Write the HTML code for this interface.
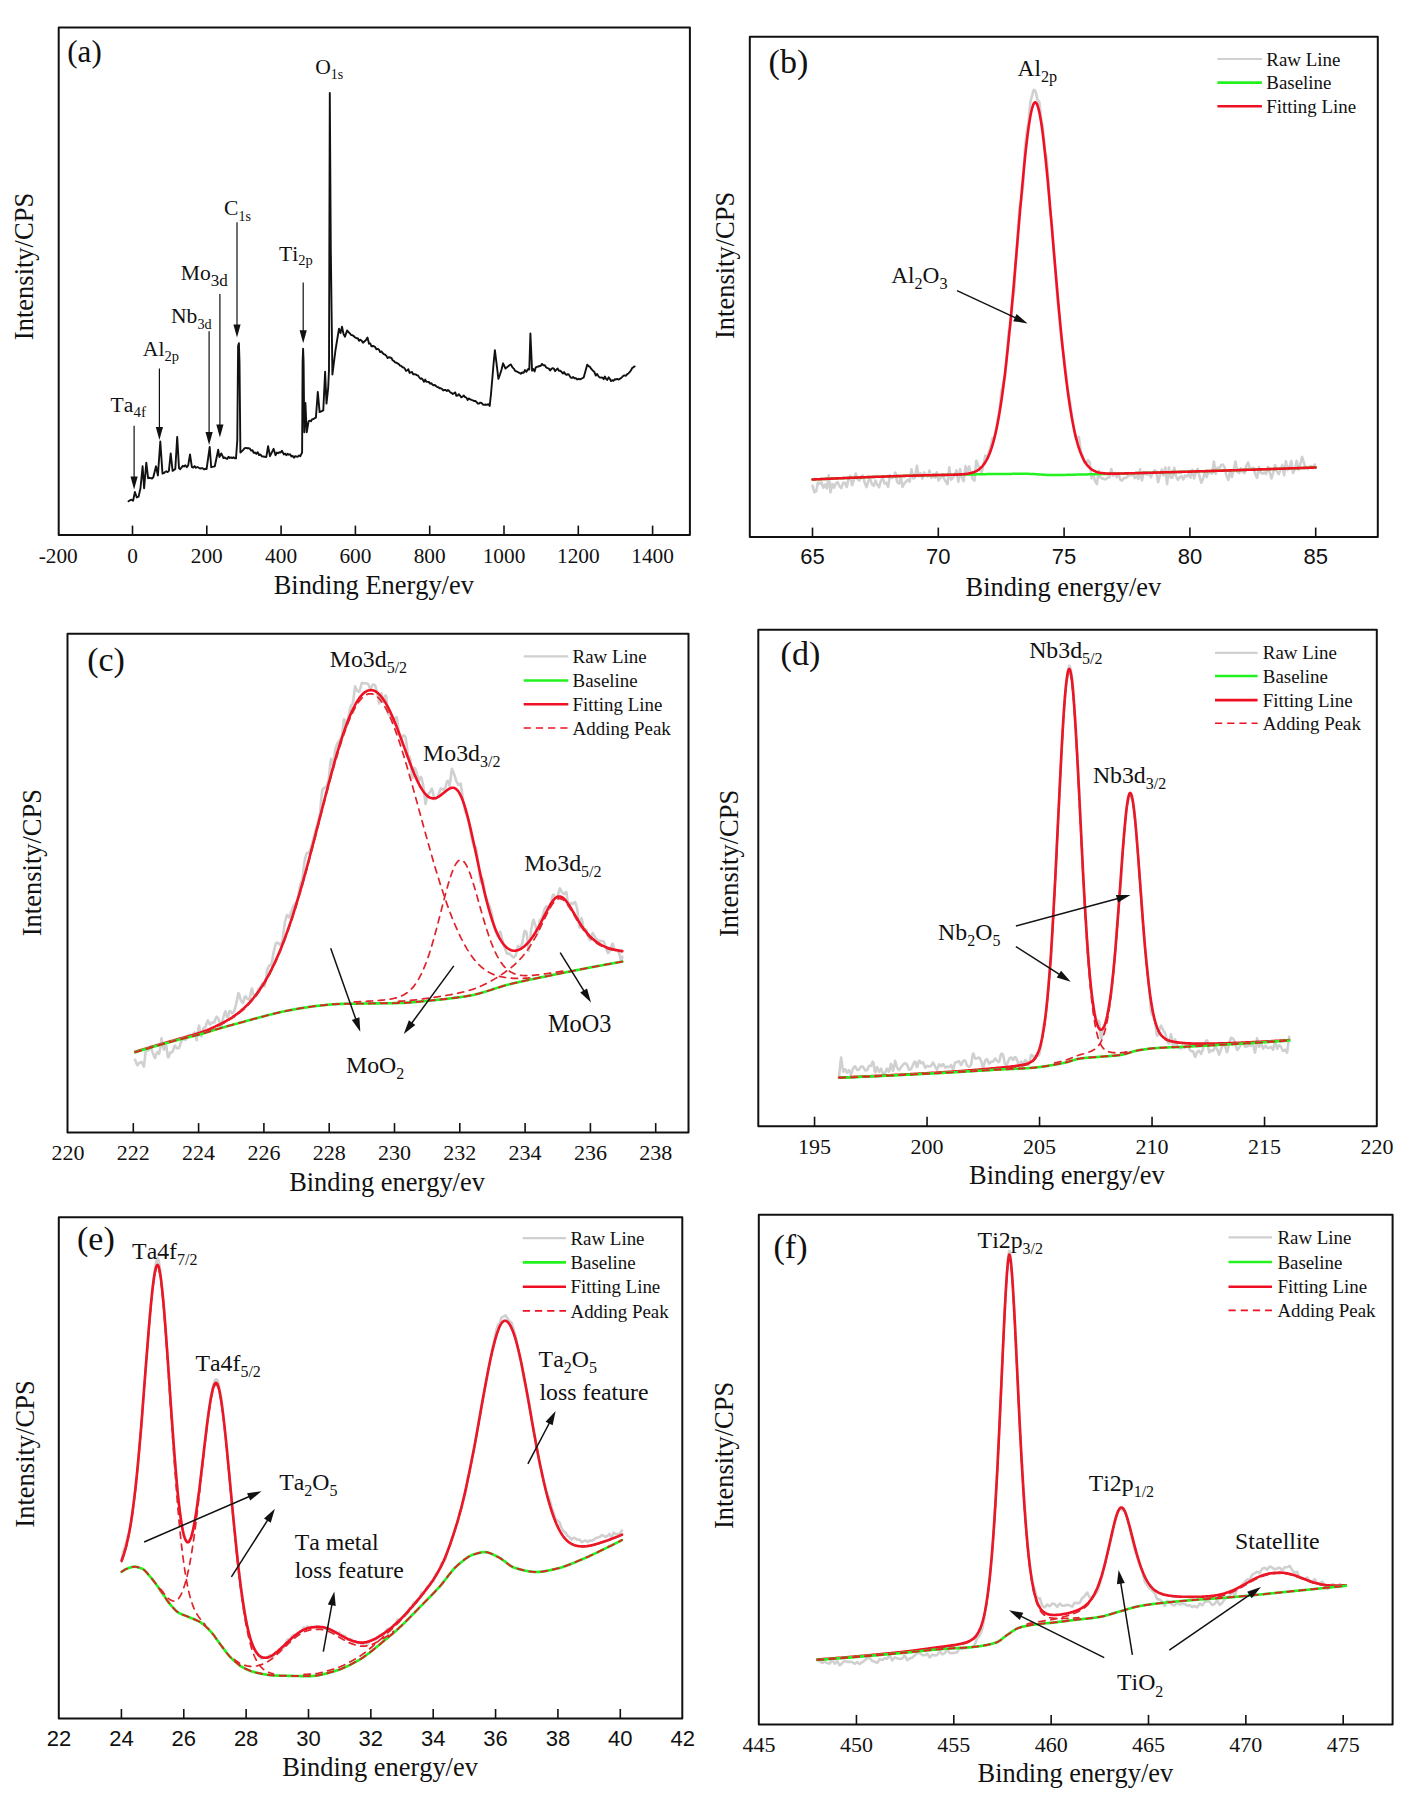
<!DOCTYPE html>
<html><head><meta charset="utf-8"><title>XPS spectra</title>
<style>html,body{margin:0;padding:0;background:#fff;}svg{display:block;} text{font-kerning:none;}</style>
</head><body>
<svg width="1415" height="1803" viewBox="0 0 1415 1803">
<rect width="1415" height="1803" fill="#fff"/>
<rect x="58.7" y="27.4" width="631.2" height="507.7" fill="none" stroke="#111" stroke-width="2.0" stroke-linejoin="round"/>
<line x1="132.5" y1="535.1" x2="132.5" y2="525.6" stroke="#111" stroke-width="1.6"/>
<line x1="206.8" y1="535.1" x2="206.8" y2="525.6" stroke="#111" stroke-width="1.6"/>
<line x1="281.1" y1="535.1" x2="281.1" y2="525.6" stroke="#111" stroke-width="1.6"/>
<line x1="355.4" y1="535.1" x2="355.4" y2="525.6" stroke="#111" stroke-width="1.6"/>
<line x1="429.7" y1="535.1" x2="429.7" y2="525.6" stroke="#111" stroke-width="1.6"/>
<line x1="504" y1="535.1" x2="504" y2="525.6" stroke="#111" stroke-width="1.6"/>
<line x1="578.3" y1="535.1" x2="578.3" y2="525.6" stroke="#111" stroke-width="1.6"/>
<line x1="652.6" y1="535.1" x2="652.6" y2="525.6" stroke="#111" stroke-width="1.6"/>
<text x="58.2" y="562.8" font-family="'Liberation Serif', serif" font-size="21.3" fill="#111" text-anchor="middle" >-200</text>
<text x="132.5" y="562.8" font-family="'Liberation Serif', serif" font-size="21.3" fill="#111" text-anchor="middle" >0</text>
<text x="206.8" y="562.8" font-family="'Liberation Serif', serif" font-size="21.3" fill="#111" text-anchor="middle" >200</text>
<text x="281.1" y="562.8" font-family="'Liberation Serif', serif" font-size="21.3" fill="#111" text-anchor="middle" >400</text>
<text x="355.4" y="562.8" font-family="'Liberation Serif', serif" font-size="21.3" fill="#111" text-anchor="middle" >600</text>
<text x="429.7" y="562.8" font-family="'Liberation Serif', serif" font-size="21.3" fill="#111" text-anchor="middle" >800</text>
<text x="504" y="562.8" font-family="'Liberation Serif', serif" font-size="21.3" fill="#111" text-anchor="middle" >1000</text>
<text x="578.3" y="562.8" font-family="'Liberation Serif', serif" font-size="21.3" fill="#111" text-anchor="middle" >1200</text>
<text x="652.6" y="562.8" font-family="'Liberation Serif', serif" font-size="21.3" fill="#111" text-anchor="middle" >1400</text>
<text x="0" y="0" font-family="'Liberation Serif', serif" font-size="26.5" fill="#111" text-anchor="middle" transform="translate(32.6,266.5) rotate(-90)">Intensity/CPS</text>
<text x="373.8" y="593.6" font-family="'Liberation Serif', serif" font-size="26.4" fill="#111" text-anchor="middle" >Binding Energy/ev</text>
<text x="67.3" y="62.1" font-family="'Liberation Serif', serif" font-size="31" fill="#111" text-anchor="start" >(a)</text>
<path d="M128.5,501.2 L130,500.3 L131.6,499.7 L133.1,500.8 L134.9,492 L136.8,497.5 L138.6,496.6 L140.5,488 L142.6,466.3 L144.1,488.3 L146.3,462.6 L148.1,478.2 L149.4,477.8 L150.7,478.1 L152,478.5 L153.3,477.3 L156,466.3 L157.9,475.5 L160.3,441.5 L162.5,473.6 L163.8,473.2 L165.1,472 L166.3,471.3 L167.6,472.1 L168.9,470.9 L170.7,453.4 L172.6,470.9 L175.3,469 L177.2,436.9 L179,468.1 L180.2,469.2 L181.5,467.5 L182.8,465.8 L184,466.5 L185.4,465.3 L186.8,467.2 L188.2,465.4 L190,454.4 L191.9,467.2 L193.2,467.6 L194.6,466.1 L195.9,467.8 L197.3,467 L198.7,467.7 L200,468.5 L201.3,468.2 L202.6,468.1 L204,469.3 L205.3,468.8 L206.6,469 L209.7,447 L211.2,467.2 L214.8,466.3 L218.2,449.8 L219.4,457.1 L221.3,453.4 L223.5,458 L224.8,457.5 L226,458.4 L227.2,458.9 L228.5,456.7 L229.8,458 L231,457.4 L232.2,458.1 L233.5,457.2 L234.8,458.4 L236,458.4 L237.3,440 L238.1,346 L238.9,343.2 L239.5,362 L240.4,452.5 L241.8,451.3 L243.2,449.9 L244.7,448.1 L246.1,447.9 L247.4,448.2 L248.6,448.2 L249.9,448.7 L251.2,450.7 L252.5,450.2 L253.7,452.9 L255,452.5 L256.3,453.9 L257.7,452.2 L259,455 L260.4,454.5 L261.7,456.2 L263.2,456.5 L264.8,456.8 L266.3,457.1 L268.1,446.1 L270,456.2 L273.6,448.8 L275.5,455.3 L276.8,452.6 L278.1,453.2 L279.3,452.3 L280.6,452.5 L281.9,450.7 L283.8,454.4 L285.1,453.5 L286.3,455.3 L287.6,453.8 L288.9,454.7 L290.1,454.3 L291.4,456.5 L292.7,455.9 L294,457.7 L295.2,456.2 L296.5,456.5 L297.8,456.7 L299,455.5 L300.3,456.2 L302.1,452.5 L302.6,362 L303.1,348.7 L303.6,362 L304.3,432.3 L305.4,402.9 L306.7,432.3 L308.6,421.3 L309.8,420.6 L311,421.3 L312.2,419.1 L313.5,419 L314.7,418.2 L315.9,417.6 L317.8,391.9 L319.6,412.1 L323.3,410.3 L325.1,371.7 L326.5,403.6 L328.2,387.6 L329,369.6 L329.8,93 L330.8,250 L332.4,374.6 L335.5,350 L339,328.7 L340.5,333 L342,326.7 L343.5,334 L345,336.7 L347,330.5 L350,333.7 L351.3,335.1 L352.6,335.2 L353.9,336.3 L355.2,337.5 L356.5,338.3 L357.8,338.3 L359.1,340.8 L360.4,339.7 L361.7,340.7 L363,342.7 L366,340 L367.5,337.5 L369,343.7 L370.2,343.4 L371.5,346.3 L372.7,346 L374,346.3 L375.2,347.1 L376.4,349.3 L377.7,348.9 L378.9,349.6 L380.2,352.1 L381.4,351.4 L382.6,353 L383.9,354.2 L385.1,354.7 L386.4,355.9 L387.6,358 L388.8,357.3 L390.1,357.5 L391.3,357.8 L392.6,360.2 L393.8,360.9 L395,362.3 L396.3,362.6 L397.5,363.4 L398.8,364.1 L400,365.6 L401.2,365.9 L402.4,367.2 L403.6,367.4 L404.8,368.6 L406,370.9 L407.2,370.4 L408.4,369.2 L409.6,372.9 L410.8,372.4 L412,372 L413.2,374.3 L414.4,374.3 L415.6,374.4 L416.8,375.1 L418,375.5 L419.2,377.2 L420.4,378.8 L421.6,378.3 L422.8,379.7 L424,381.7 L425.2,379.6 L426.4,381.7 L427.6,381.9 L428.8,381.9 L430,383.6 L431.2,383.2 L432.4,384.5 L433.6,385.4 L434.8,385 L436,386 L437.2,387.1 L438.4,387.2 L439.6,388.2 L440.8,388.3 L442,388.8 L443.2,390.5 L444.4,389.9 L445.6,390 L446.8,391 L448,390 L449.2,391 L450.4,392.5 L451.6,392.8 L452.8,394.1 L454,393.2 L455.2,392.4 L456.4,395.9 L457.6,395.6 L458.8,394.2 L460,395.6 L461.3,397.3 L462.6,396.6 L463.8,395.5 L465.1,397.2 L466.4,397.6 L467.7,400 L469,398.4 L470.3,399.4 L471.5,399.9 L472.8,400.3 L474.1,401.1 L475.3,400.8 L476.6,402.2 L477.8,403.5 L479.1,403.6 L480.3,402.6 L481.5,402.9 L482.8,404.5 L484,404.9 L485.4,404.5 L486.9,404.9 L488.3,404.2 L489.7,406 L491,393.8 L492.3,378.9 L493.6,363.3 L494.9,350.2 L498.4,378.9 L500,374.5 L501.5,369.7 L503.1,363.3 L505.5,368.6 L509.5,365.3 L510.9,364.4 L512.3,367.2 L513.7,368.6 L515.1,370.8 L516.5,371.4 L517.9,372.1 L519.4,372.8 L520.8,373.8 L522.2,372.5 L523.6,372.9 L525,370 L526.4,371.8 L527.9,369.2 L529.3,369.5 L530.4,333.5 L532.1,370.7 L533.3,369 L534.6,371.4 L535.8,367.3 L537,366.8 L538.3,366.5 L539.5,366 L540.8,365.7 L542,363.9 L543.4,365.3 L544.8,365.2 L546.2,367.5 L547.6,368.1 L548.9,368.6 L550.1,370.4 L551.4,369 L552.6,368.1 L553.9,368.6 L555.1,371.1 L556.4,369.6 L557.6,368.5 L558.9,370.7 L560.2,370.8 L561.5,371.8 L562.8,373.5 L564.1,372.1 L565.4,374.2 L566.6,374.9 L567.9,374.1 L569.2,375.1 L570.5,377.4 L571.8,378 L573.1,377 L574.5,378.2 L575.9,378.3 L577.3,379.5 L578.7,378.8 L580.1,379.4 L583.7,377.5 L587.2,364.7 L588.6,366.1 L590,366.9 L591.5,369.2 L592.9,370.7 L594.3,371.8 L595.7,375.5 L597.1,373.9 L598.5,376.4 L599.9,377.6 L601.3,377.5 L602.5,377.7 L603.7,379.2 L604.9,376.5 L606.1,378.9 L607.3,379.9 L608.6,377.3 L609.8,378.8 L611,381.1 L612.2,380.2 L613.4,380.8 L614.7,379.3 L616,379.5 L617.2,378.9 L618.5,379.6 L619.8,378.9 L621.1,378 L622.3,376.9 L623.5,375.7 L624.7,375.4 L626,375.8 L627.2,374.1 L628.4,373.5 L629.6,372.1 L630.9,370.5 L632.1,368.1 L633.4,367.2 L634.6,366.4" fill="none" stroke="#111" stroke-width="1.9" stroke-linejoin="round" stroke-linecap="round" />
<text x="315.2" y="73.5" font-family="'Liberation Serif', serif" fill="#111" text-anchor="start"><tspan font-size="21.6" dy="0">O</tspan><tspan font-size="14" dy="5.8">1s</tspan></text>
<text x="224" y="215" font-family="'Liberation Serif', serif" fill="#111" text-anchor="start"><tspan font-size="21.6" dy="0">C</tspan><tspan font-size="14" dy="5.7">1s</tspan></text>
<text x="279" y="260.8" font-family="'Liberation Serif', serif" fill="#111" text-anchor="start"><tspan font-size="21.6" dy="0">Ti</tspan><tspan font-size="14.5" dy="4.6">2p</tspan></text>
<text x="180.8" y="279.5" font-family="'Liberation Serif', serif" fill="#111" text-anchor="start"><tspan font-size="21.6" dy="0">Mo</tspan><tspan font-size="17" dy="6.7">3d</tspan></text>
<text x="171" y="322.9" font-family="'Liberation Serif', serif" fill="#111" text-anchor="start"><tspan font-size="21.6" dy="0">Nb</tspan><tspan font-size="14.2" dy="5.8">3d</tspan></text>
<text x="142.8" y="356.2" font-family="'Liberation Serif', serif" fill="#111" text-anchor="start"><tspan font-size="21.6" dy="0">Al</tspan><tspan font-size="14.5" dy="5.1">2p</tspan></text>
<text x="110.6" y="412.2" font-family="'Liberation Serif', serif" fill="#111" text-anchor="start"><tspan font-size="21.6" dy="0">Ta</tspan><tspan font-size="15" dy="5">4f</tspan></text>
<line x1="134.1" y1="425.7" x2="134.1" y2="478.6" stroke="#111" stroke-width="1.2"/>
<path d="M134.1,489.6 L130.5,476.6 L137.7,476.6 Z" fill="#111"/>
<line x1="159.4" y1="368.6" x2="159.4" y2="428.9" stroke="#111" stroke-width="1.2"/>
<path d="M159.4,439.9 L155.8,426.9 L163,426.9 Z" fill="#111"/>
<line x1="209.1" y1="331.3" x2="209.1" y2="433.9" stroke="#111" stroke-width="1.2"/>
<path d="M209.1,444.9 L205.5,431.9 L212.7,431.9 Z" fill="#111"/>
<line x1="219.9" y1="294" x2="219.9" y2="426.6" stroke="#111" stroke-width="1.2"/>
<path d="M219.9,437.6 L216.3,424.6 L223.5,424.6 Z" fill="#111"/>
<line x1="237" y1="222.3" x2="237" y2="326.4" stroke="#111" stroke-width="1.2"/>
<path d="M237,337.4 L233.4,324.4 L240.6,324.4 Z" fill="#111"/>
<line x1="303.2" y1="282.6" x2="303.2" y2="332.2" stroke="#111" stroke-width="1.2"/>
<path d="M303.2,343.2 L299.6,330.2 L306.8,330.2 Z" fill="#111"/>
<rect x="749.8" y="36.8" width="628" height="500.3" fill="none" stroke="#111" stroke-width="2.0" stroke-linejoin="round"/>
<line x1="812.5" y1="537.1" x2="812.5" y2="527.6" stroke="#111" stroke-width="1.6"/>
<line x1="938.3" y1="537.1" x2="938.3" y2="527.6" stroke="#111" stroke-width="1.6"/>
<line x1="1064.1" y1="537.1" x2="1064.1" y2="527.6" stroke="#111" stroke-width="1.6"/>
<line x1="1189.9" y1="537.1" x2="1189.9" y2="527.6" stroke="#111" stroke-width="1.6"/>
<line x1="1315.7" y1="537.1" x2="1315.7" y2="527.6" stroke="#111" stroke-width="1.6"/>
<text x="812.5" y="564.3" font-family="'Liberation Sans', sans-serif" font-size="22" fill="#111" text-anchor="middle" >65</text>
<text x="938.3" y="564.3" font-family="'Liberation Sans', sans-serif" font-size="22" fill="#111" text-anchor="middle" >70</text>
<text x="1064.1" y="564.3" font-family="'Liberation Sans', sans-serif" font-size="22" fill="#111" text-anchor="middle" >75</text>
<text x="1189.9" y="564.3" font-family="'Liberation Sans', sans-serif" font-size="22" fill="#111" text-anchor="middle" >80</text>
<text x="1315.7" y="564.3" font-family="'Liberation Sans', sans-serif" font-size="22" fill="#111" text-anchor="middle" >85</text>
<text x="0" y="0" font-family="'Liberation Serif', serif" font-size="26.5" fill="#111" text-anchor="middle" transform="translate(734.2,265.4) rotate(-90)">Intensity/CPS</text>
<text x="1063.4" y="595.6" font-family="'Liberation Serif', serif" font-size="26.4" fill="#111" text-anchor="middle" >Binding energy/ev</text>
<text x="768.6" y="72.6" font-family="'Liberation Serif', serif" font-size="34" fill="#111" text-anchor="start" >(b)</text>
<path d="M812.5,485.7 L813.4,488.9 L814.3,492.2 L815.2,491.8 L816.1,491.4 L817,487 L817.9,482.6 L818.8,483.1 L819.7,483.6 L820.6,483 L821.5,482.4 L822.4,485 L823.3,487.7 L824.2,486.1 L825.1,484.5 L826,486.5 L826.9,488.4 L827.8,481.9 L828.7,475.3 L829.6,483.8 L830.5,492.3 L831.4,488.1 L832.3,483.9 L833.2,485.8 L834.1,487.7 L835,485.6 L835.9,483.5 L836.8,482.8 L837.7,482.2 L838.6,484.2 L839.5,486.3 L840.4,487.1 L841.3,488 L842.2,485.4 L843.1,482.8 L844,482.8 L844.9,482.9 L845.8,485 L846.7,487 L847.6,483.1 L848.5,479.1 L849.4,477.5 L850.3,475.8 L851.2,480.6 L852.1,485.3 L853,482.6 L853.9,479.9 L854.8,476.7 L855.7,473.5 L856.6,476.2 L857.5,479 L858.4,479.8 L859.3,480.6 L860.2,478.7 L861.1,476.9 L862,476.1 L862.9,475.3 L863.8,479.1 L864.7,482.8 L865.6,484.9 L866.5,487.1 L867.4,484.2 L868.3,481.3 L869.2,480 L870.1,478.7 L871,481.5 L871.9,484.2 L872.8,485 L873.7,485.8 L874.6,483.2 L875.5,480.6 L876.4,482.7 L877.3,484.8 L878.2,486 L879.1,487.2 L880,484 L880.9,480.8 L881.8,479.3 L882.7,477.7 L883.6,480.6 L884.5,483.5 L885.4,483.2 L886.3,482.9 L887.2,485 L888.1,487 L889,481 L889.9,475 L890.8,476.6 L891.7,478.1 L892.6,477.6 L893.5,477.1 L894.4,474.8 L895.3,472.6 L896.2,477.2 L897.1,481.8 L898,482.8 L898.9,483.7 L899.8,480.5 L900.7,477 L901.6,482 L902.5,486.9 L903.4,485.1 L904.3,483.3 L905.2,482.4 L906.1,481.5 L907,480.6 L907.9,479.6 L908.8,480.6 L909.7,481.6 L910.6,475.5 L911.5,469.4 L912.4,473.9 L913.3,478.4 L914.2,478 L915.1,477.6 L916,471.7 L916.9,465.8 L917.8,471.1 L918.7,476.4 L919.6,474.9 L920.5,473.4 L921.4,476 L922.3,478.6 L923.2,475.6 L924.1,472.6 L925,473.6 L925.9,474.7 L926.8,475.6 L927.7,476.6 L928.6,473.5 L929.5,470.5 L930.4,474.2 L931.3,477.9 L932.2,476.2 L933.1,474.4 L934,475.9 L934.9,477.5 L935.8,474.9 L936.7,472.4 L937.6,476.5 L938.5,480.5 L939.4,479.3 L940.3,478.1 L941.2,476.2 L942.1,474.3 L943,476.3 L943.9,478.4 L944.8,479.9 L945.7,481.5 L946.6,482.9 L947.5,484.2 L948.4,475.8 L949.3,467.4 L950.2,473.6 L951.1,479.8 L952,478.7 L952.9,477.7 L953.8,476.3 L954.7,474.9 L955.6,472.7 L956.5,470.4 L957.4,476.1 L958.3,481.7 L959.2,475.4 L960.1,469.1 L961,473.5 L961.9,477.8 L962.8,479.5 L963.7,481.1 L964.6,473.6 L965.5,466.1 L966.4,469.1 L967.3,472.1 L968.2,469.3 L969.1,466.4 L970,470 L970.9,473.5 L971.8,476.3 L972.7,479.1 L973.6,479.9 L974.5,480.7 L975.4,470.6 L976.3,460.6 L977.2,462.9 L978.1,465.2 L979,467.6 L979.9,470 L980.8,471.2 L981.7,472.4 L982.6,468.3 L983.5,464.2 L984.4,459.9 L985.3,455.5 L986.2,456.6 L987.1,457.5 L988,454.9 L988.9,452.1 L989.8,449.4 L990.7,446.5 L991.6,442.5 L992.5,438.3 L993.4,438 L994.3,437.3 L995.2,433.5 L996.1,429.3 L997,424 L997.9,418.4 L998.8,413.1 L999.7,407.5 L1000.6,399.4 L1001.5,390.9 L1002.4,386.8 L1003.3,382.2 L1004.2,379.6 L1005.1,376.6 L1006,365.5 L1006.9,354.1 L1007.8,342.7 L1008.7,331 L1009.6,329 L1010.5,326.7 L1011.4,315.2 L1012.3,303.5 L1013.2,297.5 L1014.1,291.3 L1015,275.9 L1015.9,259.7 L1016.8,247.2 L1017.7,234.7 L1018.6,221.1 L1019.5,207.5 L1020.4,203.5 L1021.3,199.6 L1022.2,192.2 L1023.1,185.1 L1024,166.7 L1024.9,148.7 L1025.8,140 L1026.7,131.7 L1027.6,126.8 L1028.5,122.4 L1029.4,112.1 L1030.3,102.5 L1031.2,98.6 L1032.1,95.6 L1033,91.8 L1033.9,89.9 L1034.8,90.4 L1035.7,92 L1036.6,95.6 L1037.5,100.1 L1038.4,100.6 L1039.3,102 L1040.2,109.4 L1041.1,118.5 L1042,122.7 L1042.9,127.6 L1043.8,138.4 L1044.7,149.8 L1045.6,153.6 L1046.5,157.1 L1047.4,168.1 L1048.3,179.6 L1049.2,195.2 L1050.1,211.1 L1051,218 L1051.9,225.1 L1052.8,238.6 L1053.7,252.2 L1054.6,262.7 L1055.5,273.2 L1056.4,285.6 L1057.3,297.9 L1058.2,306.7 L1059.1,315.4 L1060,325.5 L1060.9,335.5 L1061.8,341.7 L1062.7,347.7 L1063.6,354.7 L1064.5,361.4 L1065.4,369.1 L1066.3,376.4 L1067.2,384.1 L1068.1,391.4 L1069,396.1 L1069.9,400.5 L1070.8,407.6 L1071.7,414.3 L1072.6,420.4 L1073.5,426.2 L1074.4,431.3 L1075.3,436 L1076.2,437.9 L1077.1,439.5 L1078,438.3 L1078.9,436.9 L1079.8,443.8 L1080.7,450.5 L1081.6,453.1 L1082.5,455.5 L1083.4,459.1 L1084.3,462.5 L1085.2,462.6 L1086.1,463.1 L1087,461.7 L1087.9,460.1 L1088.8,461.3 L1089.7,462.4 L1090.6,470.4 L1091.5,478.4 L1092.4,476.3 L1093.3,474.1 L1094.2,477.7 L1095.1,481.2 L1096,482.7 L1096.9,484.2 L1097.8,477.5 L1098.7,470.8 L1099.6,474.4 L1100.5,477.8 L1101.4,478.1 L1102.3,478.4 L1103.2,478.8 L1104.1,479.1 L1105,479.2 L1105.9,479.2 L1106.8,478.4 L1107.7,477.6 L1108.6,477.5 L1109.5,477.5 L1110.4,473.3 L1111.3,469.1 L1112.2,472.5 L1113.1,475.8 L1114,474.3 L1114.9,472.9 L1115.8,475.1 L1116.7,477.2 L1117.6,475.7 L1118.5,474.2 L1119.4,476.9 L1120.3,479.6 L1121.2,480.1 L1122.1,480.6 L1123,479.3 L1123.9,478 L1124.8,478 L1125.7,478 L1126.6,477.4 L1127.5,476.8 L1128.4,475.5 L1129.3,474.1 L1130.2,474.8 L1131.1,475.4 L1132,474.6 L1132.9,473.7 L1133.8,475.9 L1134.7,478.1 L1135.6,477.2 L1136.5,476.2 L1137.4,477.6 L1138.3,479 L1139.2,474.2 L1140.1,469.4 L1141,474.9 L1141.9,480.4 L1142.8,476.3 L1143.7,472.1 L1144.6,472.2 L1145.5,472.2 L1146.4,473.5 L1147.3,474.8 L1148.2,473.9 L1149.1,473 L1150,475.1 L1150.9,477.2 L1151.8,475 L1152.7,472.8 L1153.6,471.5 L1154.5,470.3 L1155.4,470.8 L1156.3,471.3 L1157.2,476.7 L1158.1,482.1 L1159,478.9 L1159.9,475.7 L1160.8,472.6 L1161.7,469.6 L1162.6,472.5 L1163.5,475.4 L1164.4,471.5 L1165.3,467.5 L1166.2,475.9 L1167.1,484.2 L1168,475.9 L1168.9,467.6 L1169.8,472.6 L1170.7,477.6 L1171.6,477.7 L1172.5,477.8 L1173.4,472.8 L1174.3,467.8 L1175.2,472.2 L1176.1,476.5 L1177,478.2 L1177.9,479.9 L1178.8,478.6 L1179.7,477.2 L1180.6,476.7 L1181.5,476.2 L1182.4,477.8 L1183.3,479.5 L1184.2,477.5 L1185.1,475.6 L1186,476 L1186.9,476.4 L1187.8,475.2 L1188.7,474 L1189.6,475.9 L1190.5,477.7 L1191.4,473.8 L1192.3,469.8 L1193.2,474.1 L1194.1,478.4 L1195,475.2 L1195.9,471.9 L1196.8,470.4 L1197.7,468.9 L1198.6,472.5 L1199.5,476.1 L1200.4,479.4 L1201.3,482.7 L1202.2,480.7 L1203.1,478.8 L1204,475.1 L1204.9,471.3 L1205.8,474.2 L1206.7,477.2 L1207.6,474.2 L1208.5,471.3 L1209.4,472 L1210.3,472.8 L1211.2,473.2 L1212.1,473.7 L1213,467.6 L1213.9,461.5 L1214.8,467.7 L1215.7,473.8 L1216.6,470.7 L1217.5,467.6 L1218.4,468.3 L1219.3,469.1 L1220.2,467 L1221.1,465 L1222,464.8 L1222.9,464.6 L1223.8,466 L1224.7,467.3 L1225.6,471.7 L1226.5,476 L1227.4,478 L1228.3,480.1 L1229.2,475.8 L1230.1,471.4 L1231,474.2 L1231.9,476.9 L1232.8,473.4 L1233.7,469.9 L1234.6,465.7 L1235.5,461.5 L1236.4,466.6 L1237.3,471.7 L1238.2,472.3 L1239.1,473 L1240,470.7 L1240.9,468.4 L1241.8,470.2 L1242.7,471.9 L1243.6,472.5 L1244.5,473.1 L1245.4,469.4 L1246.3,465.8 L1247.2,464.1 L1248.1,462.5 L1249,465.6 L1249.9,468.6 L1250.8,468.6 L1251.7,468.6 L1252.6,468.2 L1253.5,467.8 L1254.4,471.1 L1255.3,474.3 L1256.2,476.1 L1257.1,477.9 L1258,472.5 L1258.9,467.1 L1259.8,469.8 L1260.7,472.6 L1261.6,473.1 L1262.5,473.7 L1263.4,473 L1264.3,472.4 L1265.2,473.2 L1266.1,474 L1267,470.3 L1267.9,466.7 L1268.8,469.4 L1269.7,472.2 L1270.6,475.4 L1271.5,478.5 L1272.4,475.4 L1273.3,472.3 L1274.2,468.7 L1275.1,465.1 L1276,468.1 L1276.9,471.1 L1277.8,472.7 L1278.7,474.2 L1279.6,471.9 L1280.5,469.7 L1281.4,467.3 L1282.3,464.9 L1283.2,470.1 L1284.1,475.3 L1285,468.3 L1285.9,461.2 L1286.8,465.5 L1287.7,469.9 L1288.6,468.5 L1289.5,467.1 L1290.4,464.1 L1291.3,461.1 L1292.2,467.1 L1293.1,473.1 L1294,470.9 L1294.9,468.6 L1295.8,464.8 L1296.7,460.9 L1297.6,465.3 L1298.5,469.7 L1299.4,467 L1300.3,464.4 L1301.2,460.6 L1302.1,456.9 L1303,459.9 L1303.9,462.8 L1304.8,465.2 L1305.7,467.5 L1306.6,468.4 L1307.5,469.2 L1308.4,468 L1309.3,466.8 L1310.2,466.4 L1311.1,466 L1312,467 L1312.9,468 L1313.8,466.3 L1314.7,464.5 L1315.6,467.9" fill="none" stroke="#d0d0d0" stroke-width="2.6" stroke-linejoin="round" stroke-linecap="round" />
<path d="M812.5,479.5 L813.4,479.5 L814.3,479.4 L815.2,479.4 L816.1,479.3 L817,479.3 L817.9,479.2 L818.8,479.2 L819.7,479.2 L820.6,479.1 L821.5,479.1 L822.4,479 L823.3,479 L824.2,479 L825.1,478.9 L826,478.9 L826.9,478.8 L827.8,478.8 L828.7,478.7 L829.6,478.7 L830.5,478.7 L831.4,478.6 L832.3,478.6 L833.2,478.5 L834.1,478.5 L835,478.5 L835.9,478.4 L836.8,478.4 L837.7,478.4 L838.6,478.3 L839.5,478.3 L840.4,478.2 L841.3,478.2 L842.2,478.2 L843.1,478.1 L844,478.1 L844.9,478 L845.8,478 L846.7,478 L847.6,477.9 L848.5,477.9 L849.4,477.9 L850.3,477.8 L851.2,477.8 L852.1,477.7 L853,477.7 L853.9,477.7 L854.8,477.6 L855.7,477.6 L856.6,477.6 L857.5,477.5 L858.4,477.5 L859.3,477.5 L860.2,477.4 L861.1,477.4 L862,477.4 L862.9,477.3 L863.8,477.3 L864.7,477.2 L865.6,477.2 L866.5,477.2 L867.4,477.1 L868.3,477.1 L869.2,477.1 L870.1,477 L871,477 L871.9,477 L872.8,476.9 L873.7,476.9 L874.6,476.9 L875.5,476.8 L876.4,476.8 L877.3,476.8 L878.2,476.8 L879.1,476.7 L880,476.7 L880.9,476.7 L881.8,476.6 L882.7,476.6 L883.6,476.6 L884.5,476.5 L885.4,476.5 L886.3,476.5 L887.2,476.4 L888.1,476.4 L889,476.4 L889.9,476.4 L890.8,476.3 L891.7,476.3 L892.6,476.3 L893.5,476.2 L894.4,476.2 L895.3,476.2 L896.2,476.1 L897.1,476.1 L898,476.1 L898.9,476.1 L899.8,476 L900.7,476 L901.6,476 L902.5,476 L903.4,475.9 L904.3,475.9 L905.2,475.9 L906.1,475.8 L907,475.8 L907.9,475.8 L908.8,475.8 L909.7,475.7 L910.6,475.7 L911.5,475.7 L912.4,475.7 L913.3,475.6 L914.2,475.6 L915.1,475.6 L916,475.6 L916.9,475.5 L917.8,475.5 L918.7,475.5 L919.6,475.5 L920.5,475.5 L921.4,475.4 L922.3,475.4 L923.2,475.4 L924.1,475.4 L925,475.3 L925.9,475.3 L926.8,475.3 L927.7,475.3 L928.6,475.3 L929.5,475.2 L930.4,475.2 L931.3,475.2 L932.2,475.2 L933.1,475.1 L934,475.1 L934.9,475.1 L935.8,475.1 L936.7,475.1 L937.6,475 L938.5,475 L939.4,475 L940.3,475 L941.2,475 L942.1,475 L943,474.9 L943.9,474.9 L944.8,474.9 L945.7,474.9 L946.6,474.9 L947.5,474.8 L948.4,474.8 L949.3,474.8 L950.2,474.8 L951.1,474.8 L952,474.8 L952.9,474.7 L953.8,474.7 L954.7,474.7 L955.6,474.7 L956.5,474.7 L957.4,474.7 L958.3,474.6 L959.2,474.6 L960.1,474.6 L961,474.6 L961.9,474.6 L962.8,474.6 L963.7,474.5 L964.6,474.5 L965.5,474.5 L966.4,474.5 L967.3,474.5 L968.2,474.5 L969.1,474.4 L970,474.4 L970.9,474.4 L971.8,474.4 L972.7,474.4 L973.6,474.4 L974.5,474.4 L975.4,474.3 L976.3,474.3 L977.2,474.3 L978.1,474.3 L979,474.3 L979.9,474.3 L980.8,474.2 L981.7,474.2 L982.6,474.2 L983.5,474.2 L984.4,474.2 L985.3,474.2 L986.2,474.2 L987.1,474.1 L988,474.1 L988.9,474.1 L989.8,474.1 L990.7,474.1 L991.6,474.1 L992.5,474.1 L993.4,474 L994.3,474 L995.2,474 L996.1,474 L997,474 L997.9,474 L998.8,474 L999.7,474 L1000.6,474 L1001.5,473.9 L1002.4,473.9 L1003.3,473.9 L1004.2,473.9 L1005.1,473.9 L1006,473.9 L1006.9,473.9 L1007.8,473.9 L1008.7,473.9 L1009.6,473.9 L1010.5,473.9 L1011.4,473.9 L1012.3,473.8 L1013.2,473.8 L1014.1,473.8 L1015,473.8 L1015.9,473.8 L1016.8,473.8 L1017.7,473.8 L1018.6,473.8 L1019.5,473.8 L1020.4,473.8 L1021.3,473.8 L1022.2,473.8 L1023.1,473.8 L1024,473.8 L1024.9,473.8 L1025.8,473.8 L1026.7,473.8 L1027.6,473.8 L1028.5,473.8 L1029.4,473.9 L1030.3,473.9 L1031.2,473.9 L1032.1,474 L1033,474 L1033.9,474.1 L1034.8,474.1 L1035.7,474.2 L1036.6,474.2 L1037.5,474.3 L1038.4,474.4 L1039.3,474.4 L1040.2,474.5 L1041.1,474.5 L1042,474.6 L1042.9,474.7 L1043.8,474.7 L1044.7,474.8 L1045.6,474.8 L1046.5,474.9 L1047.4,474.9 L1048.3,474.9 L1049.2,475 L1050.1,475 L1051,475 L1051.9,475 L1052.8,475 L1053.7,475 L1054.6,475 L1055.5,475 L1056.4,475 L1057.3,475 L1058.2,475 L1059.1,475 L1060,474.9 L1060.9,474.9 L1061.8,474.9 L1062.7,474.9 L1063.6,474.9 L1064.5,474.9 L1065.4,474.9 L1066.3,474.8 L1067.2,474.8 L1068.1,474.8 L1069,474.8 L1069.9,474.8 L1070.8,474.8 L1071.7,474.7 L1072.6,474.7 L1073.5,474.7 L1074.4,474.7 L1075.3,474.7 L1076.2,474.6 L1077.1,474.6 L1078,474.6 L1078.9,474.6 L1079.8,474.5 L1080.7,474.5 L1081.6,474.5 L1082.5,474.5 L1083.4,474.5 L1084.3,474.4 L1085.2,474.4 L1086.1,474.4 L1087,474.4 L1087.9,474.3 L1088.8,474.3 L1089.7,474.3 L1090.6,474.3 L1091.5,474.3 L1092.4,474.2 L1093.3,474.2 L1094.2,474.2 L1095.1,474.2 L1096,474.2 L1096.9,474.1 L1097.8,474.1 L1098.7,474.1 L1099.6,474.1 L1100.5,474.1 L1101.4,474 L1102.3,474 L1103.2,474 L1104.1,474 L1105,474 L1105.9,473.9 L1106.8,473.9 L1107.7,473.9 L1108.6,473.9 L1109.5,473.8 L1110.4,473.8 L1111.3,473.8 L1112.2,473.8 L1113.1,473.8 L1114,473.7 L1114.9,473.7 L1115.8,473.7 L1116.7,473.7 L1117.6,473.6 L1118.5,473.6 L1119.4,473.6 L1120.3,473.6 L1121.2,473.5 L1122.1,473.5 L1123,473.5 L1123.9,473.5 L1124.8,473.4 L1125.7,473.4 L1126.6,473.4 L1127.5,473.4 L1128.4,473.3 L1129.3,473.3 L1130.2,473.3 L1131.1,473.3 L1132,473.2 L1132.9,473.2 L1133.8,473.2 L1134.7,473.2 L1135.6,473.1 L1136.5,473.1 L1137.4,473.1 L1138.3,473.1 L1139.2,473 L1140.1,473 L1141,473 L1141.9,473 L1142.8,472.9 L1143.7,472.9 L1144.6,472.9 L1145.5,472.9 L1146.4,472.8 L1147.3,472.8 L1148.2,472.8 L1149.1,472.8 L1150,472.7 L1150.9,472.7 L1151.8,472.7 L1152.7,472.7 L1153.6,472.6 L1154.5,472.6 L1155.4,472.6 L1156.3,472.6 L1157.2,472.5 L1158.1,472.5 L1159,472.5 L1159.9,472.5 L1160.8,472.4 L1161.7,472.4 L1162.6,472.4 L1163.5,472.4 L1164.4,472.3 L1165.3,472.3 L1166.2,472.3 L1167.1,472.3 L1168,472.2 L1168.9,472.2 L1169.8,472.2 L1170.7,472.2 L1171.6,472.1 L1172.5,472.1 L1173.4,472.1 L1174.3,472.1 L1175.2,472 L1176.1,472 L1177,472 L1177.9,472 L1178.8,471.9 L1179.7,471.9 L1180.6,471.9 L1181.5,471.9 L1182.4,471.8 L1183.3,471.8 L1184.2,471.8 L1185.1,471.7 L1186,471.7 L1186.9,471.7 L1187.8,471.7 L1188.7,471.6 L1189.6,471.6 L1190.5,471.6 L1191.4,471.6 L1192.3,471.5 L1193.2,471.5 L1194.1,471.5 L1195,471.5 L1195.9,471.4 L1196.8,471.4 L1197.7,471.4 L1198.6,471.3 L1199.5,471.3 L1200.4,471.3 L1201.3,471.3 L1202.2,471.2 L1203.1,471.2 L1204,471.2 L1204.9,471.2 L1205.8,471.1 L1206.7,471.1 L1207.6,471.1 L1208.5,471 L1209.4,471 L1210.3,471 L1211.2,471 L1212.1,470.9 L1213,470.9 L1213.9,470.9 L1214.8,470.9 L1215.7,470.8 L1216.6,470.8 L1217.5,470.8 L1218.4,470.7 L1219.3,470.7 L1220.2,470.7 L1221.1,470.7 L1222,470.6 L1222.9,470.6 L1223.8,470.6 L1224.7,470.5 L1225.6,470.5 L1226.5,470.5 L1227.4,470.5 L1228.3,470.4 L1229.2,470.4 L1230.1,470.4 L1231,470.4 L1231.9,470.3 L1232.8,470.3 L1233.7,470.3 L1234.6,470.2 L1235.5,470.2 L1236.4,470.2 L1237.3,470.2 L1238.2,470.1 L1239.1,470.1 L1240,470.1 L1240.9,470 L1241.8,470 L1242.7,470 L1243.6,469.9 L1244.5,469.9 L1245.4,469.9 L1246.3,469.9 L1247.2,469.8 L1248.1,469.8 L1249,469.8 L1249.9,469.7 L1250.8,469.7 L1251.7,469.7 L1252.6,469.7 L1253.5,469.6 L1254.4,469.6 L1255.3,469.6 L1256.2,469.5 L1257.1,469.5 L1258,469.5 L1258.9,469.4 L1259.8,469.4 L1260.7,469.4 L1261.6,469.4 L1262.5,469.3 L1263.4,469.3 L1264.3,469.3 L1265.2,469.2 L1266.1,469.2 L1267,469.2 L1267.9,469.1 L1268.8,469.1 L1269.7,469.1 L1270.6,469.1 L1271.5,469 L1272.4,469 L1273.3,469 L1274.2,468.9 L1275.1,468.9 L1276,468.9 L1276.9,468.8 L1277.8,468.8 L1278.7,468.8 L1279.6,468.8 L1280.5,468.7 L1281.4,468.7 L1282.3,468.7 L1283.2,468.6 L1284.1,468.6 L1285,468.6 L1285.9,468.5 L1286.8,468.5 L1287.7,468.5 L1288.6,468.4 L1289.5,468.4 L1290.4,468.4 L1291.3,468.3 L1292.2,468.3 L1293.1,468.3 L1294,468.3 L1294.9,468.2 L1295.8,468.2 L1296.7,468.2 L1297.6,468.1 L1298.5,468.1 L1299.4,468.1 L1300.3,468 L1301.2,468 L1302.1,468 L1303,467.9 L1303.9,467.9 L1304.8,467.9 L1305.7,467.8 L1306.6,467.8 L1307.5,467.8 L1308.4,467.7 L1309.3,467.7 L1310.2,467.7 L1311.1,467.6 L1312,467.6 L1312.9,467.6 L1313.8,467.5 L1314.7,467.5 L1315.6,467.5" fill="none" stroke="#22f21e" stroke-width="2.5" stroke-linejoin="round" stroke-linecap="round" />
<path d="M812.5,479.5 L813.4,479.5 L814.3,479.4 L815.2,479.4 L816.1,479.3 L817,479.3 L817.9,479.2 L818.8,479.2 L819.7,479.2 L820.6,479.1 L821.5,479.1 L822.4,479 L823.3,479 L824.2,479 L825.1,478.9 L826,478.9 L826.9,478.8 L827.8,478.8 L828.7,478.7 L829.6,478.7 L830.5,478.7 L831.4,478.6 L832.3,478.6 L833.2,478.5 L834.1,478.5 L835,478.5 L835.9,478.4 L836.8,478.4 L837.7,478.4 L838.6,478.3 L839.5,478.3 L840.4,478.2 L841.3,478.2 L842.2,478.2 L843.1,478.1 L844,478.1 L844.9,478 L845.8,478 L846.7,478 L847.6,477.9 L848.5,477.9 L849.4,477.9 L850.3,477.8 L851.2,477.8 L852.1,477.7 L853,477.7 L853.9,477.7 L854.8,477.6 L855.7,477.6 L856.6,477.6 L857.5,477.5 L858.4,477.5 L859.3,477.5 L860.2,477.4 L861.1,477.4 L862,477.4 L862.9,477.3 L863.8,477.3 L864.7,477.2 L865.6,477.2 L866.5,477.2 L867.4,477.1 L868.3,477.1 L869.2,477.1 L870.1,477 L871,477 L871.9,477 L872.8,476.9 L873.7,476.9 L874.6,476.9 L875.5,476.8 L876.4,476.8 L877.3,476.8 L878.2,476.8 L879.1,476.7 L880,476.7 L880.9,476.7 L881.8,476.6 L882.7,476.6 L883.6,476.6 L884.5,476.5 L885.4,476.5 L886.3,476.5 L887.2,476.4 L888.1,476.4 L889,476.4 L889.9,476.4 L890.8,476.3 L891.7,476.3 L892.6,476.3 L893.5,476.2 L894.4,476.2 L895.3,476.2 L896.2,476.1 L897.1,476.1 L898,476.1 L898.9,476.1 L899.8,476 L900.7,476 L901.6,476 L902.5,476 L903.4,475.9 L904.3,475.9 L905.2,475.9 L906.1,475.8 L907,475.8 L907.9,475.8 L908.8,475.8 L909.7,475.7 L910.6,475.7 L911.5,475.7 L912.4,475.7 L913.3,475.6 L914.2,475.6 L915.1,475.6 L916,475.6 L916.9,475.5 L917.8,475.5 L918.7,475.5 L919.6,475.5 L920.5,475.5 L921.4,475.4 L922.3,475.4 L923.2,475.4 L924.1,475.4 L925,475.3 L925.9,475.3 L926.8,475.3 L927.7,475.3 L928.6,475.2 L929.5,475.2 L930.4,475.2 L931.3,475.2 L932.2,475.2 L933.1,475.1 L934,475.1 L934.9,475.1 L935.8,475.1 L936.7,475.1 L937.6,475 L938.5,475 L939.4,475 L940.3,475 L941.2,475 L942.1,474.9 L943,474.9 L943.9,474.9 L944.8,474.9 L945.7,474.9 L946.6,474.9 L947.5,474.8 L948.4,474.8 L949.3,474.8 L950.2,474.8 L951.1,474.7 L952,474.7 L952.9,474.7 L953.8,474.7 L954.7,474.6 L955.6,474.6 L956.5,474.6 L957.4,474.6 L958.3,474.5 L959.2,474.5 L960.1,474.4 L961,474.4 L961.9,474.3 L962.8,474.2 L963.7,474.2 L964.6,474.1 L965.5,474 L966.4,473.9 L967.3,473.7 L968.2,473.6 L969.1,473.4 L970,473.3 L970.9,473 L971.8,472.8 L972.7,472.5 L973.6,472.2 L974.5,471.9 L975.4,471.5 L976.3,471.1 L977.2,470.6 L978.1,470 L979,469.4 L979.9,468.6 L980.8,467.8 L981.7,467 L982.6,466 L983.5,464.8 L984.4,463.6 L985.3,462.2 L986.2,460.7 L987.1,459.1 L988,457.2 L988.9,455.2 L989.8,453 L990.7,450.5 L991.6,447.9 L992.5,445 L993.4,441.8 L994.3,438.4 L995.2,434.7 L996.1,430.7 L997,426.4 L997.9,421.8 L998.8,416.9 L999.7,411.6 L1000.6,406 L1001.5,400 L1002.4,393.7 L1003.3,387 L1004.2,380 L1005.1,372.6 L1006,364.8 L1006.9,356.7 L1007.8,348.2 L1008.7,339.4 L1009.6,330.3 L1010.5,320.9 L1011.4,311.3 L1012.3,301.4 L1013.2,291.3 L1014.1,281 L1015,270.5 L1015.9,259.9 L1016.8,249.3 L1017.7,238.7 L1018.6,228 L1019.5,217.5 L1020.4,207 L1021.3,196.8 L1022.2,186.8 L1023.1,177.1 L1024,167.7 L1024.9,158.7 L1025.8,150.2 L1026.7,142.3 L1027.6,134.9 L1028.5,128.1 L1029.4,122 L1030.3,116.6 L1031.2,112 L1032.1,108.3 L1033,105.4 L1033.9,103.4 L1034.8,102.3 L1035.7,102.3 L1036.6,103.4 L1037.5,105.4 L1038.4,108.3 L1039.3,112.1 L1040.2,116.7 L1041.1,122 L1042,128.1 L1042.9,134.9 L1043.8,142.3 L1044.7,150.3 L1045.6,158.8 L1046.5,167.8 L1047.4,177.1 L1048.3,186.8 L1049.2,196.8 L1050.1,207.1 L1051,217.5 L1051.9,228 L1052.8,238.7 L1053.7,249.3 L1054.6,259.9 L1055.5,270.5 L1056.4,280.9 L1057.3,291.3 L1058.2,301.4 L1059.1,311.3 L1060,321 L1060.9,330.4 L1061.8,339.5 L1062.7,348.3 L1063.6,356.7 L1064.5,364.9 L1065.4,372.7 L1066.3,380.1 L1067.2,387.1 L1068.1,393.8 L1069,400.2 L1069.9,406.2 L1070.8,411.8 L1071.7,417.1 L1072.6,422 L1073.5,426.6 L1074.4,430.9 L1075.3,434.9 L1076.2,438.6 L1077.1,442 L1078,445.2 L1078.9,448 L1079.8,450.7 L1080.7,453.1 L1081.6,455.3 L1082.5,457.3 L1083.4,459.2 L1084.3,460.8 L1085.2,462.3 L1086.1,463.7 L1087,464.9 L1087.9,466 L1088.8,466.9 L1089.7,467.8 L1090.6,468.6 L1091.5,469.3 L1092.4,469.9 L1093.3,470.4 L1094.2,470.9 L1095.1,471.3 L1096,471.7 L1096.9,472 L1097.8,472.3 L1098.7,472.5 L1099.6,472.7 L1100.5,472.9 L1101.4,473 L1102.3,473.1 L1103.2,473.3 L1104.1,473.3 L1105,473.4 L1105.9,473.5 L1106.8,473.5 L1107.7,473.6 L1108.6,473.6 L1109.5,473.6 L1110.4,473.6 L1111.3,473.6 L1112.2,473.6 L1113.1,473.6 L1114,473.6 L1114.9,473.6 L1115.8,473.6 L1116.7,473.6 L1117.6,473.6 L1118.5,473.6 L1119.4,473.6 L1120.3,473.5 L1121.2,473.5 L1122.1,473.5 L1123,473.5 L1123.9,473.5 L1124.8,473.4 L1125.7,473.4 L1126.6,473.4 L1127.5,473.4 L1128.4,473.3 L1129.3,473.3 L1130.2,473.3 L1131.1,473.3 L1132,473.2 L1132.9,473.2 L1133.8,473.2 L1134.7,473.2 L1135.6,473.1 L1136.5,473.1 L1137.4,473.1 L1138.3,473.1 L1139.2,473 L1140.1,473 L1141,473 L1141.9,473 L1142.8,472.9 L1143.7,472.9 L1144.6,472.9 L1145.5,472.9 L1146.4,472.8 L1147.3,472.8 L1148.2,472.8 L1149.1,472.8 L1150,472.7 L1150.9,472.7 L1151.8,472.7 L1152.7,472.7 L1153.6,472.6 L1154.5,472.6 L1155.4,472.6 L1156.3,472.6 L1157.2,472.5 L1158.1,472.5 L1159,472.5 L1159.9,472.5 L1160.8,472.4 L1161.7,472.4 L1162.6,472.4 L1163.5,472.4 L1164.4,472.3 L1165.3,472.3 L1166.2,472.3 L1167.1,472.3 L1168,472.2 L1168.9,472.2 L1169.8,472.2 L1170.7,472.2 L1171.6,472.1 L1172.5,472.1 L1173.4,472.1 L1174.3,472.1 L1175.2,472 L1176.1,472 L1177,472 L1177.9,472 L1178.8,471.9 L1179.7,471.9 L1180.6,471.9 L1181.5,471.9 L1182.4,471.8 L1183.3,471.8 L1184.2,471.8 L1185.1,471.7 L1186,471.7 L1186.9,471.7 L1187.8,471.7 L1188.7,471.6 L1189.6,471.6 L1190.5,471.6 L1191.4,471.6 L1192.3,471.5 L1193.2,471.5 L1194.1,471.5 L1195,471.5 L1195.9,471.4 L1196.8,471.4 L1197.7,471.4 L1198.6,471.3 L1199.5,471.3 L1200.4,471.3 L1201.3,471.3 L1202.2,471.2 L1203.1,471.2 L1204,471.2 L1204.9,471.2 L1205.8,471.1 L1206.7,471.1 L1207.6,471.1 L1208.5,471 L1209.4,471 L1210.3,471 L1211.2,471 L1212.1,470.9 L1213,470.9 L1213.9,470.9 L1214.8,470.9 L1215.7,470.8 L1216.6,470.8 L1217.5,470.8 L1218.4,470.7 L1219.3,470.7 L1220.2,470.7 L1221.1,470.7 L1222,470.6 L1222.9,470.6 L1223.8,470.6 L1224.7,470.5 L1225.6,470.5 L1226.5,470.5 L1227.4,470.5 L1228.3,470.4 L1229.2,470.4 L1230.1,470.4 L1231,470.4 L1231.9,470.3 L1232.8,470.3 L1233.7,470.3 L1234.6,470.2 L1235.5,470.2 L1236.4,470.2 L1237.3,470.2 L1238.2,470.1 L1239.1,470.1 L1240,470.1 L1240.9,470 L1241.8,470 L1242.7,470 L1243.6,469.9 L1244.5,469.9 L1245.4,469.9 L1246.3,469.9 L1247.2,469.8 L1248.1,469.8 L1249,469.8 L1249.9,469.7 L1250.8,469.7 L1251.7,469.7 L1252.6,469.7 L1253.5,469.6 L1254.4,469.6 L1255.3,469.6 L1256.2,469.5 L1257.1,469.5 L1258,469.5 L1258.9,469.4 L1259.8,469.4 L1260.7,469.4 L1261.6,469.4 L1262.5,469.3 L1263.4,469.3 L1264.3,469.3 L1265.2,469.2 L1266.1,469.2 L1267,469.2 L1267.9,469.1 L1268.8,469.1 L1269.7,469.1 L1270.6,469.1 L1271.5,469 L1272.4,469 L1273.3,469 L1274.2,468.9 L1275.1,468.9 L1276,468.9 L1276.9,468.8 L1277.8,468.8 L1278.7,468.8 L1279.6,468.8 L1280.5,468.7 L1281.4,468.7 L1282.3,468.7 L1283.2,468.6 L1284.1,468.6 L1285,468.6 L1285.9,468.5 L1286.8,468.5 L1287.7,468.5 L1288.6,468.4 L1289.5,468.4 L1290.4,468.4 L1291.3,468.3 L1292.2,468.3 L1293.1,468.3 L1294,468.3 L1294.9,468.2 L1295.8,468.2 L1296.7,468.2 L1297.6,468.1 L1298.5,468.1 L1299.4,468.1 L1300.3,468 L1301.2,468 L1302.1,468 L1303,467.9 L1303.9,467.9 L1304.8,467.9 L1305.7,467.8 L1306.6,467.8 L1307.5,467.8 L1308.4,467.7 L1309.3,467.7 L1310.2,467.7 L1311.1,467.6 L1312,467.6 L1312.9,467.6 L1313.8,467.5 L1314.7,467.5 L1315.6,467.5" fill="none" stroke="#f01024" stroke-width="2.6" stroke-linejoin="round" stroke-linecap="round" />
<line x1="1217.4" y1="59" x2="1261.9" y2="59" stroke="#d0d0d0" stroke-width="2.2" />
<text x="1266.3" y="65.6" font-family="'Liberation Serif', serif" font-size="18.9" fill="#111" text-anchor="start" >Raw Line</text>
<line x1="1217.4" y1="82.6" x2="1261.9" y2="82.6" stroke="#22f21e" stroke-width="2.6" />
<text x="1266.3" y="89.2" font-family="'Liberation Serif', serif" font-size="18.9" fill="#111" text-anchor="start" >Baseline</text>
<line x1="1217.4" y1="106.2" x2="1261.9" y2="106.2" stroke="#f01024" stroke-width="2.6" />
<text x="1266.3" y="112.8" font-family="'Liberation Serif', serif" font-size="18.9" fill="#111" text-anchor="start" >Fitting Line</text>
<text x="1017.6" y="75.8" font-family="'Liberation Serif', serif" fill="#111" text-anchor="start"><tspan font-size="23.3" dy="0">Al</tspan><tspan font-size="16.2" dy="6.4">2p</tspan></text>
<text x="891.2" y="283.1" font-family="'Liberation Serif', serif" fill="#111" text-anchor="start"><tspan font-size="23.3" dy="0">Al</tspan><tspan font-size="16.2" dy="5.5">2</tspan><tspan font-size="23.3" dy="-5.5">O</tspan><tspan font-size="16.2" dy="5.5">3</tspan></text>
<line x1="957" y1="290.7" x2="1016.71" y2="318.36" stroke="#111" stroke-width="1.4"/>
<path d="M1027.6,323.4 L1013.22,321.15 L1016.58,313.89 Z" fill="#111"/>
<rect x="67.5" y="633.7" width="621" height="498.9" fill="none" stroke="#111" stroke-width="2.0" stroke-linejoin="round"/>
<line x1="133.3" y1="1132.6" x2="133.3" y2="1123.1" stroke="#111" stroke-width="1.6"/>
<line x1="198.6" y1="1132.6" x2="198.6" y2="1123.1" stroke="#111" stroke-width="1.6"/>
<line x1="263.9" y1="1132.6" x2="263.9" y2="1123.1" stroke="#111" stroke-width="1.6"/>
<line x1="329.2" y1="1132.6" x2="329.2" y2="1123.1" stroke="#111" stroke-width="1.6"/>
<line x1="394.5" y1="1132.6" x2="394.5" y2="1123.1" stroke="#111" stroke-width="1.6"/>
<line x1="459.8" y1="1132.6" x2="459.8" y2="1123.1" stroke="#111" stroke-width="1.6"/>
<line x1="525.1" y1="1132.6" x2="525.1" y2="1123.1" stroke="#111" stroke-width="1.6"/>
<line x1="590.4" y1="1132.6" x2="590.4" y2="1123.1" stroke="#111" stroke-width="1.6"/>
<line x1="655.7" y1="1132.6" x2="655.7" y2="1123.1" stroke="#111" stroke-width="1.6"/>
<text x="68" y="1160.2" font-family="'Liberation Serif', serif" font-size="22" fill="#111" text-anchor="middle" >220</text>
<text x="133.3" y="1160.2" font-family="'Liberation Serif', serif" font-size="22" fill="#111" text-anchor="middle" >222</text>
<text x="198.6" y="1160.2" font-family="'Liberation Serif', serif" font-size="22" fill="#111" text-anchor="middle" >224</text>
<text x="263.9" y="1160.2" font-family="'Liberation Serif', serif" font-size="22" fill="#111" text-anchor="middle" >226</text>
<text x="329.2" y="1160.2" font-family="'Liberation Serif', serif" font-size="22" fill="#111" text-anchor="middle" >228</text>
<text x="394.5" y="1160.2" font-family="'Liberation Serif', serif" font-size="22" fill="#111" text-anchor="middle" >230</text>
<text x="459.8" y="1160.2" font-family="'Liberation Serif', serif" font-size="22" fill="#111" text-anchor="middle" >232</text>
<text x="525.1" y="1160.2" font-family="'Liberation Serif', serif" font-size="22" fill="#111" text-anchor="middle" >234</text>
<text x="590.4" y="1160.2" font-family="'Liberation Serif', serif" font-size="22" fill="#111" text-anchor="middle" >236</text>
<text x="655.7" y="1160.2" font-family="'Liberation Serif', serif" font-size="22" fill="#111" text-anchor="middle" >238</text>
<text x="0" y="0" font-family="'Liberation Serif', serif" font-size="26.5" fill="#111" text-anchor="middle" transform="translate(40.9,862.6) rotate(-90)">Intensity/CPS</text>
<text x="387" y="1190.6" font-family="'Liberation Serif', serif" font-size="26.4" fill="#111" text-anchor="middle" >Binding energy/ev</text>
<text x="87.2" y="671" font-family="'Liberation Serif', serif" font-size="34" fill="#111" text-anchor="start" >(c)</text>
<path d="M135.1,1059.8 L135.9,1061.9 L136.7,1063.9 L137.5,1065.2 L138.3,1064.3 L139.1,1063.3 L139.9,1062.6 L140.7,1062.3 L141.5,1061.9 L142.3,1063.1 L143.1,1064.8 L143.9,1066.6 L144.7,1059.9 L145.5,1053.2 L146.3,1048.5 L147.1,1049.5 L147.9,1050.5 L148.7,1050.1 L149.5,1048.2 L150.3,1046.4 L151.1,1047.7 L151.9,1050.2 L152.7,1052.6 L153.5,1054.8 L154.3,1057 L155.1,1058 L155.9,1055.4 L156.7,1052.9 L157.5,1052 L158.3,1052.9 L159.1,1053.8 L159.9,1049.7 L160.7,1044 L161.5,1038.3 L162.3,1042.6 L163.1,1047 L163.9,1049.6 L164.7,1046.9 L165.5,1044.3 L166.3,1045.8 L167.1,1051.6 L167.9,1057.3 L168.7,1057.1 L169.5,1054.8 L170.3,1052.5 L171.1,1052.4 L171.9,1052.2 L172.7,1051.5 L173.5,1048.9 L174.3,1046.4 L175.1,1045.7 L175.9,1046.9 L176.7,1048.2 L177.5,1048.3 L178.3,1048.1 L179.1,1048 L179.9,1045.4 L180.7,1042.8 L181.5,1040.6 L182.3,1039.9 L183.1,1039.2 L183.9,1039 L184.7,1039.5 L185.5,1040 L186.3,1039 L187.1,1037.5 L187.9,1036 L188.7,1035.7 L189.5,1035.3 L190.3,1035.1 L191.1,1035.4 L191.9,1035.8 L192.7,1035.2 L193.5,1033.8 L194.3,1032.4 L195.1,1034.3 L195.9,1037.3 L196.7,1040.2 L197.5,1034.5 L198.3,1028.7 L199.1,1025.7 L199.9,1030.7 L200.7,1035.7 L201.5,1036.4 L202.3,1032.7 L203.1,1028.9 L203.9,1027.8 L204.7,1027.5 L205.5,1027 L206.3,1024.4 L207.1,1021.8 L207.9,1020.3 L208.7,1022.2 L209.5,1024.1 L210.3,1024.5 L211.1,1023.5 L211.9,1022.4 L212.7,1022.2 L213.5,1022.4 L214.3,1022.5 L215.1,1020.1 L215.9,1018 L216.7,1016.6 L217.5,1017.6 L218.3,1018.5 L219.1,1020.7 L219.9,1024.1 L220.7,1027.5 L221.5,1025.6 L222.3,1021.9 L223.1,1018.2 L223.9,1015.5 L224.7,1012.7 L225.5,1011.4 L226.3,1014.3 L227.1,1017.2 L227.9,1017.1 L228.7,1014.1 L229.5,1011.1 L230.3,1011.1 L231.1,1012.1 L231.9,1013.2 L232.7,1012.6 L233.5,1012 L234.3,1010.8 L235.1,1007.9 L235.9,1004.9 L236.7,1001.4 L237.5,997.2 L238.3,993 L239.1,994.1 L239.9,997 L240.7,999.8 L241.5,1001.2 L242.3,1002.5 L243.1,1002.8 L243.9,1000 L244.7,997.1 L245.5,996.2 L246.3,997.3 L247.1,998.4 L247.9,998.9 L248.7,999.3 L249.5,999.6 L250.3,995.3 L251.1,991 L251.9,988.5 L252.7,991.6 L253.5,994.6 L254.3,996 L255.1,995.9 L255.9,995.8 L256.7,994 L257.5,991.7 L258.3,989.4 L259.1,988.4 L259.9,987.5 L260.7,986.4 L261.5,985 L262.3,983.6 L263.1,983.6 L263.9,984.9 L264.7,986.2 L265.5,982.1 L266.3,976.1 L267.1,970.2 L267.9,968.4 L268.7,966.7 L269.5,965.3 L270.3,965.2 L271.1,965.2 L271.9,962.6 L272.7,957.7 L273.5,952.8 L274.3,949.3 L275.1,946.2 L275.9,943.1 L276.7,943 L277.5,942.8 L278.3,942.9 L279.1,944 L279.9,945 L280.7,944.7 L281.5,943 L282.3,941.4 L283.1,936.1 L283.9,929.6 L284.7,923.1 L285.5,920.1 L286.3,917 L287.1,915 L287.9,916.2 L288.7,917.3 L289.5,916.8 L290.3,914.6 L291.1,912.4 L291.9,910.2 L292.7,907.9 L293.5,905.7 L294.3,904.7 L295.1,903.6 L295.9,902.5 L296.7,901 L297.5,899.5 L298.3,896.3 L299.1,891.2 L299.9,886.1 L300.7,883.5 L301.5,881.5 L302.3,879.6 L303.1,872.9 L303.9,866.2 L304.7,860.4 L305.5,857.3 L306.3,854.2 L307.1,852.8 L307.9,853 L308.7,853.2 L309.5,851.7 L310.3,849.6 L311.1,847.6 L311.9,844.7 L312.7,841.7 L313.5,838.7 L314.3,835.3 L315.1,831.9 L315.9,828.9 L316.7,826.2 L317.5,823.5 L318.3,820.6 L319.1,817.5 L319.9,814.5 L320.7,805.6 L321.5,796.7 L322.3,789.8 L323.1,789 L323.9,788.2 L324.7,787.6 L325.5,787.2 L326.3,786.8 L327.1,784.6 L327.9,781.9 L328.7,779.2 L329.5,771.5 L330.3,763.7 L331.1,758.7 L331.9,761.8 L332.7,765 L333.5,763.3 L334.3,756.8 L335.1,750.4 L335.9,747.3 L336.7,745.3 L337.5,743.3 L338.3,742.1 L339.1,740.9 L339.9,739.7 L340.7,738.5 L341.5,737.3 L342.3,733.2 L343.1,726.2 L343.9,719.2 L344.7,720 L345.5,723.5 L346.3,727.1 L347.1,723.1 L347.9,719.3 L348.7,715.5 L349.5,711.9 L350.3,708.1 L351.1,705.5 L351.9,704.5 L352.7,703.6 L353.5,698.7 L354.3,692.5 L355.1,686.3 L355.9,688 L356.7,689.7 L357.5,691.2 L358.3,691.5 L359.1,691.8 L359.9,690.3 L360.7,687 L361.5,683.7 L362.3,682.8 L363.1,683.1 L363.9,683.4 L364.7,683.3 L365.5,683.3 L366.3,683.4 L367.1,683.6 L367.9,683.9 L368.7,685.1 L369.5,687.3 L370.3,689.5 L371.1,688.5 L371.9,686.3 L372.7,684.5 L373.5,684.5 L374.3,684.7 L375.1,685.5 L375.9,688.1 L376.7,690.8 L377.5,694.4 L378.3,698.9 L379.1,703.5 L379.9,701.5 L380.7,697.3 L381.5,693.2 L382.3,696.5 L383.1,699.9 L383.9,701.7 L384.7,698.6 L385.5,695.2 L386.3,697.3 L387.1,705 L387.9,712.8 L388.7,714.6 L389.5,714.4 L390.3,714.3 L391.1,717.2 L391.9,720.3 L392.7,722.2 L393.5,720.6 L394.3,719.1 L395.1,718.1 L395.9,717.6 L396.7,717.2 L397.5,721.7 L398.3,727.9 L399.1,734.1 L399.9,735.7 L400.7,737.5 L401.5,738.5 L402.3,737.1 L403.1,735.6 L403.9,735.3 L404.7,736.2 L405.5,737 L406.3,742.1 L407.1,748.6 L407.9,755.2 L408.7,755.9 L409.5,756.7 L410.3,759.3 L411.1,767.7 L411.9,776 L412.7,777.8 L413.5,772.8 L414.3,767.8 L415.1,768.3 L415.9,770.6 L416.7,772.9 L417.5,775.9 L418.3,778.8 L419.1,780.5 L419.9,778.8 L420.7,777 L421.5,777.8 L422.3,781.2 L423.1,784.4 L423.9,790.6 L424.7,797.6 L425.5,804.2 L426.3,800.8 L427.1,797.3 L427.9,794.4 L428.7,793.7 L429.5,792.8 L430.3,791.7 L431.1,790.2 L431.9,788.7 L432.7,791.3 L433.5,795.3 L434.3,799.1 L435.1,798.9 L435.9,798.6 L436.7,798 L437.5,796.5 L438.3,794.9 L439.1,793 L439.9,790.8 L440.7,788.5 L441.5,788.5 L442.3,789.1 L443.1,789.8 L443.9,789.1 L444.7,788.3 L445.5,787.1 L446.3,784.1 L447.1,781.1 L447.9,780.8 L448.7,783.2 L449.5,785.7 L450.3,781.5 L451.1,775 L451.9,768.7 L452.7,770.5 L453.5,772.4 L454.3,774.6 L455.1,777.2 L455.9,779.9 L456.7,781.9 L457.5,783.2 L458.3,784.8 L459.1,784.7 L459.9,784.1 L460.7,783.7 L461.5,789.3 L462.3,795 L463.1,800.4 L463.9,804.8 L464.7,809.3 L465.5,812.5 L466.3,814.3 L467.1,816.3 L467.9,819 L468.7,822.1 L469.5,825.3 L470.3,830.3 L471.1,835.2 L471.9,839.6 L472.7,842.2 L473.5,845 L474.3,846.5 L475.1,846.7 L475.9,847 L476.7,851.5 L477.5,857.4 L478.3,863.3 L479.1,870.4 L479.9,877.5 L480.7,882.3 L481.5,880.4 L482.3,878.5 L483.1,880.6 L483.9,886.8 L484.7,892.8 L485.5,896 L486.3,898.2 L487.1,900.3 L487.9,902.2 L488.7,903.9 L489.5,905.8 L490.3,908.3 L491.1,910.7 L491.9,914.3 L492.7,919.2 L493.5,924.1 L494.3,927.3 L495.1,929.8 L495.9,932.3 L496.7,934.2 L497.5,936 L498.3,936.6 L499.1,934.3 L499.9,931.8 L500.7,932.5 L501.5,936.4 L502.3,940.2 L503.1,943 L503.9,945.4 L504.7,947.8 L505.5,950 L506.3,952.1 L507.1,953.6 L507.9,953.6 L508.7,953.5 L509.5,953.8 L510.3,954.6 L511.1,955.2 L511.9,956 L512.7,956.8 L513.5,957.5 L514.3,956.9 L515.1,956.3 L515.9,954.8 L516.7,950.9 L517.5,947.1 L518.3,945.9 L519.1,947.6 L519.9,949.2 L520.7,947.8 L521.5,945.4 L522.3,943 L523.1,938.5 L523.9,934 L524.7,930.7 L525.5,931.4 L526.3,932.1 L527.1,936.1 L527.9,943.6 L528.7,951 L529.5,946.6 L530.3,938.2 L531.1,929.8 L531.9,926 L532.7,922.1 L533.5,919.8 L534.3,922.1 L535.1,924.4 L535.9,927.2 L536.7,930.4 L537.5,933.6 L538.3,930.6 L539.1,925.4 L539.9,920.2 L540.7,919.6 L541.5,918.9 L542.3,917.6 L543.1,914.3 L543.9,911 L544.7,908.7 L545.5,907.5 L546.3,906.2 L547.1,907 L547.9,908.4 L548.7,909.9 L549.5,907.3 L550.3,904.7 L551.1,902.1 L551.9,898.8 L552.7,895.6 L553.5,894.5 L554.3,895.7 L555.1,897 L555.9,897.1 L556.7,896.9 L557.5,896.8 L558.3,893.5 L559.1,890.4 L559.9,888.4 L560.7,889.8 L561.5,891.5 L562.3,892.6 L563.1,893.4 L563.9,894.2 L564.7,893.6 L565.5,892.6 L566.3,891.8 L567.1,897.1 L567.9,902.6 L568.7,906.3 L569.5,904.8 L570.3,903.3 L571.1,902.9 L571.9,903.4 L572.7,904 L573.5,903.5 L574.3,902.7 L575.1,901.9 L575.9,904.4 L576.7,906.8 L577.5,910.6 L578.3,918.3 L579.1,926.1 L579.9,927.6 L580.7,923 L581.5,918.4 L582.3,920.9 L583.1,925.7 L583.9,930.5 L584.7,929.9 L585.5,929.3 L586.3,929.6 L587.1,932.7 L587.9,935.8 L588.7,937.9 L589.5,939.2 L590.3,940.2 L591.1,938.4 L591.9,935.7 L592.7,933 L593.5,934.5 L594.3,935.9 L595.1,937.3 L595.9,938.4 L596.7,939.6 L597.5,940.3 L598.3,940.5 L599.1,940.7 L599.9,940.7 L600.7,940.9 L601.5,941.2 L602.3,941.1 L603.1,941 L603.9,941.5 L604.7,944.2 L605.5,946.8 L606.3,949.1 L607.1,951.1 L607.9,953.1 L608.7,952.6 L609.5,951.2 L610.3,949.9 L611.1,947.4 L611.9,944.8 L612.7,943.7 L613.5,946.6 L614.3,949.4 L615.1,950.7 L615.9,950.2 L616.7,949.8 L617.5,950.5 L618.3,951.7 L619.1,952.9 L619.9,956.3 L620.7,959.6 L621.5,961.1 L622.3,956.6" fill="none" stroke="#d0d0d0" stroke-width="2.6" stroke-linejoin="round" stroke-linecap="round" />
<path d="M135.1,1051.8 L135.9,1051.6 L136.7,1051.3 L137.5,1051.1 L138.3,1050.8 L139.1,1050.6 L139.9,1050.3 L140.7,1050.1 L141.5,1049.9 L142.3,1049.6 L143.1,1049.4 L143.9,1049.1 L144.7,1048.9 L145.5,1048.6 L146.3,1048.4 L147.1,1048.1 L147.9,1047.9 L148.7,1047.7 L149.5,1047.4 L150.3,1047.2 L151.1,1046.9 L151.9,1046.7 L152.7,1046.5 L153.5,1046.2 L154.3,1046 L155.1,1045.8 L155.9,1045.5 L156.7,1045.3 L157.5,1045.1 L158.3,1044.8 L159.1,1044.6 L159.9,1044.4 L160.7,1044.1 L161.5,1043.9 L162.3,1043.7 L163.1,1043.4 L163.9,1043.2 L164.7,1043 L165.5,1042.7 L166.3,1042.5 L167.1,1042.3 L167.9,1042 L168.7,1041.8 L169.5,1041.6 L170.3,1041.3 L171.1,1041.1 L171.9,1040.9 L172.7,1040.7 L173.5,1040.4 L174.3,1040.2 L175.1,1040 L175.9,1039.7 L176.7,1039.5 L177.5,1039.3 L178.3,1039.1 L179.1,1038.8 L179.9,1038.6 L180.7,1038.4 L181.5,1038.1 L182.3,1037.9 L183.1,1037.7 L183.9,1037.5 L184.7,1037.3 L185.5,1037 L186.3,1036.8 L187.1,1036.6 L187.9,1036.4 L188.7,1036.1 L189.5,1035.9 L190.3,1035.7 L191.1,1035.5 L191.9,1035.2 L192.7,1035 L193.5,1034.8 L194.3,1034.5 L195.1,1034.3 L195.9,1034.1 L196.7,1033.8 L197.5,1033.5 L198.3,1033.3 L199.1,1033 L199.9,1032.8 L200.7,1032.5 L201.5,1032.2 L202.3,1031.9 L203.1,1031.6 L203.9,1031.3 L204.7,1031 L205.5,1030.7 L206.3,1030.4 L207.1,1030.1 L207.9,1029.7 L208.7,1029.4 L209.5,1029.1 L210.3,1028.7 L211.1,1028.4 L211.9,1028 L212.7,1027.7 L213.5,1027.3 L214.3,1026.9 L215.1,1026.6 L215.9,1026.2 L216.7,1025.8 L217.5,1025.4 L218.3,1025 L219.1,1024.7 L219.9,1024.3 L220.7,1023.9 L221.5,1023.5 L222.3,1023 L223.1,1022.6 L223.9,1022.2 L224.7,1021.8 L225.5,1021.3 L226.3,1020.9 L227.1,1020.4 L227.9,1020 L228.7,1019.5 L229.5,1019 L230.3,1018.5 L231.1,1018 L231.9,1017.5 L232.7,1017 L233.5,1016.4 L234.3,1015.9 L235.1,1015.3 L235.9,1014.7 L236.7,1014.2 L237.5,1013.6 L238.3,1012.9 L239.1,1012.3 L239.9,1011.7 L240.7,1011 L241.5,1010.3 L242.3,1009.6 L243.1,1008.9 L243.9,1008.2 L244.7,1007.4 L245.5,1006.7 L246.3,1005.9 L247.1,1005.1 L247.9,1004.3 L248.7,1003.4 L249.5,1002.6 L250.3,1001.7 L251.1,1000.8 L251.9,999.9 L252.7,998.9 L253.5,998 L254.3,997 L255.1,996 L255.9,994.9 L256.7,993.9 L257.5,992.8 L258.3,991.7 L259.1,990.6 L259.9,989.4 L260.7,988.2 L261.5,987 L262.3,985.8 L263.1,984.5 L263.9,983.2 L264.7,981.9 L265.5,980.5 L266.3,979.1 L267.1,977.7 L267.9,976.3 L268.7,974.8 L269.5,973.3 L270.3,971.7 L271.1,970.2 L271.9,968.6 L272.7,966.9 L273.5,965.3 L274.3,963.6 L275.1,961.9 L275.9,960.1 L276.7,958.3 L277.5,956.5 L278.3,954.7 L279.1,952.8 L279.9,950.9 L280.7,948.9 L281.5,946.9 L282.3,944.9 L283.1,942.8 L283.9,940.8 L284.7,938.6 L285.5,936.5 L286.3,934.3 L287.1,932.1 L287.9,929.8 L288.7,927.5 L289.5,925.2 L290.3,922.8 L291.1,920.5 L291.9,918 L292.7,915.6 L293.5,913.1 L294.3,910.6 L295.1,908 L295.9,905.5 L296.7,902.8 L297.5,900.2 L298.3,897.5 L299.1,894.8 L299.9,892.1 L300.7,889.4 L301.5,886.6 L302.3,883.8 L303.1,881 L303.9,878.1 L304.7,875.2 L305.5,872.3 L306.3,869.4 L307.1,866.5 L307.9,863.5 L308.7,860.5 L309.5,857.5 L310.3,854.5 L311.1,851.4 L311.9,848.4 L312.7,845.3 L313.5,842.3 L314.3,839.2 L315.1,836.1 L315.9,833 L316.7,829.9 L317.5,826.8 L318.3,823.7 L319.1,820.6 L319.9,817.4 L320.7,814.3 L321.5,811.2 L322.3,808.1 L323.1,805 L323.9,801.9 L324.7,798.8 L325.5,795.7 L326.3,792.6 L327.1,789.6 L327.9,786.5 L328.7,783.5 L329.5,780.5 L330.3,777.5 L331.1,774.6 L331.9,771.6 L332.7,768.7 L333.5,765.8 L334.3,763 L335.1,760.2 L335.9,757.4 L336.7,754.6 L337.5,751.9 L338.3,749.3 L339.1,746.7 L339.9,744.1 L340.7,741.6 L341.5,739.1 L342.3,736.6 L343.1,734.2 L343.9,731.9 L344.7,729.6 L345.5,727.3 L346.3,725.2 L347.1,723 L347.9,720.9 L348.7,718.9 L349.5,717 L350.3,715.1 L351.1,713.2 L351.9,711.4 L352.7,709.7 L353.5,708.1 L354.3,706.5 L355.1,705 L355.9,703.5 L356.7,702.1 L357.5,700.8 L358.3,699.6 L359.1,698.4 L359.9,697.4 L360.7,696.3 L361.5,695.4 L362.3,694.5 L363.1,693.7 L363.9,693 L364.7,692.4 L365.5,691.8 L366.3,691.3 L367.1,690.9 L367.9,690.6 L368.7,690.4 L369.5,690.2 L370.3,690.1 L371.1,690.1 L371.9,690.2 L372.7,690.3 L373.5,690.5 L374.3,690.8 L375.1,691.2 L375.9,691.7 L376.7,692.2 L377.5,692.8 L378.3,693.5 L379.1,694.2 L379.9,695.1 L380.7,696 L381.5,696.9 L382.3,698 L383.1,699.1 L383.9,700.3 L384.7,701.5 L385.5,702.8 L386.3,704.2 L387.1,705.6 L387.9,707.1 L388.7,708.7 L389.5,710.3 L390.3,711.9 L391.1,713.7 L391.9,715.4 L392.7,717.3 L393.5,719.1 L394.3,721 L395.1,723 L395.9,725 L396.7,727 L397.5,729.1 L398.3,731.2 L399.1,733.3 L399.9,735.4 L400.7,737.6 L401.5,739.8 L402.3,742 L403.1,744.2 L403.9,746.4 L404.7,748.6 L405.5,750.8 L406.3,753 L407.1,755.2 L407.9,757.4 L408.7,759.5 L409.5,761.7 L410.3,763.8 L411.1,765.9 L411.9,768 L412.7,770 L413.5,772 L414.3,773.9 L415.1,775.8 L415.9,777.6 L416.7,779.4 L417.5,781.1 L418.3,782.7 L419.1,784.3 L419.9,785.8 L420.7,787.3 L421.5,788.6 L422.3,789.9 L423.1,791.1 L423.9,792.2 L424.7,793.2 L425.5,794.2 L426.3,795 L427.1,795.7 L427.9,796.4 L428.7,797 L429.5,797.4 L430.3,797.8 L431.1,798.1 L431.9,798.3 L432.7,798.4 L433.5,798.4 L434.3,798.3 L435.1,798.2 L435.9,798 L436.7,797.7 L437.5,797.3 L438.3,796.9 L439.1,796.4 L439.9,795.8 L440.7,795.3 L441.5,794.6 L442.3,794 L443.1,793.3 L443.9,792.7 L444.7,792 L445.5,791.4 L446.3,790.7 L447.1,790.1 L447.9,789.6 L448.7,789 L449.5,788.6 L450.3,788.3 L451.1,788 L451.9,787.8 L452.7,787.8 L453.5,787.8 L454.3,788 L455.1,788.4 L455.9,788.9 L456.7,789.6 L457.5,790.4 L458.3,791.4 L459.1,792.6 L459.9,794 L460.7,795.6 L461.5,797.4 L462.3,799.3 L463.1,801.4 L463.9,803.7 L464.7,806.2 L465.5,808.8 L466.3,811.6 L467.1,814.6 L467.9,817.7 L468.7,820.9 L469.5,824.2 L470.3,827.6 L471.1,831.1 L471.9,834.7 L472.7,838.3 L473.5,842 L474.3,845.7 L475.1,849.5 L475.9,853.2 L476.7,857 L477.5,860.8 L478.3,864.5 L479.1,868.3 L479.9,872 L480.7,875.6 L481.5,879.3 L482.3,882.8 L483.1,886.3 L483.9,889.8 L484.7,893.1 L485.5,896.4 L486.3,899.6 L487.1,902.7 L487.9,905.7 L488.7,908.6 L489.5,911.5 L490.3,914.2 L491.1,916.8 L491.9,919.3 L492.7,921.8 L493.5,924.1 L494.3,926.3 L495.1,928.4 L495.9,930.4 L496.7,932.2 L497.5,934 L498.3,935.7 L499.1,937.3 L499.9,938.8 L500.7,940.1 L501.5,941.4 L502.3,942.6 L503.1,943.7 L503.9,944.7 L504.7,945.6 L505.5,946.5 L506.3,947.2 L507.1,947.9 L507.9,948.5 L508.7,949 L509.5,949.5 L510.3,949.8 L511.1,950.2 L511.9,950.4 L512.7,950.6 L513.5,950.7 L514.3,950.7 L515.1,950.7 L515.9,950.6 L516.7,950.5 L517.5,950.3 L518.3,950 L519.1,949.7 L519.9,949.3 L520.7,948.9 L521.5,948.4 L522.3,947.9 L523.1,947.3 L523.9,946.7 L524.7,946 L525.5,945.3 L526.3,944.5 L527.1,943.7 L527.9,942.8 L528.7,941.9 L529.5,941 L530.3,940 L531.1,938.9 L531.9,937.8 L532.7,936.7 L533.5,935.5 L534.3,934.2 L535.1,933 L535.9,931.6 L536.7,930.3 L537.5,928.9 L538.3,927.5 L539.1,926 L539.9,924.5 L540.7,923 L541.5,921.4 L542.3,919.9 L543.1,918.3 L543.9,916.7 L544.7,915.1 L545.5,913.6 L546.3,912 L547.1,910.5 L547.9,909 L548.7,907.5 L549.5,906.1 L550.3,904.7 L551.1,903.4 L551.9,902.2 L552.7,901.1 L553.5,900.1 L554.3,899.2 L555.1,898.4 L555.9,897.8 L556.7,897.2 L557.5,896.8 L558.3,896.6 L559.1,896.5 L559.9,896.5 L560.7,896.6 L561.5,896.9 L562.3,897.4 L563.1,897.9 L563.9,898.6 L564.7,899.4 L565.5,900.2 L566.3,901.2 L567.1,902.3 L567.9,903.4 L568.7,904.6 L569.5,905.8 L570.3,907.1 L571.1,908.5 L571.9,909.8 L572.7,911.2 L573.5,912.5 L574.3,913.9 L575.1,915.3 L575.9,916.7 L576.7,918 L577.5,919.3 L578.3,920.7 L579.1,922 L579.9,923.2 L580.7,924.4 L581.5,925.7 L582.3,926.8 L583.1,928 L583.9,929.1 L584.7,930.1 L585.5,931.2 L586.3,932.1 L587.1,933.1 L587.9,934 L588.7,934.9 L589.5,935.8 L590.3,936.6 L591.1,937.4 L591.9,938.2 L592.7,938.9 L593.5,939.6 L594.3,940.3 L595.1,940.9 L595.9,941.5 L596.7,942.1 L597.5,942.6 L598.3,943.2 L599.1,943.7 L599.9,944.2 L600.7,944.6 L601.5,945.1 L602.3,945.5 L603.1,945.9 L603.9,946.2 L604.7,946.6 L605.5,946.9 L606.3,947.3 L607.1,947.6 L607.9,947.9 L608.7,948.1 L609.5,948.4 L610.3,948.6 L611.1,948.9 L611.9,949.1 L612.7,949.3 L613.5,949.5 L614.3,949.7 L615.1,949.8 L615.9,950 L616.7,950.2 L617.5,950.3 L618.3,950.4 L619.1,950.5 L619.9,950.7 L620.7,950.8 L621.5,950.9 L622.3,951" fill="none" stroke="#f01024" stroke-width="2.6" stroke-linejoin="round" stroke-linecap="round" />
<path d="M135.1,1052.3 L135.9,1052.1 L136.7,1051.8 L137.5,1051.6 L138.3,1051.3 L139.1,1051.1 L139.9,1050.8 L140.7,1050.6 L141.5,1050.3 L142.3,1050.1 L143.1,1049.8 L143.9,1049.6 L144.7,1049.4 L145.5,1049.1 L146.3,1048.9 L147.1,1048.6 L147.9,1048.4 L148.7,1048.2 L149.5,1047.9 L150.3,1047.7 L151.1,1047.5 L151.9,1047.2 L152.7,1047 L153.5,1046.8 L154.3,1046.5 L155.1,1046.3 L155.9,1046.1 L156.7,1045.8 L157.5,1045.6 L158.3,1045.4 L159.1,1045.1 L159.9,1044.9 L160.7,1044.7 L161.5,1044.5 L162.3,1044.2 L163.1,1044 L163.9,1043.8 L164.7,1043.6 L165.5,1043.3 L166.3,1043.1 L167.1,1042.9 L167.9,1042.7 L168.7,1042.4 L169.5,1042.2 L170.3,1042 L171.1,1041.8 L171.9,1041.6 L172.7,1041.3 L173.5,1041.1 L174.3,1040.9 L175.1,1040.7 L175.9,1040.5 L176.7,1040.3 L177.5,1040 L178.3,1039.8 L179.1,1039.6 L179.9,1039.4 L180.7,1039.2 L181.5,1039 L182.3,1038.8 L183.1,1038.6 L183.9,1038.4 L184.7,1038.2 L185.5,1038 L186.3,1037.8 L187.1,1037.6 L187.9,1037.4 L188.7,1037.2 L189.5,1037 L190.3,1036.8 L191.1,1036.6 L191.9,1036.4 L192.7,1036.2 L193.5,1036 L194.3,1035.8 L195.1,1035.6 L195.9,1035.4 L196.7,1035.2 L197.5,1035 L198.3,1034.8 L199.1,1034.5 L199.9,1034.3 L200.7,1034.1 L201.5,1033.9 L202.3,1033.7 L203.1,1033.4 L203.9,1033.2 L204.7,1032.9 L205.5,1032.7 L206.3,1032.5 L207.1,1032.2 L207.9,1032 L208.7,1031.7 L209.5,1031.5 L210.3,1031.2 L211.1,1031 L211.9,1030.7 L212.7,1030.5 L213.5,1030.3 L214.3,1030 L215.1,1029.8 L215.9,1029.5 L216.7,1029.3 L217.5,1029 L218.3,1028.8 L219.1,1028.6 L219.9,1028.3 L220.7,1028.1 L221.5,1027.9 L222.3,1027.6 L223.1,1027.4 L223.9,1027.2 L224.7,1027 L225.5,1026.7 L226.3,1026.5 L227.1,1026.3 L227.9,1026.1 L228.7,1025.8 L229.5,1025.6 L230.3,1025.4 L231.1,1025.2 L231.9,1025 L232.7,1024.7 L233.5,1024.5 L234.3,1024.3 L235.1,1024.1 L235.9,1023.9 L236.7,1023.7 L237.5,1023.4 L238.3,1023.2 L239.1,1023 L239.9,1022.8 L240.7,1022.6 L241.5,1022.3 L242.3,1022.1 L243.1,1021.9 L243.9,1021.7 L244.7,1021.4 L245.5,1021.2 L246.3,1021 L247.1,1020.8 L247.9,1020.6 L248.7,1020.3 L249.5,1020.1 L250.3,1019.9 L251.1,1019.7 L251.9,1019.5 L252.7,1019.2 L253.5,1019 L254.3,1018.8 L255.1,1018.6 L255.9,1018.4 L256.7,1018.2 L257.5,1018 L258.3,1017.7 L259.1,1017.5 L259.9,1017.3 L260.7,1017.1 L261.5,1016.9 L262.3,1016.7 L263.1,1016.5 L263.9,1016.3 L264.7,1016.1 L265.5,1015.8 L266.3,1015.6 L267.1,1015.4 L267.9,1015.2 L268.7,1015 L269.5,1014.8 L270.3,1014.6 L271.1,1014.4 L271.9,1014.2 L272.7,1014 L273.5,1013.8 L274.3,1013.6 L275.1,1013.4 L275.9,1013.2 L276.7,1013 L277.5,1012.8 L278.3,1012.6 L279.1,1012.5 L279.9,1012.3 L280.7,1012.1 L281.5,1011.9 L282.3,1011.8 L283.1,1011.6 L283.9,1011.4 L284.7,1011.3 L285.5,1011.1 L286.3,1010.9 L287.1,1010.8 L287.9,1010.6 L288.7,1010.4 L289.5,1010.3 L290.3,1010.1 L291.1,1010 L291.9,1009.8 L292.7,1009.7 L293.5,1009.5 L294.3,1009.4 L295.1,1009.2 L295.9,1009.1 L296.7,1008.9 L297.5,1008.8 L298.3,1008.7 L299.1,1008.5 L299.9,1008.4 L300.7,1008.3 L301.5,1008.1 L302.3,1008 L303.1,1007.9 L303.9,1007.7 L304.7,1007.6 L305.5,1007.5 L306.3,1007.4 L307.1,1007.2 L307.9,1007.1 L308.7,1007 L309.5,1006.9 L310.3,1006.8 L311.1,1006.7 L311.9,1006.6 L312.7,1006.4 L313.5,1006.3 L314.3,1006.2 L315.1,1006.1 L315.9,1006 L316.7,1005.9 L317.5,1005.9 L318.3,1005.8 L319.1,1005.7 L319.9,1005.6 L320.7,1005.5 L321.5,1005.4 L322.3,1005.3 L323.1,1005.2 L323.9,1005.2 L324.7,1005.1 L325.5,1005 L326.3,1004.9 L327.1,1004.8 L327.9,1004.7 L328.7,1004.7 L329.5,1004.6 L330.3,1004.5 L331.1,1004.5 L331.9,1004.4 L332.7,1004.3 L333.5,1004.3 L334.3,1004.2 L335.1,1004.2 L335.9,1004.1 L336.7,1004.1 L337.5,1004 L338.3,1004 L339.1,1004 L339.9,1004 L340.7,1003.9 L341.5,1003.9 L342.3,1003.9 L343.1,1003.9 L343.9,1003.9 L344.7,1003.8 L345.5,1003.8 L346.3,1003.8 L347.1,1003.8 L347.9,1003.8 L348.7,1003.8 L349.5,1003.8 L350.3,1003.7 L351.1,1003.7 L351.9,1003.7 L352.7,1003.7 L353.5,1003.7 L354.3,1003.7 L355.1,1003.7 L355.9,1003.7 L356.7,1003.7 L357.5,1003.6 L358.3,1003.6 L359.1,1003.6 L359.9,1003.6 L360.7,1003.6 L361.5,1003.6 L362.3,1003.6 L363.1,1003.6 L363.9,1003.5 L364.7,1003.5 L365.5,1003.5 L366.3,1003.5 L367.1,1003.5 L367.9,1003.5 L368.7,1003.5 L369.5,1003.5 L370.3,1003.5 L371.1,1003.4 L371.9,1003.4 L372.7,1003.4 L373.5,1003.4 L374.3,1003.4 L375.1,1003.4 L375.9,1003.4 L376.7,1003.4 L377.5,1003.4 L378.3,1003.4 L379.1,1003.4 L379.9,1003.3 L380.7,1003.3 L381.5,1003.3 L382.3,1003.3 L383.1,1003.3 L383.9,1003.3 L384.7,1003.3 L385.5,1003.3 L386.3,1003.3 L387.1,1003.3 L387.9,1003.2 L388.7,1003.2 L389.5,1003.2 L390.3,1003.2 L391.1,1003.2 L391.9,1003.2 L392.7,1003.2 L393.5,1003.1 L394.3,1003.1 L395.1,1003.1 L395.9,1003.1 L396.7,1003.1 L397.5,1003.1 L398.3,1003 L399.1,1003 L399.9,1003 L400.7,1003 L401.5,1003 L402.3,1002.9 L403.1,1002.9 L403.9,1002.9 L404.7,1002.8 L405.5,1002.8 L406.3,1002.7 L407.1,1002.7 L407.9,1002.6 L408.7,1002.6 L409.5,1002.5 L410.3,1002.5 L411.1,1002.4 L411.9,1002.3 L412.7,1002.3 L413.5,1002.2 L414.3,1002.1 L415.1,1002.1 L415.9,1002 L416.7,1001.9 L417.5,1001.8 L418.3,1001.8 L419.1,1001.7 L419.9,1001.6 L420.7,1001.5 L421.5,1001.4 L422.3,1001.4 L423.1,1001.3 L423.9,1001.2 L424.7,1001.1 L425.5,1001 L426.3,1001 L427.1,1000.9 L427.9,1000.8 L428.7,1000.7 L429.5,1000.6 L430.3,1000.6 L431.1,1000.5 L431.9,1000.4 L432.7,1000.3 L433.5,1000.2 L434.3,1000.2 L435.1,1000.1 L435.9,1000 L436.7,999.9 L437.5,999.8 L438.3,999.8 L439.1,999.7 L439.9,999.6 L440.7,999.5 L441.5,999.4 L442.3,999.3 L443.1,999.3 L443.9,999.2 L444.7,999.1 L445.5,999 L446.3,998.9 L447.1,998.8 L447.9,998.7 L448.7,998.6 L449.5,998.5 L450.3,998.4 L451.1,998.3 L451.9,998.2 L452.7,998.1 L453.5,998 L454.3,997.9 L455.1,997.8 L455.9,997.7 L456.7,997.6 L457.5,997.5 L458.3,997.4 L459.1,997.3 L459.9,997.2 L460.7,997.1 L461.5,996.9 L462.3,996.8 L463.1,996.7 L463.9,996.6 L464.7,996.5 L465.5,996.3 L466.3,996.2 L467.1,996.1 L467.9,995.9 L468.7,995.8 L469.5,995.7 L470.3,995.5 L471.1,995.4 L471.9,995.2 L472.7,995.1 L473.5,994.9 L474.3,994.7 L475.1,994.5 L475.9,994.3 L476.7,994.1 L477.5,993.9 L478.3,993.7 L479.1,993.5 L479.9,993.3 L480.7,993.1 L481.5,992.8 L482.3,992.6 L483.1,992.4 L483.9,992.1 L484.7,991.9 L485.5,991.6 L486.3,991.4 L487.1,991.1 L487.9,990.9 L488.7,990.6 L489.5,990.4 L490.3,990.1 L491.1,989.9 L491.9,989.6 L492.7,989.3 L493.5,989.1 L494.3,988.8 L495.1,988.5 L495.9,988.3 L496.7,988 L497.5,987.8 L498.3,987.5 L499.1,987.3 L499.9,987 L500.7,986.8 L501.5,986.5 L502.3,986.3 L503.1,986 L503.9,985.8 L504.7,985.6 L505.5,985.3 L506.3,985.1 L507.1,984.9 L507.9,984.7 L508.7,984.5 L509.5,984.3 L510.3,984.1 L511.1,983.9 L511.9,983.7 L512.7,983.5 L513.5,983.3 L514.3,983.1 L515.1,982.9 L515.9,982.7 L516.7,982.6 L517.5,982.4 L518.3,982.2 L519.1,982 L519.9,981.8 L520.7,981.7 L521.5,981.5 L522.3,981.3 L523.1,981.1 L523.9,981 L524.7,980.8 L525.5,980.6 L526.3,980.4 L527.1,980.3 L527.9,980.1 L528.7,979.9 L529.5,979.8 L530.3,979.6 L531.1,979.4 L531.9,979.3 L532.7,979.1 L533.5,978.9 L534.3,978.8 L535.1,978.6 L535.9,978.4 L536.7,978.3 L537.5,978.1 L538.3,977.9 L539.1,977.8 L539.9,977.6 L540.7,977.4 L541.5,977.3 L542.3,977.1 L543.1,977 L543.9,976.8 L544.7,976.6 L545.5,976.5 L546.3,976.3 L547.1,976.1 L547.9,976 L548.7,975.8 L549.5,975.6 L550.3,975.5 L551.1,975.3 L551.9,975.1 L552.7,975 L553.5,974.8 L554.3,974.6 L555.1,974.5 L555.9,974.3 L556.7,974.2 L557.5,974 L558.3,973.8 L559.1,973.7 L559.9,973.5 L560.7,973.3 L561.5,973.2 L562.3,973 L563.1,972.8 L563.9,972.7 L564.7,972.5 L565.5,972.4 L566.3,972.2 L567.1,972 L567.9,971.9 L568.7,971.7 L569.5,971.6 L570.3,971.4 L571.1,971.2 L571.9,971.1 L572.7,970.9 L573.5,970.8 L574.3,970.6 L575.1,970.4 L575.9,970.3 L576.7,970.1 L577.5,970 L578.3,969.8 L579.1,969.7 L579.9,969.5 L580.7,969.3 L581.5,969.2 L582.3,969 L583.1,968.9 L583.9,968.7 L584.7,968.6 L585.5,968.4 L586.3,968.3 L587.1,968.1 L587.9,967.9 L588.7,967.8 L589.5,967.6 L590.3,967.5 L591.1,967.3 L591.9,967.2 L592.7,967 L593.5,966.9 L594.3,966.7 L595.1,966.6 L595.9,966.4 L596.7,966.3 L597.5,966.1 L598.3,966 L599.1,965.8 L599.9,965.7 L600.7,965.5 L601.5,965.4 L602.3,965.2 L603.1,965.1 L603.9,964.9 L604.7,964.8 L605.5,964.6 L606.3,964.5 L607.1,964.3 L607.9,964.2 L608.7,964.1 L609.5,963.9 L610.3,963.8 L611.1,963.6 L611.9,963.5 L612.7,963.3 L613.5,963.2 L614.3,963 L615.1,962.9 L615.9,962.8 L616.7,962.6 L617.5,962.5 L618.3,962.3 L619.1,962.2 L619.9,962 L620.7,961.9 L621.5,961.8 L622.3,961.6" fill="none" stroke="#22f21e" stroke-width="2.6" stroke-linejoin="round" stroke-linecap="round" />
<path d="M135.1,1052.3 L135.9,1052.1 L136.7,1051.8 L137.5,1051.6 L138.3,1051.3 L139.1,1051.1 L139.9,1050.8 L140.7,1050.6 L141.5,1050.3 L142.3,1050.1 L143.1,1049.8 L143.9,1049.6 L144.7,1049.4 L145.5,1049.1 L146.3,1048.9 L147.1,1048.6 L147.9,1048.4 L148.7,1048.2 L149.5,1047.9 L150.3,1047.7 L151.1,1047.5 L151.9,1047.2 L152.7,1047 L153.5,1046.8 L154.3,1046.5 L155.1,1046.3 L155.9,1046.1 L156.7,1045.8 L157.5,1045.6 L158.3,1045.4 L159.1,1045.1 L159.9,1044.9 L160.7,1044.7 L161.5,1044.5 L162.3,1044.2 L163.1,1044 L163.9,1043.8 L164.7,1043.6 L165.5,1043.3 L166.3,1043.1 L167.1,1042.9 L167.9,1042.7 L168.7,1042.4 L169.5,1042.2 L170.3,1042 L171.1,1041.8 L171.9,1041.6 L172.7,1041.3 L173.5,1041.1 L174.3,1040.9 L175.1,1040.7 L175.9,1040.5 L176.7,1040.3 L177.5,1040 L178.3,1039.8 L179.1,1039.6 L179.9,1039.4 L180.7,1039.2 L181.5,1039 L182.3,1038.8 L183.1,1038.6 L183.9,1038.4 L184.7,1038.2 L185.5,1038 L186.3,1037.8 L187.1,1037.6 L187.9,1037.4 L188.7,1037.2 L189.5,1037 L190.3,1036.8 L191.1,1036.6 L191.9,1036.4 L192.7,1036.2 L193.5,1036 L194.3,1035.8 L195.1,1035.6 L195.9,1035.4 L196.7,1035.2 L197.5,1035 L198.3,1034.8 L199.1,1034.5 L199.9,1034.3 L200.7,1034.1 L201.5,1033.9 L202.3,1033.7 L203.1,1033.4 L203.9,1033.2 L204.7,1032.9 L205.5,1032.7 L206.3,1032.5 L207.1,1032.2 L207.9,1032 L208.7,1031.7 L209.5,1031.5 L210.3,1031.2 L211.1,1031 L211.9,1030.7 L212.7,1030.5 L213.5,1030.3 L214.3,1030 L215.1,1029.8 L215.9,1029.5 L216.7,1029.3 L217.5,1029 L218.3,1028.8 L219.1,1028.6 L219.9,1028.3 L220.7,1028.1 L221.5,1027.9 L222.3,1027.6 L223.1,1027.4 L223.9,1027.2 L224.7,1027 L225.5,1026.7 L226.3,1026.5 L227.1,1026.3 L227.9,1026.1 L228.7,1025.8 L229.5,1025.6 L230.3,1025.4 L231.1,1025.2 L231.9,1025 L232.7,1024.7 L233.5,1024.5 L234.3,1024.3 L235.1,1024.1 L235.9,1023.9 L236.7,1023.7 L237.5,1023.4 L238.3,1023.2 L239.1,1023 L239.9,1022.8 L240.7,1022.6 L241.5,1022.3 L242.3,1022.1 L243.1,1021.9 L243.9,1021.7 L244.7,1021.4 L245.5,1021.2 L246.3,1021 L247.1,1020.8 L247.9,1020.6 L248.7,1020.3 L249.5,1020.1 L250.3,1019.9 L251.1,1019.7 L251.9,1019.5 L252.7,1019.2 L253.5,1019 L254.3,1018.8 L255.1,1018.6 L255.9,1018.4 L256.7,1018.2 L257.5,1018 L258.3,1017.7 L259.1,1017.5 L259.9,1017.3 L260.7,1017.1 L261.5,1016.9 L262.3,1016.7 L263.1,1016.5 L263.9,1016.3 L264.7,1016.1 L265.5,1015.8 L266.3,1015.6 L267.1,1015.4 L267.9,1015.2 L268.7,1015 L269.5,1014.8 L270.3,1014.6 L271.1,1014.4 L271.9,1014.2 L272.7,1014 L273.5,1013.8 L274.3,1013.6 L275.1,1013.4 L275.9,1013.2 L276.7,1013 L277.5,1012.8 L278.3,1012.6 L279.1,1012.5 L279.9,1012.3 L280.7,1012.1 L281.5,1011.9 L282.3,1011.8 L283.1,1011.6 L283.9,1011.4 L284.7,1011.3 L285.5,1011.1 L286.3,1010.9 L287.1,1010.8 L287.9,1010.6 L288.7,1010.4 L289.5,1010.3 L290.3,1010.1 L291.1,1010 L291.9,1009.8 L292.7,1009.7 L293.5,1009.5 L294.3,1009.4 L295.1,1009.2 L295.9,1009.1 L296.7,1008.9 L297.5,1008.8 L298.3,1008.7 L299.1,1008.5 L299.9,1008.4 L300.7,1008.3 L301.5,1008.1 L302.3,1008 L303.1,1007.9 L303.9,1007.7 L304.7,1007.6 L305.5,1007.5 L306.3,1007.4 L307.1,1007.2 L307.9,1007.1 L308.7,1007 L309.5,1006.9 L310.3,1006.8 L311.1,1006.7 L311.9,1006.6 L312.7,1006.4 L313.5,1006.3 L314.3,1006.2 L315.1,1006.1 L315.9,1006 L316.7,1005.9 L317.5,1005.9 L318.3,1005.8 L319.1,1005.7 L319.9,1005.6 L320.7,1005.5 L321.5,1005.4 L322.3,1005.3 L323.1,1005.2 L323.9,1005.2 L324.7,1005.1 L325.5,1005 L326.3,1004.9 L327.1,1004.8 L327.9,1004.7 L328.7,1004.7 L329.5,1004.6 L330.3,1004.5 L331.1,1004.5 L331.9,1004.4 L332.7,1004.3 L333.5,1004.3 L334.3,1004.2 L335.1,1004.2 L335.9,1004.1 L336.7,1004.1 L337.5,1004 L338.3,1004 L339.1,1004 L339.9,1004 L340.7,1003.9 L341.5,1003.9 L342.3,1003.9 L343.1,1003.9 L343.9,1003.9 L344.7,1003.8 L345.5,1003.8 L346.3,1003.8 L347.1,1003.8 L347.9,1003.8 L348.7,1003.8 L349.5,1003.8 L350.3,1003.7 L351.1,1003.7 L351.9,1003.7 L352.7,1003.7 L353.5,1003.7 L354.3,1003.7 L355.1,1003.7 L355.9,1003.7 L356.7,1003.7 L357.5,1003.6 L358.3,1003.6 L359.1,1003.6 L359.9,1003.6 L360.7,1003.6 L361.5,1003.6 L362.3,1003.6 L363.1,1003.6 L363.9,1003.5 L364.7,1003.5 L365.5,1003.5 L366.3,1003.5 L367.1,1003.5 L367.9,1003.5 L368.7,1003.5 L369.5,1003.5 L370.3,1003.5 L371.1,1003.4 L371.9,1003.4 L372.7,1003.4 L373.5,1003.4 L374.3,1003.4 L375.1,1003.4 L375.9,1003.4 L376.7,1003.4 L377.5,1003.4 L378.3,1003.4 L379.1,1003.4 L379.9,1003.3 L380.7,1003.3 L381.5,1003.3 L382.3,1003.3 L383.1,1003.3 L383.9,1003.3 L384.7,1003.3 L385.5,1003.3 L386.3,1003.3 L387.1,1003.3 L387.9,1003.2 L388.7,1003.2 L389.5,1003.2 L390.3,1003.2 L391.1,1003.2 L391.9,1003.2 L392.7,1003.2 L393.5,1003.1 L394.3,1003.1 L395.1,1003.1 L395.9,1003.1 L396.7,1003.1 L397.5,1003.1 L398.3,1003 L399.1,1003 L399.9,1003 L400.7,1003 L401.5,1003 L402.3,1002.9 L403.1,1002.9 L403.9,1002.9 L404.7,1002.8 L405.5,1002.8 L406.3,1002.7 L407.1,1002.7 L407.9,1002.6 L408.7,1002.6 L409.5,1002.5 L410.3,1002.5 L411.1,1002.4 L411.9,1002.3 L412.7,1002.3 L413.5,1002.2 L414.3,1002.1 L415.1,1002.1 L415.9,1002 L416.7,1001.9 L417.5,1001.8 L418.3,1001.8 L419.1,1001.7 L419.9,1001.6 L420.7,1001.5 L421.5,1001.4 L422.3,1001.4 L423.1,1001.3 L423.9,1001.2 L424.7,1001.1 L425.5,1001 L426.3,1001 L427.1,1000.9 L427.9,1000.8 L428.7,1000.7 L429.5,1000.6 L430.3,1000.6 L431.1,1000.5 L431.9,1000.4 L432.7,1000.3 L433.5,1000.2 L434.3,1000.2 L435.1,1000.1 L435.9,1000 L436.7,999.9 L437.5,999.8 L438.3,999.8 L439.1,999.7 L439.9,999.6 L440.7,999.5 L441.5,999.4 L442.3,999.3 L443.1,999.3 L443.9,999.2 L444.7,999.1 L445.5,999 L446.3,998.9 L447.1,998.8 L447.9,998.7 L448.7,998.6 L449.5,998.5 L450.3,998.4 L451.1,998.3 L451.9,998.2 L452.7,998.1 L453.5,998 L454.3,997.9 L455.1,997.8 L455.9,997.7 L456.7,997.6 L457.5,997.5 L458.3,997.4 L459.1,997.3 L459.9,997.2 L460.7,997.1 L461.5,996.9 L462.3,996.8 L463.1,996.7 L463.9,996.6 L464.7,996.5 L465.5,996.3 L466.3,996.2 L467.1,996.1 L467.9,995.9 L468.7,995.8 L469.5,995.7 L470.3,995.5 L471.1,995.4 L471.9,995.2 L472.7,995.1 L473.5,994.9 L474.3,994.7 L475.1,994.5 L475.9,994.3 L476.7,994.1 L477.5,993.9 L478.3,993.7 L479.1,993.5 L479.9,993.3 L480.7,993.1 L481.5,992.8 L482.3,992.6 L483.1,992.4 L483.9,992.1 L484.7,991.9 L485.5,991.6 L486.3,991.4 L487.1,991.1 L487.9,990.9 L488.7,990.6 L489.5,990.4 L490.3,990.1 L491.1,989.9 L491.9,989.6 L492.7,989.3 L493.5,989.1 L494.3,988.8 L495.1,988.5 L495.9,988.3 L496.7,988 L497.5,987.8 L498.3,987.5 L499.1,987.3 L499.9,987 L500.7,986.8 L501.5,986.5 L502.3,986.3 L503.1,986 L503.9,985.8 L504.7,985.6 L505.5,985.3 L506.3,985.1 L507.1,984.9 L507.9,984.7 L508.7,984.5 L509.5,984.3 L510.3,984.1 L511.1,983.9 L511.9,983.7 L512.7,983.5 L513.5,983.3 L514.3,983.1 L515.1,982.9 L515.9,982.7 L516.7,982.6 L517.5,982.4 L518.3,982.2 L519.1,982 L519.9,981.8 L520.7,981.7 L521.5,981.5 L522.3,981.3 L523.1,981.1 L523.9,981 L524.7,980.8 L525.5,980.6 L526.3,980.4 L527.1,980.3 L527.9,980.1 L528.7,979.9 L529.5,979.8 L530.3,979.6 L531.1,979.4 L531.9,979.3 L532.7,979.1 L533.5,978.9 L534.3,978.8 L535.1,978.6 L535.9,978.4 L536.7,978.3 L537.5,978.1 L538.3,977.9 L539.1,977.8 L539.9,977.6 L540.7,977.4 L541.5,977.3 L542.3,977.1 L543.1,977 L543.9,976.8 L544.7,976.6 L545.5,976.5 L546.3,976.3 L547.1,976.1 L547.9,976 L548.7,975.8 L549.5,975.6 L550.3,975.5 L551.1,975.3 L551.9,975.1 L552.7,975 L553.5,974.8 L554.3,974.6 L555.1,974.5 L555.9,974.3 L556.7,974.2 L557.5,974 L558.3,973.8 L559.1,973.7 L559.9,973.5 L560.7,973.3 L561.5,973.2 L562.3,973 L563.1,972.8 L563.9,972.7 L564.7,972.5 L565.5,972.4 L566.3,972.2 L567.1,972 L567.9,971.9 L568.7,971.7 L569.5,971.6 L570.3,971.4 L571.1,971.2 L571.9,971.1 L572.7,970.9 L573.5,970.8 L574.3,970.6 L575.1,970.4 L575.9,970.3 L576.7,970.1 L577.5,970 L578.3,969.8 L579.1,969.7 L579.9,969.5 L580.7,969.3 L581.5,969.2 L582.3,969 L583.1,968.9 L583.9,968.7 L584.7,968.6 L585.5,968.4 L586.3,968.3 L587.1,968.1 L587.9,967.9 L588.7,967.8 L589.5,967.6 L590.3,967.5 L591.1,967.3 L591.9,967.2 L592.7,967 L593.5,966.9 L594.3,966.7 L595.1,966.6 L595.9,966.4 L596.7,966.3 L597.5,966.1 L598.3,966 L599.1,965.8 L599.9,965.7 L600.7,965.5 L601.5,965.4 L602.3,965.2 L603.1,965.1 L603.9,964.9 L604.7,964.8 L605.5,964.6 L606.3,964.5 L607.1,964.3 L607.9,964.2 L608.7,964.1 L609.5,963.9 L610.3,963.8 L611.1,963.6 L611.9,963.5 L612.7,963.3 L613.5,963.2 L614.3,963 L615.1,962.9 L615.9,962.8 L616.7,962.6 L617.5,962.5 L618.3,962.3 L619.1,962.2 L619.9,962 L620.7,961.9 L621.5,961.8 L622.3,961.6" fill="none" stroke="#e0222a" stroke-width="1.9" stroke-linejoin="round" stroke-linecap="round" stroke-dasharray="6.3,5.7" stroke-linecap="butt"/>
<path d="M207.9,1030.4 L208.7,1030.1 L209.5,1029.8 L210.3,1029.4 L211.1,1029.1 L211.9,1028.7 L212.7,1028.4 L213.5,1028 L214.3,1027.7 L215.1,1027.3 L215.9,1026.9 L216.7,1026.5 L217.5,1026.2 L218.3,1025.8 L219.1,1025.4 L219.9,1025 L220.7,1024.6 L221.5,1024.2 L222.3,1023.8 L223.1,1023.4 L223.9,1023 L224.7,1022.6 L225.5,1022.1 L226.3,1021.7 L227.1,1021.2 L227.9,1020.8 L228.7,1020.3 L229.5,1019.8 L230.3,1019.3 L231.1,1018.8 L231.9,1018.3 L232.7,1017.8 L233.5,1017.3 L234.3,1016.7 L235.1,1016.2 L235.9,1015.6 L236.7,1015 L237.5,1014.4 L238.3,1013.8 L239.1,1013.2 L239.9,1012.5 L240.7,1011.9 L241.5,1011.2 L242.3,1010.5 L243.1,1009.8 L243.9,1009.1 L244.7,1008.3 L245.5,1007.6 L246.3,1006.8 L247.1,1006 L247.9,1005.2 L248.7,1004.4 L249.5,1003.5 L250.3,1002.6 L251.1,1001.7 L251.9,1000.8 L252.7,999.9 L253.5,998.9 L254.3,997.9 L255.1,996.9 L255.9,995.9 L256.7,994.9 L257.5,993.8 L258.3,992.7 L259.1,991.6 L259.9,990.4 L260.7,989.2 L261.5,988 L262.3,986.8 L263.1,985.5 L263.9,984.2 L264.7,982.9 L265.5,981.6 L266.3,980.2 L267.1,978.8 L267.9,977.4 L268.7,975.9 L269.5,974.4 L270.3,972.9 L271.1,971.3 L271.9,969.7 L272.7,968.1 L273.5,966.4 L274.3,964.7 L275.1,963 L275.9,961.3 L276.7,959.5 L277.5,957.7 L278.3,955.8 L279.1,954 L279.9,952.1 L280.7,950.1 L281.5,948.1 L282.3,946.1 L283.1,944.1 L283.9,942 L284.7,939.9 L285.5,937.8 L286.3,935.6 L287.1,933.4 L287.9,931.1 L288.7,928.8 L289.5,926.5 L290.3,924.2 L291.1,921.8 L291.9,919.4 L292.7,916.9 L293.5,914.5 L294.3,912 L295.1,909.4 L295.9,906.9 L296.7,904.3 L297.5,901.6 L298.3,899 L299.1,896.3 L299.9,893.6 L300.7,890.9 L301.5,888.1 L302.3,885.3 L303.1,882.5 L303.9,879.6 L304.7,876.8 L305.5,873.9 L306.3,871 L307.1,868 L307.9,865.1 L308.7,862.1 L309.5,859.1 L310.3,856.1 L311.1,853.1 L311.9,850.1 L312.7,847 L313.5,844 L314.3,840.9 L315.1,837.8 L315.9,834.7 L316.7,831.6 L317.5,828.6 L318.3,825.5 L319.1,822.4 L319.9,819.3 L320.7,816.2 L321.5,813.1 L322.3,810 L323.1,806.9 L323.9,803.8 L324.7,800.7 L325.5,797.7 L326.3,794.6 L327.1,791.6 L327.9,788.5 L328.7,785.5 L329.5,782.5 L330.3,779.6 L331.1,776.6 L331.9,773.7 L332.7,770.8 L333.5,768 L334.3,765.1 L335.1,762.3 L335.9,759.6 L336.7,756.9 L337.5,754.2 L338.3,751.6 L339.1,749 L339.9,746.4 L340.7,743.9 L341.5,741.4 L342.3,739 L343.1,736.6 L343.9,734.3 L344.7,732.1 L345.5,729.8 L346.3,727.7 L347.1,725.6 L347.9,723.5 L348.7,721.5 L349.5,719.6 L350.3,717.7 L351.1,715.9 L351.9,714.2 L352.7,712.5 L353.5,710.9 L354.3,709.3 L355.1,707.8 L355.9,706.4 L356.7,705.1 L357.5,703.8 L358.3,702.6 L359.1,701.5 L359.9,700.4 L360.7,699.5 L361.5,698.5 L362.3,697.7 L363.1,697 L363.9,696.3 L364.7,695.7 L365.5,695.2 L366.3,694.8 L367.1,694.4 L367.9,694.1 L368.7,693.9 L369.5,693.8 L370.3,693.8 L371.1,693.8 L371.9,693.9 L372.7,694.1 L373.5,694.4 L374.3,694.8 L375.1,695.2 L375.9,695.7 L376.7,696.3 L377.5,697 L378.3,697.7 L379.1,698.5 L379.9,699.4 L380.7,700.4 L381.5,701.5 L382.3,702.6 L383.1,703.8 L383.9,705.1 L384.7,706.4 L385.5,707.8 L386.3,709.3 L387.1,710.8 L387.9,712.4 L388.7,714.1 L389.5,715.8 L390.3,717.6 L391.1,719.5 L391.9,721.4 L392.7,723.4 L393.5,725.4 L394.3,727.5 L395.1,729.7 L395.9,731.9 L396.7,734.1 L397.5,736.4 L398.3,738.8 L399.1,741.1 L399.9,743.6 L400.7,746.1 L401.5,748.6 L402.3,751.1 L403.1,753.7 L403.9,756.3 L404.7,759 L405.5,761.6 L406.3,764.3 L407.1,767.1 L407.9,769.8 L408.7,772.6 L409.5,775.4 L410.3,778.2 L411.1,781.1 L411.9,783.9 L412.7,786.8 L413.5,789.7 L414.3,792.6 L415.1,795.5 L415.9,798.4 L416.7,801.3 L417.5,804.2 L418.3,807.1 L419.1,810.1 L419.9,813 L420.7,815.9 L421.5,818.9 L422.3,821.8 L423.1,824.7 L423.9,827.6 L424.7,830.6 L425.5,833.5 L426.3,836.3 L427.1,839.2 L427.9,842.1 L428.7,845 L429.5,847.8 L430.3,850.6 L431.1,853.4 L431.9,856.2 L432.7,859 L433.5,861.7 L434.3,864.5 L435.1,867.2 L435.9,869.9 L436.7,872.5 L437.5,875.1 L438.3,877.7 L439.1,880.3 L439.9,882.9 L440.7,885.4 L441.5,887.9 L442.3,890.3 L443.1,892.7 L443.9,895.1 L444.7,897.5 L445.5,899.8 L446.3,902.1 L447.1,904.4 L447.9,906.6 L448.7,908.8 L449.5,910.9 L450.3,913.1 L451.1,915.1 L451.9,917.2 L452.7,919.2 L453.5,921.2 L454.3,923.1 L455.1,925 L455.9,926.9 L456.7,928.7 L457.5,930.5 L458.3,932.2 L459.1,934 L459.9,935.6 L460.7,937.3 L461.5,938.9 L462.3,940.4 L463.1,942 L463.9,943.5 L464.7,944.9 L465.5,946.3 L466.3,947.7 L467.1,949.1 L467.9,950.4 L468.7,951.7 L469.5,952.9 L470.3,954.1 L471.1,955.3 L471.9,956.4 L472.7,957.5 L473.5,958.6 L474.3,959.6 L475.1,960.6 L475.9,961.5 L476.7,962.4 L477.5,963.3 L478.3,964.1 L479.1,964.9 L479.9,965.7 L480.7,966.4 L481.5,967.1 L482.3,967.8 L483.1,968.4 L483.9,969 L484.7,969.6 L485.5,970.2 L486.3,970.7 L487.1,971.2 L487.9,971.7 L488.7,972.2 L489.5,972.6 L490.3,973 L491.1,973.4 L491.9,973.8 L492.7,974.1 L493.5,974.4 L494.3,974.8 L495.1,975 L495.9,975.3 L496.7,975.6 L497.5,975.8 L498.3,976 L499.1,976.3 L499.9,976.4 L500.7,976.6 L501.5,976.8 L502.3,977 L503.1,977.1 L503.9,977.2 L504.7,977.4 L505.5,977.5 L506.3,977.6 L507.1,977.7 L507.9,977.8 L508.7,977.9 L509.5,978 L510.3,978.1 L511.1,978.1 L511.9,978.2 L512.7,978.3 L513.5,978.3 L514.3,978.3 L515.1,978.4 L515.9,978.4 L516.7,978.4 L517.5,978.4 L518.3,978.4 L519.1,978.4 L519.9,978.4 L520.7,978.4 L521.5,978.4 L522.3,978.3 L523.1,978.3 L523.9,978.3 L524.7,978.2 L525.5,978.2 L526.3,978.1 L527.1,978.1 L527.9,978 L528.7,977.9 L529.5,977.9 L530.3,977.8 L531.1,977.7 L531.9,977.6 L532.7,977.6" fill="none" stroke="#e0222a" stroke-width="1.7" stroke-linejoin="round" stroke-linecap="round" stroke-dasharray="6.3,5.7" stroke-linecap="butt"/>
<path d="M354.3,1001.9 L355.1,1001.9 L355.9,1001.9 L356.7,1001.8 L357.5,1001.8 L358.3,1001.8 L359.1,1001.7 L359.9,1001.7 L360.7,1001.6 L361.5,1001.6 L362.3,1001.5 L363.1,1001.5 L363.9,1001.5 L364.7,1001.4 L365.5,1001.4 L366.3,1001.3 L367.1,1001.3 L367.9,1001.2 L368.7,1001.2 L369.5,1001.1 L370.3,1001.1 L371.1,1001 L371.9,1001 L372.7,1000.9 L373.5,1000.9 L374.3,1000.8 L375.1,1000.8 L375.9,1000.7 L376.7,1000.6 L377.5,1000.6 L378.3,1000.5 L379.1,1000.4 L379.9,1000.4 L380.7,1000.3 L381.5,1000.2 L382.3,1000.1 L383.1,1000.1 L383.9,1000 L384.7,999.9 L385.5,999.8 L386.3,999.7 L387.1,999.6 L387.9,999.5 L388.7,999.4 L389.5,999.2 L390.3,999.1 L391.1,999 L391.9,998.8 L392.7,998.7 L393.5,998.5 L394.3,998.3 L395.1,998.1 L395.9,997.9 L396.7,997.7 L397.5,997.4 L398.3,997.2 L399.1,996.9 L399.9,996.6 L400.7,996.3 L401.5,996 L402.3,995.6 L403.1,995.2 L403.9,994.8 L404.7,994.3 L405.5,993.8 L406.3,993.3 L407.1,992.8 L407.9,992.2 L408.7,991.5 L409.5,990.8 L410.3,990.1 L411.1,989.3 L411.9,988.4 L412.7,987.6 L413.5,986.6 L414.3,985.6 L415.1,984.5 L415.9,983.4 L416.7,982.2 L417.5,981 L418.3,979.6 L419.1,978.2 L419.9,976.7 L420.7,975.2 L421.5,973.6 L422.3,971.9 L423.1,970.1 L423.9,968.2 L424.7,966.3 L425.5,964.3 L426.3,962.2 L427.1,960 L427.9,957.7 L428.7,955.4 L429.5,952.9 L430.3,950.4 L431.1,947.9 L431.9,945.2 L432.7,942.5 L433.5,939.7 L434.3,936.9 L435.1,934 L435.9,931 L436.7,928.1 L437.5,925 L438.3,921.9 L439.1,918.8 L439.9,915.7 L440.7,912.6 L441.5,909.4 L442.3,906.3 L443.1,903.2 L443.9,900.1 L444.7,897 L445.5,894 L446.3,891 L447.1,888.1 L447.9,885.3 L448.7,882.5 L449.5,879.9 L450.3,877.4 L451.1,875 L451.9,872.7 L452.7,870.6 L453.5,868.6 L454.3,866.9 L455.1,865.3 L455.9,863.9 L456.7,862.7 L457.5,861.7 L458.3,860.9 L459.1,860.3 L459.9,860 L460.7,859.9 L461.5,860 L462.3,860.3 L463.1,860.9 L463.9,861.6 L464.7,862.6 L465.5,863.8 L466.3,865.1 L467.1,866.7 L467.9,868.4 L468.7,870.3 L469.5,872.3 L470.3,874.4 L471.1,876.7 L471.9,879.1 L472.7,881.6 L473.5,884.2 L474.3,886.8 L475.1,889.5 L475.9,892.2 L476.7,895 L477.5,897.8 L478.3,900.7 L479.1,903.5 L479.9,906.3 L480.7,909.2 L481.5,912 L482.3,914.8 L483.1,917.5 L483.9,920.3 L484.7,922.9 L485.5,925.6 L486.3,928.1 L487.1,930.6 L487.9,933.1 L488.7,935.5 L489.5,937.8 L490.3,940 L491.1,942.2 L491.9,944.2 L492.7,946.2 L493.5,948.2 L494.3,950 L495.1,951.8 L495.9,953.5 L496.7,955.1 L497.5,956.6 L498.3,958 L499.1,959.4 L499.9,960.7 L500.7,961.9 L501.5,963.1 L502.3,964.1 L503.1,965.2 L503.9,966.1 L504.7,967 L505.5,967.8 L506.3,968.6 L507.1,969.3 L507.9,970 L508.7,970.6 L509.5,971.2 L510.3,971.7 L511.1,972.2 L511.9,972.6 L512.7,973 L513.5,973.4 L514.3,973.7 L515.1,974 L515.9,974.3 L516.7,974.5 L517.5,974.7 L518.3,974.9 L519.1,975 L519.9,975.2 L520.7,975.3 L521.5,975.4 L522.3,975.5 L523.1,975.5 L523.9,975.6 L524.7,975.6 L525.5,975.6 L526.3,975.6 L527.1,975.6 L527.9,975.6 L528.7,975.6 L529.5,975.5 L530.3,975.5 L531.1,975.4 L531.9,975.4 L532.7,975.3 L533.5,975.3 L534.3,975.2 L535.1,975.1 L535.9,975 L536.7,974.9 L537.5,974.9 L538.3,974.8 L539.1,974.7 L539.9,974.6 L540.7,974.5 L541.5,974.4 L542.3,974.3 L543.1,974.2 L543.9,974 L544.7,973.9 L545.5,973.8 L546.3,973.7 L547.1,973.6 L547.9,973.5 L548.7,973.3 L549.5,973.2 L550.3,973.1 L551.1,973 L551.9,972.8 L552.7,972.7 L553.5,972.6 L554.3,972.5 L555.1,972.3 L555.9,972.2 L556.7,972.1 L557.5,971.9 L558.3,971.8 L559.1,971.7 L559.9,971.5 L560.7,971.4 L561.5,971.3 L562.3,971.1 L563.1,971 L563.9,970.9 L564.7,970.7 L565.5,970.6 L566.3,970.5" fill="none" stroke="#e0222a" stroke-width="1.7" stroke-linejoin="round" stroke-linecap="round" stroke-dasharray="6.3,5.7" stroke-linecap="butt"/>
<path d="M398.3,1001.3 L399.1,1001.3 L399.9,1001.2 L400.7,1001.2 L401.5,1001.1 L402.3,1001.1 L403.1,1001 L403.9,1001 L404.7,1000.9 L405.5,1000.9 L406.3,1000.8 L407.1,1000.7 L407.9,1000.6 L408.7,1000.6 L409.5,1000.5 L410.3,1000.4 L411.1,1000.3 L411.9,1000.2 L412.7,1000.2 L413.5,1000.1 L414.3,1000 L415.1,999.9 L415.9,999.8 L416.7,999.7 L417.5,999.6 L418.3,999.5 L419.1,999.4 L419.9,999.3 L420.7,999.2 L421.5,999.1 L422.3,999 L423.1,998.8 L423.9,998.7 L424.7,998.6 L425.5,998.5 L426.3,998.4 L427.1,998.3 L427.9,998.2 L428.7,998.1 L429.5,998 L430.3,997.9 L431.1,997.8 L431.9,997.6 L432.7,997.5 L433.5,997.4 L434.3,997.3 L435.1,997.2 L435.9,997.1 L436.7,997 L437.5,996.8 L438.3,996.7 L439.1,996.6 L439.9,996.5 L440.7,996.3 L441.5,996.2 L442.3,996.1 L443.1,996 L443.9,995.8 L444.7,995.7 L445.5,995.6 L446.3,995.4 L447.1,995.3 L447.9,995.1 L448.7,995 L449.5,994.9 L450.3,994.7 L451.1,994.6 L451.9,994.4 L452.7,994.3 L453.5,994.1 L454.3,993.9 L455.1,993.8 L455.9,993.6 L456.7,993.4 L457.5,993.3 L458.3,993.1 L459.1,992.9 L459.9,992.7 L460.7,992.6 L461.5,992.4 L462.3,992.2 L463.1,992 L463.9,991.8 L464.7,991.6 L465.5,991.4 L466.3,991.2 L467.1,991 L467.9,990.7 L468.7,990.5 L469.5,990.3 L470.3,990.1 L471.1,989.8 L471.9,989.6 L472.7,989.3 L473.5,989.1 L474.3,988.8 L475.1,988.5 L475.9,988.2 L476.7,987.9 L477.5,987.6 L478.3,987.2 L479.1,986.9 L479.9,986.6 L480.7,986.2 L481.5,985.8 L482.3,985.5 L483.1,985.1 L483.9,984.7 L484.7,984.3 L485.5,983.9 L486.3,983.5 L487.1,983.1 L487.9,982.7 L488.7,982.3 L489.5,981.9 L490.3,981.4 L491.1,981 L491.9,980.5 L492.7,980.1 L493.5,979.6 L494.3,979.1 L495.1,978.6 L495.9,978.2 L496.7,977.7 L497.5,977.2 L498.3,976.7 L499.1,976.2 L499.9,975.6 L500.7,975.1 L501.5,974.6 L502.3,974.1 L503.1,973.5 L503.9,973 L504.7,972.4 L505.5,971.8 L506.3,971.2 L507.1,970.7 L507.9,970.1 L508.7,969.5 L509.5,968.9 L510.3,968.2 L511.1,967.6 L511.9,966.9 L512.7,966.3 L513.5,965.6 L514.3,964.9 L515.1,964.2 L515.9,963.4 L516.7,962.7 L517.5,961.9 L518.3,961.1 L519.1,960.3 L519.9,959.4 L520.7,958.5 L521.5,957.7 L522.3,956.7 L523.1,955.8 L523.9,954.8 L524.7,953.8 L525.5,952.8 L526.3,951.7 L527.1,950.6 L527.9,949.5 L528.7,948.3 L529.5,947.1 L530.3,945.9 L531.1,944.6 L531.9,943.3 L532.7,942 L533.5,940.6 L534.3,939.2 L535.1,937.8 L535.9,936.3 L536.7,934.8 L537.5,933.3 L538.3,931.7 L539.1,930.1 L539.9,928.5 L540.7,926.9 L541.5,925.2 L542.3,923.5 L543.1,921.9 L543.9,920.2 L544.7,918.5 L545.5,916.9 L546.3,915.2 L547.1,913.6 L547.9,912 L548.7,910.5 L549.5,909 L550.3,907.6 L551.1,906.2 L551.9,904.9 L552.7,903.8 L553.5,902.7 L554.3,901.7 L555.1,900.9 L555.9,900.2 L556.7,899.6 L557.5,899.2 L558.3,898.8 L559.1,898.7 L559.9,898.7 L560.7,898.8 L561.5,899 L562.3,899.4 L563.1,899.9 L563.9,900.6 L564.7,901.3 L565.5,902.2 L566.3,903.1 L567.1,904.1 L567.9,905.2 L568.7,906.4 L569.5,907.6 L570.3,908.9 L571.1,910.1 L571.9,911.5 L572.7,912.8 L573.5,914.2 L574.3,915.5 L575.1,916.9 L575.9,918.2 L576.7,919.5 L577.5,920.8 L578.3,922.1 L579.1,923.4 L579.9,924.6 L580.7,925.9 L581.5,927 L582.3,928.2 L583.1,929.3 L583.9,930.4 L584.7,931.4 L585.5,932.4 L586.3,933.4 L587.1,934.4 L587.9,935.3 L588.7,936.2 L589.5,937 L590.3,937.8 L591.1,938.6 L591.9,939.3 L592.7,940 L593.5,940.7 L594.3,941.4 L595.1,942 L595.9,942.6 L596.7,943.2 L597.5,943.7 L598.3,944.2 L599.1,944.7 L599.9,945.2 L600.7,945.6 L601.5,946.1 L602.3,946.5 L603.1,946.9 L603.9,947.2 L604.7,947.6 L605.5,947.9 L606.3,948.2 L607.1,948.5 L607.9,948.8 L608.7,949.1 L609.5,949.3 L610.3,949.5 L611.1,949.8 L611.9,950 L612.7,950.2 L613.5,950.3 L614.3,950.5 L615.1,950.7 L615.9,950.8 L616.7,951 L617.5,951.1 L618.3,951.2 L619.1,951.3 L619.9,951.5 L620.7,951.5 L621.5,951.6 L622.3,951.7" fill="none" stroke="#e0222a" stroke-width="1.7" stroke-linejoin="round" stroke-linecap="round" stroke-dasharray="6.3,5.7" stroke-linecap="butt"/>
<line x1="523.7" y1="656.3" x2="568.3" y2="656.3" stroke="#d0d0d0" stroke-width="2.2" />
<text x="572.6" y="662.9" font-family="'Liberation Serif', serif" font-size="18.9" fill="#111" text-anchor="start" >Raw Line</text>
<line x1="523.7" y1="680.5" x2="568.3" y2="680.5" stroke="#22f21e" stroke-width="2.6" />
<text x="572.6" y="687.1" font-family="'Liberation Serif', serif" font-size="18.9" fill="#111" text-anchor="start" >Baseline</text>
<line x1="523.7" y1="704.2" x2="568.3" y2="704.2" stroke="#f01024" stroke-width="2.6" />
<text x="572.6" y="710.8" font-family="'Liberation Serif', serif" font-size="18.9" fill="#111" text-anchor="start" >Fitting Line</text>
<line x1="523.7" y1="728" x2="568.3" y2="728" stroke="#f01024" stroke-width="1.6" stroke-dasharray="7.2,5"/>
<text x="572.6" y="734.6" font-family="'Liberation Serif', serif" font-size="18.9" fill="#111" text-anchor="start" >Adding Peak</text>
<text x="329.8" y="666.7" font-family="'Liberation Serif', serif" fill="#111" text-anchor="start"><tspan font-size="23.8" dy="0">Mo3d</tspan><tspan font-size="16" dy="6.3">5/2</tspan></text>
<text x="423.1" y="760.9" font-family="'Liberation Serif', serif" fill="#111" text-anchor="start"><tspan font-size="23.8" dy="0">Mo3d</tspan><tspan font-size="16" dy="6.3">3/2</tspan></text>
<text x="524.2" y="870.7" font-family="'Liberation Serif', serif" fill="#111" text-anchor="start"><tspan font-size="23.8" dy="0">Mo3d</tspan><tspan font-size="16" dy="6.3">5/2</tspan></text>
<text x="346" y="1073.1" font-family="'Liberation Serif', serif" fill="#111" text-anchor="start"><tspan font-size="23.8" dy="0">MoO</tspan><tspan font-size="16" dy="6.3">2</tspan></text>
<text x="548" y="1032.2" font-family="'Liberation Serif', serif" font-size="24.3" fill="#111" text-anchor="start" >MoO3</text>
<line x1="330.7" y1="948.3" x2="356.29" y2="1020.49" stroke="#111" stroke-width="1.5"/>
<path d="M360.3,1031.8 L351.85,1019.94 L359.39,1017.27 Z" fill="#111"/>
<line x1="453.8" y1="965.9" x2="410.91" y2="1024.23" stroke="#111" stroke-width="1.5"/>
<path d="M403.8,1033.9 L408.87,1020.25 L415.32,1024.99 Z" fill="#111"/>
<line x1="560.2" y1="952.7" x2="584.68" y2="992.2" stroke="#111" stroke-width="1.5"/>
<path d="M591,1002.4 L580.23,992.61 L587.03,988.39 Z" fill="#111"/>
<rect x="758.3" y="629.8" width="618.5" height="496.4" fill="none" stroke="#111" stroke-width="2.0" stroke-linejoin="round"/>
<line x1="814.55" y1="1126.2" x2="814.55" y2="1116.7" stroke="#111" stroke-width="1.6"/>
<line x1="927.05" y1="1126.2" x2="927.05" y2="1116.7" stroke="#111" stroke-width="1.6"/>
<line x1="1039.55" y1="1126.2" x2="1039.55" y2="1116.7" stroke="#111" stroke-width="1.6"/>
<line x1="1152.05" y1="1126.2" x2="1152.05" y2="1116.7" stroke="#111" stroke-width="1.6"/>
<line x1="1264.55" y1="1126.2" x2="1264.55" y2="1116.7" stroke="#111" stroke-width="1.6"/>
<text x="814.55" y="1153.8" font-family="'Liberation Serif', serif" font-size="22" fill="#111" text-anchor="middle" >195</text>
<text x="927.05" y="1153.8" font-family="'Liberation Serif', serif" font-size="22" fill="#111" text-anchor="middle" >200</text>
<text x="1039.55" y="1153.8" font-family="'Liberation Serif', serif" font-size="22" fill="#111" text-anchor="middle" >205</text>
<text x="1152.05" y="1153.8" font-family="'Liberation Serif', serif" font-size="22" fill="#111" text-anchor="middle" >210</text>
<text x="1264.55" y="1153.8" font-family="'Liberation Serif', serif" font-size="22" fill="#111" text-anchor="middle" >215</text>
<text x="1377.05" y="1153.8" font-family="'Liberation Serif', serif" font-size="22" fill="#111" text-anchor="middle" >220</text>
<text x="0" y="0" font-family="'Liberation Serif', serif" font-size="26.5" fill="#111" text-anchor="middle" transform="translate(737.6,863.4) rotate(-90)">Intensity/CPS</text>
<text x="1066.9" y="1183.9" font-family="'Liberation Serif', serif" font-size="26.4" fill="#111" text-anchor="middle" >Binding energy/ev</text>
<text x="780.6" y="665.4" font-family="'Liberation Serif', serif" font-size="34" fill="#111" text-anchor="start" >(d)</text>
<path d="M839.1,1075.5 L839.8,1069 L840.5,1062.4 L841.2,1057.6 L841.9,1062.9 L842.6,1068.3 L843.3,1071.7 L844,1070.5 L844.7,1069.3 L845.4,1069.3 L846.1,1071 L846.8,1072.6 L847.5,1072.6 L848.2,1071.3 L848.9,1070.1 L849.6,1071.1 L850.3,1072.9 L851,1074.8 L851.7,1073 L852.4,1070.6 L853.1,1068.2 L853.8,1067.5 L854.5,1066.7 L855.2,1066.3 L855.9,1067.7 L856.6,1069.1 L857.3,1070.1 L858,1069.9 L858.7,1069.6 L859.4,1069.1 L860.1,1068 L860.8,1066.9 L861.5,1066.5 L862.2,1066.6 L862.9,1066.8 L863.6,1067.7 L864.3,1069 L865,1070.2 L865.7,1070.4 L866.4,1070.3 L867.1,1070.3 L867.8,1068.6 L868.5,1067 L869.2,1065.7 L869.9,1065.8 L870.6,1065.9 L871.3,1065.5 L872,1063.5 L872.7,1061.6 L873.4,1062.5 L874.1,1067.1 L874.8,1071.7 L875.5,1072.2 L876.2,1069.6 L876.9,1067.1 L877.6,1067.8 L878.3,1069.9 L879,1071.9 L879.7,1071.1 L880.4,1069.9 L881.1,1068.6 L881.8,1070.6 L882.5,1072.6 L883.2,1074.3 L883.9,1073.7 L884.6,1073.1 L885.3,1072.2 L886,1070.6 L886.7,1068.9 L887.4,1068.6 L888.1,1070.2 L888.8,1071.7 L889.5,1070.5 L890.2,1067.2 L890.9,1063.9 L891.6,1065.1 L892.3,1068 L893,1070.9 L893.7,1068.2 L894.4,1064.5 L895.1,1060.8 L895.8,1063.2 L896.5,1065.6 L897.2,1067.8 L897.9,1068.7 L898.6,1069.7 L899.3,1070 L900,1068.8 L900.7,1067.7 L901.4,1066.7 L902.1,1065.9 L902.8,1065 L903.5,1064.3 L904.2,1063.7 L904.9,1063.1 L905.6,1063.4 L906.3,1063.9 L907,1064.5 L907.7,1066.2 L908.4,1068 L909.1,1069.8 L909.8,1069.6 L910.5,1069.3 L911.2,1068.9 L911.9,1067.3 L912.6,1065.8 L913.3,1064.3 L914,1062.9 L914.7,1061.6 L915.4,1061.9 L916.1,1064.4 L916.8,1066.9 L917.5,1066.4 L918.2,1063.5 L918.9,1060.7 L919.6,1060.7 L920.3,1061.9 L921,1063.1 L921.7,1063 L922.4,1062.7 L923.1,1062.4 L923.8,1064.3 L924.5,1066.2 L925.2,1067.8 L925.9,1067.1 L926.6,1066.4 L927.3,1065.9 L928,1066.2 L928.7,1066.5 L929.4,1066.5 L930.1,1066.2 L930.8,1065.9 L931.5,1065.1 L932.2,1063.8 L932.9,1062.5 L933.6,1063.2 L934.3,1064.8 L935,1066.4 L935.7,1067.6 L936.4,1068.7 L937.1,1069.8 L937.8,1067.9 L938.5,1065.9 L939.2,1064.3 L939.9,1065.2 L940.6,1066 L941.3,1066.4 L942,1065.3 L942.7,1064.3 L943.4,1064.3 L944.1,1065.8 L944.8,1067.3 L945.5,1067.6 L946.2,1067.1 L946.9,1066.6 L947.6,1066.6 L948.3,1066.9 L949,1067.1 L949.7,1066.5 L950.4,1065.8 L951.1,1065 L951.8,1066.7 L952.5,1068.4 L953.2,1069.5 L953.9,1066.8 L954.6,1064.1 L955.3,1062.2 L956,1062.2 L956.7,1062.2 L957.4,1062 L958.1,1061.6 L958.8,1061.2 L959.5,1062 L960.2,1063.5 L960.9,1065.1 L961.6,1064.3 L962.3,1062.7 L963,1061 L963.7,1060.7 L964.4,1060.6 L965.1,1060.5 L965.8,1062.3 L966.5,1064.1 L967.2,1065.7 L967.9,1066.3 L968.6,1066.8 L969.3,1066.9 L970,1066.1 L970.7,1065.3 L971.4,1062.9 L972.1,1058.6 L972.8,1054.2 L973.5,1053.6 L974.2,1055.9 L974.9,1058.1 L975.6,1058.6 L976.3,1058.4 L977,1058.2 L977.7,1058 L978.4,1057.8 L979.1,1057.6 L979.8,1058.6 L980.5,1059.6 L981.2,1060.9 L981.9,1063.8 L982.6,1066.7 L983.3,1068 L984,1065.1 L984.7,1062.2 L985.4,1060.3 L986.1,1059.7 L986.8,1059.1 L987.5,1059.9 L988.2,1061.7 L988.9,1063.6 L989.6,1063.5 L990.3,1062.6 L991,1061.7 L991.7,1061.6 L992.4,1061.6 L993.1,1061.6 L993.8,1060.5 L994.5,1059.4 L995.2,1058.5 L995.9,1059.4 L996.6,1060.3 L997.3,1061 L998,1061.6 L998.7,1062.1 L999.4,1061 L1000.1,1057.9 L1000.8,1054.8 L1001.5,1053.7 L1002.2,1054.1 L1002.9,1054.5 L1003.6,1057.2 L1004.3,1060.8 L1005,1064.4 L1005.7,1064.7 L1006.4,1064.4 L1007.1,1064.1 L1007.8,1062.3 L1008.5,1060.6 L1009.2,1058.9 L1009.9,1058.3 L1010.6,1057.6 L1011.3,1057.5 L1012,1058.6 L1012.7,1059.7 L1013.4,1059.8 L1014.1,1058.4 L1014.8,1057.1 L1015.5,1057.2 L1016.2,1058.3 L1016.9,1059.5 L1017.6,1061.7 L1018.3,1064.3 L1019,1066.9 L1019.7,1065.6 L1020.4,1063.5 L1021.1,1061.5 L1021.8,1062.8 L1022.5,1064.2 L1023.2,1065 L1023.9,1063.1 L1024.6,1061.2 L1025.3,1060 L1026,1060.7 L1026.7,1061.4 L1027.4,1062.3 L1028.1,1063.4 L1028.8,1064.6 L1029.5,1062.9 L1030.2,1059 L1030.9,1055.2 L1031.6,1054.8 L1032.3,1055.8 L1033,1056.8 L1033.7,1056.7 L1034.4,1056.3 L1035.1,1055.9 L1035.8,1055.7 L1036.5,1055.3 L1037.2,1054.9 L1037.9,1055.2 L1038.6,1055.4 L1039.3,1054.5 L1040,1051.3 L1040.7,1047.6 L1041.4,1042.8 L1042.1,1036.6 L1042.8,1030.1 L1043.5,1025.8 L1044.2,1022.9 L1044.9,1019.5 L1045.6,1013.9 L1046.3,1007 L1047,999.6 L1047.7,992.2 L1048.4,984.4 L1049.1,975.9 L1049.8,970.7 L1050.5,964.8 L1051.2,957.2 L1051.9,942.1 L1052.6,926.4 L1053.3,911.7 L1054,900.7 L1054.7,889.2 L1055.4,876 L1056.1,860.7 L1056.8,845.2 L1057.5,831.4 L1058.2,818.9 L1058.9,806.5 L1059.6,792.2 L1060.3,777.3 L1061,762.8 L1061.7,749.2 L1062.4,736.2 L1063.1,724 L1063.8,712.7 L1064.5,702.5 L1065.2,693.6 L1065.9,687.6 L1066.6,682.8 L1067.3,678.3 L1068,672.1 L1068.7,667.4 L1069.4,665.6 L1070.1,667 L1070.8,670 L1071.5,674 L1072.2,679.1 L1072.9,685.5 L1073.6,695.9 L1074.3,708.6 L1075,722.2 L1075.7,732.2 L1076.4,742.1 L1077.1,752.7 L1077.8,765 L1078.5,777.7 L1079.2,791 L1079.9,806 L1080.6,821 L1081.3,836.8 L1082,854.6 L1082.7,872.2 L1083.4,886.3 L1084.1,895.8 L1084.8,904.7 L1085.5,915.9 L1086.2,928.5 L1086.9,940.5 L1087.6,950.6 L1088.3,959.6 L1089,967.9 L1089.7,975.4 L1090.4,982.3 L1091.1,988.5 L1091.8,993.8 L1092.5,998.6 L1093.2,1002.9 L1093.9,1007.9 L1094.6,1012.4 L1095.3,1016.2 L1096,1019.2 L1096.7,1021.7 L1097.4,1022.7 L1098.1,1022 L1098.8,1020.8 L1099.5,1024.3 L1100.2,1031.3 L1100.9,1037.9 L1101.6,1038 L1102.3,1035.3 L1103,1032.2 L1103.7,1029.8 L1104.4,1027.2 L1105.1,1024.3 L1105.8,1021.7 L1106.5,1018.6 L1107.2,1015.2 L1107.9,1011 L1108.6,1006.4 L1109.3,1002.3 L1110,999.9 L1110.7,997.1 L1111.4,992.2 L1112.1,984.7 L1112.8,976.7 L1113.5,969.6 L1114.2,963.1 L1114.9,956.3 L1115.6,946.5 L1116.3,935.5 L1117,924.1 L1117.7,916.6 L1118.4,909.6 L1119.1,902.3 L1119.8,894.8 L1120.5,887.2 L1121.2,878.9 L1121.9,866.2 L1122.6,853.8 L1123.3,842.9 L1124,835.7 L1124.7,829 L1125.4,821.9 L1126.1,814.1 L1126.8,807.2 L1127.5,802.6 L1128.2,800.1 L1128.9,798.8 L1129.6,797.5 L1130.3,797 L1131,797.7 L1131.7,798.5 L1132.4,800.2 L1133.1,803 L1133.8,807.4 L1134.5,812.6 L1135.2,819 L1135.9,827.7 L1136.6,837 L1137.3,846.4 L1138,855.2 L1138.7,864.2 L1139.4,873.2 L1140.1,881.9 L1140.8,890.7 L1141.5,900.7 L1142.2,911.5 L1142.9,922.1 L1143.6,931.4 L1144.3,940 L1145,948.3 L1145.7,954.7 L1146.4,960.4 L1147.1,965.8 L1147.8,973.5 L1148.5,980.8 L1149.2,988 L1149.9,997.5 L1150.6,1006.5 L1151.3,1013.1 L1152,1014.5 L1152.7,1015.5 L1153.4,1016.9 L1154.1,1019.1 L1154.8,1020.9 L1155.5,1024.9 L1156.2,1030.3 L1156.9,1035.6 L1157.6,1035.4 L1158.3,1033.1 L1159,1030.5 L1159.7,1028.9 L1160.4,1027.3 L1161.1,1025.6 L1161.8,1027.2 L1162.5,1028.7 L1163.2,1030.1 L1163.9,1031.2 L1164.6,1032.2 L1165.3,1033.7 L1166,1036.5 L1166.7,1039.2 L1167.4,1041.3 L1168.1,1042.5 L1168.8,1043.7 L1169.5,1042 L1170.2,1038.1 L1170.9,1034.4 L1171.6,1036.8 L1172.3,1041.6 L1173,1046.4 L1173.7,1044.8 L1174.4,1042.1 L1175.1,1039.4 L1175.8,1041.7 L1176.5,1044.1 L1177.2,1046.2 L1177.9,1046.9 L1178.6,1047.5 L1179.3,1048.1 L1180,1048.4 L1180.7,1048.4 L1181.4,1048.2 L1182.1,1047.7 L1182.8,1047.3 L1183.5,1047.2 L1184.2,1047.5 L1184.9,1047.8 L1185.6,1046.6 L1186.3,1044.9 L1187,1043.3 L1187.7,1044.7 L1188.4,1046.6 L1189.1,1048.5 L1189.8,1049.5 L1190.5,1050.5 L1191.2,1051.3 L1191.9,1051.2 L1192.6,1051.2 L1193.3,1051.8 L1194,1054.1 L1194.7,1056.3 L1195.4,1056.8 L1196.1,1054.8 L1196.8,1052.7 L1197.5,1051.6 L1198.2,1051.2 L1198.9,1050.7 L1199.6,1051.5 L1200.3,1052.7 L1201,1054 L1201.7,1052.5 L1202.4,1050.7 L1203.1,1048.8 L1203.8,1046.7 L1204.5,1044.7 L1205.2,1042.8 L1205.9,1041.5 L1206.6,1040.3 L1207.3,1040.7 L1208,1045.4 L1208.7,1050.1 L1209.4,1052.3 L1210.1,1051.4 L1210.8,1050.4 L1211.5,1050.2 L1212.2,1050.6 L1212.9,1051 L1213.6,1049.9 L1214.3,1048.4 L1215,1046.8 L1215.7,1047.3 L1216.4,1048.2 L1217.1,1049.1 L1217.8,1051.2 L1218.5,1053.2 L1219.2,1054.6 L1219.9,1052.6 L1220.6,1050.5 L1221.3,1048.5 L1222,1046.5 L1222.7,1044.6 L1223.4,1043.8 L1224.1,1044.7 L1224.8,1045.6 L1225.5,1047.4 L1226.2,1049.8 L1226.9,1052.2 L1227.6,1050.5 L1228.3,1047.2 L1229,1043.9 L1229.7,1041.7 L1230.4,1039.7 L1231.1,1037.7 L1231.8,1038.1 L1232.5,1038.4 L1233.2,1038.9 L1233.9,1040.2 L1234.6,1041.4 L1235.3,1043.1 L1236,1045.9 L1236.7,1048.8 L1237.4,1050 L1238.1,1049 L1238.8,1048 L1239.5,1047 L1240.2,1045.8 L1240.9,1044.7 L1241.6,1043.8 L1242.3,1043.1 L1243,1042.4 L1243.7,1043.6 L1244.4,1045.1 L1245.1,1046.6 L1245.8,1046.6 L1246.5,1046.5 L1247.2,1046.3 L1247.9,1045.7 L1248.6,1045.2 L1249.3,1044.9 L1250,1045.3 L1250.7,1045.7 L1251.4,1045.6 L1252.1,1044.9 L1252.8,1044.2 L1253.5,1045.8 L1254.2,1049.2 L1254.9,1052.6 L1255.6,1049.6 L1256.3,1044 L1257,1038.4 L1257.7,1040.4 L1258.4,1043.7 L1259.1,1047 L1259.8,1045.4 L1260.5,1043.9 L1261.2,1042.9 L1261.9,1045.2 L1262.6,1047.4 L1263.3,1048.7 L1264,1047.4 L1264.7,1046.1 L1265.4,1045.7 L1266.1,1046.5 L1266.8,1047.2 L1267.5,1047.7 L1268.2,1047.9 L1268.9,1048 L1269.6,1047.8 L1270.3,1047.3 L1271,1046.8 L1271.7,1047.6 L1272.4,1048.6 L1273.1,1049.7 L1273.8,1046.5 L1274.5,1043.2 L1275.2,1040.9 L1275.9,1044 L1276.6,1047.1 L1277.3,1048.9 L1278,1047.3 L1278.7,1045.7 L1279.4,1045.1 L1280.1,1045.9 L1280.8,1046.6 L1281.5,1047.8 L1282.2,1049.3 L1282.9,1050.9 L1283.6,1050.9 L1284.3,1050.3 L1285,1049.6 L1285.7,1050.5 L1286.4,1051.6 L1287.1,1052.7 L1287.8,1047.1 L1288.5,1041.4 L1289.2,1036.8" fill="none" stroke="#d0d0d0" stroke-width="2.6" stroke-linejoin="round" stroke-linecap="round" />
<path d="M839.1,1077.6 L839.8,1077.5 L840.5,1077.5 L841.2,1077.5 L841.9,1077.4 L842.6,1077.4 L843.3,1077.4 L844,1077.4 L844.7,1077.3 L845.4,1077.3 L846.1,1077.3 L846.8,1077.2 L847.5,1077.2 L848.2,1077.2 L848.9,1077.2 L849.6,1077.1 L850.3,1077.1 L851,1077.1 L851.7,1077 L852.4,1077 L853.1,1077 L853.8,1076.9 L854.5,1076.9 L855.2,1076.9 L855.9,1076.8 L856.6,1076.8 L857.3,1076.8 L858,1076.7 L858.7,1076.7 L859.4,1076.7 L860.1,1076.7 L860.8,1076.6 L861.5,1076.6 L862.2,1076.6 L862.9,1076.5 L863.6,1076.5 L864.3,1076.5 L865,1076.4 L865.7,1076.4 L866.4,1076.4 L867.1,1076.3 L867.8,1076.3 L868.5,1076.3 L869.2,1076.2 L869.9,1076.2 L870.6,1076.2 L871.3,1076.1 L872,1076.1 L872.7,1076.1 L873.4,1076 L874.1,1076 L874.8,1076 L875.5,1075.9 L876.2,1075.9 L876.9,1075.9 L877.6,1075.8 L878.3,1075.8 L879,1075.8 L879.7,1075.7 L880.4,1075.7 L881.1,1075.7 L881.8,1075.6 L882.5,1075.6 L883.2,1075.6 L883.9,1075.5 L884.6,1075.5 L885.3,1075.4 L886,1075.4 L886.7,1075.4 L887.4,1075.3 L888.1,1075.3 L888.8,1075.3 L889.5,1075.2 L890.2,1075.2 L890.9,1075.2 L891.6,1075.1 L892.3,1075.1 L893,1075.1 L893.7,1075 L894.4,1075 L895.1,1074.9 L895.8,1074.9 L896.5,1074.9 L897.2,1074.8 L897.9,1074.8 L898.6,1074.8 L899.3,1074.7 L900,1074.7 L900.7,1074.6 L901.4,1074.6 L902.1,1074.6 L902.8,1074.5 L903.5,1074.5 L904.2,1074.5 L904.9,1074.4 L905.6,1074.4 L906.3,1074.3 L907,1074.3 L907.7,1074.3 L908.4,1074.2 L909.1,1074.2 L909.8,1074.2 L910.5,1074.1 L911.2,1074.1 L911.9,1074 L912.6,1074 L913.3,1074 L914,1073.9 L914.7,1073.9 L915.4,1073.8 L916.1,1073.8 L916.8,1073.8 L917.5,1073.7 L918.2,1073.7 L918.9,1073.6 L919.6,1073.6 L920.3,1073.6 L921,1073.5 L921.7,1073.5 L922.4,1073.4 L923.1,1073.4 L923.8,1073.4 L924.5,1073.3 L925.2,1073.3 L925.9,1073.2 L926.6,1073.2 L927.3,1073.2 L928,1073.1 L928.7,1073.1 L929.4,1073 L930.1,1073 L930.8,1072.9 L931.5,1072.9 L932.2,1072.9 L932.9,1072.8 L933.6,1072.8 L934.3,1072.7 L935,1072.7 L935.7,1072.7 L936.4,1072.6 L937.1,1072.6 L937.8,1072.5 L938.5,1072.5 L939.2,1072.4 L939.9,1072.4 L940.6,1072.4 L941.3,1072.3 L942,1072.3 L942.7,1072.2 L943.4,1072.2 L944.1,1072.1 L944.8,1072.1 L945.5,1072 L946.2,1072 L946.9,1072 L947.6,1071.9 L948.3,1071.9 L949,1071.8 L949.7,1071.8 L950.4,1071.7 L951.1,1071.7 L951.8,1071.6 L952.5,1071.6 L953.2,1071.6 L953.9,1071.5 L954.6,1071.5 L955.3,1071.4 L956,1071.4 L956.7,1071.3 L957.4,1071.3 L958.1,1071.2 L958.8,1071.2 L959.5,1071.1 L960.2,1071.1 L960.9,1071 L961.6,1071 L962.3,1070.9 L963,1070.8 L963.7,1070.8 L964.4,1070.7 L965.1,1070.7 L965.8,1070.6 L966.5,1070.6 L967.2,1070.5 L967.9,1070.5 L968.6,1070.4 L969.3,1070.4 L970,1070.3 L970.7,1070.3 L971.4,1070.2 L972.1,1070.1 L972.8,1070.1 L973.5,1070 L974.2,1070 L974.9,1069.9 L975.6,1069.9 L976.3,1069.8 L977,1069.7 L977.7,1069.7 L978.4,1069.6 L979.1,1069.6 L979.8,1069.5 L980.5,1069.4 L981.2,1069.4 L981.9,1069.3 L982.6,1069.3 L983.3,1069.2 L984,1069.1 L984.7,1069.1 L985.4,1069 L986.1,1069 L986.8,1068.9 L987.5,1068.8 L988.2,1068.8 L988.9,1068.7 L989.6,1068.6 L990.3,1068.6 L991,1068.5 L991.7,1068.4 L992.4,1068.4 L993.1,1068.3 L993.8,1068.3 L994.5,1068.2 L995.2,1068.1 L995.9,1068.1 L996.6,1068 L997.3,1067.9 L998,1067.9 L998.7,1067.8 L999.4,1067.7 L1000.1,1067.7 L1000.8,1067.6 L1001.5,1067.5 L1002.2,1067.4 L1002.9,1067.4 L1003.6,1067.3 L1004.3,1067.2 L1005,1067.2 L1005.7,1067.1 L1006.4,1067 L1007.1,1067 L1007.8,1066.9 L1008.5,1066.8 L1009.2,1066.7 L1009.9,1066.7 L1010.6,1066.6 L1011.3,1066.5 L1012,1066.4 L1012.7,1066.4 L1013.4,1066.3 L1014.1,1066.2 L1014.8,1066.1 L1015.5,1066 L1016.2,1065.9 L1016.9,1065.8 L1017.6,1065.7 L1018.3,1065.6 L1019,1065.5 L1019.7,1065.4 L1020.4,1065.3 L1021.1,1065.2 L1021.8,1065 L1022.5,1064.9 L1023.2,1064.8 L1023.9,1064.6 L1024.6,1064.4 L1025.3,1064.3 L1026,1064.1 L1026.7,1063.9 L1027.4,1063.6 L1028.1,1063.4 L1028.8,1063.1 L1029.5,1062.7 L1030.2,1062.4 L1030.9,1062 L1031.6,1061.5 L1032.3,1061 L1033,1060.4 L1033.7,1059.7 L1034.4,1058.9 L1035.1,1058 L1035.8,1056.9 L1036.5,1055.8 L1037.2,1054.4 L1037.9,1052.9 L1038.6,1051.1 L1039.3,1049.1 L1040,1046.8 L1040.7,1044.3 L1041.4,1041.4 L1042.1,1038.2 L1042.8,1034.6 L1043.5,1030.5 L1044.2,1026 L1044.9,1021 L1045.6,1015.5 L1046.3,1009.5 L1047,1002.9 L1047.7,995.7 L1048.4,987.8 L1049.1,979.4 L1049.8,970.2 L1050.5,960.5 L1051.2,950.1 L1051.9,939.1 L1052.6,927.5 L1053.3,915.3 L1054,902.5 L1054.7,889.3 L1055.4,875.7 L1056.1,861.7 L1056.8,847.4 L1057.5,832.9 L1058.2,818.3 L1058.9,803.8 L1059.6,789.4 L1060.3,775.2 L1061,761.4 L1061.7,748.1 L1062.4,735.4 L1063.1,723.5 L1063.8,712.5 L1064.5,702.5 L1065.2,693.6 L1065.9,686 L1066.6,679.7 L1067.3,674.7 L1068,671.3 L1068.7,669.4 L1069.4,669 L1070.1,670.2 L1070.8,672.9 L1071.5,677 L1072.2,682.7 L1072.9,689.6 L1073.6,697.8 L1074.3,707.2 L1075,717.6 L1075.7,728.9 L1076.4,741.1 L1077.1,753.8 L1077.8,767.1 L1078.5,780.8 L1079.2,794.8 L1079.9,809 L1080.6,823.2 L1081.3,837.3 L1082,851.2 L1082.7,864.9 L1083.4,878.3 L1084.1,891.2 L1084.8,903.7 L1085.5,915.6 L1086.2,926.9 L1086.9,937.6 L1087.6,947.7 L1088.3,957.2 L1089,966 L1089.7,974.2 L1090.4,981.7 L1091.1,988.5 L1091.8,994.8 L1092.5,1000.4 L1093.2,1005.5 L1093.9,1010 L1094.6,1014 L1095.3,1017.5 L1096,1020.5 L1096.7,1023 L1097.4,1025.1 L1098.1,1026.8 L1098.8,1028.1 L1099.5,1029.1 L1100.2,1029.6 L1100.9,1029.8 L1101.6,1029.7 L1102.3,1029.2 L1103,1028.4 L1103.7,1027.2 L1104.4,1025.7 L1105.1,1023.9 L1105.8,1021.6 L1106.5,1019 L1107.2,1016 L1107.9,1012.6 L1108.6,1008.8 L1109.3,1004.6 L1110,999.9 L1110.7,994.8 L1111.4,989.3 L1112.1,983.2 L1112.8,976.8 L1113.5,969.8 L1114.2,962.5 L1114.9,954.7 L1115.6,946.5 L1116.3,938 L1117,929.1 L1117.7,919.9 L1118.4,910.5 L1119.1,900.9 L1119.8,891.2 L1120.5,881.4 L1121.2,871.7 L1121.9,862.1 L1122.6,852.7 L1123.3,843.6 L1124,835 L1124.7,826.8 L1125.4,819.3 L1126.1,812.5 L1126.8,806.6 L1127.5,801.7 L1128.2,797.8 L1128.9,795 L1129.6,793.3 L1130.3,792.9 L1131,793.6 L1131.7,795.6 L1132.4,798.6 L1133.1,802.8 L1133.8,808 L1134.5,814.1 L1135.2,820.9 L1135.9,828.5 L1136.6,836.8 L1137.3,845.5 L1138,854.5 L1138.7,863.9 L1139.4,873.4 L1140.1,883 L1140.8,892.6 L1141.5,902.2 L1142.2,911.6 L1142.9,920.8 L1143.6,929.7 L1144.3,938.3 L1145,946.6 L1145.7,954.5 L1146.4,962.1 L1147.1,969.2 L1147.8,975.8 L1148.5,982.1 L1149.2,987.9 L1149.9,993.3 L1150.6,998.2 L1151.3,1002.8 L1152,1007 L1152.7,1010.8 L1153.4,1014.2 L1154.1,1017.3 L1154.8,1020.1 L1155.5,1022.7 L1156.2,1024.9 L1156.9,1026.9 L1157.6,1028.7 L1158.3,1030.3 L1159,1031.7 L1159.7,1032.9 L1160.4,1034 L1161.1,1035 L1161.8,1035.8 L1162.5,1036.6 L1163.2,1037.3 L1163.9,1037.8 L1164.6,1038.3 L1165.3,1038.8 L1166,1039.2 L1166.7,1039.6 L1167.4,1039.9 L1168.1,1040.2 L1168.8,1040.4 L1169.5,1040.7 L1170.2,1040.9 L1170.9,1041.1 L1171.6,1041.3 L1172.3,1041.4 L1173,1041.6 L1173.7,1041.7 L1174.4,1041.9 L1175.1,1042 L1175.8,1042.1 L1176.5,1042.2 L1177.2,1042.3 L1177.9,1042.4 L1178.6,1042.5 L1179.3,1042.6 L1180,1042.7 L1180.7,1042.8 L1181.4,1042.8 L1182.1,1042.9 L1182.8,1043 L1183.5,1043 L1184.2,1043.1 L1184.9,1043.1 L1185.6,1043.2 L1186.3,1043.2 L1187,1043.3 L1187.7,1043.3 L1188.4,1043.3 L1189.1,1043.4 L1189.8,1043.4 L1190.5,1043.4 L1191.2,1043.5 L1191.9,1043.5 L1192.6,1043.5 L1193.3,1043.5 L1194,1043.5 L1194.7,1043.6 L1195.4,1043.6 L1196.1,1043.6 L1196.8,1043.6 L1197.5,1043.6 L1198.2,1043.6 L1198.9,1043.6 L1199.6,1043.6 L1200.3,1043.6 L1201,1043.6 L1201.7,1043.6 L1202.4,1043.6 L1203.1,1043.6 L1203.8,1043.6 L1204.5,1043.6 L1205.2,1043.6 L1205.9,1043.6 L1206.6,1043.6 L1207.3,1043.6 L1208,1043.6 L1208.7,1043.6 L1209.4,1043.6 L1210.1,1043.6 L1210.8,1043.6 L1211.5,1043.6 L1212.2,1043.6 L1212.9,1043.6 L1213.6,1043.5 L1214.3,1043.5 L1215,1043.5 L1215.7,1043.5 L1216.4,1043.5 L1217.1,1043.5 L1217.8,1043.5 L1218.5,1043.4 L1219.2,1043.4 L1219.9,1043.4 L1220.6,1043.4 L1221.3,1043.4 L1222,1043.3 L1222.7,1043.3 L1223.4,1043.3 L1224.1,1043.3 L1224.8,1043.3 L1225.5,1043.2 L1226.2,1043.2 L1226.9,1043.2 L1227.6,1043.2 L1228.3,1043.1 L1229,1043.1 L1229.7,1043.1 L1230.4,1043.1 L1231.1,1043 L1231.8,1043 L1232.5,1043 L1233.2,1043 L1233.9,1042.9 L1234.6,1042.9 L1235.3,1042.9 L1236,1042.9 L1236.7,1042.8 L1237.4,1042.8 L1238.1,1042.8 L1238.8,1042.7 L1239.5,1042.7 L1240.2,1042.7 L1240.9,1042.7 L1241.6,1042.6 L1242.3,1042.6 L1243,1042.6 L1243.7,1042.5 L1244.4,1042.5 L1245.1,1042.5 L1245.8,1042.4 L1246.5,1042.4 L1247.2,1042.4 L1247.9,1042.3 L1248.6,1042.3 L1249.3,1042.3 L1250,1042.2 L1250.7,1042.2 L1251.4,1042.2 L1252.1,1042.1 L1252.8,1042.1 L1253.5,1042.1 L1254.2,1042 L1254.9,1042 L1255.6,1042 L1256.3,1041.9 L1257,1041.9 L1257.7,1041.9 L1258.4,1041.8 L1259.1,1041.8 L1259.8,1041.8 L1260.5,1041.7 L1261.2,1041.7 L1261.9,1041.6 L1262.6,1041.6 L1263.3,1041.6 L1264,1041.5 L1264.7,1041.5 L1265.4,1041.5 L1266.1,1041.4 L1266.8,1041.4 L1267.5,1041.3 L1268.2,1041.3 L1268.9,1041.3 L1269.6,1041.2 L1270.3,1041.2 L1271,1041.2 L1271.7,1041.1 L1272.4,1041.1 L1273.1,1041 L1273.8,1041 L1274.5,1041 L1275.2,1040.9 L1275.9,1040.9 L1276.6,1040.8 L1277.3,1040.8 L1278,1040.8 L1278.7,1040.7 L1279.4,1040.7 L1280.1,1040.6 L1280.8,1040.6 L1281.5,1040.5 L1282.2,1040.5 L1282.9,1040.5 L1283.6,1040.4 L1284.3,1040.4 L1285,1040.3 L1285.7,1040.3 L1286.4,1040.2 L1287.1,1040.2 L1287.8,1040.2 L1288.5,1040.1 L1289.2,1040.1" fill="none" stroke="#f01024" stroke-width="2.6" stroke-linejoin="round" stroke-linecap="round" />
<path d="M839.1,1077.8 L839.8,1077.8 L840.5,1077.7 L841.2,1077.7 L841.9,1077.7 L842.6,1077.7 L843.3,1077.6 L844,1077.6 L844.7,1077.6 L845.4,1077.5 L846.1,1077.5 L846.8,1077.5 L847.5,1077.5 L848.2,1077.4 L848.9,1077.4 L849.6,1077.4 L850.3,1077.3 L851,1077.3 L851.7,1077.3 L852.4,1077.3 L853.1,1077.2 L853.8,1077.2 L854.5,1077.2 L855.2,1077.1 L855.9,1077.1 L856.6,1077.1 L857.3,1077.1 L858,1077 L858.7,1077 L859.4,1077 L860.1,1076.9 L860.8,1076.9 L861.5,1076.9 L862.2,1076.8 L862.9,1076.8 L863.6,1076.8 L864.3,1076.7 L865,1076.7 L865.7,1076.7 L866.4,1076.7 L867.1,1076.6 L867.8,1076.6 L868.5,1076.6 L869.2,1076.5 L869.9,1076.5 L870.6,1076.5 L871.3,1076.4 L872,1076.4 L872.7,1076.4 L873.4,1076.3 L874.1,1076.3 L874.8,1076.3 L875.5,1076.2 L876.2,1076.2 L876.9,1076.2 L877.6,1076.2 L878.3,1076.1 L879,1076.1 L879.7,1076.1 L880.4,1076 L881.1,1076 L881.8,1076 L882.5,1075.9 L883.2,1075.9 L883.9,1075.9 L884.6,1075.8 L885.3,1075.8 L886,1075.8 L886.7,1075.7 L887.4,1075.7 L888.1,1075.7 L888.8,1075.6 L889.5,1075.6 L890.2,1075.6 L890.9,1075.5 L891.6,1075.5 L892.3,1075.5 L893,1075.4 L893.7,1075.4 L894.4,1075.4 L895.1,1075.3 L895.8,1075.3 L896.5,1075.3 L897.2,1075.2 L897.9,1075.2 L898.6,1075.2 L899.3,1075.1 L900,1075.1 L900.7,1075.1 L901.4,1075 L902.1,1075 L902.8,1074.9 L903.5,1074.9 L904.2,1074.9 L904.9,1074.8 L905.6,1074.8 L906.3,1074.8 L907,1074.7 L907.7,1074.7 L908.4,1074.7 L909.1,1074.6 L909.8,1074.6 L910.5,1074.6 L911.2,1074.5 L911.9,1074.5 L912.6,1074.5 L913.3,1074.4 L914,1074.4 L914.7,1074.4 L915.4,1074.3 L916.1,1074.3 L916.8,1074.2 L917.5,1074.2 L918.2,1074.2 L918.9,1074.1 L919.6,1074.1 L920.3,1074.1 L921,1074 L921.7,1074 L922.4,1074 L923.1,1073.9 L923.8,1073.9 L924.5,1073.9 L925.2,1073.8 L925.9,1073.8 L926.6,1073.7 L927.3,1073.7 L928,1073.7 L928.7,1073.6 L929.4,1073.6 L930.1,1073.6 L930.8,1073.5 L931.5,1073.5 L932.2,1073.4 L932.9,1073.4 L933.6,1073.4 L934.3,1073.3 L935,1073.3 L935.7,1073.3 L936.4,1073.2 L937.1,1073.2 L937.8,1073.2 L938.5,1073.1 L939.2,1073.1 L939.9,1073 L940.6,1073 L941.3,1073 L942,1072.9 L942.7,1072.9 L943.4,1072.9 L944.1,1072.8 L944.8,1072.8 L945.5,1072.7 L946.2,1072.7 L946.9,1072.7 L947.6,1072.6 L948.3,1072.6 L949,1072.6 L949.7,1072.5 L950.4,1072.5 L951.1,1072.4 L951.8,1072.4 L952.5,1072.4 L953.2,1072.3 L953.9,1072.3 L954.6,1072.2 L955.3,1072.2 L956,1072.2 L956.7,1072.1 L957.4,1072.1 L958.1,1072 L958.8,1072 L959.5,1072 L960.2,1071.9 L960.9,1071.9 L961.6,1071.8 L962.3,1071.8 L963,1071.7 L963.7,1071.7 L964.4,1071.7 L965.1,1071.6 L965.8,1071.6 L966.5,1071.5 L967.2,1071.5 L967.9,1071.4 L968.6,1071.4 L969.3,1071.4 L970,1071.3 L970.7,1071.3 L971.4,1071.2 L972.1,1071.2 L972.8,1071.1 L973.5,1071.1 L974.2,1071.1 L974.9,1071 L975.6,1071 L976.3,1070.9 L977,1070.9 L977.7,1070.8 L978.4,1070.8 L979.1,1070.7 L979.8,1070.7 L980.5,1070.7 L981.2,1070.6 L981.9,1070.6 L982.6,1070.5 L983.3,1070.5 L984,1070.4 L984.7,1070.4 L985.4,1070.4 L986.1,1070.3 L986.8,1070.3 L987.5,1070.2 L988.2,1070.2 L988.9,1070.1 L989.6,1070.1 L990.3,1070.1 L991,1070 L991.7,1070 L992.4,1069.9 L993.1,1069.9 L993.8,1069.8 L994.5,1069.8 L995.2,1069.8 L995.9,1069.7 L996.6,1069.7 L997.3,1069.6 L998,1069.6 L998.7,1069.6 L999.4,1069.5 L1000.1,1069.5 L1000.8,1069.5 L1001.5,1069.4 L1002.2,1069.4 L1002.9,1069.4 L1003.6,1069.3 L1004.3,1069.3 L1005,1069.3 L1005.7,1069.2 L1006.4,1069.2 L1007.1,1069.2 L1007.8,1069.1 L1008.5,1069.1 L1009.2,1069.1 L1009.9,1069 L1010.6,1069 L1011.3,1069 L1012,1069 L1012.7,1068.9 L1013.4,1068.9 L1014.1,1068.9 L1014.8,1068.8 L1015.5,1068.8 L1016.2,1068.8 L1016.9,1068.7 L1017.6,1068.7 L1018.3,1068.7 L1019,1068.6 L1019.7,1068.6 L1020.4,1068.6 L1021.1,1068.5 L1021.8,1068.5 L1022.5,1068.5 L1023.2,1068.4 L1023.9,1068.4 L1024.6,1068.4 L1025.3,1068.3 L1026,1068.3 L1026.7,1068.2 L1027.4,1068.2 L1028.1,1068.1 L1028.8,1068.1 L1029.5,1068 L1030.2,1068 L1030.9,1067.9 L1031.6,1067.9 L1032.3,1067.8 L1033,1067.7 L1033.7,1067.7 L1034.4,1067.6 L1035.1,1067.5 L1035.8,1067.5 L1036.5,1067.4 L1037.2,1067.3 L1037.9,1067.2 L1038.6,1067.1 L1039.3,1067.1 L1040,1067 L1040.7,1066.9 L1041.4,1066.8 L1042.1,1066.7 L1042.8,1066.6 L1043.5,1066.5 L1044.2,1066.4 L1044.9,1066.3 L1045.6,1066.2 L1046.3,1066.1 L1047,1066 L1047.7,1065.9 L1048.4,1065.7 L1049.1,1065.6 L1049.8,1065.5 L1050.5,1065.4 L1051.2,1065.3 L1051.9,1065.2 L1052.6,1065 L1053.3,1064.9 L1054,1064.8 L1054.7,1064.7 L1055.4,1064.5 L1056.1,1064.4 L1056.8,1064.3 L1057.5,1064.1 L1058.2,1064 L1058.9,1063.9 L1059.6,1063.7 L1060.3,1063.6 L1061,1063.5 L1061.7,1063.3 L1062.4,1063.2 L1063.1,1063.1 L1063.8,1062.9 L1064.5,1062.8 L1065.2,1062.6 L1065.9,1062.4 L1066.6,1062.3 L1067.3,1062.1 L1068,1061.9 L1068.7,1061.7 L1069.4,1061.5 L1070.1,1061.2 L1070.8,1061 L1071.5,1060.8 L1072.2,1060.6 L1072.9,1060.4 L1073.6,1060.1 L1074.3,1059.9 L1075,1059.7 L1075.7,1059.5 L1076.4,1059.3 L1077.1,1059.1 L1077.8,1059 L1078.5,1058.8 L1079.2,1058.7 L1079.9,1058.6 L1080.6,1058.4 L1081.3,1058.3 L1082,1058.3 L1082.7,1058.2 L1083.4,1058.1 L1084.1,1058 L1084.8,1058 L1085.5,1057.9 L1086.2,1057.8 L1086.9,1057.8 L1087.6,1057.7 L1088.3,1057.6 L1089,1057.6 L1089.7,1057.5 L1090.4,1057.5 L1091.1,1057.4 L1091.8,1057.4 L1092.5,1057.3 L1093.2,1057.3 L1093.9,1057.2 L1094.6,1057.2 L1095.3,1057.1 L1096,1057.1 L1096.7,1057 L1097.4,1057 L1098.1,1056.9 L1098.8,1056.9 L1099.5,1056.8 L1100.2,1056.7 L1100.9,1056.7 L1101.6,1056.6 L1102.3,1056.6 L1103,1056.5 L1103.7,1056.5 L1104.4,1056.4 L1105.1,1056.4 L1105.8,1056.3 L1106.5,1056.3 L1107.2,1056.2 L1107.9,1056.2 L1108.6,1056.1 L1109.3,1056.1 L1110,1056 L1110.7,1056 L1111.4,1055.9 L1112.1,1055.8 L1112.8,1055.8 L1113.5,1055.7 L1114.2,1055.7 L1114.9,1055.6 L1115.6,1055.5 L1116.3,1055.5 L1117,1055.4 L1117.7,1055.3 L1118.4,1055.3 L1119.1,1055.2 L1119.8,1055.1 L1120.5,1055 L1121.2,1054.9 L1121.9,1054.8 L1122.6,1054.6 L1123.3,1054.5 L1124,1054.3 L1124.7,1054.1 L1125.4,1053.9 L1126.1,1053.7 L1126.8,1053.5 L1127.5,1053.3 L1128.2,1053.1 L1128.9,1052.9 L1129.6,1052.6 L1130.3,1052.4 L1131,1052.2 L1131.7,1052 L1132.4,1051.8 L1133.1,1051.5 L1133.8,1051.3 L1134.5,1051.2 L1135.2,1051 L1135.9,1050.8 L1136.6,1050.7 L1137.3,1050.5 L1138,1050.4 L1138.7,1050.3 L1139.4,1050.1 L1140.1,1050 L1140.8,1049.9 L1141.5,1049.8 L1142.2,1049.7 L1142.9,1049.6 L1143.6,1049.5 L1144.3,1049.4 L1145,1049.3 L1145.7,1049.2 L1146.4,1049.1 L1147.1,1049 L1147.8,1048.9 L1148.5,1048.8 L1149.2,1048.7 L1149.9,1048.6 L1150.6,1048.5 L1151.3,1048.5 L1152,1048.4 L1152.7,1048.3 L1153.4,1048.3 L1154.1,1048.2 L1154.8,1048.2 L1155.5,1048.1 L1156.2,1048.1 L1156.9,1048 L1157.6,1048 L1158.3,1047.9 L1159,1047.9 L1159.7,1047.8 L1160.4,1047.8 L1161.1,1047.8 L1161.8,1047.7 L1162.5,1047.7 L1163.2,1047.7 L1163.9,1047.6 L1164.6,1047.6 L1165.3,1047.5 L1166,1047.5 L1166.7,1047.5 L1167.4,1047.5 L1168.1,1047.4 L1168.8,1047.4 L1169.5,1047.4 L1170.2,1047.3 L1170.9,1047.3 L1171.6,1047.3 L1172.3,1047.2 L1173,1047.2 L1173.7,1047.2 L1174.4,1047.2 L1175.1,1047.1 L1175.8,1047.1 L1176.5,1047.1 L1177.2,1047.1 L1177.9,1047 L1178.6,1047 L1179.3,1047 L1180,1046.9 L1180.7,1046.9 L1181.4,1046.9 L1182.1,1046.9 L1182.8,1046.8 L1183.5,1046.8 L1184.2,1046.8 L1184.9,1046.7 L1185.6,1046.7 L1186.3,1046.7 L1187,1046.6 L1187.7,1046.6 L1188.4,1046.6 L1189.1,1046.5 L1189.8,1046.5 L1190.5,1046.5 L1191.2,1046.4 L1191.9,1046.4 L1192.6,1046.4 L1193.3,1046.3 L1194,1046.3 L1194.7,1046.3 L1195.4,1046.2 L1196.1,1046.2 L1196.8,1046.1 L1197.5,1046.1 L1198.2,1046.1 L1198.9,1046 L1199.6,1046 L1200.3,1046 L1201,1045.9 L1201.7,1045.9 L1202.4,1045.8 L1203.1,1045.8 L1203.8,1045.8 L1204.5,1045.7 L1205.2,1045.7 L1205.9,1045.7 L1206.6,1045.6 L1207.3,1045.6 L1208,1045.5 L1208.7,1045.5 L1209.4,1045.5 L1210.1,1045.4 L1210.8,1045.4 L1211.5,1045.3 L1212.2,1045.3 L1212.9,1045.3 L1213.6,1045.2 L1214.3,1045.2 L1215,1045.2 L1215.7,1045.1 L1216.4,1045.1 L1217.1,1045 L1217.8,1045 L1218.5,1045 L1219.2,1044.9 L1219.9,1044.9 L1220.6,1044.8 L1221.3,1044.8 L1222,1044.8 L1222.7,1044.7 L1223.4,1044.7 L1224.1,1044.6 L1224.8,1044.6 L1225.5,1044.6 L1226.2,1044.5 L1226.9,1044.5 L1227.6,1044.4 L1228.3,1044.4 L1229,1044.4 L1229.7,1044.3 L1230.4,1044.3 L1231.1,1044.2 L1231.8,1044.2 L1232.5,1044.2 L1233.2,1044.1 L1233.9,1044.1 L1234.6,1044 L1235.3,1044 L1236,1044 L1236.7,1043.9 L1237.4,1043.9 L1238.1,1043.8 L1238.8,1043.8 L1239.5,1043.8 L1240.2,1043.7 L1240.9,1043.7 L1241.6,1043.6 L1242.3,1043.6 L1243,1043.5 L1243.7,1043.5 L1244.4,1043.5 L1245.1,1043.4 L1245.8,1043.4 L1246.5,1043.3 L1247.2,1043.3 L1247.9,1043.2 L1248.6,1043.2 L1249.3,1043.2 L1250,1043.1 L1250.7,1043.1 L1251.4,1043 L1252.1,1043 L1252.8,1043 L1253.5,1042.9 L1254.2,1042.9 L1254.9,1042.8 L1255.6,1042.8 L1256.3,1042.7 L1257,1042.7 L1257.7,1042.6 L1258.4,1042.6 L1259.1,1042.6 L1259.8,1042.5 L1260.5,1042.5 L1261.2,1042.4 L1261.9,1042.4 L1262.6,1042.3 L1263.3,1042.3 L1264,1042.3 L1264.7,1042.2 L1265.4,1042.2 L1266.1,1042.1 L1266.8,1042.1 L1267.5,1042 L1268.2,1042 L1268.9,1041.9 L1269.6,1041.9 L1270.3,1041.8 L1271,1041.8 L1271.7,1041.8 L1272.4,1041.7 L1273.1,1041.7 L1273.8,1041.6 L1274.5,1041.6 L1275.2,1041.5 L1275.9,1041.5 L1276.6,1041.4 L1277.3,1041.4 L1278,1041.3 L1278.7,1041.3 L1279.4,1041.3 L1280.1,1041.2 L1280.8,1041.2 L1281.5,1041.1 L1282.2,1041.1 L1282.9,1041 L1283.6,1041 L1284.3,1040.9 L1285,1040.9 L1285.7,1040.8 L1286.4,1040.8 L1287.1,1040.7 L1287.8,1040.7 L1288.5,1040.6 L1289.2,1040.6" fill="none" stroke="#22f21e" stroke-width="2.6" stroke-linejoin="round" stroke-linecap="round" />
<path d="M839.1,1077.8 L839.8,1077.8 L840.5,1077.7 L841.2,1077.7 L841.9,1077.7 L842.6,1077.7 L843.3,1077.6 L844,1077.6 L844.7,1077.6 L845.4,1077.5 L846.1,1077.5 L846.8,1077.5 L847.5,1077.5 L848.2,1077.4 L848.9,1077.4 L849.6,1077.4 L850.3,1077.3 L851,1077.3 L851.7,1077.3 L852.4,1077.3 L853.1,1077.2 L853.8,1077.2 L854.5,1077.2 L855.2,1077.1 L855.9,1077.1 L856.6,1077.1 L857.3,1077.1 L858,1077 L858.7,1077 L859.4,1077 L860.1,1076.9 L860.8,1076.9 L861.5,1076.9 L862.2,1076.8 L862.9,1076.8 L863.6,1076.8 L864.3,1076.7 L865,1076.7 L865.7,1076.7 L866.4,1076.7 L867.1,1076.6 L867.8,1076.6 L868.5,1076.6 L869.2,1076.5 L869.9,1076.5 L870.6,1076.5 L871.3,1076.4 L872,1076.4 L872.7,1076.4 L873.4,1076.3 L874.1,1076.3 L874.8,1076.3 L875.5,1076.2 L876.2,1076.2 L876.9,1076.2 L877.6,1076.2 L878.3,1076.1 L879,1076.1 L879.7,1076.1 L880.4,1076 L881.1,1076 L881.8,1076 L882.5,1075.9 L883.2,1075.9 L883.9,1075.9 L884.6,1075.8 L885.3,1075.8 L886,1075.8 L886.7,1075.7 L887.4,1075.7 L888.1,1075.7 L888.8,1075.6 L889.5,1075.6 L890.2,1075.6 L890.9,1075.5 L891.6,1075.5 L892.3,1075.5 L893,1075.4 L893.7,1075.4 L894.4,1075.4 L895.1,1075.3 L895.8,1075.3 L896.5,1075.3 L897.2,1075.2 L897.9,1075.2 L898.6,1075.2 L899.3,1075.1 L900,1075.1 L900.7,1075.1 L901.4,1075 L902.1,1075 L902.8,1074.9 L903.5,1074.9 L904.2,1074.9 L904.9,1074.8 L905.6,1074.8 L906.3,1074.8 L907,1074.7 L907.7,1074.7 L908.4,1074.7 L909.1,1074.6 L909.8,1074.6 L910.5,1074.6 L911.2,1074.5 L911.9,1074.5 L912.6,1074.5 L913.3,1074.4 L914,1074.4 L914.7,1074.4 L915.4,1074.3 L916.1,1074.3 L916.8,1074.2 L917.5,1074.2 L918.2,1074.2 L918.9,1074.1 L919.6,1074.1 L920.3,1074.1 L921,1074 L921.7,1074 L922.4,1074 L923.1,1073.9 L923.8,1073.9 L924.5,1073.9 L925.2,1073.8 L925.9,1073.8 L926.6,1073.7 L927.3,1073.7 L928,1073.7 L928.7,1073.6 L929.4,1073.6 L930.1,1073.6 L930.8,1073.5 L931.5,1073.5 L932.2,1073.4 L932.9,1073.4 L933.6,1073.4 L934.3,1073.3 L935,1073.3 L935.7,1073.3 L936.4,1073.2 L937.1,1073.2 L937.8,1073.2 L938.5,1073.1 L939.2,1073.1 L939.9,1073 L940.6,1073 L941.3,1073 L942,1072.9 L942.7,1072.9 L943.4,1072.9 L944.1,1072.8 L944.8,1072.8 L945.5,1072.7 L946.2,1072.7 L946.9,1072.7 L947.6,1072.6 L948.3,1072.6 L949,1072.6 L949.7,1072.5 L950.4,1072.5 L951.1,1072.4 L951.8,1072.4 L952.5,1072.4 L953.2,1072.3 L953.9,1072.3 L954.6,1072.2 L955.3,1072.2 L956,1072.2 L956.7,1072.1 L957.4,1072.1 L958.1,1072 L958.8,1072 L959.5,1072 L960.2,1071.9 L960.9,1071.9 L961.6,1071.8 L962.3,1071.8 L963,1071.7 L963.7,1071.7 L964.4,1071.7 L965.1,1071.6 L965.8,1071.6 L966.5,1071.5 L967.2,1071.5 L967.9,1071.4 L968.6,1071.4 L969.3,1071.4 L970,1071.3 L970.7,1071.3 L971.4,1071.2 L972.1,1071.2 L972.8,1071.1 L973.5,1071.1 L974.2,1071.1 L974.9,1071 L975.6,1071 L976.3,1070.9 L977,1070.9 L977.7,1070.8 L978.4,1070.8 L979.1,1070.7 L979.8,1070.7 L980.5,1070.7 L981.2,1070.6 L981.9,1070.6 L982.6,1070.5 L983.3,1070.5 L984,1070.4 L984.7,1070.4 L985.4,1070.4 L986.1,1070.3 L986.8,1070.3 L987.5,1070.2 L988.2,1070.2 L988.9,1070.1 L989.6,1070.1 L990.3,1070.1 L991,1070 L991.7,1070 L992.4,1069.9 L993.1,1069.9 L993.8,1069.8 L994.5,1069.8 L995.2,1069.8 L995.9,1069.7 L996.6,1069.7 L997.3,1069.6 L998,1069.6 L998.7,1069.6 L999.4,1069.5 L1000.1,1069.5 L1000.8,1069.5 L1001.5,1069.4 L1002.2,1069.4 L1002.9,1069.4 L1003.6,1069.3 L1004.3,1069.3 L1005,1069.3 L1005.7,1069.2 L1006.4,1069.2 L1007.1,1069.2 L1007.8,1069.1 L1008.5,1069.1 L1009.2,1069.1 L1009.9,1069 L1010.6,1069 L1011.3,1069 L1012,1069 L1012.7,1068.9 L1013.4,1068.9 L1014.1,1068.9 L1014.8,1068.8 L1015.5,1068.8 L1016.2,1068.8 L1016.9,1068.7 L1017.6,1068.7 L1018.3,1068.7 L1019,1068.6 L1019.7,1068.6 L1020.4,1068.6 L1021.1,1068.5 L1021.8,1068.5 L1022.5,1068.5 L1023.2,1068.4 L1023.9,1068.4 L1024.6,1068.4 L1025.3,1068.3 L1026,1068.3 L1026.7,1068.2 L1027.4,1068.2 L1028.1,1068.1 L1028.8,1068.1 L1029.5,1068 L1030.2,1068 L1030.9,1067.9 L1031.6,1067.9 L1032.3,1067.8 L1033,1067.7 L1033.7,1067.7 L1034.4,1067.6 L1035.1,1067.5 L1035.8,1067.5 L1036.5,1067.4 L1037.2,1067.3 L1037.9,1067.2 L1038.6,1067.1 L1039.3,1067.1 L1040,1067 L1040.7,1066.9 L1041.4,1066.8 L1042.1,1066.7 L1042.8,1066.6 L1043.5,1066.5 L1044.2,1066.4 L1044.9,1066.3 L1045.6,1066.2 L1046.3,1066.1 L1047,1066 L1047.7,1065.9 L1048.4,1065.7 L1049.1,1065.6 L1049.8,1065.5 L1050.5,1065.4 L1051.2,1065.3 L1051.9,1065.2 L1052.6,1065 L1053.3,1064.9 L1054,1064.8 L1054.7,1064.7 L1055.4,1064.5 L1056.1,1064.4 L1056.8,1064.3 L1057.5,1064.1 L1058.2,1064 L1058.9,1063.9 L1059.6,1063.7 L1060.3,1063.6 L1061,1063.5 L1061.7,1063.3 L1062.4,1063.2 L1063.1,1063.1 L1063.8,1062.9 L1064.5,1062.8 L1065.2,1062.6 L1065.9,1062.4 L1066.6,1062.3 L1067.3,1062.1 L1068,1061.9 L1068.7,1061.7 L1069.4,1061.5 L1070.1,1061.2 L1070.8,1061 L1071.5,1060.8 L1072.2,1060.6 L1072.9,1060.4 L1073.6,1060.1 L1074.3,1059.9 L1075,1059.7 L1075.7,1059.5 L1076.4,1059.3 L1077.1,1059.1 L1077.8,1059 L1078.5,1058.8 L1079.2,1058.7 L1079.9,1058.6 L1080.6,1058.4 L1081.3,1058.3 L1082,1058.3 L1082.7,1058.2 L1083.4,1058.1 L1084.1,1058 L1084.8,1058 L1085.5,1057.9 L1086.2,1057.8 L1086.9,1057.8 L1087.6,1057.7 L1088.3,1057.6 L1089,1057.6 L1089.7,1057.5 L1090.4,1057.5 L1091.1,1057.4 L1091.8,1057.4 L1092.5,1057.3 L1093.2,1057.3 L1093.9,1057.2 L1094.6,1057.2 L1095.3,1057.1 L1096,1057.1 L1096.7,1057 L1097.4,1057 L1098.1,1056.9 L1098.8,1056.9 L1099.5,1056.8 L1100.2,1056.7 L1100.9,1056.7 L1101.6,1056.6 L1102.3,1056.6 L1103,1056.5 L1103.7,1056.5 L1104.4,1056.4 L1105.1,1056.4 L1105.8,1056.3 L1106.5,1056.3 L1107.2,1056.2 L1107.9,1056.2 L1108.6,1056.1 L1109.3,1056.1 L1110,1056 L1110.7,1056 L1111.4,1055.9 L1112.1,1055.8 L1112.8,1055.8 L1113.5,1055.7 L1114.2,1055.7 L1114.9,1055.6 L1115.6,1055.5 L1116.3,1055.5 L1117,1055.4 L1117.7,1055.3 L1118.4,1055.3 L1119.1,1055.2 L1119.8,1055.1 L1120.5,1055 L1121.2,1054.9 L1121.9,1054.8 L1122.6,1054.6 L1123.3,1054.5 L1124,1054.3 L1124.7,1054.1 L1125.4,1053.9 L1126.1,1053.7 L1126.8,1053.5 L1127.5,1053.3 L1128.2,1053.1 L1128.9,1052.9 L1129.6,1052.6 L1130.3,1052.4 L1131,1052.2 L1131.7,1052 L1132.4,1051.8 L1133.1,1051.5 L1133.8,1051.3 L1134.5,1051.2 L1135.2,1051 L1135.9,1050.8 L1136.6,1050.7 L1137.3,1050.5 L1138,1050.4 L1138.7,1050.3 L1139.4,1050.1 L1140.1,1050 L1140.8,1049.9 L1141.5,1049.8 L1142.2,1049.7 L1142.9,1049.6 L1143.6,1049.5 L1144.3,1049.4 L1145,1049.3 L1145.7,1049.2 L1146.4,1049.1 L1147.1,1049 L1147.8,1048.9 L1148.5,1048.8 L1149.2,1048.7 L1149.9,1048.6 L1150.6,1048.5 L1151.3,1048.5 L1152,1048.4 L1152.7,1048.3 L1153.4,1048.3 L1154.1,1048.2 L1154.8,1048.2 L1155.5,1048.1 L1156.2,1048.1 L1156.9,1048 L1157.6,1048 L1158.3,1047.9 L1159,1047.9 L1159.7,1047.8 L1160.4,1047.8 L1161.1,1047.8 L1161.8,1047.7 L1162.5,1047.7 L1163.2,1047.7 L1163.9,1047.6 L1164.6,1047.6 L1165.3,1047.5 L1166,1047.5 L1166.7,1047.5 L1167.4,1047.5 L1168.1,1047.4 L1168.8,1047.4 L1169.5,1047.4 L1170.2,1047.3 L1170.9,1047.3 L1171.6,1047.3 L1172.3,1047.2 L1173,1047.2 L1173.7,1047.2 L1174.4,1047.2 L1175.1,1047.1 L1175.8,1047.1 L1176.5,1047.1 L1177.2,1047.1 L1177.9,1047 L1178.6,1047 L1179.3,1047 L1180,1046.9 L1180.7,1046.9 L1181.4,1046.9 L1182.1,1046.9 L1182.8,1046.8 L1183.5,1046.8 L1184.2,1046.8 L1184.9,1046.7 L1185.6,1046.7 L1186.3,1046.7 L1187,1046.6 L1187.7,1046.6 L1188.4,1046.6 L1189.1,1046.5 L1189.8,1046.5 L1190.5,1046.5 L1191.2,1046.4 L1191.9,1046.4 L1192.6,1046.4 L1193.3,1046.3 L1194,1046.3 L1194.7,1046.3 L1195.4,1046.2 L1196.1,1046.2 L1196.8,1046.1 L1197.5,1046.1 L1198.2,1046.1 L1198.9,1046 L1199.6,1046 L1200.3,1046 L1201,1045.9 L1201.7,1045.9 L1202.4,1045.8 L1203.1,1045.8 L1203.8,1045.8 L1204.5,1045.7 L1205.2,1045.7 L1205.9,1045.7 L1206.6,1045.6 L1207.3,1045.6 L1208,1045.5 L1208.7,1045.5 L1209.4,1045.5 L1210.1,1045.4 L1210.8,1045.4 L1211.5,1045.3 L1212.2,1045.3 L1212.9,1045.3 L1213.6,1045.2 L1214.3,1045.2 L1215,1045.2 L1215.7,1045.1 L1216.4,1045.1 L1217.1,1045 L1217.8,1045 L1218.5,1045 L1219.2,1044.9 L1219.9,1044.9 L1220.6,1044.8 L1221.3,1044.8 L1222,1044.8 L1222.7,1044.7 L1223.4,1044.7 L1224.1,1044.6 L1224.8,1044.6 L1225.5,1044.6 L1226.2,1044.5 L1226.9,1044.5 L1227.6,1044.4 L1228.3,1044.4 L1229,1044.4 L1229.7,1044.3 L1230.4,1044.3 L1231.1,1044.2 L1231.8,1044.2 L1232.5,1044.2 L1233.2,1044.1 L1233.9,1044.1 L1234.6,1044 L1235.3,1044 L1236,1044 L1236.7,1043.9 L1237.4,1043.9 L1238.1,1043.8 L1238.8,1043.8 L1239.5,1043.8 L1240.2,1043.7 L1240.9,1043.7 L1241.6,1043.6 L1242.3,1043.6 L1243,1043.5 L1243.7,1043.5 L1244.4,1043.5 L1245.1,1043.4 L1245.8,1043.4 L1246.5,1043.3 L1247.2,1043.3 L1247.9,1043.2 L1248.6,1043.2 L1249.3,1043.2 L1250,1043.1 L1250.7,1043.1 L1251.4,1043 L1252.1,1043 L1252.8,1043 L1253.5,1042.9 L1254.2,1042.9 L1254.9,1042.8 L1255.6,1042.8 L1256.3,1042.7 L1257,1042.7 L1257.7,1042.6 L1258.4,1042.6 L1259.1,1042.6 L1259.8,1042.5 L1260.5,1042.5 L1261.2,1042.4 L1261.9,1042.4 L1262.6,1042.3 L1263.3,1042.3 L1264,1042.3 L1264.7,1042.2 L1265.4,1042.2 L1266.1,1042.1 L1266.8,1042.1 L1267.5,1042 L1268.2,1042 L1268.9,1041.9 L1269.6,1041.9 L1270.3,1041.8 L1271,1041.8 L1271.7,1041.8 L1272.4,1041.7 L1273.1,1041.7 L1273.8,1041.6 L1274.5,1041.6 L1275.2,1041.5 L1275.9,1041.5 L1276.6,1041.4 L1277.3,1041.4 L1278,1041.3 L1278.7,1041.3 L1279.4,1041.3 L1280.1,1041.2 L1280.8,1041.2 L1281.5,1041.1 L1282.2,1041.1 L1282.9,1041 L1283.6,1041 L1284.3,1040.9 L1285,1040.9 L1285.7,1040.8 L1286.4,1040.8 L1287.1,1040.7 L1287.8,1040.7 L1288.5,1040.6 L1289.2,1040.6" fill="none" stroke="#e0222a" stroke-width="1.9" stroke-linejoin="round" stroke-linecap="round" stroke-dasharray="6.3,5.7" stroke-linecap="butt"/>
<path d="M1009.9,1067.4 L1010.6,1067.3 L1011.3,1067.2 L1012,1067.1 L1012.7,1067.1 L1013.4,1067 L1014.1,1066.9 L1014.8,1066.8 L1015.5,1066.8 L1016.2,1066.7 L1016.9,1066.6 L1017.6,1066.5 L1018.3,1066.4 L1019,1066.3 L1019.7,1066.2 L1020.4,1066.1 L1021.1,1066 L1021.8,1065.9 L1022.5,1065.8 L1023.2,1065.6 L1023.9,1065.5 L1024.6,1065.3 L1025.3,1065.2 L1026,1065 L1026.7,1064.8 L1027.4,1064.6 L1028.1,1064.3 L1028.8,1064 L1029.5,1063.7 L1030.2,1063.4 L1030.9,1063 L1031.6,1062.5 L1032.3,1062 L1033,1061.4 L1033.7,1060.7 L1034.4,1059.9 L1035.1,1059.1 L1035.8,1058 L1036.5,1056.9 L1037.2,1055.5 L1037.9,1054 L1038.6,1052.3 L1039.3,1050.3 L1040,1048.1 L1040.7,1045.5 L1041.4,1042.7 L1042.1,1039.4 L1042.8,1035.8 L1043.5,1031.8 L1044.2,1027.3 L1044.9,1022.4 L1045.6,1016.9 L1046.3,1010.9 L1047,1004.3 L1047.7,997.1 L1048.4,989.3 L1049.1,980.8 L1049.8,971.8 L1050.5,962 L1051.2,951.7 L1051.9,940.7 L1052.6,929.1 L1053.3,916.9 L1054,904.2 L1054.7,891 L1055.4,877.4 L1056.1,863.4 L1056.8,849.2 L1057.5,834.7 L1058.2,820.2 L1058.9,805.7 L1059.6,791.3 L1060.3,777.2 L1061,763.4 L1061.7,750.2 L1062.4,737.5 L1063.1,725.7 L1063.8,714.7 L1064.5,704.8 L1065.2,695.9 L1065.9,688.3 L1066.6,682 L1067.3,677.2 L1068,673.8 L1068.7,671.9 L1069.4,671.6 L1070.1,672.8 L1070.8,675.6 L1071.5,679.8 L1072.2,685.5 L1072.9,692.5 L1073.6,700.8 L1074.3,710.3 L1075,720.7 L1075.7,732.1 L1076.4,744.3 L1077.1,757.2 L1077.8,770.6 L1078.5,784.4 L1079.2,798.5 L1079.9,812.7 L1080.6,827 L1081.3,841.2 L1082,855.3 L1082.7,869.1 L1083.4,882.6 L1084.1,895.6 L1084.8,908.2 L1085.5,920.2 L1086.2,931.7 L1086.9,942.6 L1087.6,952.9 L1088.3,962.5 L1089,971.5 L1089.7,979.9 L1090.4,987.6 L1091.1,994.8 L1091.8,1001.3 L1092.5,1007.2 L1093.2,1012.6 L1093.9,1017.5 L1094.6,1021.9 L1095.3,1025.8 L1096,1029.3 L1096.7,1032.5 L1097.4,1035.2 L1098.1,1037.7 L1098.8,1039.8 L1099.5,1041.7 L1100.2,1043.3 L1100.9,1044.7 L1101.6,1045.9 L1102.3,1047 L1103,1047.9 L1103.7,1048.7 L1104.4,1049.4 L1105.1,1049.9 L1105.8,1050.4 L1106.5,1050.8 L1107.2,1051.2 L1107.9,1051.5 L1108.6,1051.7 L1109.3,1052 L1110,1052.1 L1110.7,1052.3 L1111.4,1052.4 L1112.1,1052.5 L1112.8,1052.6 L1113.5,1052.7 L1114.2,1052.7 L1114.9,1052.8 L1115.6,1052.8 L1116.3,1052.8 L1117,1052.9 L1117.7,1052.9 L1118.4,1052.8 L1119.1,1052.8 L1119.8,1052.8 L1120.5,1052.8 L1121.2,1052.7 L1121.9,1052.7 L1122.6,1052.6 L1123.3,1052.5 L1124,1052.4 L1124.7,1052.2 L1125.4,1052.1 L1126.1,1051.9 L1126.8,1051.8 L1127.5,1051.6 L1128.2,1051.4" fill="none" stroke="#e0222a" stroke-width="1.7" stroke-linejoin="round" stroke-linecap="round" stroke-dasharray="6.3,5.7" stroke-linecap="butt"/>
<path d="M1054.7,1062.9 L1055.4,1062.8 L1056.1,1062.6 L1056.8,1062.5 L1057.5,1062.3 L1058.2,1062.1 L1058.9,1062 L1059.6,1061.8 L1060.3,1061.6 L1061,1061.4 L1061.7,1061.3 L1062.4,1061.1 L1063.1,1060.9 L1063.8,1060.7 L1064.5,1060.5 L1065.2,1060.3 L1065.9,1060.1 L1066.6,1059.9 L1067.3,1059.6 L1068,1059.4 L1068.7,1059.1 L1069.4,1058.9 L1070.1,1058.6 L1070.8,1058.3 L1071.5,1058 L1072.2,1057.7 L1072.9,1057.4 L1073.6,1057.2 L1074.3,1056.9 L1075,1056.6 L1075.7,1056.3 L1076.4,1056 L1077.1,1055.8 L1077.8,1055.5 L1078.5,1055.3 L1079.2,1055 L1079.9,1054.8 L1080.6,1054.6 L1081.3,1054.4 L1082,1054.2 L1082.7,1054 L1083.4,1053.8 L1084.1,1053.6 L1084.8,1053.4 L1085.5,1053.2 L1086.2,1053 L1086.9,1052.8 L1087.6,1052.5 L1088.3,1052.3 L1089,1052 L1089.7,1051.8 L1090.4,1051.5 L1091.1,1051.2 L1091.8,1050.9 L1092.5,1050.5 L1093.2,1050.1 L1093.9,1049.7 L1094.6,1049.3 L1095.3,1048.8 L1096,1048.2 L1096.7,1047.6 L1097.4,1046.9 L1098.1,1046.1 L1098.8,1045.2 L1099.5,1044.2 L1100.2,1043.1 L1100.9,1041.8 L1101.6,1040.4 L1102.3,1038.8 L1103,1037 L1103.7,1035 L1104.4,1032.8 L1105.1,1030.3 L1105.8,1027.5 L1106.5,1024.4 L1107.2,1021.1 L1107.9,1017.3 L1108.6,1013.2 L1109.3,1008.7 L1110,1003.8 L1110.7,998.5 L1111.4,992.7 L1112.1,986.5 L1112.8,979.9 L1113.5,972.9 L1114.2,965.4 L1114.9,957.5 L1115.6,949.2 L1116.3,940.6 L1117,931.6 L1117.7,922.4 L1118.4,912.9 L1119.1,903.2 L1119.8,893.5 L1120.5,883.6 L1121.2,873.9 L1121.9,864.2 L1122.6,854.8 L1123.3,845.6 L1124,836.9 L1124.7,828.7 L1125.4,821.2 L1126.1,814.4 L1126.8,808.4 L1127.5,803.4 L1128.2,799.5 L1128.9,796.6 L1129.6,794.9 L1130.3,794.5 L1131,795.2 L1131.7,797.1 L1132.4,800.1 L1133.1,804.3 L1133.8,809.4 L1134.5,815.4 L1135.2,822.3 L1135.9,829.9 L1136.6,838.1 L1137.3,846.7 L1138,855.8 L1138.7,865.1 L1139.4,874.6 L1140.1,884.2 L1140.8,893.8 L1141.5,903.3 L1142.2,912.7 L1142.9,921.9 L1143.6,930.8 L1144.3,939.4 L1145,947.7 L1145.7,955.6 L1146.4,963.1 L1147.1,970.2 L1147.8,976.8 L1148.5,983 L1149.2,988.8 L1149.9,994.2 L1150.6,999.2 L1151.3,1003.7 L1152,1007.9 L1152.7,1011.6 L1153.4,1015.1 L1154.1,1018.2 L1154.8,1021 L1155.5,1023.5 L1156.2,1025.7 L1156.9,1027.7 L1157.6,1029.5 L1158.3,1031.1 L1159,1032.5 L1159.7,1033.7 L1160.4,1034.8 L1161.1,1035.7 L1161.8,1036.6 L1162.5,1037.3 L1163.2,1037.9 L1163.9,1038.5 L1164.6,1039 L1165.3,1039.5 L1166,1039.9 L1166.7,1040.2 L1167.4,1040.5 L1168.1,1040.8 L1168.8,1041.1 L1169.5,1041.3 L1170.2,1041.5 L1170.9,1041.7 L1171.6,1041.9 L1172.3,1042 L1173,1042.2 L1173.7,1042.3 L1174.4,1042.4 L1175.1,1042.5 L1175.8,1042.6 L1176.5,1042.7 L1177.2,1042.8 L1177.9,1042.9 L1178.6,1043 L1179.3,1043.1 L1180,1043.2 L1180.7,1043.2 L1181.4,1043.3 L1182.1,1043.4 L1182.8,1043.4 L1183.5,1043.5 L1184.2,1043.5 L1184.9,1043.6 L1185.6,1043.6 L1186.3,1043.7 L1187,1043.7 L1187.7,1043.7 L1188.4,1043.8 L1189.1,1043.8 L1189.8,1043.8 L1190.5,1043.9 L1191.2,1043.9 L1191.9,1043.9 L1192.6,1043.9 L1193.3,1043.9 L1194,1043.9 L1194.7,1043.9 L1195.4,1044 L1196.1,1044 L1196.8,1044 L1197.5,1044 L1198.2,1044 L1198.9,1044 L1199.6,1044 L1200.3,1044 L1201,1044 L1201.7,1044 L1202.4,1044 L1203.1,1044 L1203.8,1044 L1204.5,1044 L1205.2,1044" fill="none" stroke="#e0222a" stroke-width="1.7" stroke-linejoin="round" stroke-linecap="round" stroke-dasharray="6.3,5.7" stroke-linecap="butt"/>
<line x1="1215" y1="652.8" x2="1257.6" y2="652.8" stroke="#d0d0d0" stroke-width="2.2" />
<text x="1262.8" y="659.4" font-family="'Liberation Serif', serif" font-size="18.9" fill="#111" text-anchor="start" >Raw Line</text>
<line x1="1215" y1="676" x2="1257.6" y2="676" stroke="#22f21e" stroke-width="2.6" />
<text x="1262.8" y="682.6" font-family="'Liberation Serif', serif" font-size="18.9" fill="#111" text-anchor="start" >Baseline</text>
<line x1="1215" y1="700.1" x2="1257.6" y2="700.1" stroke="#f01024" stroke-width="2.6" />
<text x="1262.8" y="706.7" font-family="'Liberation Serif', serif" font-size="18.9" fill="#111" text-anchor="start" >Fitting Line</text>
<line x1="1215" y1="723.3" x2="1257.6" y2="723.3" stroke="#f01024" stroke-width="1.6" stroke-dasharray="7.2,5"/>
<text x="1262.8" y="729.9" font-family="'Liberation Serif', serif" font-size="18.9" fill="#111" text-anchor="start" >Adding Peak</text>
<text x="1029.2" y="657.6" font-family="'Liberation Serif', serif" fill="#111" text-anchor="start"><tspan font-size="23.8" dy="0">Nb3d</tspan><tspan font-size="16" dy="6.3">5/2</tspan></text>
<text x="1092.9" y="783.1" font-family="'Liberation Serif', serif" fill="#111" text-anchor="start"><tspan font-size="23.8" dy="0">Nb3d</tspan><tspan font-size="16" dy="6.3">3/2</tspan></text>
<text x="938.1" y="939.8" font-family="'Liberation Serif', serif" fill="#111" text-anchor="start"><tspan font-size="23.8" dy="0">Nb</tspan><tspan font-size="16" dy="6.3">2</tspan><tspan font-size="23.8" dy="-6.3">O</tspan><tspan font-size="16" dy="6.3">5</tspan></text>
<line x1="1015.9" y1="926" x2="1118.91" y2="898.22" stroke="#111" stroke-width="1.5"/>
<path d="M1130.5,895.1 L1118.02,902.61 L1115.94,894.88 Z" fill="#111"/>
<line x1="1015.9" y1="946.6" x2="1060.6" y2="975.23" stroke="#111" stroke-width="1.5"/>
<path d="M1070.7,981.7 L1056.75,977.52 L1061.07,970.78 Z" fill="#111"/>
<rect x="58.8" y="1217.2" width="623.5" height="501.3" fill="none" stroke="#111" stroke-width="2.0" stroke-linejoin="round"/>
<line x1="121.41" y1="1718.5" x2="121.41" y2="1709" stroke="#111" stroke-width="1.6"/>
<line x1="183.77" y1="1718.5" x2="183.77" y2="1709" stroke="#111" stroke-width="1.6"/>
<line x1="246.13" y1="1718.5" x2="246.13" y2="1709" stroke="#111" stroke-width="1.6"/>
<line x1="308.49" y1="1718.5" x2="308.49" y2="1709" stroke="#111" stroke-width="1.6"/>
<line x1="370.85" y1="1718.5" x2="370.85" y2="1709" stroke="#111" stroke-width="1.6"/>
<line x1="433.21" y1="1718.5" x2="433.21" y2="1709" stroke="#111" stroke-width="1.6"/>
<line x1="495.57" y1="1718.5" x2="495.57" y2="1709" stroke="#111" stroke-width="1.6"/>
<line x1="557.93" y1="1718.5" x2="557.93" y2="1709" stroke="#111" stroke-width="1.6"/>
<line x1="620.29" y1="1718.5" x2="620.29" y2="1709" stroke="#111" stroke-width="1.6"/>
<text x="59.05" y="1745.6" font-family="'Liberation Sans', sans-serif" font-size="22" fill="#111" text-anchor="middle" >22</text>
<text x="121.41" y="1745.6" font-family="'Liberation Sans', sans-serif" font-size="22" fill="#111" text-anchor="middle" >24</text>
<text x="183.77" y="1745.6" font-family="'Liberation Sans', sans-serif" font-size="22" fill="#111" text-anchor="middle" >26</text>
<text x="246.13" y="1745.6" font-family="'Liberation Sans', sans-serif" font-size="22" fill="#111" text-anchor="middle" >28</text>
<text x="308.49" y="1745.6" font-family="'Liberation Sans', sans-serif" font-size="22" fill="#111" text-anchor="middle" >30</text>
<text x="370.85" y="1745.6" font-family="'Liberation Sans', sans-serif" font-size="22" fill="#111" text-anchor="middle" >32</text>
<text x="433.21" y="1745.6" font-family="'Liberation Sans', sans-serif" font-size="22" fill="#111" text-anchor="middle" >34</text>
<text x="495.57" y="1745.6" font-family="'Liberation Sans', sans-serif" font-size="22" fill="#111" text-anchor="middle" >36</text>
<text x="557.93" y="1745.6" font-family="'Liberation Sans', sans-serif" font-size="22" fill="#111" text-anchor="middle" >38</text>
<text x="620.29" y="1745.6" font-family="'Liberation Sans', sans-serif" font-size="22" fill="#111" text-anchor="middle" >40</text>
<text x="682.65" y="1745.6" font-family="'Liberation Sans', sans-serif" font-size="22" fill="#111" text-anchor="middle" >42</text>
<text x="0" y="0" font-family="'Liberation Serif', serif" font-size="26.5" fill="#111" text-anchor="middle" transform="translate(33.7,1454) rotate(-90)">Intensity/CPS</text>
<text x="380" y="1776.2" font-family="'Liberation Serif', serif" font-size="26.4" fill="#111" text-anchor="middle" >Binding energy/ev</text>
<text x="77" y="1250.4" font-family="'Liberation Serif', serif" font-size="34" fill="#111" text-anchor="start" >(e)</text>
<path d="M121.6,1560.3 L122.2,1556.9 L122.8,1553.3 L123.4,1550.9 L124,1549.2 L124.6,1547.6 L125.2,1545.9 L125.8,1544 L126.4,1541.7 L127,1539.3 L127.6,1536.1 L128.2,1534.5 L128.8,1532.6 L129.4,1530.5 L130,1528 L130.6,1525.1 L131.2,1522 L131.8,1518.4 L132.4,1513.7 L133,1508.8 L133.6,1503.7 L134.2,1499.1 L134.8,1494.2 L135.4,1489.2 L136,1483.9 L136.6,1478.4 L137.2,1472.7 L137.8,1466.4 L138.4,1459.2 L139,1451.8 L139.6,1444.1 L140.2,1438.6 L140.8,1432.8 L141.4,1426.9 L142,1418.8 L142.6,1409.6 L143.2,1400.4 L143.8,1391.8 L144.4,1384.5 L145,1377.1 L145.6,1369.8 L146.2,1363 L146.8,1356.3 L147.4,1349.6 L148,1341.6 L148.6,1333.1 L149.2,1324.7 L149.8,1316.9 L150.4,1310.3 L151,1304 L151.6,1297.9 L152.2,1291.9 L152.8,1286.4 L153.4,1280.7 L154,1275.8 L154.6,1271.6 L155.2,1268 L155.8,1264.6 L156.4,1261.4 L157,1259.3 L157.6,1257.9 L158.2,1259.2 L158.8,1261.4 L159.4,1264.5 L160,1268.6 L160.6,1274.2 L161.2,1280.5 L161.8,1286.8 L162.4,1292.6 L163,1298.9 L163.6,1304.9 L164.2,1311.8 L164.8,1319 L165.4,1326.6 L166,1334.8 L166.6,1343.3 L167.2,1352.1 L167.8,1360.9 L168.4,1369.6 L169,1378.4 L169.6,1387.2 L170.2,1395.9 L170.8,1404.5 L171.4,1413.1 L172,1421.8 L172.6,1430.4 L173.2,1438.8 L173.8,1446.7 L174.4,1453.7 L175,1460.4 L175.6,1466.8 L176.2,1474.8 L176.8,1482.5 L177.4,1489.8 L178,1495.8 L178.6,1501 L179.2,1505.8 L179.8,1510.6 L180.4,1515.8 L181,1520.6 L181.6,1525 L182.2,1528.2 L182.8,1530.9 L183.4,1533.3 L184,1535.3 L184.6,1536.9 L185.2,1538.1 L185.8,1539.2 L186.4,1540.6 L187,1541.5 L187.6,1542.2 L188.2,1541.7 L188.8,1540.9 L189.4,1539.8 L190,1539.2 L190.6,1538.6 L191.2,1537.8 L191.8,1536.2 L192.4,1533.5 L193,1530.5 L193.6,1527.3 L194.2,1524.6 L194.8,1521.6 L195.4,1518.4 L196,1514.2 L196.6,1509.4 L197.2,1504.4 L197.8,1499.9 L198.4,1496.5 L199,1493 L199.6,1489.3 L200.2,1483.6 L200.8,1477.8 L201.4,1472 L202,1467 L202.6,1462.6 L203.2,1458.1 L203.8,1453.4 L204.4,1448 L205,1442.7 L205.6,1437.5 L206.2,1431.7 L206.8,1426.1 L207.4,1420.6 L208,1416.1 L208.6,1412.4 L209.2,1408.8 L209.8,1405.1 L210.4,1401 L211,1397.2 L211.6,1393.7 L212.2,1391 L212.8,1387.9 L213.4,1385.2 L214,1383 L214.6,1381.1 L215.2,1380 L215.8,1379.8 L216.4,1379.5 L217,1379.7 L217.6,1380.6 L218.2,1382.4 L218.8,1384.6 L219.4,1388 L220,1391.3 L220.6,1394.6 L221.2,1398.3 L221.8,1402.9 L222.4,1408.1 L223,1413.3 L223.6,1418.8 L224.2,1424.1 L224.8,1429.6 L225.4,1435.3 L226,1441.3 L226.6,1447.6 L227.2,1454.1 L227.8,1460.3 L228.4,1465.9 L229,1471.5 L229.6,1477.2 L230.2,1484.1 L230.8,1491.1 L231.4,1498 L232,1504.5 L232.6,1510.8 L233.2,1517 L233.8,1523 L234.4,1528.3 L235,1533.6 L235.6,1538.7 L236.2,1544.8 L236.8,1550.7 L237.4,1556.5 L238,1562.4 L238.6,1568.4 L239.2,1574.1 L239.8,1579.3 L240.4,1583.4 L241,1587.3 L241.6,1591.1 L242.2,1595.4 L242.8,1599.4 L243.4,1603.3 L244,1607.6 L244.6,1612.1 L245.2,1616.4 L245.8,1620.1 L246.4,1623 L247,1625.6 L247.6,1628.1 L248.2,1630.5 L248.8,1632.7 L249.4,1634.8 L250,1637 L250.6,1639.2 L251.2,1641.2 L251.8,1643 L252.4,1644.4 L253,1645.7 L253.6,1646.9 L254.2,1648.1 L254.8,1649.2 L255.4,1650.2 L256,1651.1 L256.6,1652 L257.2,1652.9 L257.8,1653.7 L258.4,1654.7 L259,1655.6 L259.6,1656.5 L260.2,1657.3 L260.8,1658.1 L261.4,1658.8 L262,1658.6 L262.6,1658.1 L263.2,1657.5 L263.8,1657.2 L264.4,1657.4 L265,1657.6 L265.6,1657.7 L266.2,1657.6 L266.8,1657.4 L267.4,1657.3 L268,1656.8 L268.6,1656.1 L269.2,1655.5 L269.8,1655.1 L270.4,1655.5 L271,1655.8 L271.6,1656.1 L272.2,1656 L272.8,1655.9 L273.4,1655.8 L274,1655 L274.6,1653.8 L275.2,1652.6 L275.8,1651.9 L276.4,1652.1 L277,1652.3 L277.6,1652.5 L278.2,1651.4 L278.8,1650.3 L279.4,1649.2 L280,1648.9 L280.6,1649.1 L281.2,1649.3 L281.8,1649.2 L282.4,1648.7 L283,1648.1 L283.6,1647.6 L284.2,1646.4 L284.8,1645.1 L285.4,1643.9 L286,1642.6 L286.6,1641.4 L287.2,1640.1 L287.8,1639.4 L288.4,1639.5 L289,1639.6 L289.6,1639.8 L290.2,1638.8 L290.8,1637.8 L291.4,1636.8 L292,1636.2 L292.6,1635.7 L293.2,1635.2 L293.8,1634.8 L294.4,1634.8 L295,1634.7 L295.6,1634.7 L296.2,1634.9 L296.8,1635.1 L297.4,1635.3 L298,1634.7 L298.6,1633.7 L299.2,1632.7 L299.8,1631.9 L300.4,1631.4 L301,1631 L301.6,1630.6 L302.2,1629.6 L302.8,1628.6 L303.4,1627.6 L304,1627.4 L304.6,1627.6 L305.2,1627.9 L305.8,1627.9 L306.4,1627.4 L307,1626.8 L307.6,1626.3 L308.2,1626.9 L308.8,1627.6 L309.4,1628.3 L310,1628.1 L310.6,1627.6 L311.2,1627 L311.8,1626.7 L312.4,1626.9 L313,1627 L313.6,1627.1 L314.2,1627.1 L314.8,1627 L315.4,1627 L316,1626.9 L316.6,1626.8 L317.2,1626.7 L317.8,1626.8 L318.4,1627.3 L319,1627.8 L319.6,1628.3 L320.2,1628.1 L320.8,1627.9 L321.4,1627.8 L322,1627.6 L322.6,1627.3 L323.2,1627.1 L323.8,1627.1 L324.4,1627.4 L325,1627.7 L325.6,1628.1 L326.2,1628.4 L326.8,1628.8 L327.4,1629.1 L328,1629.6 L328.6,1630.2 L329.2,1630.8 L329.8,1631.1 L330.4,1630.8 L331,1630.6 L331.6,1630.3 L332.2,1631.2 L332.8,1632.1 L333.4,1632.9 L334,1632.9 L334.6,1632.4 L335.2,1631.9 L335.8,1631.7 L336.4,1632.2 L337,1632.7 L337.6,1633.2 L338.2,1633 L338.8,1632.8 L339.4,1632.6 L340,1633.4 L340.6,1634.7 L341.2,1636 L341.8,1636.8 L342.4,1636.3 L343,1635.9 L343.6,1635.4 L344.2,1635.7 L344.8,1636 L345.4,1636.3 L346,1637.2 L346.6,1638.2 L347.2,1639.3 L347.8,1639.9 L348.4,1639.6 L349,1639.3 L349.6,1639 L350.2,1639.1 L350.8,1639.3 L351.4,1639.4 L352,1640.1 L352.6,1641 L353.2,1641.9 L353.8,1642.4 L354.4,1642.1 L355,1641.8 L355.6,1641.5 L356.2,1642.1 L356.8,1642.7 L357.4,1643.3 L358,1643.2 L358.6,1642.8 L359.2,1642.3 L359.8,1642.1 L360.4,1642.7 L361,1643.2 L361.6,1643.7 L362.2,1643.8 L362.8,1643.9 L363.4,1644 L364,1643.7 L364.6,1643.2 L365.2,1642.7 L365.8,1642.6 L366.4,1643.2 L367,1643.8 L367.6,1644.3 L368.2,1643.2 L368.8,1642.1 L369.4,1641 L370,1640.6 L370.6,1640.4 L371.2,1640.2 L371.8,1640.1 L372.4,1639.9 L373,1639.8 L373.6,1639.6 L374.2,1639.7 L374.8,1639.8 L375.4,1639.9 L376,1639.3 L376.6,1638.5 L377.2,1637.6 L377.8,1636.8 L378.4,1636.4 L379,1636 L379.6,1635.6 L380.2,1635.5 L380.8,1635.4 L381.4,1635.3 L382,1635.3 L382.6,1635.3 L383.2,1635.3 L383.8,1634.9 L384.4,1633.8 L385,1632.7 L385.6,1631.6 L386.2,1630.8 L386.8,1629.9 L387.4,1629.1 L388,1628.9 L388.6,1628.9 L389.2,1628.9 L389.8,1628.8 L390.4,1628.7 L391,1628.5 L391.6,1628.3 L392.2,1627.3 L392.8,1626.3 L393.4,1625.3 L394,1624.8 L394.6,1624.5 L395.2,1624.2 L395.8,1623.6 L396.4,1622.2 L397,1620.8 L397.6,1619.4 L398.2,1619.7 L398.8,1619.9 L399.4,1620.1 L400,1619.8 L400.6,1619.2 L401.2,1618.7 L401.8,1618.2 L402.4,1617.8 L403,1617.4 L403.6,1617 L404.2,1616.2 L404.8,1615.4 L405.4,1614.7 L406,1614.1 L406.6,1613.6 L407.2,1613.2 L407.8,1612.4 L408.4,1611 L409,1609.6 L409.6,1608.1 L410.2,1608.2 L410.8,1608.2 L411.4,1608.2 L412,1607.1 L412.6,1605.4 L413.2,1603.7 L413.8,1602.5 L414.4,1602.3 L415,1602 L415.6,1601.7 L416.2,1601.7 L416.8,1601.7 L417.4,1601.7 L418,1601.2 L418.6,1600.3 L419.2,1599.5 L419.8,1598.3 L420.4,1596.4 L421,1594.6 L421.6,1592.7 L422.2,1593 L422.8,1593.3 L423.4,1593.5 L424,1592.8 L424.6,1591.6 L425.2,1590.5 L425.8,1589.3 L426.4,1588.4 L427,1587.5 L427.6,1586.6 L428.2,1586.2 L428.8,1585.8 L429.4,1585.4 L430,1584.7 L430.6,1583.8 L431.2,1582.9 L431.8,1582.2 L432.4,1581.8 L433,1581.5 L433.6,1581.1 L434.2,1579 L434.8,1576.9 L435.4,1574.7 L436,1573.6 L436.6,1573.1 L437.2,1572.5 L437.8,1571.8 L438.4,1570.9 L439,1569.9 L439.6,1568.9 L440.2,1567.1 L440.8,1565.2 L441.4,1563.3 L442,1562.7 L442.6,1562.7 L443.2,1562.6 L443.8,1562.2 L444.4,1561.1 L445,1559.9 L445.6,1558.7 L446.2,1556.2 L446.8,1553.7 L447.4,1551.1 L448,1549.5 L448.6,1548.3 L449.2,1547.1 L449.8,1545.6 L450.4,1543.6 L451,1541.6 L451.6,1539.6 L452.2,1538 L452.8,1536.5 L453.4,1534.9 L454,1532.8 L454.6,1530.6 L455.2,1528.3 L455.8,1526.3 L456.4,1525 L457,1523.7 L457.6,1522.3 L458.2,1519.4 L458.8,1516.5 L459.4,1513.5 L460,1511.7 L460.6,1510.5 L461.2,1509.3 L461.8,1507.5 L462.4,1504.7 L463,1501.8 L463.6,1498.9 L464.2,1497.2 L464.8,1495.5 L465.4,1493.7 L466,1490.2 L466.6,1485.7 L467.2,1481.2 L467.8,1477.5 L468.4,1475.3 L469,1473.1 L469.6,1470.8 L470.2,1467.4 L470.8,1463.9 L471.4,1460.4 L472,1457.5 L472.6,1454.9 L473.2,1452.3 L473.8,1449.6 L474.4,1446.6 L475,1443.7 L475.6,1440.7 L476.2,1436.8 L476.8,1432.9 L477.4,1429 L478,1425.3 L478.6,1421.7 L479.2,1418.1 L479.8,1414.5 L480.4,1411 L481,1407.4 L481.6,1403.9 L482.2,1401.3 L482.8,1398.7 L483.4,1396.1 L484,1393.3 L484.6,1390.4 L485.2,1387.5 L485.8,1384.6 L486.4,1381.3 L487,1378.1 L487.6,1374.9 L488.2,1371.4 L488.8,1367.9 L489.4,1364.5 L490,1361.2 L490.6,1357.7 L491.2,1354.2 L491.8,1351.1 L492.4,1348.4 L493,1345.9 L493.6,1343.4 L494.2,1340.3 L494.8,1337.2 L495.4,1334.3 L496,1331.7 L496.6,1329.4 L497.2,1327.2 L497.8,1325.5 L498.4,1324.6 L499,1323.9 L499.6,1323.3 L500.2,1321.3 L500.8,1319.6 L501.4,1318.1 L502,1317.3 L502.6,1316.9 L503.2,1316.6 L503.8,1316.4 L504.4,1315.9 L505,1315.6 L505.6,1315.4 L506.2,1316.3 L506.8,1317.3 L507.4,1318.4 L508,1319.2 L508.6,1319.9 L509.2,1320.8 L509.8,1321.4 L510.4,1321.7 L511,1322.2 L511.6,1322.9 L512.2,1324.7 L512.8,1326.7 L513.4,1328.7 L514,1330.7 L514.6,1332.7 L515.2,1334.7 L515.8,1337.2 L516.4,1340.4 L517,1343.8 L517.6,1347.2 L518.2,1349.9 L518.8,1352.7 L519.4,1355.6 L520,1358.2 L520.6,1360.3 L521.2,1362.5 L521.8,1365.4 L522.4,1369.4 L523,1373.6 L523.6,1377.8 L524.2,1380 L524.8,1382.3 L525.4,1384.6 L526,1387.2 L526.6,1390 L527.2,1392.8 L527.8,1395.7 L528.4,1398.8 L529,1401.8 L529.6,1404.9 L530.2,1409.1 L530.8,1413.3 L531.4,1417.5 L532,1421.3 L532.6,1424.9 L533.2,1428.5 L533.8,1431.8 L534.4,1434.8 L535,1437.7 L535.6,1440.6 L536.2,1444.2 L536.8,1447.8 L537.4,1451.4 L538,1454.9 L538.6,1458.3 L539.2,1461.7 L539.8,1464.8 L540.4,1467 L541,1469 L541.6,1470.9 L542.2,1473.7 L542.8,1476.5 L543.4,1479.2 L544,1481.8 L544.6,1484.3 L545.2,1486.9 L545.8,1489.3 L546.4,1491.1 L547,1492.8 L547.6,1494.4 L548.2,1496.1 L548.8,1497.6 L549.4,1499.2 L550,1501.2 L550.6,1503.5 L551.2,1505.7 L551.8,1507.7 L552.4,1509.4 L553,1511.1 L553.6,1512.7 L554.2,1514.9 L554.8,1517 L555.4,1519.1 L556,1519.9 L556.6,1520.1 L557.2,1520.3 L557.8,1520.6 L558.4,1521.3 L559,1521.9 L559.6,1522.4 L560.2,1524.2 L560.8,1526 L561.4,1527.8 L562,1529 L562.6,1529.9 L563.2,1530.7 L563.8,1531.4 L564.4,1531.8 L565,1532.2 L565.6,1532.6 L566.2,1533.6 L566.8,1534.6 L567.4,1535.6 L568,1536.2 L568.6,1536.6 L569.2,1536.9 L569.8,1537.4 L570.4,1538.2 L571,1538.9 L571.6,1539.6 L572.2,1539 L572.8,1538.5 L573.4,1537.9 L574,1537.8 L574.6,1538.1 L575.2,1538.4 L575.8,1538.7 L576.4,1539.1 L577,1539.5 L577.6,1539.9 L578.2,1539.8 L578.8,1539.7 L579.4,1539.6 L580,1540.1 L580.6,1540.9 L581.2,1541.7 L581.8,1542.1 L582.4,1541.8 L583,1541.5 L583.6,1541.2 L584.2,1540.9 L584.8,1540.7 L585.4,1540.4 L586,1540.7 L586.6,1541.2 L587.2,1541.8 L587.8,1542 L588.4,1541.5 L589,1541 L589.6,1540.4 L590.2,1540.5 L590.8,1540.6 L591.4,1540.7 L592,1540.6 L592.6,1540.3 L593.2,1540.1 L593.8,1539.8 L594.4,1539.2 L595,1538.7 L595.6,1538.1 L596.2,1537.9 L596.8,1537.7 L597.4,1537.6 L598,1537.4 L598.6,1537.3 L599.2,1537.2 L599.8,1536.9 L600.4,1536.3 L601,1535.7 L601.6,1535.1 L602.2,1535.3 L602.8,1535.5 L603.4,1535.7 L604,1536 L604.6,1536.4 L605.2,1536.8 L605.8,1536.9 L606.4,1536.6 L607,1536.2 L607.6,1535.8 L608.2,1535.2 L608.8,1534.5 L609.4,1533.8 L610,1534.5 L610.6,1535.7 L611.2,1536.9 L611.8,1537.3 L612.4,1535.7 L613,1534.1 L613.6,1532.5 L614.2,1533.1 L614.8,1533.6 L615.4,1534.1 L616,1534.2 L616.6,1534.1 L617.2,1534 L617.8,1534 L618.4,1534 L619,1534.1 L619.6,1534.2 L620.2,1533.1 L620.8,1532 L621.4,1531 L622,1530.7" fill="none" stroke="#d0d0d0" stroke-width="2.6" stroke-linejoin="round" stroke-linecap="round" />
<path d="M121.6,1560.5 L122.2,1559 L122.8,1557.3 L123.4,1555.6 L124,1553.8 L124.6,1551.8 L125.2,1549.7 L125.8,1547.6 L126.4,1545.3 L127,1542.8 L127.6,1540.2 L128.2,1537.5 L128.8,1534.5 L129.4,1531.4 L130,1528 L130.6,1524.5 L131.2,1520.7 L131.8,1516.8 L132.4,1512.6 L133,1508.2 L133.6,1503.6 L134.2,1498.8 L134.8,1493.8 L135.4,1488.5 L136,1483 L136.6,1477.3 L137.2,1471.4 L137.8,1465.2 L138.4,1458.8 L139,1452.2 L139.6,1445.4 L140.2,1438.3 L140.8,1431.1 L141.4,1423.7 L142,1416.1 L142.6,1408.4 L143.2,1400.6 L143.8,1392.8 L144.4,1385 L145,1377.1 L145.6,1369.3 L146.2,1361.5 L146.8,1353.8 L147.4,1346.1 L148,1338.6 L148.6,1331.2 L149.2,1324 L149.8,1317.1 L150.4,1310.3 L151,1303.9 L151.6,1297.8 L152.2,1292 L152.8,1286.7 L153.4,1281.9 L154,1277.6 L154.6,1273.8 L155.2,1270.7 L155.8,1268.2 L156.4,1266.3 L157,1265.2 L157.6,1264.9 L158.2,1265.5 L158.8,1267.2 L159.4,1269.6 L160,1272.8 L160.6,1276.7 L161.2,1281.1 L161.8,1286.2 L162.4,1291.8 L163,1298 L163.6,1304.6 L164.2,1311.7 L164.8,1319.1 L165.4,1326.9 L166,1335 L166.6,1343.3 L167.2,1351.7 L167.8,1360.4 L168.4,1369.1 L169,1377.9 L169.6,1386.7 L170.2,1395.4 L170.8,1404.2 L171.4,1412.8 L172,1421.4 L172.6,1429.9 L173.2,1438.2 L173.8,1446.2 L174.4,1454.1 L175,1461.7 L175.6,1469.1 L176.2,1476.1 L176.8,1482.9 L177.4,1489.3 L178,1495.3 L178.6,1501 L179.2,1506.3 L179.8,1511.3 L180.4,1515.9 L181,1520.1 L181.6,1523.9 L182.2,1527.4 L182.8,1530.5 L183.4,1533.2 L184,1535.6 L184.6,1537.6 L185.2,1539.2 L185.8,1540.5 L186.4,1541.4 L187,1542 L187.6,1542.3 L188.2,1542.2 L188.8,1541.8 L189.4,1541.1 L190,1540 L190.6,1538.6 L191.2,1536.9 L191.8,1535 L192.4,1532.7 L193,1530.1 L193.6,1527.3 L194.2,1524.2 L194.8,1520.9 L195.4,1517.3 L196,1513.6 L196.6,1509.6 L197.2,1505.4 L197.8,1501 L198.4,1496.5 L199,1491.9 L199.6,1487.1 L200.2,1482.2 L200.8,1477.2 L201.4,1472.1 L202,1467 L202.6,1461.9 L203.2,1456.7 L203.8,1451.5 L204.4,1446.4 L205,1441.3 L205.6,1436.3 L206.2,1431.4 L206.8,1426.5 L207.4,1421.8 L208,1417.3 L208.6,1412.9 L209.2,1408.7 L209.8,1404.8 L210.4,1401 L211,1397.6 L211.6,1394.5 L212.2,1391.7 L212.8,1389.2 L213.4,1387.1 L214,1385.4 L214.6,1384.1 L215.2,1383.3 L215.8,1382.9 L216.4,1382.9 L217,1383.4 L217.6,1384.6 L218.2,1386.2 L218.8,1388.3 L219.4,1390.8 L220,1393.8 L220.6,1397.1 L221.2,1400.7 L221.8,1404.7 L222.4,1409 L223,1413.6 L223.6,1418.6 L224.2,1423.7 L224.8,1429.2 L225.4,1434.8 L226,1440.6 L226.6,1446.6 L227.2,1452.7 L227.8,1459 L228.4,1465.3 L229,1471.7 L229.6,1478.1 L230.2,1484.5 L230.8,1490.9 L231.4,1497.3 L232,1503.7 L232.6,1510.1 L233.2,1516.4 L233.8,1522.7 L234.4,1528.8 L235,1534.9 L235.6,1540.9 L236.2,1546.7 L236.8,1552.4 L237.4,1558 L238,1563.5 L238.6,1568.8 L239.2,1573.9 L239.8,1578.9 L240.4,1583.7 L241,1588.3 L241.6,1592.8 L242.2,1597 L242.8,1601.1 L243.4,1605 L244,1608.8 L244.6,1612.3 L245.2,1615.7 L245.8,1619 L246.4,1622.1 L247,1625 L247.6,1627.7 L248.2,1630.3 L248.8,1632.8 L249.4,1635.1 L250,1637.3 L250.6,1639.3 L251.2,1641.2 L251.8,1642.9 L252.4,1644.5 L253,1646 L253.6,1647.4 L254.2,1648.7 L254.8,1649.9 L255.4,1650.9 L256,1651.9 L256.6,1652.7 L257.2,1653.5 L257.8,1654.2 L258.4,1654.9 L259,1655.4 L259.6,1655.9 L260.2,1656.4 L260.8,1656.7 L261.4,1657 L262,1657.3 L262.6,1657.5 L263.2,1657.7 L263.8,1657.8 L264.4,1657.8 L265,1657.8 L265.6,1657.8 L266.2,1657.8 L266.8,1657.7 L267.4,1657.5 L268,1657.4 L268.6,1657.2 L269.2,1657 L269.8,1656.7 L270.4,1656.4 L271,1656.1 L271.6,1655.8 L272.2,1655.4 L272.8,1655 L273.4,1654.6 L274,1654.2 L274.6,1653.8 L275.2,1653.3 L275.8,1652.8 L276.4,1652.4 L277,1651.9 L277.6,1651.4 L278.2,1650.8 L278.8,1650.3 L279.4,1649.8 L280,1649.2 L280.6,1648.7 L281.2,1648.1 L281.8,1647.6 L282.4,1647 L283,1646.5 L283.6,1645.9 L284.2,1645.3 L284.8,1644.8 L285.4,1644.2 L286,1643.6 L286.6,1643.1 L287.2,1642.5 L287.8,1641.9 L288.4,1641.4 L289,1640.8 L289.6,1640.3 L290.2,1639.7 L290.8,1639.2 L291.4,1638.6 L292,1638.1 L292.6,1637.6 L293.2,1637 L293.8,1636.5 L294.4,1636 L295,1635.5 L295.6,1635 L296.2,1634.6 L296.8,1634.1 L297.4,1633.7 L298,1633.2 L298.6,1632.8 L299.2,1632.4 L299.8,1632 L300.4,1631.6 L301,1631.2 L301.6,1630.9 L302.2,1630.6 L302.8,1630.2 L303.4,1629.9 L304,1629.6 L304.6,1629.4 L305.2,1629.1 L305.8,1628.9 L306.4,1628.7 L307,1628.4 L307.6,1628.3 L308.2,1628.1 L308.8,1627.9 L309.4,1627.8 L310,1627.7 L310.6,1627.6 L311.2,1627.5 L311.8,1627.4 L312.4,1627.3 L313,1627.2 L313.6,1627.2 L314.2,1627.1 L314.8,1627.1 L315.4,1627 L316,1627 L316.6,1626.9 L317.2,1626.9 L317.8,1626.9 L318.4,1626.9 L319,1626.9 L319.6,1626.9 L320.2,1627 L320.8,1627 L321.4,1627.1 L322,1627.1 L322.6,1627.2 L323.2,1627.3 L323.8,1627.4 L324.4,1627.6 L325,1627.7 L325.6,1627.9 L326.2,1628 L326.8,1628.2 L327.4,1628.4 L328,1628.6 L328.6,1628.9 L329.2,1629.1 L329.8,1629.3 L330.4,1629.6 L331,1629.9 L331.6,1630.2 L332.2,1630.5 L332.8,1630.8 L333.4,1631.1 L334,1631.4 L334.6,1631.8 L335.2,1632.1 L335.8,1632.5 L336.4,1632.8 L337,1633.1 L337.6,1633.5 L338.2,1633.8 L338.8,1634.2 L339.4,1634.5 L340,1634.9 L340.6,1635.2 L341.2,1635.5 L341.8,1635.9 L342.4,1636.2 L343,1636.5 L343.6,1636.8 L344.2,1637.2 L344.8,1637.5 L345.4,1637.8 L346,1638.1 L346.6,1638.4 L347.2,1638.7 L347.8,1638.9 L348.4,1639.2 L349,1639.5 L349.6,1639.7 L350.2,1640 L350.8,1640.2 L351.4,1640.4 L352,1640.7 L352.6,1640.9 L353.2,1641.1 L353.8,1641.3 L354.4,1641.4 L355,1641.6 L355.6,1641.8 L356.2,1641.9 L356.8,1642 L357.4,1642.2 L358,1642.3 L358.6,1642.4 L359.2,1642.5 L359.8,1642.5 L360.4,1642.6 L361,1642.6 L361.6,1642.6 L362.2,1642.6 L362.8,1642.6 L363.4,1642.6 L364,1642.5 L364.6,1642.4 L365.2,1642.3 L365.8,1642.2 L366.4,1642.1 L367,1642 L367.6,1641.8 L368.2,1641.6 L368.8,1641.5 L369.4,1641.3 L370,1641.1 L370.6,1640.8 L371.2,1640.6 L371.8,1640.3 L372.4,1640.1 L373,1639.8 L373.6,1639.5 L374.2,1639.2 L374.8,1638.9 L375.4,1638.6 L376,1638.3 L376.6,1638 L377.2,1637.6 L377.8,1637.3 L378.4,1636.9 L379,1636.5 L379.6,1636.2 L380.2,1635.8 L380.8,1635.4 L381.4,1635 L382,1634.6 L382.6,1634.2 L383.2,1633.8 L383.8,1633.4 L384.4,1633 L385,1632.6 L385.6,1632.1 L386.2,1631.7 L386.8,1631.3 L387.4,1630.8 L388,1630.3 L388.6,1629.9 L389.2,1629.4 L389.8,1628.9 L390.4,1628.4 L391,1627.9 L391.6,1627.4 L392.2,1626.9 L392.8,1626.4 L393.4,1625.9 L394,1625.3 L394.6,1624.8 L395.2,1624.3 L395.8,1623.7 L396.4,1623.2 L397,1622.6 L397.6,1622 L398.2,1621.5 L398.8,1620.9 L399.4,1620.3 L400,1619.7 L400.6,1619.2 L401.2,1618.6 L401.8,1617.9 L402.4,1617.3 L403,1616.7 L403.6,1616.1 L404.2,1615.5 L404.8,1614.8 L405.4,1614.2 L406,1613.5 L406.6,1612.9 L407.2,1612.2 L407.8,1611.6 L408.4,1610.9 L409,1610.2 L409.6,1609.5 L410.2,1608.9 L410.8,1608.2 L411.4,1607.5 L412,1606.8 L412.6,1606.1 L413.2,1605.4 L413.8,1604.7 L414.4,1604 L415,1603.3 L415.6,1602.6 L416.2,1601.8 L416.8,1601.1 L417.4,1600.4 L418,1599.7 L418.6,1599 L419.2,1598.2 L419.8,1597.5 L420.4,1596.8 L421,1596 L421.6,1595.3 L422.2,1594.5 L422.8,1593.8 L423.4,1593.1 L424,1592.3 L424.6,1591.5 L425.2,1590.8 L425.8,1590 L426.4,1589.2 L427,1588.4 L427.6,1587.6 L428.2,1586.8 L428.8,1586 L429.4,1585.2 L430,1584.4 L430.6,1583.5 L431.2,1582.7 L431.8,1581.8 L432.4,1581 L433,1580.1 L433.6,1579.2 L434.2,1578.2 L434.8,1577.3 L435.4,1576.4 L436,1575.4 L436.6,1574.4 L437.2,1573.4 L437.8,1572.4 L438.4,1571.3 L439,1570.2 L439.6,1569.1 L440.2,1568 L440.8,1566.9 L441.4,1565.7 L442,1564.4 L442.6,1563.1 L443.2,1561.8 L443.8,1560.5 L444.4,1559.1 L445,1557.7 L445.6,1556.2 L446.2,1554.7 L446.8,1553.2 L447.4,1551.7 L448,1550.1 L448.6,1548.5 L449.2,1546.8 L449.8,1545.1 L450.4,1543.5 L451,1541.7 L451.6,1540 L452.2,1538.2 L452.8,1536.4 L453.4,1534.6 L454,1532.7 L454.6,1530.9 L455.2,1529 L455.8,1527 L456.4,1525.1 L457,1523.2 L457.6,1521.2 L458.2,1519.1 L458.8,1517 L459.4,1514.8 L460,1512.6 L460.6,1510.4 L461.2,1508.1 L461.8,1505.7 L462.4,1503.3 L463,1500.9 L463.6,1498.4 L464.2,1495.8 L464.8,1493.2 L465.4,1490.6 L466,1487.9 L466.6,1485.2 L467.2,1482.4 L467.8,1479.6 L468.4,1476.8 L469,1473.9 L469.6,1471 L470.2,1468 L470.8,1465 L471.4,1462 L472,1459 L472.6,1455.9 L473.2,1452.8 L473.8,1449.7 L474.4,1446.5 L475,1443.3 L475.6,1440.1 L476.2,1436.8 L476.8,1433.5 L477.4,1430.1 L478,1426.8 L478.6,1423.4 L479.2,1420 L479.8,1416.6 L480.4,1413.2 L481,1409.7 L481.6,1406.3 L482.2,1402.9 L482.8,1399.5 L483.4,1396.1 L484,1392.7 L484.6,1389.4 L485.2,1386.1 L485.8,1382.8 L486.4,1379.6 L487,1376.4 L487.6,1373.3 L488.2,1370.2 L488.8,1367.2 L489.4,1364.3 L490,1361.4 L490.6,1358.6 L491.2,1355.9 L491.8,1353.2 L492.4,1350.6 L493,1348.1 L493.6,1345.7 L494.2,1343.4 L494.8,1341.1 L495.4,1338.9 L496,1336.9 L496.6,1334.9 L497.2,1333 L497.8,1331.2 L498.4,1329.6 L499,1328 L499.6,1326.6 L500.2,1325.4 L500.8,1324.3 L501.4,1323.3 L502,1322.5 L502.6,1321.9 L503.2,1321.4 L503.8,1321 L504.4,1320.8 L505,1320.7 L505.6,1320.8 L506.2,1321 L506.8,1321.3 L507.4,1321.8 L508,1322.3 L508.6,1323 L509.2,1323.8 L509.8,1324.7 L510.4,1325.7 L511,1326.9 L511.6,1328.2 L512.2,1329.5 L512.8,1331 L513.4,1332.6 L514,1334.3 L514.6,1336.1 L515.2,1338 L515.8,1339.9 L516.4,1342.1 L517,1344.3 L517.6,1346.6 L518.2,1349 L518.8,1351.5 L519.4,1354.1 L520,1356.8 L520.6,1359.6 L521.2,1362.5 L521.8,1365.4 L522.4,1368.4 L523,1371.5 L523.6,1374.6 L524.2,1377.7 L524.8,1381 L525.4,1384.2 L526,1387.5 L526.6,1390.8 L527.2,1394.2 L527.8,1397.5 L528.4,1400.9 L529,1404.3 L529.6,1407.7 L530.2,1411.2 L530.8,1414.6 L531.4,1418 L532,1421.4 L532.6,1424.8 L533.2,1428.1 L533.8,1431.5 L534.4,1434.8 L535,1438.1 L535.6,1441.4 L536.2,1444.7 L536.8,1447.9 L537.4,1451 L538,1454.2 L538.6,1457.3 L539.2,1460.3 L539.8,1463.3 L540.4,1466.2 L541,1469.1 L541.6,1472 L542.2,1474.7 L542.8,1477.5 L543.4,1480.2 L544,1482.8 L544.6,1485.3 L545.2,1487.8 L545.8,1490.3 L546.4,1492.7 L547,1495 L547.6,1497.3 L548.2,1499.5 L548.8,1501.6 L549.4,1503.7 L550,1505.7 L550.6,1507.7 L551.2,1509.6 L551.8,1511.5 L552.4,1513.3 L553,1515 L553.6,1516.7 L554.2,1518.3 L554.8,1519.9 L555.4,1521.4 L556,1522.9 L556.6,1524.3 L557.2,1525.6 L557.8,1526.9 L558.4,1528.2 L559,1529.4 L559.6,1530.5 L560.2,1531.6 L560.8,1532.6 L561.4,1533.6 L562,1534.5 L562.6,1535.4 L563.2,1536.3 L563.8,1537.1 L564.4,1537.8 L565,1538.5 L565.6,1539.2 L566.2,1539.8 L566.8,1540.4 L567.4,1541 L568,1541.5 L568.6,1542 L569.2,1542.4 L569.8,1542.8 L570.4,1543.2 L571,1543.6 L571.6,1543.9 L572.2,1544.2 L572.8,1544.5 L573.4,1544.7 L574,1545 L574.6,1545.2 L575.2,1545.4 L575.8,1545.6 L576.4,1545.7 L577,1545.8 L577.6,1546 L578.2,1546.1 L578.8,1546.2 L579.4,1546.2 L580,1546.3 L580.6,1546.3 L581.2,1546.4 L581.8,1546.4 L582.4,1546.4 L583,1546.4 L583.6,1546.4 L584.2,1546.4 L584.8,1546.4 L585.4,1546.3 L586,1546.3 L586.6,1546.2 L587.2,1546.1 L587.8,1546 L588.4,1545.9 L589,1545.8 L589.6,1545.7 L590.2,1545.6 L590.8,1545.5 L591.4,1545.4 L592,1545.2 L592.6,1545.1 L593.2,1544.9 L593.8,1544.8 L594.4,1544.6 L595,1544.5 L595.6,1544.3 L596.2,1544.1 L596.8,1543.9 L597.4,1543.8 L598,1543.6 L598.6,1543.4 L599.2,1543.2 L599.8,1543 L600.4,1542.8 L601,1542.6 L601.6,1542.4 L602.2,1542.2 L602.8,1542 L603.4,1541.8 L604,1541.6 L604.6,1541.4 L605.2,1541.2 L605.8,1541 L606.4,1540.8 L607,1540.6 L607.6,1540.4 L608.2,1540.2 L608.8,1539.9 L609.4,1539.7 L610,1539.5 L610.6,1539.3 L611.2,1539 L611.8,1538.8 L612.4,1538.6 L613,1538.4 L613.6,1538.1 L614.2,1537.9 L614.8,1537.6 L615.4,1537.4 L616,1537.2 L616.6,1536.9 L617.2,1536.7 L617.8,1536.4 L618.4,1536.2 L619,1535.9 L619.6,1535.7 L620.2,1535.4 L620.8,1535.2 L621.4,1534.9 L622,1534.7" fill="none" stroke="#f01024" stroke-width="2.6" stroke-linejoin="round" stroke-linecap="round" />
<path d="M121.6,1571.8 L122.2,1571.4 L122.8,1570.9 L123.4,1570.6 L124,1570.2 L124.6,1569.8 L125.2,1569.5 L125.8,1569.2 L126.4,1568.9 L127,1568.7 L127.6,1568.5 L128.2,1568.2 L128.8,1568 L129.4,1567.8 L130,1567.6 L130.6,1567.5 L131.2,1567.3 L131.8,1567.1 L132.4,1567 L133,1566.9 L133.6,1566.8 L134.2,1566.8 L134.8,1566.8 L135.4,1566.8 L136,1566.9 L136.6,1567 L137.2,1567.1 L137.8,1567.3 L138.4,1567.4 L139,1567.6 L139.6,1567.8 L140.2,1568 L140.8,1568.2 L141.4,1568.4 L142,1568.7 L142.6,1569 L143.2,1569.3 L143.8,1569.8 L144.4,1570.3 L145,1570.8 L145.6,1571.4 L146.2,1572 L146.8,1572.7 L147.4,1573.4 L148,1574.1 L148.6,1574.8 L149.2,1575.5 L149.8,1576.2 L150.4,1577 L151,1577.7 L151.6,1578.4 L152.2,1579.1 L152.8,1579.8 L153.4,1580.6 L154,1581.4 L154.6,1582.2 L155.2,1583 L155.8,1583.8 L156.4,1584.7 L157,1585.5 L157.6,1586.4 L158.2,1587.2 L158.8,1588.1 L159.4,1589 L160,1589.8 L160.6,1590.7 L161.2,1591.5 L161.8,1592.4 L162.4,1593.2 L163,1594.1 L163.6,1595 L164.2,1595.9 L164.8,1596.8 L165.4,1597.8 L166,1598.7 L166.6,1599.6 L167.2,1600.4 L167.8,1601.3 L168.4,1602.1 L169,1602.9 L169.6,1603.6 L170.2,1604.4 L170.8,1605.1 L171.4,1605.8 L172,1606.5 L172.6,1607.2 L173.2,1607.8 L173.8,1608.5 L174.4,1609.1 L175,1609.7 L175.6,1610.3 L176.2,1610.9 L176.8,1611.4 L177.4,1611.8 L178,1612.3 L178.6,1612.7 L179.2,1613 L179.8,1613.3 L180.4,1613.6 L181,1613.9 L181.6,1614.2 L182.2,1614.4 L182.8,1614.7 L183.4,1614.9 L184,1615.2 L184.6,1615.4 L185.2,1615.6 L185.8,1615.8 L186.4,1616.1 L187,1616.3 L187.6,1616.5 L188.2,1616.8 L188.8,1617.1 L189.4,1617.3 L190,1617.6 L190.6,1617.8 L191.2,1618.1 L191.8,1618.3 L192.4,1618.5 L193,1618.8 L193.6,1619 L194.2,1619.3 L194.8,1619.5 L195.4,1619.8 L196,1620 L196.6,1620.3 L197.2,1620.6 L197.8,1620.9 L198.4,1621.2 L199,1621.5 L199.6,1621.8 L200.2,1622.2 L200.8,1622.5 L201.4,1622.9 L202,1623.4 L202.6,1623.8 L203.2,1624.3 L203.8,1624.8 L204.4,1625.3 L205,1625.8 L205.6,1626.3 L206.2,1626.9 L206.8,1627.5 L207.4,1628 L208,1628.6 L208.6,1629.2 L209.2,1629.9 L209.8,1630.5 L210.4,1631.1 L211,1631.8 L211.6,1632.5 L212.2,1633.2 L212.8,1634 L213.4,1634.7 L214,1635.5 L214.6,1636.3 L215.2,1637.2 L215.8,1638 L216.4,1638.9 L217,1639.7 L217.6,1640.6 L218.2,1641.4 L218.8,1642.3 L219.4,1643.1 L220,1643.9 L220.6,1644.7 L221.2,1645.5 L221.8,1646.3 L222.4,1647.1 L223,1647.9 L223.6,1648.7 L224.2,1649.5 L224.8,1650.3 L225.4,1651.1 L226,1651.9 L226.6,1652.7 L227.2,1653.5 L227.8,1654.2 L228.4,1654.9 L229,1655.7 L229.6,1656.3 L230.2,1657 L230.8,1657.6 L231.4,1658.2 L232,1658.8 L232.6,1659.4 L233.2,1659.9 L233.8,1660.5 L234.4,1661 L235,1661.6 L235.6,1662.1 L236.2,1662.6 L236.8,1663.1 L237.4,1663.6 L238,1664.1 L238.6,1664.6 L239.2,1665 L239.8,1665.4 L240.4,1665.9 L241,1666.3 L241.6,1666.6 L242.2,1667 L242.8,1667.3 L243.4,1667.7 L244,1668 L244.6,1668.3 L245.2,1668.6 L245.8,1668.9 L246.4,1669.2 L247,1669.5 L247.6,1669.7 L248.2,1670 L248.8,1670.2 L249.4,1670.5 L250,1670.7 L250.6,1671 L251.2,1671.2 L251.8,1671.4 L252.4,1671.6 L253,1671.8 L253.6,1672 L254.2,1672.1 L254.8,1672.3 L255.4,1672.4 L256,1672.6 L256.6,1672.7 L257.2,1672.8 L257.8,1673 L258.4,1673.1 L259,1673.2 L259.6,1673.4 L260.2,1673.5 L260.8,1673.6 L261.4,1673.7 L262,1673.9 L262.6,1674 L263.2,1674.1 L263.8,1674.2 L264.4,1674.3 L265,1674.4 L265.6,1674.5 L266.2,1674.6 L266.8,1674.7 L267.4,1674.8 L268,1674.9 L268.6,1675 L269.2,1675 L269.8,1675.1 L270.4,1675.2 L271,1675.2 L271.6,1675.3 L272.2,1675.3 L272.8,1675.4 L273.4,1675.4 L274,1675.5 L274.6,1675.5 L275.2,1675.5 L275.8,1675.5 L276.4,1675.5 L277,1675.6 L277.6,1675.6 L278.2,1675.6 L278.8,1675.6 L279.4,1675.6 L280,1675.7 L280.6,1675.7 L281.2,1675.7 L281.8,1675.7 L282.4,1675.7 L283,1675.7 L283.6,1675.8 L284.2,1675.8 L284.8,1675.8 L285.4,1675.8 L286,1675.8 L286.6,1675.8 L287.2,1675.8 L287.8,1675.9 L288.4,1675.9 L289,1675.9 L289.6,1675.9 L290.2,1675.9 L290.8,1675.9 L291.4,1675.9 L292,1675.9 L292.6,1675.9 L293.2,1676 L293.8,1676 L294.4,1676 L295,1676 L295.6,1676 L296.2,1676 L296.8,1676 L297.4,1676 L298,1676 L298.6,1676 L299.2,1676 L299.8,1676 L300.4,1676.1 L301,1676.1 L301.6,1676.1 L302.2,1676.1 L302.8,1676.1 L303.4,1676.1 L304,1676.1 L304.6,1676.1 L305.2,1676.1 L305.8,1676.1 L306.4,1676.1 L307,1676.1 L307.6,1676.1 L308.2,1676.1 L308.8,1676.1 L309.4,1676.1 L310,1676.1 L310.6,1676.1 L311.2,1676.1 L311.8,1676.1 L312.4,1676 L313,1676 L313.6,1675.9 L314.2,1675.9 L314.8,1675.8 L315.4,1675.7 L316,1675.7 L316.6,1675.6 L317.2,1675.5 L317.8,1675.4 L318.4,1675.3 L319,1675.2 L319.6,1675.1 L320.2,1674.9 L320.8,1674.8 L321.4,1674.7 L322,1674.5 L322.6,1674.4 L323.2,1674.3 L323.8,1674.1 L324.4,1674 L325,1673.8 L325.6,1673.7 L326.2,1673.5 L326.8,1673.3 L327.4,1673.2 L328,1673 L328.6,1672.8 L329.2,1672.7 L329.8,1672.5 L330.4,1672.3 L331,1672.2 L331.6,1672 L332.2,1671.8 L332.8,1671.7 L333.4,1671.5 L334,1671.3 L334.6,1671.2 L335.2,1671 L335.8,1670.8 L336.4,1670.6 L337,1670.4 L337.6,1670.2 L338.2,1670 L338.8,1669.8 L339.4,1669.6 L340,1669.4 L340.6,1669.1 L341.2,1668.9 L341.8,1668.6 L342.4,1668.4 L343,1668.1 L343.6,1667.9 L344.2,1667.6 L344.8,1667.4 L345.4,1667.1 L346,1666.8 L346.6,1666.5 L347.2,1666.2 L347.8,1666 L348.4,1665.7 L349,1665.4 L349.6,1665.1 L350.2,1664.8 L350.8,1664.5 L351.4,1664.1 L352,1663.8 L352.6,1663.5 L353.2,1663.2 L353.8,1662.9 L354.4,1662.5 L355,1662.2 L355.6,1661.9 L356.2,1661.6 L356.8,1661.2 L357.4,1660.9 L358,1660.6 L358.6,1660.2 L359.2,1659.9 L359.8,1659.5 L360.4,1659.1 L361,1658.8 L361.6,1658.4 L362.2,1658 L362.8,1657.6 L363.4,1657.2 L364,1656.8 L364.6,1656.3 L365.2,1655.9 L365.8,1655.5 L366.4,1655 L367,1654.6 L367.6,1654.1 L368.2,1653.7 L368.8,1653.2 L369.4,1652.8 L370,1652.3 L370.6,1651.8 L371.2,1651.4 L371.8,1650.9 L372.4,1650.4 L373,1649.9 L373.6,1649.4 L374.2,1648.9 L374.8,1648.5 L375.4,1648 L376,1647.5 L376.6,1647 L377.2,1646.5 L377.8,1646 L378.4,1645.5 L379,1645 L379.6,1644.5 L380.2,1644 L380.8,1643.6 L381.4,1643.1 L382,1642.6 L382.6,1642.1 L383.2,1641.6 L383.8,1641.1 L384.4,1640.6 L385,1640.1 L385.6,1639.6 L386.2,1639.2 L386.8,1638.7 L387.4,1638.2 L388,1637.7 L388.6,1637.1 L389.2,1636.6 L389.8,1636.1 L390.4,1635.6 L391,1635.1 L391.6,1634.6 L392.2,1634.1 L392.8,1633.5 L393.4,1633 L394,1632.5 L394.6,1632 L395.2,1631.4 L395.8,1630.9 L396.4,1630.4 L397,1629.8 L397.6,1629.3 L398.2,1628.7 L398.8,1628.2 L399.4,1627.6 L400,1627.1 L400.6,1626.5 L401.2,1626 L401.8,1625.4 L402.4,1624.8 L403,1624.3 L403.6,1623.7 L404.2,1623.1 L404.8,1622.5 L405.4,1621.9 L406,1621.3 L406.6,1620.7 L407.2,1620.1 L407.8,1619.5 L408.4,1618.9 L409,1618.3 L409.6,1617.7 L410.2,1617.1 L410.8,1616.5 L411.4,1615.9 L412,1615.2 L412.6,1614.6 L413.2,1614 L413.8,1613.4 L414.4,1612.8 L415,1612.1 L415.6,1611.5 L416.2,1610.9 L416.8,1610.3 L417.4,1609.7 L418,1609.1 L418.6,1608.4 L419.2,1607.8 L419.8,1607.2 L420.4,1606.6 L421,1606 L421.6,1605.4 L422.2,1604.8 L422.8,1604.2 L423.4,1603.5 L424,1602.9 L424.6,1602.3 L425.2,1601.7 L425.8,1601.1 L426.4,1600.5 L427,1599.9 L427.6,1599.3 L428.2,1598.7 L428.8,1598.1 L429.4,1597.5 L430,1596.8 L430.6,1596.2 L431.2,1595.6 L431.8,1595 L432.4,1594.4 L433,1593.7 L433.6,1593.1 L434.2,1592.5 L434.8,1591.9 L435.4,1591.2 L436,1590.6 L436.6,1589.9 L437.2,1589.3 L437.8,1588.6 L438.4,1588 L439,1587.3 L439.6,1586.6 L440.2,1586 L440.8,1585.3 L441.4,1584.6 L442,1583.9 L442.6,1583.1 L443.2,1582.4 L443.8,1581.6 L444.4,1580.8 L445,1580 L445.6,1579.3 L446.2,1578.5 L446.8,1577.7 L447.4,1576.9 L448,1576.1 L448.6,1575.3 L449.2,1574.5 L449.8,1573.8 L450.4,1573 L451,1572.3 L451.6,1571.5 L452.2,1570.8 L452.8,1570.1 L453.4,1569.4 L454,1568.8 L454.6,1568.1 L455.2,1567.5 L455.8,1566.9 L456.4,1566.4 L457,1565.8 L457.6,1565.3 L458.2,1564.8 L458.8,1564.3 L459.4,1563.7 L460,1563.2 L460.6,1562.7 L461.2,1562.2 L461.8,1561.7 L462.4,1561.2 L463,1560.7 L463.6,1560.3 L464.2,1559.8 L464.8,1559.3 L465.4,1558.9 L466,1558.5 L466.6,1558.1 L467.2,1557.6 L467.8,1557.3 L468.4,1556.9 L469,1556.5 L469.6,1556.2 L470.2,1555.9 L470.8,1555.6 L471.4,1555.3 L472,1555.1 L472.6,1554.8 L473.2,1554.6 L473.8,1554.4 L474.4,1554.2 L475,1554.1 L475.6,1553.9 L476.2,1553.7 L476.8,1553.5 L477.4,1553.3 L478,1553.2 L478.6,1553 L479.2,1552.9 L479.8,1552.7 L480.4,1552.6 L481,1552.5 L481.6,1552.4 L482.2,1552.3 L482.8,1552.2 L483.4,1552.2 L484,1552.1 L484.6,1552.1 L485.2,1552.1 L485.8,1552.1 L486.4,1552.2 L487,1552.3 L487.6,1552.4 L488.2,1552.6 L488.8,1552.8 L489.4,1553 L490,1553.2 L490.6,1553.4 L491.2,1553.7 L491.8,1553.9 L492.4,1554.2 L493,1554.5 L493.6,1554.8 L494.2,1555.1 L494.8,1555.4 L495.4,1555.7 L496,1556 L496.6,1556.3 L497.2,1556.6 L497.8,1556.9 L498.4,1557.2 L499,1557.5 L499.6,1557.8 L500.2,1558.2 L500.8,1558.6 L501.4,1559 L502,1559.4 L502.6,1559.8 L503.2,1560.3 L503.8,1560.7 L504.4,1561.2 L505,1561.6 L505.6,1562.1 L506.2,1562.6 L506.8,1563 L507.4,1563.5 L508,1564 L508.6,1564.4 L509.2,1564.8 L509.8,1565.3 L510.4,1565.7 L511,1566 L511.6,1566.4 L512.2,1566.7 L512.8,1567.1 L513.4,1567.3 L514,1567.6 L514.6,1567.8 L515.2,1568 L515.8,1568.2 L516.4,1568.3 L517,1568.5 L517.6,1568.7 L518.2,1568.9 L518.8,1569 L519.4,1569.2 L520,1569.4 L520.6,1569.5 L521.2,1569.7 L521.8,1569.8 L522.4,1570 L523,1570.1 L523.6,1570.3 L524.2,1570.4 L524.8,1570.6 L525.4,1570.7 L526,1570.8 L526.6,1570.9 L527.2,1571.1 L527.8,1571.2 L528.4,1571.3 L529,1571.4 L529.6,1571.5 L530.2,1571.5 L530.8,1571.6 L531.4,1571.7 L532,1571.8 L532.6,1571.8 L533.2,1571.9 L533.8,1571.9 L534.4,1571.9 L535,1572 L535.6,1572 L536.2,1572 L536.8,1572 L537.4,1572 L538,1572 L538.6,1571.9 L539.2,1571.9 L539.8,1571.9 L540.4,1571.8 L541,1571.7 L541.6,1571.7 L542.2,1571.6 L542.8,1571.5 L543.4,1571.4 L544,1571.4 L544.6,1571.3 L545.2,1571.1 L545.8,1571 L546.4,1570.9 L547,1570.8 L547.6,1570.7 L548.2,1570.6 L548.8,1570.4 L549.4,1570.3 L550,1570.2 L550.6,1570 L551.2,1569.9 L551.8,1569.8 L552.4,1569.6 L553,1569.5 L553.6,1569.4 L554.2,1569.2 L554.8,1569.1 L555.4,1568.9 L556,1568.8 L556.6,1568.7 L557.2,1568.5 L557.8,1568.4 L558.4,1568.2 L559,1568.1 L559.6,1567.9 L560.2,1567.7 L560.8,1567.6 L561.4,1567.4 L562,1567.2 L562.6,1567 L563.2,1566.8 L563.8,1566.6 L564.4,1566.4 L565,1566.2 L565.6,1566 L566.2,1565.8 L566.8,1565.5 L567.4,1565.3 L568,1565.1 L568.6,1564.9 L569.2,1564.6 L569.8,1564.4 L570.4,1564.2 L571,1563.9 L571.6,1563.7 L572.2,1563.4 L572.8,1563.2 L573.4,1562.9 L574,1562.7 L574.6,1562.4 L575.2,1562.2 L575.8,1561.9 L576.4,1561.7 L577,1561.4 L577.6,1561.2 L578.2,1560.9 L578.8,1560.7 L579.4,1560.4 L580,1560.2 L580.6,1559.9 L581.2,1559.7 L581.8,1559.4 L582.4,1559.2 L583,1558.9 L583.6,1558.7 L584.2,1558.4 L584.8,1558.2 L585.4,1557.9 L586,1557.6 L586.6,1557.4 L587.2,1557.1 L587.8,1556.8 L588.4,1556.6 L589,1556.3 L589.6,1556 L590.2,1555.7 L590.8,1555.4 L591.4,1555.2 L592,1554.9 L592.6,1554.6 L593.2,1554.3 L593.8,1554 L594.4,1553.7 L595,1553.5 L595.6,1553.2 L596.2,1552.9 L596.8,1552.6 L597.4,1552.3 L598,1552 L598.6,1551.7 L599.2,1551.4 L599.8,1551.1 L600.4,1550.8 L601,1550.5 L601.6,1550.2 L602.2,1549.9 L602.8,1549.7 L603.4,1549.4 L604,1549.1 L604.6,1548.8 L605.2,1548.5 L605.8,1548.2 L606.4,1547.9 L607,1547.6 L607.6,1547.3 L608.2,1547 L608.8,1546.7 L609.4,1546.4 L610,1546.1 L610.6,1545.8 L611.2,1545.6 L611.8,1545.3 L612.4,1545 L613,1544.7 L613.6,1544.4 L614.2,1544.1 L614.8,1543.8 L615.4,1543.5 L616,1543.2 L616.6,1542.9 L617.2,1542.6 L617.8,1542.2 L618.4,1541.9 L619,1541.6 L619.6,1541.3 L620.2,1541 L620.8,1540.7 L621.4,1540.4 L622,1540.1" fill="none" stroke="#22f21e" stroke-width="2.6" stroke-linejoin="round" stroke-linecap="round" />
<path d="M121.6,1571.8 L122.2,1571.4 L122.8,1570.9 L123.4,1570.6 L124,1570.2 L124.6,1569.8 L125.2,1569.5 L125.8,1569.2 L126.4,1568.9 L127,1568.7 L127.6,1568.5 L128.2,1568.2 L128.8,1568 L129.4,1567.8 L130,1567.6 L130.6,1567.5 L131.2,1567.3 L131.8,1567.1 L132.4,1567 L133,1566.9 L133.6,1566.8 L134.2,1566.8 L134.8,1566.8 L135.4,1566.8 L136,1566.9 L136.6,1567 L137.2,1567.1 L137.8,1567.3 L138.4,1567.4 L139,1567.6 L139.6,1567.8 L140.2,1568 L140.8,1568.2 L141.4,1568.4 L142,1568.7 L142.6,1569 L143.2,1569.3 L143.8,1569.8 L144.4,1570.3 L145,1570.8 L145.6,1571.4 L146.2,1572 L146.8,1572.7 L147.4,1573.4 L148,1574.1 L148.6,1574.8 L149.2,1575.5 L149.8,1576.2 L150.4,1577 L151,1577.7 L151.6,1578.4 L152.2,1579.1 L152.8,1579.8 L153.4,1580.6 L154,1581.4 L154.6,1582.2 L155.2,1583 L155.8,1583.8 L156.4,1584.7 L157,1585.5 L157.6,1586.4 L158.2,1587.2 L158.8,1588.1 L159.4,1589 L160,1589.8 L160.6,1590.7 L161.2,1591.5 L161.8,1592.4 L162.4,1593.2 L163,1594.1 L163.6,1595 L164.2,1595.9 L164.8,1596.8 L165.4,1597.8 L166,1598.7 L166.6,1599.6 L167.2,1600.4 L167.8,1601.3 L168.4,1602.1 L169,1602.9 L169.6,1603.6 L170.2,1604.4 L170.8,1605.1 L171.4,1605.8 L172,1606.5 L172.6,1607.2 L173.2,1607.8 L173.8,1608.5 L174.4,1609.1 L175,1609.7 L175.6,1610.3 L176.2,1610.9 L176.8,1611.4 L177.4,1611.8 L178,1612.3 L178.6,1612.7 L179.2,1613 L179.8,1613.3 L180.4,1613.6 L181,1613.9 L181.6,1614.2 L182.2,1614.4 L182.8,1614.7 L183.4,1614.9 L184,1615.2 L184.6,1615.4 L185.2,1615.6 L185.8,1615.8 L186.4,1616.1 L187,1616.3 L187.6,1616.5 L188.2,1616.8 L188.8,1617.1 L189.4,1617.3 L190,1617.6 L190.6,1617.8 L191.2,1618.1 L191.8,1618.3 L192.4,1618.5 L193,1618.8 L193.6,1619 L194.2,1619.3 L194.8,1619.5 L195.4,1619.8 L196,1620 L196.6,1620.3 L197.2,1620.6 L197.8,1620.9 L198.4,1621.2 L199,1621.5 L199.6,1621.8 L200.2,1622.2 L200.8,1622.5 L201.4,1622.9 L202,1623.4 L202.6,1623.8 L203.2,1624.3 L203.8,1624.8 L204.4,1625.3 L205,1625.8 L205.6,1626.3 L206.2,1626.9 L206.8,1627.5 L207.4,1628 L208,1628.6 L208.6,1629.2 L209.2,1629.9 L209.8,1630.5 L210.4,1631.1 L211,1631.8 L211.6,1632.5 L212.2,1633.2 L212.8,1634 L213.4,1634.7 L214,1635.5 L214.6,1636.3 L215.2,1637.2 L215.8,1638 L216.4,1638.9 L217,1639.7 L217.6,1640.6 L218.2,1641.4 L218.8,1642.3 L219.4,1643.1 L220,1643.9 L220.6,1644.7 L221.2,1645.5 L221.8,1646.3 L222.4,1647.1 L223,1647.9 L223.6,1648.7 L224.2,1649.5 L224.8,1650.3 L225.4,1651.1 L226,1651.9 L226.6,1652.7 L227.2,1653.5 L227.8,1654.2 L228.4,1654.9 L229,1655.7 L229.6,1656.3 L230.2,1657 L230.8,1657.6 L231.4,1658.2 L232,1658.8 L232.6,1659.4 L233.2,1659.9 L233.8,1660.5 L234.4,1661 L235,1661.6 L235.6,1662.1 L236.2,1662.6 L236.8,1663.1 L237.4,1663.6 L238,1664.1 L238.6,1664.6 L239.2,1665 L239.8,1665.4 L240.4,1665.9 L241,1666.3 L241.6,1666.6 L242.2,1667 L242.8,1667.3 L243.4,1667.7 L244,1668 L244.6,1668.3 L245.2,1668.6 L245.8,1668.9 L246.4,1669.2 L247,1669.5 L247.6,1669.7 L248.2,1670 L248.8,1670.2 L249.4,1670.5 L250,1670.7 L250.6,1671 L251.2,1671.2 L251.8,1671.4 L252.4,1671.6 L253,1671.8 L253.6,1672 L254.2,1672.1 L254.8,1672.3 L255.4,1672.4 L256,1672.6 L256.6,1672.7 L257.2,1672.8 L257.8,1673 L258.4,1673.1 L259,1673.2 L259.6,1673.4 L260.2,1673.5 L260.8,1673.6 L261.4,1673.7 L262,1673.9 L262.6,1674 L263.2,1674.1 L263.8,1674.2 L264.4,1674.3 L265,1674.4 L265.6,1674.5 L266.2,1674.6 L266.8,1674.7 L267.4,1674.8 L268,1674.9 L268.6,1675 L269.2,1675 L269.8,1675.1 L270.4,1675.2 L271,1675.2 L271.6,1675.3 L272.2,1675.3 L272.8,1675.4 L273.4,1675.4 L274,1675.5 L274.6,1675.5 L275.2,1675.5 L275.8,1675.5 L276.4,1675.5 L277,1675.6 L277.6,1675.6 L278.2,1675.6 L278.8,1675.6 L279.4,1675.6 L280,1675.7 L280.6,1675.7 L281.2,1675.7 L281.8,1675.7 L282.4,1675.7 L283,1675.7 L283.6,1675.8 L284.2,1675.8 L284.8,1675.8 L285.4,1675.8 L286,1675.8 L286.6,1675.8 L287.2,1675.8 L287.8,1675.9 L288.4,1675.9 L289,1675.9 L289.6,1675.9 L290.2,1675.9 L290.8,1675.9 L291.4,1675.9 L292,1675.9 L292.6,1675.9 L293.2,1676 L293.8,1676 L294.4,1676 L295,1676 L295.6,1676 L296.2,1676 L296.8,1676 L297.4,1676 L298,1676 L298.6,1676 L299.2,1676 L299.8,1676 L300.4,1676.1 L301,1676.1 L301.6,1676.1 L302.2,1676.1 L302.8,1676.1 L303.4,1676.1 L304,1676.1 L304.6,1676.1 L305.2,1676.1 L305.8,1676.1 L306.4,1676.1 L307,1676.1 L307.6,1676.1 L308.2,1676.1 L308.8,1676.1 L309.4,1676.1 L310,1676.1 L310.6,1676.1 L311.2,1676.1 L311.8,1676.1 L312.4,1676 L313,1676 L313.6,1675.9 L314.2,1675.9 L314.8,1675.8 L315.4,1675.7 L316,1675.7 L316.6,1675.6 L317.2,1675.5 L317.8,1675.4 L318.4,1675.3 L319,1675.2 L319.6,1675.1 L320.2,1674.9 L320.8,1674.8 L321.4,1674.7 L322,1674.5 L322.6,1674.4 L323.2,1674.3 L323.8,1674.1 L324.4,1674 L325,1673.8 L325.6,1673.7 L326.2,1673.5 L326.8,1673.3 L327.4,1673.2 L328,1673 L328.6,1672.8 L329.2,1672.7 L329.8,1672.5 L330.4,1672.3 L331,1672.2 L331.6,1672 L332.2,1671.8 L332.8,1671.7 L333.4,1671.5 L334,1671.3 L334.6,1671.2 L335.2,1671 L335.8,1670.8 L336.4,1670.6 L337,1670.4 L337.6,1670.2 L338.2,1670 L338.8,1669.8 L339.4,1669.6 L340,1669.4 L340.6,1669.1 L341.2,1668.9 L341.8,1668.6 L342.4,1668.4 L343,1668.1 L343.6,1667.9 L344.2,1667.6 L344.8,1667.4 L345.4,1667.1 L346,1666.8 L346.6,1666.5 L347.2,1666.2 L347.8,1666 L348.4,1665.7 L349,1665.4 L349.6,1665.1 L350.2,1664.8 L350.8,1664.5 L351.4,1664.1 L352,1663.8 L352.6,1663.5 L353.2,1663.2 L353.8,1662.9 L354.4,1662.5 L355,1662.2 L355.6,1661.9 L356.2,1661.6 L356.8,1661.2 L357.4,1660.9 L358,1660.6 L358.6,1660.2 L359.2,1659.9 L359.8,1659.5 L360.4,1659.1 L361,1658.8 L361.6,1658.4 L362.2,1658 L362.8,1657.6 L363.4,1657.2 L364,1656.8 L364.6,1656.3 L365.2,1655.9 L365.8,1655.5 L366.4,1655 L367,1654.6 L367.6,1654.1 L368.2,1653.7 L368.8,1653.2 L369.4,1652.8 L370,1652.3 L370.6,1651.8 L371.2,1651.4 L371.8,1650.9 L372.4,1650.4 L373,1649.9 L373.6,1649.4 L374.2,1648.9 L374.8,1648.5 L375.4,1648 L376,1647.5 L376.6,1647 L377.2,1646.5 L377.8,1646 L378.4,1645.5 L379,1645 L379.6,1644.5 L380.2,1644 L380.8,1643.6 L381.4,1643.1 L382,1642.6 L382.6,1642.1 L383.2,1641.6 L383.8,1641.1 L384.4,1640.6 L385,1640.1 L385.6,1639.6 L386.2,1639.2 L386.8,1638.7 L387.4,1638.2 L388,1637.7 L388.6,1637.1 L389.2,1636.6 L389.8,1636.1 L390.4,1635.6 L391,1635.1 L391.6,1634.6 L392.2,1634.1 L392.8,1633.5 L393.4,1633 L394,1632.5 L394.6,1632 L395.2,1631.4 L395.8,1630.9 L396.4,1630.4 L397,1629.8 L397.6,1629.3 L398.2,1628.7 L398.8,1628.2 L399.4,1627.6 L400,1627.1 L400.6,1626.5 L401.2,1626 L401.8,1625.4 L402.4,1624.8 L403,1624.3 L403.6,1623.7 L404.2,1623.1 L404.8,1622.5 L405.4,1621.9 L406,1621.3 L406.6,1620.7 L407.2,1620.1 L407.8,1619.5 L408.4,1618.9 L409,1618.3 L409.6,1617.7 L410.2,1617.1 L410.8,1616.5 L411.4,1615.9 L412,1615.2 L412.6,1614.6 L413.2,1614 L413.8,1613.4 L414.4,1612.8 L415,1612.1 L415.6,1611.5 L416.2,1610.9 L416.8,1610.3 L417.4,1609.7 L418,1609.1 L418.6,1608.4 L419.2,1607.8 L419.8,1607.2 L420.4,1606.6 L421,1606 L421.6,1605.4 L422.2,1604.8 L422.8,1604.2 L423.4,1603.5 L424,1602.9 L424.6,1602.3 L425.2,1601.7 L425.8,1601.1 L426.4,1600.5 L427,1599.9 L427.6,1599.3 L428.2,1598.7 L428.8,1598.1 L429.4,1597.5 L430,1596.8 L430.6,1596.2 L431.2,1595.6 L431.8,1595 L432.4,1594.4 L433,1593.7 L433.6,1593.1 L434.2,1592.5 L434.8,1591.9 L435.4,1591.2 L436,1590.6 L436.6,1589.9 L437.2,1589.3 L437.8,1588.6 L438.4,1588 L439,1587.3 L439.6,1586.6 L440.2,1586 L440.8,1585.3 L441.4,1584.6 L442,1583.9 L442.6,1583.1 L443.2,1582.4 L443.8,1581.6 L444.4,1580.8 L445,1580 L445.6,1579.3 L446.2,1578.5 L446.8,1577.7 L447.4,1576.9 L448,1576.1 L448.6,1575.3 L449.2,1574.5 L449.8,1573.8 L450.4,1573 L451,1572.3 L451.6,1571.5 L452.2,1570.8 L452.8,1570.1 L453.4,1569.4 L454,1568.8 L454.6,1568.1 L455.2,1567.5 L455.8,1566.9 L456.4,1566.4 L457,1565.8 L457.6,1565.3 L458.2,1564.8 L458.8,1564.3 L459.4,1563.7 L460,1563.2 L460.6,1562.7 L461.2,1562.2 L461.8,1561.7 L462.4,1561.2 L463,1560.7 L463.6,1560.3 L464.2,1559.8 L464.8,1559.3 L465.4,1558.9 L466,1558.5 L466.6,1558.1 L467.2,1557.6 L467.8,1557.3 L468.4,1556.9 L469,1556.5 L469.6,1556.2 L470.2,1555.9 L470.8,1555.6 L471.4,1555.3 L472,1555.1 L472.6,1554.8 L473.2,1554.6 L473.8,1554.4 L474.4,1554.2 L475,1554.1 L475.6,1553.9 L476.2,1553.7 L476.8,1553.5 L477.4,1553.3 L478,1553.2 L478.6,1553 L479.2,1552.9 L479.8,1552.7 L480.4,1552.6 L481,1552.5 L481.6,1552.4 L482.2,1552.3 L482.8,1552.2 L483.4,1552.2 L484,1552.1 L484.6,1552.1 L485.2,1552.1 L485.8,1552.1 L486.4,1552.2 L487,1552.3 L487.6,1552.4 L488.2,1552.6 L488.8,1552.8 L489.4,1553 L490,1553.2 L490.6,1553.4 L491.2,1553.7 L491.8,1553.9 L492.4,1554.2 L493,1554.5 L493.6,1554.8 L494.2,1555.1 L494.8,1555.4 L495.4,1555.7 L496,1556 L496.6,1556.3 L497.2,1556.6 L497.8,1556.9 L498.4,1557.2 L499,1557.5 L499.6,1557.8 L500.2,1558.2 L500.8,1558.6 L501.4,1559 L502,1559.4 L502.6,1559.8 L503.2,1560.3 L503.8,1560.7 L504.4,1561.2 L505,1561.6 L505.6,1562.1 L506.2,1562.6 L506.8,1563 L507.4,1563.5 L508,1564 L508.6,1564.4 L509.2,1564.8 L509.8,1565.3 L510.4,1565.7 L511,1566 L511.6,1566.4 L512.2,1566.7 L512.8,1567.1 L513.4,1567.3 L514,1567.6 L514.6,1567.8 L515.2,1568 L515.8,1568.2 L516.4,1568.3 L517,1568.5 L517.6,1568.7 L518.2,1568.9 L518.8,1569 L519.4,1569.2 L520,1569.4 L520.6,1569.5 L521.2,1569.7 L521.8,1569.8 L522.4,1570 L523,1570.1 L523.6,1570.3 L524.2,1570.4 L524.8,1570.6 L525.4,1570.7 L526,1570.8 L526.6,1570.9 L527.2,1571.1 L527.8,1571.2 L528.4,1571.3 L529,1571.4 L529.6,1571.5 L530.2,1571.5 L530.8,1571.6 L531.4,1571.7 L532,1571.8 L532.6,1571.8 L533.2,1571.9 L533.8,1571.9 L534.4,1571.9 L535,1572 L535.6,1572 L536.2,1572 L536.8,1572 L537.4,1572 L538,1572 L538.6,1571.9 L539.2,1571.9 L539.8,1571.9 L540.4,1571.8 L541,1571.7 L541.6,1571.7 L542.2,1571.6 L542.8,1571.5 L543.4,1571.4 L544,1571.4 L544.6,1571.3 L545.2,1571.1 L545.8,1571 L546.4,1570.9 L547,1570.8 L547.6,1570.7 L548.2,1570.6 L548.8,1570.4 L549.4,1570.3 L550,1570.2 L550.6,1570 L551.2,1569.9 L551.8,1569.8 L552.4,1569.6 L553,1569.5 L553.6,1569.4 L554.2,1569.2 L554.8,1569.1 L555.4,1568.9 L556,1568.8 L556.6,1568.7 L557.2,1568.5 L557.8,1568.4 L558.4,1568.2 L559,1568.1 L559.6,1567.9 L560.2,1567.7 L560.8,1567.6 L561.4,1567.4 L562,1567.2 L562.6,1567 L563.2,1566.8 L563.8,1566.6 L564.4,1566.4 L565,1566.2 L565.6,1566 L566.2,1565.8 L566.8,1565.5 L567.4,1565.3 L568,1565.1 L568.6,1564.9 L569.2,1564.6 L569.8,1564.4 L570.4,1564.2 L571,1563.9 L571.6,1563.7 L572.2,1563.4 L572.8,1563.2 L573.4,1562.9 L574,1562.7 L574.6,1562.4 L575.2,1562.2 L575.8,1561.9 L576.4,1561.7 L577,1561.4 L577.6,1561.2 L578.2,1560.9 L578.8,1560.7 L579.4,1560.4 L580,1560.2 L580.6,1559.9 L581.2,1559.7 L581.8,1559.4 L582.4,1559.2 L583,1558.9 L583.6,1558.7 L584.2,1558.4 L584.8,1558.2 L585.4,1557.9 L586,1557.6 L586.6,1557.4 L587.2,1557.1 L587.8,1556.8 L588.4,1556.6 L589,1556.3 L589.6,1556 L590.2,1555.7 L590.8,1555.4 L591.4,1555.2 L592,1554.9 L592.6,1554.6 L593.2,1554.3 L593.8,1554 L594.4,1553.7 L595,1553.5 L595.6,1553.2 L596.2,1552.9 L596.8,1552.6 L597.4,1552.3 L598,1552 L598.6,1551.7 L599.2,1551.4 L599.8,1551.1 L600.4,1550.8 L601,1550.5 L601.6,1550.2 L602.2,1549.9 L602.8,1549.7 L603.4,1549.4 L604,1549.1 L604.6,1548.8 L605.2,1548.5 L605.8,1548.2 L606.4,1547.9 L607,1547.6 L607.6,1547.3 L608.2,1547 L608.8,1546.7 L609.4,1546.4 L610,1546.1 L610.6,1545.8 L611.2,1545.6 L611.8,1545.3 L612.4,1545 L613,1544.7 L613.6,1544.4 L614.2,1544.1 L614.8,1543.8 L615.4,1543.5 L616,1543.2 L616.6,1542.9 L617.2,1542.6 L617.8,1542.2 L618.4,1541.9 L619,1541.6 L619.6,1541.3 L620.2,1541 L620.8,1540.7 L621.4,1540.4 L622,1540.1" fill="none" stroke="#e0222a" stroke-width="1.9" stroke-linejoin="round" stroke-linecap="round" stroke-dasharray="6.3,5.7" stroke-linecap="butt"/>
<path d="M121.6,1561.7 L122.2,1560.1 L122.8,1558.5 L123.4,1556.8 L124,1554.9 L124.6,1553 L125.2,1550.9 L125.8,1548.8 L126.4,1546.5 L127,1544 L127.6,1541.5 L128.2,1538.7 L128.8,1535.8 L129.4,1532.6 L130,1529.3 L130.6,1525.8 L131.2,1522 L131.8,1518.1 L132.4,1513.9 L133,1509.5 L133.6,1505 L134.2,1500.1 L134.8,1495.1 L135.4,1489.9 L136,1484.4 L136.6,1478.7 L137.2,1472.8 L137.8,1466.6 L138.4,1460.2 L139,1453.6 L139.6,1446.8 L140.2,1439.8 L140.8,1432.6 L141.4,1425.1 L142,1417.6 L142.6,1409.9 L143.2,1402.2 L143.8,1394.4 L144.4,1386.5 L145,1378.7 L145.6,1370.9 L146.2,1363.1 L146.8,1355.4 L147.4,1347.8 L148,1340.3 L148.6,1332.9 L149.2,1325.8 L149.8,1318.8 L150.4,1312.1 L151,1305.7 L151.6,1299.6 L152.2,1293.9 L152.8,1288.6 L153.4,1283.8 L154,1279.5 L154.6,1275.8 L155.2,1272.7 L155.8,1270.2 L156.4,1268.4 L157,1267.4 L157.6,1267.1 L158.2,1267.8 L158.8,1269.5 L159.4,1272 L160,1275.3 L160.6,1279.2 L161.2,1283.8 L161.8,1288.9 L162.4,1294.7 L163,1301 L163.6,1307.7 L164.2,1314.9 L164.8,1322.5 L165.4,1330.5 L166,1338.7 L166.6,1347.2 L167.2,1355.9 L167.8,1364.8 L168.4,1373.8 L169,1382.9 L169.6,1392 L170.2,1401.1 L170.8,1410.2 L171.4,1419.3 L172,1428.3 L172.6,1437.2 L173.2,1446.1 L173.8,1454.7 L174.4,1463.2 L175,1471.5 L175.6,1479.6 L176.2,1487.5 L176.8,1495.1 L177.4,1502.4 L178,1509.5 L178.6,1516.2 L179.2,1522.7 L179.8,1528.9 L180.4,1534.8 L181,1540.5 L181.6,1545.9 L182.2,1551 L182.8,1555.8 L183.4,1560.4 L184,1564.8 L184.6,1568.9 L185.2,1572.7 L185.8,1576.4 L186.4,1579.8 L187,1583.1 L187.6,1586.1 L188.2,1589 L188.8,1591.6 L189.4,1594.1 L190,1596.5 L190.6,1598.6 L191.2,1600.7 L191.8,1602.5 L192.4,1604.3 L193,1605.9 L193.6,1607.4 L194.2,1608.8 L194.8,1610.1 L195.4,1611.3 L196,1612.5 L196.6,1613.5 L197.2,1614.5 L197.8,1615.5 L198.4,1616.4 L199,1617.2 L199.6,1618 L200.2,1618.8 L200.8,1619.5 L201.4,1620.3 L202,1621 L202.6,1621.7 L203.2,1622.4 L203.8,1623.1 L204.4,1623.8 L205,1624.5" fill="none" stroke="#e0222a" stroke-width="1.7" stroke-linejoin="round" stroke-linecap="round" stroke-dasharray="6.3,5.7" stroke-linecap="butt"/>
<path d="M160.6,1589.1 L161.2,1589.8 L161.8,1590.6 L162.4,1591.3 L163,1592.1 L163.6,1592.9 L164.2,1593.7 L164.8,1594.4 L165.4,1595.2 L166,1595.9 L166.6,1596.6 L167.2,1597.2 L167.8,1597.9 L168.4,1598.4 L169,1598.9 L169.6,1599.4 L170.2,1599.7 L170.8,1600.1 L171.4,1600.4 L172,1600.6 L172.6,1600.8 L173.2,1601 L173.8,1601.1 L174.4,1601.1 L175,1601 L175.6,1600.9 L176.2,1600.6 L176.8,1600.3 L177.4,1599.8 L178,1599.2 L178.6,1598.5 L179.2,1597.7 L179.8,1596.8 L180.4,1595.8 L181,1594.6 L181.6,1593.4 L182.2,1592 L182.8,1590.5 L183.4,1588.9 L184,1587.1 L184.6,1585.3 L185.2,1583.3 L185.8,1581.1 L186.4,1578.9 L187,1576.5 L187.6,1573.9 L188.2,1571.3 L188.8,1568.4 L189.4,1565.5 L190,1562.3 L190.6,1559 L191.2,1555.6 L191.8,1552 L192.4,1548.2 L193,1544.3 L193.6,1540.2 L194.2,1536 L194.8,1531.6 L195.4,1527.1 L196,1522.4 L196.6,1517.7 L197.2,1512.8 L197.8,1507.8 L198.4,1502.7 L199,1497.5 L199.6,1492.2 L200.2,1486.9 L200.8,1481.5 L201.4,1476.1 L202,1470.7 L202.6,1465.3 L203.2,1459.9 L203.8,1454.6 L204.4,1449.3 L205,1444 L205.6,1438.8 L206.2,1433.8 L206.8,1428.8 L207.4,1424 L208,1419.4 L208.6,1415 L209.2,1410.7 L209.8,1406.7 L210.4,1402.9 L211,1399.4 L211.6,1396.3 L212.2,1393.5 L212.8,1391 L213.4,1388.9 L214,1387.2 L214.6,1385.9 L215.2,1385 L215.8,1384.6 L216.4,1384.7 L217,1385.2 L217.6,1386.4 L218.2,1388 L218.8,1390.1 L219.4,1392.6 L220,1395.6 L220.6,1398.9 L221.2,1402.5 L221.8,1406.5 L222.4,1410.9 L223,1415.5 L223.6,1420.5 L224.2,1425.7 L224.8,1431.2 L225.4,1436.8 L226,1442.7 L226.6,1448.7 L227.2,1454.8 L227.8,1461.1 L228.4,1467.5 L229,1473.9 L229.6,1480.3 L230.2,1486.8 L230.8,1493.3 L231.4,1499.7 L232,1506.2 L232.6,1512.6 L233.2,1518.9 L233.8,1525.2 L234.4,1531.4 L235,1537.6 L235.6,1543.6 L236.2,1549.5 L236.8,1555.3 L237.4,1561 L238,1566.5 L238.6,1571.9 L239.2,1577.1 L239.8,1582.1 L240.4,1587 L241,1591.8 L241.6,1596.3 L242.2,1600.7 L242.8,1604.9 L243.4,1608.9 L244,1612.7 L244.6,1616.4 L245.2,1620 L245.8,1623.3 L246.4,1626.6 L247,1629.6 L247.6,1632.5 L248.2,1635.3 L248.8,1637.9 L249.4,1640.4 L250,1642.7 L250.6,1644.9 L251.2,1647 L251.8,1649 L252.4,1650.8 L253,1652.5 L253.6,1654.1 L254.2,1655.6 L254.8,1657 L255.4,1658.3 L256,1659.5 L256.6,1660.7 L257.2,1661.7 L257.8,1662.7 L258.4,1663.6 L259,1664.5 L259.6,1665.3 L260.2,1666.1 L260.8,1666.8 L261.4,1667.4 L262,1668 L262.6,1668.6 L263.2,1669.1 L263.8,1669.6 L264.4,1670 L265,1670.5 L265.6,1670.8 L266.2,1671.2 L266.8,1671.5 L267.4,1671.8 L268,1672.1 L268.6,1672.4 L269.2,1672.6 L269.8,1672.8 L270.4,1673 L271,1673.2 L271.6,1673.4 L272.2,1673.5 L272.8,1673.7 L273.4,1673.8" fill="none" stroke="#e0222a" stroke-width="1.7" stroke-linejoin="round" stroke-linecap="round" stroke-dasharray="6.3,5.7" stroke-linecap="butt"/>
<path d="M234.4,1659.4 L235,1659.9 L235.6,1660.4 L236.2,1660.8 L236.8,1661.3 L237.4,1661.7 L238,1662.1 L238.6,1662.5 L239.2,1662.9 L239.8,1663.2 L240.4,1663.5 L241,1663.8 L241.6,1664.1 L242.2,1664.4 L242.8,1664.6 L243.4,1664.9 L244,1665.1 L244.6,1665.3 L245.2,1665.4 L245.8,1665.6 L246.4,1665.8 L247,1665.9 L247.6,1666 L248.2,1666.1 L248.8,1666.2 L249.4,1666.3 L250,1666.4 L250.6,1666.4 L251.2,1666.5 L251.8,1666.5 L252.4,1666.5 L253,1666.5 L253.6,1666.4 L254.2,1666.4 L254.8,1666.3 L255.4,1666.2 L256,1666.1 L256.6,1666 L257.2,1665.8 L257.8,1665.7 L258.4,1665.5 L259,1665.4 L259.6,1665.2 L260.2,1665 L260.8,1664.8 L261.4,1664.6 L262,1664.4 L262.6,1664.1 L263.2,1663.9 L263.8,1663.6 L264.4,1663.4 L265,1663.1 L265.6,1662.8 L266.2,1662.4 L266.8,1662.1 L267.4,1661.8 L268,1661.4 L268.6,1661.1 L269.2,1660.7 L269.8,1660.3 L270.4,1659.9 L271,1659.4 L271.6,1659 L272.2,1658.5 L272.8,1658.1 L273.4,1657.6 L274,1657.1 L274.6,1656.6 L275.2,1656.1 L275.8,1655.6 L276.4,1655 L277,1654.5 L277.6,1653.9 L278.2,1653.4 L278.8,1652.8 L279.4,1652.3 L280,1651.7 L280.6,1651.1 L281.2,1650.6 L281.8,1650 L282.4,1649.4 L283,1648.8 L283.6,1648.3 L284.2,1647.7 L284.8,1647.1 L285.4,1646.5 L286,1645.9 L286.6,1645.4 L287.2,1644.8 L287.8,1644.2 L288.4,1643.6 L289,1643.1 L289.6,1642.5 L290.2,1642 L290.8,1641.4 L291.4,1640.9 L292,1640.3 L292.6,1639.8 L293.2,1639.3 L293.8,1638.8 L294.4,1638.3 L295,1637.8 L295.6,1637.3 L296.2,1636.8 L296.8,1636.4 L297.4,1635.9 L298,1635.5 L298.6,1635.1 L299.2,1634.7 L299.8,1634.3 L300.4,1633.9 L301,1633.5 L301.6,1633.2 L302.2,1632.8 L302.8,1632.5 L303.4,1632.2 L304,1631.9 L304.6,1631.6 L305.2,1631.4 L305.8,1631.2 L306.4,1630.9 L307,1630.7 L307.6,1630.6 L308.2,1630.4 L308.8,1630.3 L309.4,1630.1 L310,1630 L310.6,1629.9 L311.2,1629.8 L311.8,1629.7 L312.4,1629.7 L313,1629.6 L313.6,1629.5 L314.2,1629.5 L314.8,1629.4 L315.4,1629.4 L316,1629.3 L316.6,1629.3 L317.2,1629.3 L317.8,1629.3 L318.4,1629.3 L319,1629.3 L319.6,1629.4 L320.2,1629.4 L320.8,1629.5 L321.4,1629.5 L322,1629.6 L322.6,1629.7 L323.2,1629.8 L323.8,1629.9 L324.4,1630.1 L325,1630.2 L325.6,1630.4 L326.2,1630.6 L326.8,1630.8 L327.4,1631 L328,1631.2 L328.6,1631.5 L329.2,1631.7 L329.8,1632 L330.4,1632.2 L331,1632.5 L331.6,1632.8 L332.2,1633.1 L332.8,1633.5 L333.4,1633.8 L334,1634.1 L334.6,1634.5 L335.2,1634.8 L335.8,1635.2 L336.4,1635.6 L337,1635.9 L337.6,1636.3 L338.2,1636.6 L338.8,1637 L339.4,1637.4 L340,1637.7 L340.6,1638.1 L341.2,1638.4 L341.8,1638.8 L342.4,1639.1 L343,1639.5 L343.6,1639.8 L344.2,1640.1 L344.8,1640.5 L345.4,1640.8 L346,1641.1 L346.6,1641.4 L347.2,1641.7 L347.8,1642 L348.4,1642.3 L349,1642.6 L349.6,1642.9 L350.2,1643.1 L350.8,1643.4 L351.4,1643.6 L352,1643.9 L352.6,1644.1 L353.2,1644.3 L353.8,1644.5 L354.4,1644.7 L355,1644.9 L355.6,1645.1 L356.2,1645.3 L356.8,1645.4 L357.4,1645.6 L358,1645.7 L358.6,1645.8 L359.2,1646 L359.8,1646 L360.4,1646.1 L361,1646.2 L361.6,1646.2 L362.2,1646.2 L362.8,1646.2 L363.4,1646.2 L364,1646.2 L364.6,1646.1 L365.2,1646.1 L365.8,1646 L366.4,1645.9 L367,1645.8 L367.6,1645.7 L368.2,1645.5 L368.8,1645.4 L369.4,1645.2 L370,1645 L370.6,1644.8 L371.2,1644.6 L371.8,1644.4 L372.4,1644.2 L373,1643.9 L373.6,1643.7 L374.2,1643.4 L374.8,1643.1 L375.4,1642.9 L376,1642.6 L376.6,1642.3 L377.2,1642 L377.8,1641.7 L378.4,1641.3 L379,1641 L379.6,1640.7 L380.2,1640.3 L380.8,1640 L381.4,1639.6 L382,1639.3 L382.6,1638.9 L383.2,1638.6 L383.8,1638.2 L384.4,1637.8 L385,1637.4 L385.6,1637.1 L386.2,1636.7 L386.8,1636.3 L387.4,1635.8 L388,1635.4 L388.6,1635 L389.2,1634.6 L389.8,1634.1 L390.4,1633.7 L391,1633.2 L391.6,1632.8 L392.2,1632.3 L392.8,1631.9 L393.4,1631.4" fill="none" stroke="#e0222a" stroke-width="1.7" stroke-linejoin="round" stroke-linecap="round" stroke-dasharray="6.3,5.7" stroke-linecap="butt"/>
<path d="M304,1674.3 L304.6,1674.3 L305.2,1674.3 L305.8,1674.3 L306.4,1674.3 L307,1674.3 L307.6,1674.3 L308.2,1674.2 L308.8,1674.2 L309.4,1674.2 L310,1674.2 L310.6,1674.2 L311.2,1674.2 L311.8,1674.1 L312.4,1674.1 L313,1674 L313.6,1674 L314.2,1673.9 L314.8,1673.8 L315.4,1673.8 L316,1673.7 L316.6,1673.6 L317.2,1673.5 L317.8,1673.4 L318.4,1673.2 L319,1673.1 L319.6,1673 L320.2,1672.8 L320.8,1672.7 L321.4,1672.6 L322,1672.4 L322.6,1672.3 L323.2,1672.1 L323.8,1671.9 L324.4,1671.8 L325,1671.6 L325.6,1671.4 L326.2,1671.3 L326.8,1671.1 L327.4,1670.9 L328,1670.7 L328.6,1670.6 L329.2,1670.4 L329.8,1670.2 L330.4,1670 L331,1669.8 L331.6,1669.6 L332.2,1669.5 L332.8,1669.3 L333.4,1669.1 L334,1668.9 L334.6,1668.7 L335.2,1668.5 L335.8,1668.3 L336.4,1668.1 L337,1667.9 L337.6,1667.7 L338.2,1667.5 L338.8,1667.2 L339.4,1667 L340,1666.8 L340.6,1666.5 L341.2,1666.3 L341.8,1666 L342.4,1665.7 L343,1665.5 L343.6,1665.2 L344.2,1664.9 L344.8,1664.6 L345.4,1664.3 L346,1664 L346.6,1663.7 L347.2,1663.4 L347.8,1663.1 L348.4,1662.8 L349,1662.5 L349.6,1662.2 L350.2,1661.8 L350.8,1661.5 L351.4,1661.2 L352,1660.8 L352.6,1660.5 L353.2,1660.2 L353.8,1659.8 L354.4,1659.5 L355,1659.1 L355.6,1658.8 L356.2,1658.4 L356.8,1658 L357.4,1657.7 L358,1657.3 L358.6,1657 L359.2,1656.6 L359.8,1656.2 L360.4,1655.8 L361,1655.4 L361.6,1655 L362.2,1654.6 L362.8,1654.1 L363.4,1653.7 L364,1653.3 L364.6,1652.8 L365.2,1652.4 L365.8,1651.9 L366.4,1651.4 L367,1651 L367.6,1650.5 L368.2,1650 L368.8,1649.5 L369.4,1649 L370,1648.5 L370.6,1648 L371.2,1647.5 L371.8,1647 L372.4,1646.5 L373,1646 L373.6,1645.4 L374.2,1644.9 L374.8,1644.4 L375.4,1643.9 L376,1643.3 L376.6,1642.8 L377.2,1642.3 L377.8,1641.8 L378.4,1641.2 L379,1640.7 L379.6,1640.2 L380.2,1639.6 L380.8,1639.1 L381.4,1638.6 L382,1638.1 L382.6,1637.5 L383.2,1637 L383.8,1636.5 L384.4,1636 L385,1635.4 L385.6,1634.9 L386.2,1634.3 L386.8,1633.8 L387.4,1633.2 L388,1632.7 L388.6,1632.1 L389.2,1631.6 L389.8,1631 L390.4,1630.5 L391,1629.9 L391.6,1629.3 L392.2,1628.8 L392.8,1628.2 L393.4,1627.6 L394,1627 L394.6,1626.5 L395.2,1625.9 L395.8,1625.3 L396.4,1624.7 L397,1624.1 L397.6,1623.5 L398.2,1622.9 L398.8,1622.3 L399.4,1621.7 L400,1621 L400.6,1620.4 L401.2,1619.8 L401.8,1619.2 L402.4,1618.5 L403,1617.9 L403.6,1617.2 L404.2,1616.6 L404.8,1615.9 L405.4,1615.3 L406,1614.6 L406.6,1613.9 L407.2,1613.2 L407.8,1612.6 L408.4,1611.9 L409,1611.2 L409.6,1610.5 L410.2,1609.8 L410.8,1609.1 L411.4,1608.4 L412,1607.7 L412.6,1607 L413.2,1606.3 L413.8,1605.5 L414.4,1604.8 L415,1604.1 L415.6,1603.4 L416.2,1602.7 L416.8,1601.9 L417.4,1601.2 L418,1600.5 L418.6,1599.7 L419.2,1599 L419.8,1598.3 L420.4,1597.5 L421,1596.8 L421.6,1596 L422.2,1595.3 L422.8,1594.5 L423.4,1593.8 L424,1593 L424.6,1592.2 L425.2,1591.5 L425.8,1590.7 L426.4,1589.9 L427,1589.1 L427.6,1588.3 L428.2,1587.5 L428.8,1586.7 L429.4,1585.9 L430,1585 L430.6,1584.2 L431.2,1583.3 L431.8,1582.5 L432.4,1581.6 L433,1580.7 L433.6,1579.8 L434.2,1578.8 L434.8,1577.9 L435.4,1576.9 L436,1576 L436.6,1575 L437.2,1574 L437.8,1572.9 L438.4,1571.9 L439,1570.8 L439.6,1569.7 L440.2,1568.6 L440.8,1567.4 L441.4,1566.2 L442,1565 L442.6,1563.7 L443.2,1562.4 L443.8,1561 L444.4,1559.6 L445,1558.2 L445.6,1556.7 L446.2,1555.2 L446.8,1553.7 L447.4,1552.2 L448,1550.6 L448.6,1549 L449.2,1547.3 L449.8,1545.6 L450.4,1543.9 L451,1542.2 L451.6,1540.4 L452.2,1538.7 L452.8,1536.9 L453.4,1535 L454,1533.2 L454.6,1531.3 L455.2,1529.4 L455.8,1527.5 L456.4,1525.6 L457,1523.6 L457.6,1521.6 L458.2,1519.5 L458.8,1517.4 L459.4,1515.3 L460,1513.1 L460.6,1510.8 L461.2,1508.5 L461.8,1506.1 L462.4,1503.7 L463,1501.3 L463.6,1498.8 L464.2,1496.2 L464.8,1493.6 L465.4,1491 L466,1488.3 L466.6,1485.6 L467.2,1482.8 L467.8,1480 L468.4,1477.2 L469,1474.3 L469.6,1471.3 L470.2,1468.4 L470.8,1465.4 L471.4,1462.4 L472,1459.3 L472.6,1456.3 L473.2,1453.2 L473.8,1450 L474.4,1446.9 L475,1443.7 L475.6,1440.4 L476.2,1437.1 L476.8,1433.8 L477.4,1430.5 L478,1427.1 L478.6,1423.7 L479.2,1420.3 L479.8,1416.9 L480.4,1413.5 L481,1410.1 L481.6,1406.6 L482.2,1403.2 L482.8,1399.8 L483.4,1396.4 L484,1393 L484.6,1389.7 L485.2,1386.4 L485.8,1383.1 L486.4,1379.9 L487,1376.7 L487.6,1373.6 L488.2,1370.5 L488.8,1367.5 L489.4,1364.6 L490,1361.7 L490.6,1358.9 L491.2,1356.2 L491.8,1353.5 L492.4,1350.9 L493,1348.4 L493.6,1346 L494.2,1343.7 L494.8,1341.4 L495.4,1339.2 L496,1337.2 L496.6,1335.2 L497.2,1333.3 L497.8,1331.5 L498.4,1329.8 L499,1328.3 L499.6,1326.9 L500.2,1325.7 L500.8,1324.6 L501.4,1323.6 L502,1322.8 L502.6,1322.1 L503.2,1321.6 L503.8,1321.3 L504.4,1321.1 L505,1321 L505.6,1321.1 L506.2,1321.2 L506.8,1321.6 L507.4,1322 L508,1322.6 L508.6,1323.2 L509.2,1324 L509.8,1325 L510.4,1326 L511,1327.1 L511.6,1328.4 L512.2,1329.8 L512.8,1331.3 L513.4,1332.9 L514,1334.5 L514.6,1336.3 L515.2,1338.2 L515.8,1340.2 L516.4,1342.3 L517,1344.5 L517.6,1346.8 L518.2,1349.2 L518.8,1351.8 L519.4,1354.4 L520,1357.1 L520.6,1359.8 L521.2,1362.7 L521.8,1365.6 L522.4,1368.6 L523,1371.7 L523.6,1374.8 L524.2,1378 L524.8,1381.2 L525.4,1384.4 L526,1387.7 L526.6,1391 L527.2,1394.4 L527.8,1397.8 L528.4,1401.1 L529,1404.5 L529.6,1407.9 L530.2,1411.4 L530.8,1414.8 L531.4,1418.2 L532,1421.6 L532.6,1425 L533.2,1428.4 L533.8,1431.7 L534.4,1435 L535,1438.3 L535.6,1441.6 L536.2,1444.9 L536.8,1448.1 L537.4,1451.2 L538,1454.4 L538.6,1457.4 L539.2,1460.5 L539.8,1463.5 L540.4,1466.4 L541,1469.3 L541.6,1472.1 L542.2,1474.9 L542.8,1477.7 L543.4,1480.3 L544,1483 L544.6,1485.5 L545.2,1488 L545.8,1490.5 L546.4,1492.8 L547,1495.2 L547.6,1497.4 L548.2,1499.6 L548.8,1501.8 L549.4,1503.9 L550,1505.9 L550.6,1507.9 L551.2,1509.8 L551.8,1511.6 L552.4,1513.4 L553,1515.2 L553.6,1516.8 L554.2,1518.5 L554.8,1520 L555.4,1521.6 L556,1523 L556.6,1524.4 L557.2,1525.8 L557.8,1527.1 L558.4,1528.3 L559,1529.5 L559.6,1530.7 L560.2,1531.8 L560.8,1532.8 L561.4,1533.8 L562,1534.7 L562.6,1535.6 L563.2,1536.4 L563.8,1537.2 L564.4,1538 L565,1538.7 L565.6,1539.3 L566.2,1540 L566.8,1540.6 L567.4,1541.1 L568,1541.6 L568.6,1542.1 L569.2,1542.6 L569.8,1543 L570.4,1543.4 L571,1543.7 L571.6,1544.1 L572.2,1544.4 L572.8,1544.6 L573.4,1544.9 L574,1545.1 L574.6,1545.3 L575.2,1545.5 L575.8,1545.7 L576.4,1545.9 L577,1546 L577.6,1546.1 L578.2,1546.2 L578.8,1546.3 L579.4,1546.4 L580,1546.4 L580.6,1546.5 L581.2,1546.5 L581.8,1546.6 L582.4,1546.6 L583,1546.6 L583.6,1546.6 L584.2,1546.5 L584.8,1546.5 L585.4,1546.4 L586,1546.4 L586.6,1546.3 L587.2,1546.2 L587.8,1546.2 L588.4,1546.1 L589,1546 L589.6,1545.9 L590.2,1545.7 L590.8,1545.6 L591.4,1545.5 L592,1545.4 L592.6,1545.2 L593.2,1545.1 L593.8,1544.9 L594.4,1544.8 L595,1544.6 L595.6,1544.4 L596.2,1544.2 L596.8,1544.1 L597.4,1543.9 L598,1543.7 L598.6,1543.5 L599.2,1543.3 L599.8,1543.1 L600.4,1543 L601,1542.8 L601.6,1542.6 L602.2,1542.4 L602.8,1542.2 L603.4,1542 L604,1541.7 L604.6,1541.5 L605.2,1541.3 L605.8,1541.1 L606.4,1540.9 L607,1540.7 L607.6,1540.5 L608.2,1540.3 L608.8,1540.1 L609.4,1539.8 L610,1539.6 L610.6,1539.4 L611.2,1539.2 L611.8,1538.9 L612.4,1538.7 L613,1538.5 L613.6,1538.2 L614.2,1538 L614.8,1537.8 L615.4,1537.5 L616,1537.3 L616.6,1537 L617.2,1536.8 L617.8,1536.5 L618.4,1536.3 L619,1536.1 L619.6,1535.8 L620.2,1535.6 L620.8,1535.3 L621.4,1535.1 L622,1534.8" fill="none" stroke="#e0222a" stroke-width="1.7" stroke-linejoin="round" stroke-linecap="round" stroke-dasharray="6.3,5.7" stroke-linecap="butt"/>
<line x1="522.8" y1="1238.2" x2="566" y2="1238.2" stroke="#d0d0d0" stroke-width="2.2" />
<text x="570.5" y="1244.8" font-family="'Liberation Serif', serif" font-size="18.9" fill="#111" text-anchor="start" >Raw Line</text>
<line x1="522.8" y1="1262.4" x2="566" y2="1262.4" stroke="#22f21e" stroke-width="2.6" />
<text x="570.5" y="1269" font-family="'Liberation Serif', serif" font-size="18.9" fill="#111" text-anchor="start" >Baseline</text>
<line x1="522.8" y1="1286.7" x2="566" y2="1286.7" stroke="#f01024" stroke-width="2.6" />
<text x="570.5" y="1293.3" font-family="'Liberation Serif', serif" font-size="18.9" fill="#111" text-anchor="start" >Fitting Line</text>
<line x1="522.8" y1="1310.9" x2="566" y2="1310.9" stroke="#f01024" stroke-width="1.6" stroke-dasharray="7.2,5"/>
<text x="570.5" y="1317.5" font-family="'Liberation Serif', serif" font-size="18.9" fill="#111" text-anchor="start" >Adding Peak</text>
<text x="132.1" y="1258.7" font-family="'Liberation Serif', serif" fill="#111" text-anchor="start"><tspan font-size="23.8" dy="0">Ta4f</tspan><tspan font-size="16" dy="6.3">7/2</tspan></text>
<text x="195.5" y="1370.8" font-family="'Liberation Serif', serif" fill="#111" text-anchor="start"><tspan font-size="23.8" dy="0">Ta4f</tspan><tspan font-size="16" dy="6.3">5/2</tspan></text>
<text x="279.2" y="1489.7" font-family="'Liberation Serif', serif" fill="#111" text-anchor="start"><tspan font-size="23.8" dy="0">Ta</tspan><tspan font-size="16" dy="6.3">2</tspan><tspan font-size="23.8" dy="-6.3">O</tspan><tspan font-size="16" dy="6.3">5</tspan></text>
<text x="294.7" y="1549.5" font-family="'Liberation Serif', serif" font-size="23.8" fill="#111" text-anchor="start" >Ta metal</text>
<text x="294.7" y="1578.2" font-family="'Liberation Serif', serif" font-size="23.8" fill="#111" text-anchor="start" >loss feature</text>
<text x="538.6" y="1366.6" font-family="'Liberation Serif', serif" fill="#111" text-anchor="start"><tspan font-size="23.8" dy="0">Ta</tspan><tspan font-size="16" dy="6.3">2</tspan><tspan font-size="23.8" dy="-6.3">O</tspan><tspan font-size="16" dy="6.3">5</tspan></text>
<text x="539.5" y="1399.8" font-family="'Liberation Serif', serif" font-size="23.8" fill="#111" text-anchor="start" >loss feature</text>
<line x1="144.1" y1="1542" x2="250.48" y2="1496.06" stroke="#111" stroke-width="1.5"/>
<path d="M261.5,1491.3 L250.23,1500.52 L247.06,1493.18 Z" fill="#111"/>
<line x1="231.4" y1="1576.9" x2="268.44" y2="1518.91" stroke="#111" stroke-width="1.5"/>
<path d="M274.9,1508.8 L270.73,1522.75 L263.99,1518.45 Z" fill="#111"/>
<line x1="323.3" y1="1651.6" x2="332.14" y2="1603.2" stroke="#111" stroke-width="1.5"/>
<path d="M334.3,1591.4 L335.72,1605.89 L327.85,1604.45 Z" fill="#111"/>
<line x1="527.9" y1="1463.9" x2="550.03" y2="1421.73" stroke="#111" stroke-width="1.5"/>
<path d="M555.6,1411.1 L552.64,1425.36 L545.55,1421.64 Z" fill="#111"/>
<rect x="758.8" y="1214.8" width="633.8" height="509.6" fill="none" stroke="#111" stroke-width="2.0" stroke-linejoin="round"/>
<line x1="856.45" y1="1724.4" x2="856.45" y2="1714.9" stroke="#111" stroke-width="1.6"/>
<line x1="953.8" y1="1724.4" x2="953.8" y2="1714.9" stroke="#111" stroke-width="1.6"/>
<line x1="1051.15" y1="1724.4" x2="1051.15" y2="1714.9" stroke="#111" stroke-width="1.6"/>
<line x1="1148.5" y1="1724.4" x2="1148.5" y2="1714.9" stroke="#111" stroke-width="1.6"/>
<line x1="1245.85" y1="1724.4" x2="1245.85" y2="1714.9" stroke="#111" stroke-width="1.6"/>
<line x1="1343.2" y1="1724.4" x2="1343.2" y2="1714.9" stroke="#111" stroke-width="1.6"/>
<text x="759.1" y="1752" font-family="'Liberation Serif', serif" font-size="22" fill="#111" text-anchor="middle" >445</text>
<text x="856.45" y="1752" font-family="'Liberation Serif', serif" font-size="22" fill="#111" text-anchor="middle" >450</text>
<text x="953.8" y="1752" font-family="'Liberation Serif', serif" font-size="22" fill="#111" text-anchor="middle" >455</text>
<text x="1051.15" y="1752" font-family="'Liberation Serif', serif" font-size="22" fill="#111" text-anchor="middle" >460</text>
<text x="1148.5" y="1752" font-family="'Liberation Serif', serif" font-size="22" fill="#111" text-anchor="middle" >465</text>
<text x="1245.85" y="1752" font-family="'Liberation Serif', serif" font-size="22" fill="#111" text-anchor="middle" >470</text>
<text x="1343.2" y="1752" font-family="'Liberation Serif', serif" font-size="22" fill="#111" text-anchor="middle" >475</text>
<text x="0" y="0" font-family="'Liberation Serif', serif" font-size="26.5" fill="#111" text-anchor="middle" transform="translate(732.6,1455.4) rotate(-90)">Intensity/CPS</text>
<text x="1075.4" y="1781.7" font-family="'Liberation Serif', serif" font-size="26.4" fill="#111" text-anchor="middle" >Binding energy/ev</text>
<text x="773.5" y="1257.5" font-family="'Liberation Serif', serif" font-size="34" fill="#111" text-anchor="start" >(f)</text>
<path d="M817.2,1659.9 L817.8,1660.1 L818.4,1660.3 L819,1660.5 L819.6,1660.7 L820.2,1661.2 L820.8,1661.8 L821.4,1662.3 L822,1662.9 L822.6,1662.8 L823.2,1662.4 L823.8,1662 L824.4,1661.6 L825,1661.6 L825.6,1662 L826.2,1662.5 L826.8,1662.9 L827.4,1663.2 L828,1663.3 L828.6,1663.4 L829.2,1663.5 L829.8,1663.5 L830.4,1662.5 L831,1661.5 L831.6,1660.5 L832.2,1659.5 L832.8,1660.5 L833.4,1661.6 L834,1662.6 L834.6,1663.7 L835.2,1663.3 L835.8,1662.5 L836.4,1661.8 L837,1661.1 L837.6,1661.6 L838.2,1662.8 L838.8,1663.9 L839.4,1665.1 L840,1665.3 L840.6,1664.7 L841.2,1664.1 L841.8,1663.5 L842.4,1662.9 L843,1662.3 L843.6,1661.8 L844.2,1661.2 L844.8,1660.8 L845.4,1661.1 L846,1661.4 L846.6,1661.7 L847.2,1662 L847.8,1661.9 L848.4,1661.9 L849,1661.9 L849.6,1661.9 L850.2,1661.9 L850.8,1661.9 L851.4,1662 L852,1662 L852.6,1662.3 L853.2,1662.7 L853.8,1663.2 L854.4,1663.6 L855,1663.6 L855.6,1663.2 L856.2,1662.8 L856.8,1662.4 L857.4,1662.3 L858,1662.8 L858.6,1663.3 L859.2,1663.7 L859.8,1664 L860.4,1663.6 L861,1663.1 L861.6,1662.6 L862.2,1662.2 L862.8,1661.8 L863.4,1661.4 L864,1661 L864.6,1660.6 L865.2,1660.1 L865.8,1659.5 L866.4,1658.9 L867,1658.3 L867.6,1658 L868.2,1658 L868.8,1657.9 L869.4,1657.9 L870,1658.2 L870.6,1659 L871.2,1659.7 L871.8,1660.4 L872.4,1661 L873,1661.2 L873.6,1661.4 L874.2,1661.5 L874.8,1661.7 L875.4,1662 L876,1662.3 L876.6,1662.6 L877.2,1662.9 L877.8,1662 L878.4,1661.1 L879,1660.2 L879.6,1659.3 L880.2,1659.3 L880.8,1659.6 L881.4,1659.8 L882,1660 L882.6,1659.8 L883.2,1659.4 L883.8,1658.9 L884.4,1658.5 L885,1658.3 L885.6,1658.4 L886.2,1658.5 L886.8,1658.7 L887.4,1658.4 L888,1657.6 L888.6,1656.7 L889.2,1655.9 L889.8,1655.3 L890.4,1656.6 L891,1657.8 L891.6,1659.1 L892.2,1660.3 L892.8,1659.6 L893.4,1658.9 L894,1658.2 L894.6,1657.5 L895.2,1657.6 L895.8,1657.8 L896.4,1658 L897,1658.3 L897.6,1658.4 L898.2,1658.6 L898.8,1658.8 L899.4,1658.9 L900,1658.9 L900.6,1658.8 L901.2,1658.7 L901.8,1658.6 L902.4,1658.3 L903,1657.5 L903.6,1656.7 L904.2,1655.9 L904.8,1655.5 L905.4,1656.6 L906,1657.8 L906.6,1658.9 L907.2,1660.1 L907.8,1659.7 L908.4,1659.3 L909,1658.9 L909.6,1658.5 L910.2,1658.3 L910.8,1658.1 L911.4,1657.9 L912,1657.7 L912.6,1657.2 L913.2,1656.7 L913.8,1656.1 L914.4,1655.5 L915,1655 L915.6,1654.5 L916.2,1654 L916.8,1653.5 L917.4,1653.2 L918,1653.1 L918.6,1653 L919.2,1652.9 L919.8,1652.9 L920.4,1653.4 L921,1654 L921.6,1654.5 L922.2,1655 L922.8,1655.1 L923.4,1655.2 L924,1655.3 L924.6,1655.3 L925.2,1655 L925.8,1654.5 L926.4,1654.1 L927,1653.6 L927.6,1654.1 L928.2,1655.1 L928.8,1656.2 L929.4,1657.2 L930,1657.3 L930.6,1656.6 L931.2,1655.8 L931.8,1655.1 L932.4,1654.7 L933,1654.9 L933.6,1655.1 L934.2,1655.3 L934.8,1655.5 L935.4,1655.4 L936,1655.2 L936.6,1655.1 L937.2,1655 L937.8,1654.1 L938.4,1653.1 L939,1652.2 L939.6,1651.3 L940.2,1651.8 L940.8,1652.6 L941.4,1653.4 L942,1654.2 L942.6,1654.3 L943.2,1654 L943.8,1653.6 L944.4,1653.3 L945,1652.8 L945.6,1651.9 L946.2,1651.1 L946.8,1650.3 L947.4,1650 L948,1650.8 L948.6,1651.6 L949.2,1652.3 L949.8,1653 L950.4,1653.1 L951,1653.1 L951.6,1653.2 L952.2,1653.3 L952.8,1653.1 L953.4,1653 L954,1652.9 L954.6,1652.7 L955.2,1652.6 L955.8,1652.6 L956.4,1652.5 L957,1652.4 L957.6,1651.6 L958.2,1650.5 L958.8,1649.3 L959.4,1648.1 L960,1647.7 L960.6,1648.1 L961.2,1648.4 L961.8,1648.8 L962.4,1649 L963,1648.7 L963.6,1648.4 L964.2,1648.1 L964.8,1647.9 L965.4,1647.9 L966,1648 L966.6,1648.1 L967.2,1648.1 L967.8,1647.9 L968.4,1647.7 L969,1647.4 L969.6,1647.2 L970.2,1647.2 L970.8,1647.3 L971.4,1647.4 L972,1647.5 L972.6,1647.1 L973.2,1646.5 L973.8,1645.8 L974.4,1645.1 L975,1644 L975.6,1642.5 L976.2,1640.8 L976.8,1639.1 L977.4,1637.7 L978,1637.3 L978.6,1636.7 L979.2,1636 L979.8,1635.2 L980.4,1633.8 L981,1632.3 L981.6,1630.7 L982.2,1628.9 L982.8,1626 L983.4,1622.9 L984,1619.6 L984.6,1616.1 L985.2,1612.1 L985.8,1607.8 L986.4,1603.3 L987,1598.4 L987.6,1594 L988.2,1589.7 L988.8,1584.9 L989.4,1579.8 L990,1574.2 L990.6,1568.3 L991.2,1561.9 L991.8,1555.1 L992.4,1547.6 L993,1539 L993.6,1530 L994.2,1520.5 L994.8,1510.7 L995.4,1501.5 L996,1491.8 L996.6,1481.6 L997.2,1471 L997.8,1458.8 L998.4,1446.2 L999,1433.2 L999.6,1419.8 L1000.2,1407.3 L1000.8,1394.9 L1001.4,1382.3 L1002,1369.7 L1002.6,1356.6 L1003.2,1343.3 L1003.8,1330.3 L1004.4,1317.7 L1005,1305.6 L1005.6,1294.1 L1006.2,1283.5 L1006.8,1274.1 L1007.4,1265.9 L1008,1259 L1008.6,1253.9 L1009.2,1250.8 L1009.8,1251.2 L1010.4,1254.8 L1011,1260.4 L1011.6,1267.4 L1012.2,1275.8 L1012.8,1284.3 L1013.4,1293.7 L1014,1304 L1014.6,1314.9 L1015.2,1326.6 L1015.8,1338.8 L1016.4,1351.2 L1017,1363.7 L1017.6,1376.8 L1018.2,1390.2 L1018.8,1403.3 L1019.4,1416.3 L1020,1428.3 L1020.6,1439.1 L1021.2,1449.5 L1021.8,1459.6 L1022.4,1469.4 L1023,1479.1 L1023.6,1488.4 L1024.2,1497.2 L1024.8,1505.7 L1025.4,1514.8 L1026,1523.3 L1026.6,1531.5 L1027.2,1539.1 L1027.8,1545.8 L1028.4,1552.1 L1029,1558 L1029.6,1563.5 L1030.2,1568.1 L1030.8,1572 L1031.4,1575.7 L1032,1579 L1032.6,1581.8 L1033.2,1584.3 L1033.8,1586.4 L1034.4,1588.3 L1035,1590.5 L1035.6,1592.9 L1036.2,1595.1 L1036.8,1597.1 L1037.4,1598.4 L1038,1598.4 L1038.6,1598.4 L1039.2,1598.1 L1039.8,1598.2 L1040.4,1600.1 L1041,1602 L1041.6,1603.8 L1042.2,1605.6 L1042.8,1606.1 L1043.4,1606.6 L1044,1607.1 L1044.6,1607.4 L1045.2,1606.9 L1045.8,1606.2 L1046.4,1605.4 L1047,1604.6 L1047.6,1604.7 L1048.2,1605.2 L1048.8,1605.7 L1049.4,1606.1 L1050,1606 L1050.6,1605.4 L1051.2,1604.7 L1051.8,1604.1 L1052.4,1603.6 L1053,1603.8 L1053.6,1603.9 L1054.2,1604 L1054.8,1604.2 L1055.4,1604.9 L1056,1605.6 L1056.6,1606.2 L1057.2,1606.9 L1057.8,1606.1 L1058.4,1605.3 L1059,1604.5 L1059.6,1603.7 L1060.2,1604 L1060.8,1604.5 L1061.4,1605 L1062,1605.5 L1062.6,1605.7 L1063.2,1605.7 L1063.8,1605.7 L1064.4,1605.7 L1065,1605.6 L1065.6,1605.3 L1066.2,1605.1 L1066.8,1604.8 L1067.4,1604.7 L1068,1604.9 L1068.6,1605.1 L1069.2,1605.4 L1069.8,1605.6 L1070.4,1605.8 L1071,1606.1 L1071.6,1606.4 L1072.2,1606.6 L1072.8,1605.7 L1073.4,1604.7 L1074,1603.7 L1074.6,1602.8 L1075.2,1602.7 L1075.8,1602.9 L1076.4,1603 L1077,1603.1 L1077.6,1603.1 L1078.2,1603.1 L1078.8,1603 L1079.4,1603 L1080,1602.3 L1080.6,1601.2 L1081.2,1600 L1081.8,1598.8 L1082.4,1597.9 L1083,1597.4 L1083.6,1596.9 L1084.2,1596.4 L1084.8,1595.8 L1085.4,1594.9 L1086,1594.2 L1086.6,1593.4 L1087.2,1592.6 L1087.8,1593.8 L1088.4,1595 L1089,1596.1 L1089.6,1597.2 L1090.2,1597.4 L1090.8,1597.4 L1091.4,1597.4 L1092,1597.3 L1092.6,1596.8 L1093.2,1596.1 L1093.8,1595.4 L1094.4,1594.5 L1095,1594.1 L1095.6,1593.7 L1096.2,1593.1 L1096.8,1592.5 L1097.4,1591.6 L1098,1589.9 L1098.6,1588.1 L1099.2,1586.2 L1099.8,1584.3 L1100.4,1582.3 L1101,1580.2 L1101.6,1578 L1102.2,1575.7 L1102.8,1573.3 L1103.4,1570.8 L1104,1568.2 L1104.6,1565.6 L1105.2,1562.9 L1105.8,1560.1 L1106.4,1557.3 L1107,1554.5 L1107.6,1552.1 L1108.2,1549.9 L1108.8,1547.7 L1109.4,1545.5 L1110,1543.1 L1110.6,1540.6 L1111.2,1538.1 L1111.8,1535.7 L1112.4,1533.1 L1113,1530.3 L1113.6,1527.6 L1114.2,1524.9 L1114.8,1522.4 L1115.4,1520.1 L1116,1517.9 L1116.6,1516 L1117.2,1514.1 L1117.8,1512.6 L1118.4,1511.3 L1119,1510.2 L1119.6,1509.3 L1120.2,1509.1 L1120.8,1509.2 L1121.4,1509.6 L1122,1510.2 L1122.6,1510.1 L1123.2,1509.7 L1123.8,1509.5 L1124.4,1509.6 L1125,1510.7 L1125.6,1512.8 L1126.2,1515 L1126.8,1517.4 L1127.4,1519.8 L1128,1522.1 L1128.6,1524.4 L1129.2,1526.8 L1129.8,1529.2 L1130.4,1531.9 L1131,1534.5 L1131.6,1537.2 L1132.2,1539.8 L1132.8,1542.2 L1133.4,1544.6 L1134,1547 L1134.6,1549.3 L1135.2,1551.3 L1135.8,1553.1 L1136.4,1554.9 L1137,1556.7 L1137.6,1558.6 L1138.2,1560.4 L1138.8,1562.3 L1139.4,1564.1 L1140,1565.7 L1140.6,1567.3 L1141.2,1568.7 L1141.8,1570.2 L1142.4,1571.9 L1143,1574.5 L1143.6,1576.9 L1144.2,1579.3 L1144.8,1581.5 L1145.4,1582.5 L1146,1583.4 L1146.6,1584.3 L1147.2,1585.1 L1147.8,1586 L1148.4,1586.8 L1149,1587.6 L1149.6,1588.3 L1150.2,1588.8 L1150.8,1589.3 L1151.4,1589.8 L1152,1590.2 L1152.6,1590.8 L1153.2,1591.4 L1153.8,1592 L1154.4,1592.5 L1155,1593.6 L1155.6,1595.2 L1156.2,1596.8 L1156.8,1598.4 L1157.4,1599.4 L1158,1599.4 L1158.6,1599.4 L1159.2,1599.4 L1159.8,1599.5 L1160.4,1600.1 L1161,1600.8 L1161.6,1601.4 L1162.2,1602 L1162.8,1603 L1163.4,1603.9 L1164,1604.9 L1164.6,1605.8 L1165.2,1605 L1165.8,1603.7 L1166.4,1602.4 L1167,1601 L1167.6,1600.9 L1168.2,1601.3 L1168.8,1601.7 L1169.4,1602.2 L1170,1602.7 L1170.6,1603.2 L1171.2,1603.8 L1171.8,1604.4 L1172.4,1604.8 L1173,1605 L1173.6,1605.2 L1174.2,1605.3 L1174.8,1605.3 L1175.4,1604.7 L1176,1604 L1176.6,1603.3 L1177.2,1602.6 L1177.8,1603.1 L1178.4,1603.5 L1179,1604 L1179.6,1604.4 L1180.2,1604.4 L1180.8,1604.2 L1181.4,1603.9 L1182,1603.7 L1182.6,1603.7 L1183.2,1603.7 L1183.8,1603.8 L1184.4,1603.8 L1185,1604 L1185.6,1604.4 L1186.2,1604.9 L1186.8,1605.3 L1187.4,1605.6 L1188,1605.5 L1188.6,1605.4 L1189.2,1605.3 L1189.8,1605.4 L1190.4,1605.8 L1191,1606.2 L1191.6,1606.6 L1192.2,1607.1 L1192.8,1606.8 L1193.4,1606.6 L1194,1606.3 L1194.6,1606 L1195.2,1606.3 L1195.8,1606.7 L1196.4,1607.1 L1197,1607.4 L1197.6,1606.9 L1198.2,1605.9 L1198.8,1604.9 L1199.4,1603.8 L1200,1603.6 L1200.6,1604.1 L1201.2,1604.6 L1201.8,1605.1 L1202.4,1605.2 L1203,1604.3 L1203.6,1603.5 L1204.2,1602.7 L1204.8,1602 L1205.4,1601.8 L1206,1601.7 L1206.6,1601.5 L1207.2,1601.4 L1207.8,1601.4 L1208.4,1601.5 L1209,1601.6 L1209.6,1601.6 L1210.2,1602.4 L1210.8,1603.2 L1211.4,1604 L1212,1604.9 L1212.6,1605 L1213.2,1604.7 L1213.8,1604.4 L1214.4,1604.1 L1215,1603.5 L1215.6,1602.6 L1216.2,1601.7 L1216.8,1600.8 L1217.4,1600.6 L1218,1601.7 L1218.6,1602.9 L1219.2,1604 L1219.8,1605 L1220.4,1604.5 L1221,1604 L1221.6,1603.5 L1222.2,1602.9 L1222.8,1602 L1223.4,1601.1 L1224,1600.2 L1224.6,1599.3 L1225.2,1598.8 L1225.8,1598.3 L1226.4,1597.9 L1227,1597.4 L1227.6,1597 L1228.2,1596.7 L1228.8,1596.3 L1229.4,1596 L1230,1595.3 L1230.6,1594.3 L1231.2,1593.3 L1231.8,1592.3 L1232.4,1591.9 L1233,1593 L1233.6,1594 L1234.2,1595 L1234.8,1595.6 L1235.4,1593.9 L1236,1592.1 L1236.6,1590.4 L1237.2,1588.6 L1237.8,1588.2 L1238.4,1587.8 L1239,1587.3 L1239.6,1586.9 L1240.2,1586.3 L1240.8,1585.8 L1241.4,1585.3 L1242,1584.7 L1242.6,1584.1 L1243.2,1583.5 L1243.8,1582.8 L1244.4,1582.2 L1245,1581.6 L1245.6,1581 L1246.2,1580.4 L1246.8,1579.8 L1247.4,1579.4 L1248,1579.5 L1248.6,1579.5 L1249.2,1579.6 L1249.8,1579.4 L1250.4,1578.3 L1251,1577.1 L1251.6,1575.9 L1252.2,1574.8 L1252.8,1574.4 L1253.4,1574 L1254,1573.6 L1254.6,1573.3 L1255.2,1572.9 L1255.8,1572.6 L1256.4,1572.2 L1257,1571.9 L1257.6,1572 L1258.2,1572.2 L1258.8,1572.5 L1259.4,1572.8 L1260,1572.4 L1260.6,1571.4 L1261.2,1570.4 L1261.8,1569.3 L1262.4,1568.6 L1263,1568.4 L1263.6,1568.2 L1264.2,1568 L1264.8,1567.9 L1265.4,1568.3 L1266,1568.7 L1266.6,1569.2 L1267.2,1569.6 L1267.8,1568.8 L1268.4,1568.1 L1269,1567.3 L1269.6,1566.6 L1270.2,1566.6 L1270.8,1566.9 L1271.4,1567.2 L1272,1567.4 L1272.6,1567.8 L1273.2,1568.3 L1273.8,1568.8 L1274.4,1569.2 L1275,1569.3 L1275.6,1569.1 L1276.2,1568.8 L1276.8,1568.6 L1277.4,1568.4 L1278,1568.2 L1278.6,1568 L1279.2,1567.8 L1279.8,1567.8 L1280.4,1568.4 L1281,1569.1 L1281.6,1569.8 L1282.2,1570.5 L1282.8,1569.7 L1283.4,1568.9 L1284,1568.1 L1284.6,1567.3 L1285.2,1567.2 L1285.8,1567.2 L1286.4,1567.2 L1287,1567.2 L1287.6,1567 L1288.2,1566.6 L1288.8,1566.3 L1289.4,1565.9 L1290,1566.2 L1290.6,1567.3 L1291.2,1568.4 L1291.8,1569.4 L1292.4,1570.4 L1293,1571 L1293.6,1571.6 L1294.2,1572.2 L1294.8,1572.6 L1295.4,1572.4 L1296,1572.2 L1296.6,1572 L1297.2,1571.8 L1297.8,1573.3 L1298.4,1574.8 L1299,1576.3 L1299.6,1577.8 L1300.2,1578 L1300.8,1578 L1301.4,1578 L1302,1578.1 L1302.6,1578.3 L1303.2,1578.6 L1303.8,1579 L1304.4,1579.3 L1305,1579.2 L1305.6,1578.7 L1306.2,1578.2 L1306.8,1577.6 L1307.4,1577.6 L1308,1578.6 L1308.6,1579.7 L1309.2,1580.7 L1309.8,1581.6 L1310.4,1581.9 L1311,1582.1 L1311.6,1582.4 L1312.2,1582.6 L1312.8,1581.8 L1313.4,1580.9 L1314,1580 L1314.6,1579.2 L1315.2,1579.9 L1315.8,1581 L1316.4,1582 L1317,1583 L1317.6,1583.4 L1318.2,1583.5 L1318.8,1583.5 L1319.4,1583.6 L1320,1583.3 L1320.6,1582.8 L1321.2,1582.3 L1321.8,1581.7 L1322.4,1581.7 L1323,1582.8 L1323.6,1583.9 L1324.2,1584.9 L1324.8,1585.9 L1325.4,1586.7 L1326,1587.4 L1326.6,1588.2 L1327.2,1588.9 L1327.8,1588.4 L1328.4,1587.9 L1329,1587.4 L1329.6,1586.9 L1330.2,1586.2 L1330.8,1585.6 L1331.4,1584.9 L1332,1584.2 L1332.6,1584.2 L1333.2,1584.5 L1333.8,1584.7 L1334.4,1585 L1335,1585.4 L1335.6,1586 L1336.2,1586.6 L1336.8,1587.2 L1337.4,1587.3 L1338,1586.5 L1338.6,1585.6 L1339.2,1584.7 L1339.8,1584.1 L1340.4,1584.6 L1341,1585.1 L1341.6,1585.6 L1342.2,1586.1 L1342.8,1585.9 L1343.4,1585.7 L1344,1585.5 L1344.6,1585.4 L1345.2,1585.4 L1345.8,1585.4" fill="none" stroke="#d0d0d0" stroke-width="2.6" stroke-linejoin="round" stroke-linecap="round" />
<path d="M817.2,1659.5 L817.8,1659.5 L818.4,1659.4 L819,1659.4 L819.6,1659.3 L820.2,1659.3 L820.8,1659.2 L821.4,1659.2 L822,1659.1 L822.6,1659.1 L823.2,1659.1 L823.8,1659 L824.4,1659 L825,1658.9 L825.6,1658.9 L826.2,1658.8 L826.8,1658.8 L827.4,1658.7 L828,1658.7 L828.6,1658.7 L829.2,1658.6 L829.8,1658.6 L830.4,1658.5 L831,1658.5 L831.6,1658.4 L832.2,1658.4 L832.8,1658.3 L833.4,1658.3 L834,1658.2 L834.6,1658.2 L835.2,1658.1 L835.8,1658.1 L836.4,1658 L837,1658 L837.6,1657.9 L838.2,1657.9 L838.8,1657.9 L839.4,1657.8 L840,1657.8 L840.6,1657.7 L841.2,1657.7 L841.8,1657.6 L842.4,1657.6 L843,1657.5 L843.6,1657.5 L844.2,1657.4 L844.8,1657.4 L845.4,1657.3 L846,1657.3 L846.6,1657.2 L847.2,1657.2 L847.8,1657.1 L848.4,1657.1 L849,1657 L849.6,1657 L850.2,1656.9 L850.8,1656.9 L851.4,1656.8 L852,1656.8 L852.6,1656.7 L853.2,1656.7 L853.8,1656.6 L854.4,1656.5 L855,1656.5 L855.6,1656.4 L856.2,1656.4 L856.8,1656.3 L857.4,1656.3 L858,1656.2 L858.6,1656.2 L859.2,1656.1 L859.8,1656.1 L860.4,1656 L861,1656 L861.6,1655.9 L862.2,1655.9 L862.8,1655.8 L863.4,1655.8 L864,1655.7 L864.6,1655.6 L865.2,1655.6 L865.8,1655.5 L866.4,1655.5 L867,1655.4 L867.6,1655.4 L868.2,1655.3 L868.8,1655.3 L869.4,1655.2 L870,1655.1 L870.6,1655.1 L871.2,1655 L871.8,1655 L872.4,1654.9 L873,1654.9 L873.6,1654.8 L874.2,1654.8 L874.8,1654.7 L875.4,1654.6 L876,1654.6 L876.6,1654.5 L877.2,1654.5 L877.8,1654.4 L878.4,1654.4 L879,1654.3 L879.6,1654.2 L880.2,1654.2 L880.8,1654.1 L881.4,1654.1 L882,1654 L882.6,1653.9 L883.2,1653.9 L883.8,1653.8 L884.4,1653.8 L885,1653.7 L885.6,1653.6 L886.2,1653.6 L886.8,1653.5 L887.4,1653.5 L888,1653.4 L888.6,1653.3 L889.2,1653.3 L889.8,1653.2 L890.4,1653.2 L891,1653.1 L891.6,1653 L892.2,1653 L892.8,1652.9 L893.4,1652.9 L894,1652.8 L894.6,1652.7 L895.2,1652.7 L895.8,1652.6 L896.4,1652.5 L897,1652.5 L897.6,1652.4 L898.2,1652.4 L898.8,1652.3 L899.4,1652.2 L900,1652.2 L900.6,1652.1 L901.2,1652 L901.8,1652 L902.4,1651.9 L903,1651.8 L903.6,1651.8 L904.2,1651.7 L904.8,1651.6 L905.4,1651.6 L906,1651.5 L906.6,1651.4 L907.2,1651.3 L907.8,1651.3 L908.4,1651.2 L909,1651.1 L909.6,1651.1 L910.2,1651 L910.8,1650.9 L911.4,1650.8 L912,1650.8 L912.6,1650.7 L913.2,1650.6 L913.8,1650.5 L914.4,1650.4 L915,1650.4 L915.6,1650.3 L916.2,1650.2 L916.8,1650.1 L917.4,1650.1 L918,1650 L918.6,1649.9 L919.2,1649.8 L919.8,1649.7 L920.4,1649.6 L921,1649.6 L921.6,1649.5 L922.2,1649.4 L922.8,1649.3 L923.4,1649.2 L924,1649.2 L924.6,1649.1 L925.2,1649 L925.8,1648.9 L926.4,1648.8 L927,1648.8 L927.6,1648.7 L928.2,1648.6 L928.8,1648.5 L929.4,1648.4 L930,1648.3 L930.6,1648.3 L931.2,1648.2 L931.8,1648.1 L932.4,1648 L933,1647.9 L933.6,1647.8 L934.2,1647.8 L934.8,1647.7 L935.4,1647.6 L936,1647.5 L936.6,1647.4 L937.2,1647.4 L937.8,1647.3 L938.4,1647.2 L939,1647.1 L939.6,1647 L940.2,1647 L940.8,1646.9 L941.4,1646.8 L942,1646.7 L942.6,1646.6 L943.2,1646.6 L943.8,1646.5 L944.4,1646.4 L945,1646.3 L945.6,1646.2 L946.2,1646.2 L946.8,1646.1 L947.4,1646 L948,1645.9 L948.6,1645.8 L949.2,1645.8 L949.8,1645.7 L950.4,1645.6 L951,1645.5 L951.6,1645.4 L952.2,1645.3 L952.8,1645.2 L953.4,1645.1 L954,1645.1 L954.6,1645 L955.2,1644.9 L955.8,1644.8 L956.4,1644.7 L957,1644.6 L957.6,1644.4 L958.2,1644.3 L958.8,1644.2 L959.4,1644.1 L960,1644 L960.6,1643.9 L961.2,1643.7 L961.8,1643.6 L962.4,1643.4 L963,1643.3 L963.6,1643.1 L964.2,1643 L964.8,1642.8 L965.4,1642.6 L966,1642.4 L966.6,1642.2 L967.2,1642 L967.8,1641.8 L968.4,1641.5 L969,1641.3 L969.6,1641 L970.2,1640.7 L970.8,1640.3 L971.4,1640 L972,1639.6 L972.6,1639.2 L973.2,1638.7 L973.8,1638.2 L974.4,1637.6 L975,1637 L975.6,1636.4 L976.2,1635.6 L976.8,1634.8 L977.4,1633.9 L978,1633 L978.6,1631.9 L979.2,1630.7 L979.8,1629.4 L980.4,1628 L981,1626.4 L981.6,1624.7 L982.2,1622.8 L982.8,1620.8 L983.4,1618.5 L984,1616 L984.6,1613.3 L985.2,1610.3 L985.8,1607.1 L986.4,1603.5 L987,1599.7 L987.6,1595.5 L988.2,1591 L988.8,1586.2 L989.4,1580.9 L990,1575.3 L990.6,1569.2 L991.2,1562.7 L991.8,1555.8 L992.4,1548.3 L993,1540.5 L993.6,1532.1 L994.2,1523.3 L994.8,1514 L995.4,1504.2 L996,1493.9 L996.6,1483.2 L997.2,1472 L997.8,1460.3 L998.4,1448.2 L999,1435.8 L999.6,1423 L1000.2,1409.9 L1000.8,1396.6 L1001.4,1383.2 L1002,1369.8 L1002.6,1356.4 L1003.2,1343.2 L1003.8,1330.3 L1004.4,1317.9 L1005,1306 L1005.6,1294.9 L1006.2,1284.8 L1006.8,1275.7 L1007.4,1267.9 L1008,1261.6 L1008.6,1257.1 L1009.2,1254.6 L1009.8,1255.3 L1010.4,1258.4 L1011,1263.3 L1011.6,1269.7 L1012.2,1277.5 L1012.8,1286.4 L1013.4,1296.4 L1014,1307.1 L1014.6,1318.4 L1015.2,1330.3 L1015.8,1342.6 L1016.4,1355 L1017,1367.7 L1017.6,1380.3 L1018.2,1392.9 L1018.8,1405.4 L1019.4,1417.7 L1020,1429.7 L1020.6,1441.4 L1021.2,1452.7 L1021.8,1463.6 L1022.4,1474.1 L1023,1484.1 L1023.6,1493.7 L1024.2,1502.9 L1024.8,1511.5 L1025.4,1519.7 L1026,1527.4 L1026.6,1534.6 L1027.2,1541.4 L1027.8,1547.8 L1028.4,1553.7 L1029,1559.2 L1029.6,1564.3 L1030.2,1569 L1030.8,1573.4 L1031.4,1577.4 L1032,1581.1 L1032.6,1584.5 L1033.2,1587.6 L1033.8,1590.4 L1034.4,1593 L1035,1595.3 L1035.6,1597.4 L1036.2,1599.4 L1036.8,1601.1 L1037.4,1602.7 L1038,1604.1 L1038.6,1605.4 L1039.2,1606.5 L1039.8,1607.5 L1040.4,1608.5 L1041,1609.3 L1041.6,1610 L1042.2,1610.7 L1042.8,1611.3 L1043.4,1611.8 L1044,1612.2 L1044.6,1612.6 L1045.2,1613 L1045.8,1613.3 L1046.4,1613.6 L1047,1613.8 L1047.6,1614.1 L1048.2,1614.2 L1048.8,1614.4 L1049.4,1614.5 L1050,1614.7 L1050.6,1614.7 L1051.2,1614.8 L1051.8,1614.9 L1052.4,1614.9 L1053,1615 L1053.6,1615 L1054.2,1615 L1054.8,1615 L1055.4,1615 L1056,1614.9 L1056.6,1614.9 L1057.2,1614.9 L1057.8,1614.8 L1058.4,1614.8 L1059,1614.7 L1059.6,1614.7 L1060.2,1614.6 L1060.8,1614.5 L1061.4,1614.4 L1062,1614.3 L1062.6,1614.2 L1063.2,1614.1 L1063.8,1614 L1064.4,1613.9 L1065,1613.8 L1065.6,1613.7 L1066.2,1613.6 L1066.8,1613.5 L1067.4,1613.3 L1068,1613.2 L1068.6,1613 L1069.2,1612.9 L1069.8,1612.7 L1070.4,1612.6 L1071,1612.4 L1071.6,1612.3 L1072.2,1612.1 L1072.8,1611.9 L1073.4,1611.7 L1074,1611.5 L1074.6,1611.3 L1075.2,1611.1 L1075.8,1610.9 L1076.4,1610.6 L1077,1610.4 L1077.6,1610.1 L1078.2,1609.9 L1078.8,1609.6 L1079.4,1609.3 L1080,1609 L1080.6,1608.7 L1081.2,1608.4 L1081.8,1608.1 L1082.4,1607.7 L1083,1607.3 L1083.6,1606.9 L1084.2,1606.5 L1084.8,1606.1 L1085.4,1605.6 L1086,1605.1 L1086.6,1604.6 L1087.2,1604 L1087.8,1603.4 L1088.4,1602.8 L1089,1602.1 L1089.6,1601.4 L1090.2,1600.7 L1090.8,1599.9 L1091.4,1599.1 L1092,1598.2 L1092.6,1597.2 L1093.2,1596.2 L1093.8,1595.2 L1094.4,1594.1 L1095,1592.9 L1095.6,1591.7 L1096.2,1590.4 L1096.8,1589.1 L1097.4,1587.7 L1098,1586.2 L1098.6,1584.6 L1099.2,1583 L1099.8,1581.3 L1100.4,1579.5 L1101,1577.7 L1101.6,1575.8 L1102.2,1573.8 L1102.8,1571.7 L1103.4,1569.5 L1104,1567.3 L1104.6,1565 L1105.2,1562.7 L1105.8,1560.2 L1106.4,1557.7 L1107,1555.2 L1107.6,1552.6 L1108.2,1550 L1108.8,1547.4 L1109.4,1544.7 L1110,1542 L1110.6,1539.3 L1111.2,1536.6 L1111.8,1533.9 L1112.4,1531.3 L1113,1528.7 L1113.6,1526.2 L1114.2,1523.7 L1114.8,1521.4 L1115.4,1519.2 L1116,1517.1 L1116.6,1515.2 L1117.2,1513.4 L1117.8,1511.9 L1118.4,1510.6 L1119,1509.5 L1119.6,1508.6 L1120.2,1508 L1120.8,1507.6 L1121.4,1507.5 L1122,1507.6 L1122.6,1508 L1123.2,1508.6 L1123.8,1509.4 L1124.4,1510.5 L1125,1511.8 L1125.6,1513.2 L1126.2,1514.8 L1126.8,1516.6 L1127.4,1518.5 L1128,1520.5 L1128.6,1522.7 L1129.2,1524.9 L1129.8,1527.1 L1130.4,1529.4 L1131,1531.8 L1131.6,1534.1 L1132.2,1536.5 L1132.8,1538.9 L1133.4,1541.2 L1134,1543.5 L1134.6,1545.8 L1135.2,1548.1 L1135.8,1550.3 L1136.4,1552.5 L1137,1554.6 L1137.6,1556.7 L1138.2,1558.7 L1138.8,1560.7 L1139.4,1562.6 L1140,1564.4 L1140.6,1566.2 L1141.2,1567.9 L1141.8,1569.5 L1142.4,1571 L1143,1572.5 L1143.6,1574 L1144.2,1575.3 L1144.8,1576.6 L1145.4,1577.9 L1146,1579 L1146.6,1580.1 L1147.2,1581.2 L1147.8,1582.2 L1148.4,1583.1 L1149,1584 L1149.6,1584.8 L1150.2,1585.6 L1150.8,1586.3 L1151.4,1587 L1152,1587.7 L1152.6,1588.3 L1153.2,1588.9 L1153.8,1589.4 L1154.4,1589.9 L1155,1590.4 L1155.6,1590.8 L1156.2,1591.2 L1156.8,1591.6 L1157.4,1591.9 L1158,1592.3 L1158.6,1592.6 L1159.2,1592.9 L1159.8,1593.1 L1160.4,1593.4 L1161,1593.6 L1161.6,1593.8 L1162.2,1594.1 L1162.8,1594.2 L1163.4,1594.4 L1164,1594.6 L1164.6,1594.7 L1165.2,1594.9 L1165.8,1595 L1166.4,1595.1 L1167,1595.3 L1167.6,1595.4 L1168.2,1595.5 L1168.8,1595.6 L1169.4,1595.7 L1170,1595.8 L1170.6,1595.8 L1171.2,1595.9 L1171.8,1596 L1172.4,1596 L1173,1596.1 L1173.6,1596.2 L1174.2,1596.2 L1174.8,1596.3 L1175.4,1596.3 L1176,1596.4 L1176.6,1596.4 L1177.2,1596.5 L1177.8,1596.5 L1178.4,1596.5 L1179,1596.6 L1179.6,1596.6 L1180.2,1596.6 L1180.8,1596.7 L1181.4,1596.7 L1182,1596.7 L1182.6,1596.7 L1183.2,1596.7 L1183.8,1596.8 L1184.4,1596.8 L1185,1596.8 L1185.6,1596.8 L1186.2,1596.8 L1186.8,1596.8 L1187.4,1596.8 L1188,1596.9 L1188.6,1596.9 L1189.2,1596.9 L1189.8,1596.9 L1190.4,1596.9 L1191,1596.9 L1191.6,1596.9 L1192.2,1596.9 L1192.8,1596.9 L1193.4,1596.9 L1194,1596.9 L1194.6,1596.9 L1195.2,1596.8 L1195.8,1596.8 L1196.4,1596.8 L1197,1596.8 L1197.6,1596.8 L1198.2,1596.8 L1198.8,1596.8 L1199.4,1596.8 L1200,1596.7 L1200.6,1596.7 L1201.2,1596.7 L1201.8,1596.7 L1202.4,1596.6 L1203,1596.6 L1203.6,1596.6 L1204.2,1596.5 L1204.8,1596.5 L1205.4,1596.5 L1206,1596.4 L1206.6,1596.4 L1207.2,1596.3 L1207.8,1596.3 L1208.4,1596.2 L1209,1596.2 L1209.6,1596.1 L1210.2,1596.1 L1210.8,1596 L1211.4,1596 L1212,1595.9 L1212.6,1595.8 L1213.2,1595.7 L1213.8,1595.7 L1214.4,1595.6 L1215,1595.5 L1215.6,1595.4 L1216.2,1595.3 L1216.8,1595.2 L1217.4,1595.1 L1218,1595 L1218.6,1594.9 L1219.2,1594.7 L1219.8,1594.6 L1220.4,1594.5 L1221,1594.3 L1221.6,1594.2 L1222.2,1594 L1222.8,1593.9 L1223.4,1593.7 L1224,1593.6 L1224.6,1593.4 L1225.2,1593.2 L1225.8,1593 L1226.4,1592.8 L1227,1592.6 L1227.6,1592.4 L1228.2,1592.2 L1228.8,1592 L1229.4,1591.8 L1230,1591.6 L1230.6,1591.3 L1231.2,1591.1 L1231.8,1590.8 L1232.4,1590.6 L1233,1590.3 L1233.6,1590.1 L1234.2,1589.8 L1234.8,1589.5 L1235.4,1589.2 L1236,1588.9 L1236.6,1588.6 L1237.2,1588.3 L1237.8,1588 L1238.4,1587.7 L1239,1587.4 L1239.6,1587.1 L1240.2,1586.8 L1240.8,1586.4 L1241.4,1586.1 L1242,1585.8 L1242.6,1585.5 L1243.2,1585.1 L1243.8,1584.8 L1244.4,1584.4 L1245,1584.1 L1245.6,1583.8 L1246.2,1583.4 L1246.8,1583.1 L1247.4,1582.7 L1248,1582.4 L1248.6,1582.1 L1249.2,1581.7 L1249.8,1581.4 L1250.4,1581 L1251,1580.7 L1251.6,1580.4 L1252.2,1580.1 L1252.8,1579.7 L1253.4,1579.4 L1254,1579.1 L1254.6,1578.8 L1255.2,1578.5 L1255.8,1578.2 L1256.4,1577.9 L1257,1577.6 L1257.6,1577.4 L1258.2,1577.1 L1258.8,1576.8 L1259.4,1576.6 L1260,1576.3 L1260.6,1576.1 L1261.2,1575.9 L1261.8,1575.6 L1262.4,1575.4 L1263,1575.2 L1263.6,1575 L1264.2,1574.8 L1264.8,1574.7 L1265.4,1574.5 L1266,1574.3 L1266.6,1574.2 L1267.2,1574 L1267.8,1573.9 L1268.4,1573.8 L1269,1573.6 L1269.6,1573.5 L1270.2,1573.4 L1270.8,1573.3 L1271.4,1573.2 L1272,1573.2 L1272.6,1573.1 L1273.2,1573 L1273.8,1573 L1274.4,1572.9 L1275,1572.8 L1275.6,1572.8 L1276.2,1572.7 L1276.8,1572.7 L1277.4,1572.7 L1278,1572.7 L1278.6,1572.6 L1279.2,1572.6 L1279.8,1572.6 L1280.4,1572.6 L1281,1572.7 L1281.6,1572.7 L1282.2,1572.7 L1282.8,1572.8 L1283.4,1572.8 L1284,1572.9 L1284.6,1573 L1285.2,1573 L1285.8,1573.1 L1286.4,1573.2 L1287,1573.3 L1287.6,1573.4 L1288.2,1573.6 L1288.8,1573.7 L1289.4,1573.8 L1290,1574 L1290.6,1574.1 L1291.2,1574.3 L1291.8,1574.5 L1292.4,1574.7 L1293,1574.8 L1293.6,1575 L1294.2,1575.2 L1294.8,1575.4 L1295.4,1575.6 L1296,1575.8 L1296.6,1576 L1297.2,1576.3 L1297.8,1576.5 L1298.4,1576.7 L1299,1576.9 L1299.6,1577.2 L1300.2,1577.4 L1300.8,1577.6 L1301.4,1577.9 L1302,1578.1 L1302.6,1578.4 L1303.2,1578.6 L1303.8,1578.8 L1304.4,1579.1 L1305,1579.3 L1305.6,1579.5 L1306.2,1579.8 L1306.8,1580 L1307.4,1580.2 L1308,1580.5 L1308.6,1580.7 L1309.2,1580.9 L1309.8,1581.1 L1310.4,1581.3 L1311,1581.6 L1311.6,1581.8 L1312.2,1582 L1312.8,1582.2 L1313.4,1582.4 L1314,1582.5 L1314.6,1582.7 L1315.2,1582.9 L1315.8,1583.1 L1316.4,1583.2 L1317,1583.4 L1317.6,1583.5 L1318.2,1583.7 L1318.8,1583.8 L1319.4,1584 L1320,1584.1 L1320.6,1584.2 L1321.2,1584.4 L1321.8,1584.5 L1322.4,1584.6 L1323,1584.7 L1323.6,1584.8 L1324.2,1584.9 L1324.8,1584.9 L1325.4,1585 L1326,1585.1 L1326.6,1585.2 L1327.2,1585.2 L1327.8,1585.3 L1328.4,1585.3 L1329,1585.4 L1329.6,1585.4 L1330.2,1585.5 L1330.8,1585.5 L1331.4,1585.5 L1332,1585.6 L1332.6,1585.6 L1333.2,1585.6 L1333.8,1585.6 L1334.4,1585.6 L1335,1585.6 L1335.6,1585.6 L1336.2,1585.6 L1336.8,1585.6 L1337.4,1585.6 L1338,1585.6 L1338.6,1585.6 L1339.2,1585.6 L1339.8,1585.5 L1340.4,1585.5 L1341,1585.5 L1341.6,1585.5 L1342.2,1585.4 L1342.8,1585.4 L1343.4,1585.4 L1344,1585.3 L1344.6,1585.3 L1345.2,1585.3 L1345.8,1585.2" fill="none" stroke="#f01024" stroke-width="2.6" stroke-linejoin="round" stroke-linecap="round" />
<path d="M817.2,1659.9 L817.8,1659.9 L818.4,1659.8 L819,1659.8 L819.6,1659.7 L820.2,1659.7 L820.8,1659.7 L821.4,1659.6 L822,1659.6 L822.6,1659.5 L823.2,1659.5 L823.8,1659.4 L824.4,1659.4 L825,1659.4 L825.6,1659.3 L826.2,1659.3 L826.8,1659.2 L827.4,1659.2 L828,1659.1 L828.6,1659.1 L829.2,1659.1 L829.8,1659 L830.4,1659 L831,1658.9 L831.6,1658.9 L832.2,1658.8 L832.8,1658.8 L833.4,1658.7 L834,1658.7 L834.6,1658.7 L835.2,1658.6 L835.8,1658.6 L836.4,1658.5 L837,1658.5 L837.6,1658.4 L838.2,1658.4 L838.8,1658.3 L839.4,1658.3 L840,1658.3 L840.6,1658.2 L841.2,1658.2 L841.8,1658.1 L842.4,1658.1 L843,1658 L843.6,1658 L844.2,1657.9 L844.8,1657.9 L845.4,1657.8 L846,1657.8 L846.6,1657.7 L847.2,1657.7 L847.8,1657.6 L848.4,1657.6 L849,1657.6 L849.6,1657.5 L850.2,1657.5 L850.8,1657.4 L851.4,1657.4 L852,1657.3 L852.6,1657.3 L853.2,1657.2 L853.8,1657.2 L854.4,1657.1 L855,1657.1 L855.6,1657 L856.2,1657 L856.8,1656.9 L857.4,1656.9 L858,1656.8 L858.6,1656.8 L859.2,1656.7 L859.8,1656.7 L860.4,1656.6 L861,1656.6 L861.6,1656.5 L862.2,1656.5 L862.8,1656.4 L863.4,1656.4 L864,1656.3 L864.6,1656.3 L865.2,1656.2 L865.8,1656.2 L866.4,1656.1 L867,1656.1 L867.6,1656 L868.2,1656 L868.8,1655.9 L869.4,1655.9 L870,1655.8 L870.6,1655.8 L871.2,1655.7 L871.8,1655.7 L872.4,1655.6 L873,1655.6 L873.6,1655.5 L874.2,1655.5 L874.8,1655.4 L875.4,1655.4 L876,1655.3 L876.6,1655.3 L877.2,1655.2 L877.8,1655.2 L878.4,1655.1 L879,1655.1 L879.6,1655 L880.2,1655 L880.8,1654.9 L881.4,1654.9 L882,1654.8 L882.6,1654.7 L883.2,1654.7 L883.8,1654.6 L884.4,1654.6 L885,1654.5 L885.6,1654.5 L886.2,1654.4 L886.8,1654.4 L887.4,1654.3 L888,1654.3 L888.6,1654.2 L889.2,1654.2 L889.8,1654.1 L890.4,1654.1 L891,1654 L891.6,1654 L892.2,1653.9 L892.8,1653.8 L893.4,1653.8 L894,1653.7 L894.6,1653.7 L895.2,1653.6 L895.8,1653.6 L896.4,1653.5 L897,1653.5 L897.6,1653.4 L898.2,1653.4 L898.8,1653.3 L899.4,1653.3 L900,1653.2 L900.6,1653.1 L901.2,1653.1 L901.8,1653 L902.4,1653 L903,1652.9 L903.6,1652.9 L904.2,1652.8 L904.8,1652.7 L905.4,1652.7 L906,1652.6 L906.6,1652.6 L907.2,1652.5 L907.8,1652.4 L908.4,1652.4 L909,1652.3 L909.6,1652.3 L910.2,1652.2 L910.8,1652.1 L911.4,1652.1 L912,1652 L912.6,1651.9 L913.2,1651.9 L913.8,1651.8 L914.4,1651.8 L915,1651.7 L915.6,1651.6 L916.2,1651.6 L916.8,1651.5 L917.4,1651.4 L918,1651.4 L918.6,1651.3 L919.2,1651.2 L919.8,1651.2 L920.4,1651.1 L921,1651 L921.6,1651 L922.2,1650.9 L922.8,1650.9 L923.4,1650.8 L924,1650.7 L924.6,1650.7 L925.2,1650.6 L925.8,1650.5 L926.4,1650.5 L927,1650.4 L927.6,1650.3 L928.2,1650.3 L928.8,1650.2 L929.4,1650.2 L930,1650.1 L930.6,1650 L931.2,1650 L931.8,1649.9 L932.4,1649.9 L933,1649.8 L933.6,1649.8 L934.2,1649.7 L934.8,1649.6 L935.4,1649.6 L936,1649.5 L936.6,1649.5 L937.2,1649.4 L937.8,1649.4 L938.4,1649.3 L939,1649.3 L939.6,1649.2 L940.2,1649.2 L940.8,1649.1 L941.4,1649.1 L942,1649 L942.6,1649 L943.2,1649 L943.8,1648.9 L944.4,1648.9 L945,1648.8 L945.6,1648.8 L946.2,1648.8 L946.8,1648.7 L947.4,1648.7 L948,1648.7 L948.6,1648.6 L949.2,1648.6 L949.8,1648.5 L950.4,1648.5 L951,1648.5 L951.6,1648.4 L952.2,1648.4 L952.8,1648.4 L953.4,1648.3 L954,1648.3 L954.6,1648.3 L955.2,1648.2 L955.8,1648.2 L956.4,1648.2 L957,1648.1 L957.6,1648.1 L958.2,1648.1 L958.8,1648 L959.4,1648 L960,1648 L960.6,1647.9 L961.2,1647.9 L961.8,1647.9 L962.4,1647.8 L963,1647.8 L963.6,1647.8 L964.2,1647.7 L964.8,1647.7 L965.4,1647.6 L966,1647.6 L966.6,1647.5 L967.2,1647.5 L967.8,1647.5 L968.4,1647.4 L969,1647.4 L969.6,1647.3 L970.2,1647.3 L970.8,1647.2 L971.4,1647.1 L972,1647.1 L972.6,1647 L973.2,1647 L973.8,1646.9 L974.4,1646.8 L975,1646.8 L975.6,1646.7 L976.2,1646.6 L976.8,1646.6 L977.4,1646.5 L978,1646.4 L978.6,1646.3 L979.2,1646.3 L979.8,1646.2 L980.4,1646.1 L981,1646 L981.6,1645.9 L982.2,1645.8 L982.8,1645.7 L983.4,1645.6 L984,1645.5 L984.6,1645.4 L985.2,1645.3 L985.8,1645.2 L986.4,1645.1 L987,1644.9 L987.6,1644.8 L988.2,1644.7 L988.8,1644.5 L989.4,1644.4 L990,1644.3 L990.6,1644.1 L991.2,1644 L991.8,1643.8 L992.4,1643.6 L993,1643.5 L993.6,1643.3 L994.2,1643.1 L994.8,1642.9 L995.4,1642.8 L996,1642.6 L996.6,1642.4 L997.2,1642.1 L997.8,1641.9 L998.4,1641.5 L999,1641.2 L999.6,1640.8 L1000.2,1640.4 L1000.8,1639.9 L1001.4,1639.5 L1002,1639 L1002.6,1638.5 L1003.2,1638 L1003.8,1637.5 L1004.4,1637 L1005,1636.6 L1005.6,1636.1 L1006.2,1635.6 L1006.8,1635.2 L1007.4,1634.8 L1008,1634.4 L1008.6,1634 L1009.2,1633.6 L1009.8,1633.2 L1010.4,1632.7 L1011,1632.3 L1011.6,1631.9 L1012.2,1631.5 L1012.8,1631.1 L1013.4,1630.7 L1014,1630.3 L1014.6,1629.9 L1015.2,1629.6 L1015.8,1629.2 L1016.4,1628.9 L1017,1628.6 L1017.6,1628.3 L1018.2,1628.1 L1018.8,1627.8 L1019.4,1627.6 L1020,1627.5 L1020.6,1627.3 L1021.2,1627.1 L1021.8,1626.9 L1022.4,1626.8 L1023,1626.6 L1023.6,1626.5 L1024.2,1626.4 L1024.8,1626.2 L1025.4,1626.1 L1026,1626 L1026.6,1625.8 L1027.2,1625.7 L1027.8,1625.6 L1028.4,1625.5 L1029,1625.4 L1029.6,1625.3 L1030.2,1625.2 L1030.8,1625.1 L1031.4,1625 L1032,1624.9 L1032.6,1624.8 L1033.2,1624.7 L1033.8,1624.6 L1034.4,1624.5 L1035,1624.4 L1035.6,1624.4 L1036.2,1624.3 L1036.8,1624.2 L1037.4,1624.1 L1038,1624.1 L1038.6,1624 L1039.2,1623.9 L1039.8,1623.9 L1040.4,1623.8 L1041,1623.7 L1041.6,1623.7 L1042.2,1623.6 L1042.8,1623.6 L1043.4,1623.5 L1044,1623.5 L1044.6,1623.4 L1045.2,1623.3 L1045.8,1623.3 L1046.4,1623.2 L1047,1623.2 L1047.6,1623.1 L1048.2,1623.1 L1048.8,1623 L1049.4,1623 L1050,1622.9 L1050.6,1622.9 L1051.2,1622.8 L1051.8,1622.7 L1052.4,1622.7 L1053,1622.6 L1053.6,1622.5 L1054.2,1622.5 L1054.8,1622.4 L1055.4,1622.3 L1056,1622.3 L1056.6,1622.2 L1057.2,1622.1 L1057.8,1622.1 L1058.4,1622 L1059,1621.9 L1059.6,1621.8 L1060.2,1621.8 L1060.8,1621.7 L1061.4,1621.6 L1062,1621.5 L1062.6,1621.5 L1063.2,1621.4 L1063.8,1621.3 L1064.4,1621.2 L1065,1621.2 L1065.6,1621.1 L1066.2,1621 L1066.8,1620.9 L1067.4,1620.8 L1068,1620.8 L1068.6,1620.7 L1069.2,1620.6 L1069.8,1620.5 L1070.4,1620.5 L1071,1620.4 L1071.6,1620.3 L1072.2,1620.2 L1072.8,1620.2 L1073.4,1620.1 L1074,1620 L1074.6,1619.9 L1075.2,1619.9 L1075.8,1619.8 L1076.4,1619.7 L1077,1619.6 L1077.6,1619.6 L1078.2,1619.5 L1078.8,1619.4 L1079.4,1619.4 L1080,1619.3 L1080.6,1619.2 L1081.2,1619.2 L1081.8,1619.1 L1082.4,1619.1 L1083,1619 L1083.6,1618.9 L1084.2,1618.9 L1084.8,1618.8 L1085.4,1618.7 L1086,1618.7 L1086.6,1618.6 L1087.2,1618.6 L1087.8,1618.5 L1088.4,1618.4 L1089,1618.4 L1089.6,1618.3 L1090.2,1618.2 L1090.8,1618.2 L1091.4,1618.1 L1092,1618 L1092.6,1618 L1093.2,1617.9 L1093.8,1617.8 L1094.4,1617.7 L1095,1617.7 L1095.6,1617.6 L1096.2,1617.5 L1096.8,1617.4 L1097.4,1617.3 L1098,1617.2 L1098.6,1617.1 L1099.2,1617 L1099.8,1616.9 L1100.4,1616.8 L1101,1616.7 L1101.6,1616.6 L1102.2,1616.5 L1102.8,1616.3 L1103.4,1616.2 L1104,1616.1 L1104.6,1615.9 L1105.2,1615.8 L1105.8,1615.6 L1106.4,1615.4 L1107,1615.3 L1107.6,1615.1 L1108.2,1614.9 L1108.8,1614.8 L1109.4,1614.6 L1110,1614.4 L1110.6,1614.2 L1111.2,1614 L1111.8,1613.8 L1112.4,1613.7 L1113,1613.5 L1113.6,1613.3 L1114.2,1613.1 L1114.8,1612.9 L1115.4,1612.7 L1116,1612.5 L1116.6,1612.4 L1117.2,1612.2 L1117.8,1612 L1118.4,1611.8 L1119,1611.7 L1119.6,1611.5 L1120.2,1611.3 L1120.8,1611.2 L1121.4,1611 L1122,1610.8 L1122.6,1610.6 L1123.2,1610.5 L1123.8,1610.3 L1124.4,1610.1 L1125,1609.9 L1125.6,1609.7 L1126.2,1609.6 L1126.8,1609.4 L1127.4,1609.2 L1128,1609 L1128.6,1608.8 L1129.2,1608.7 L1129.8,1608.5 L1130.4,1608.3 L1131,1608.1 L1131.6,1608 L1132.2,1607.8 L1132.8,1607.6 L1133.4,1607.5 L1134,1607.3 L1134.6,1607.2 L1135.2,1607 L1135.8,1606.9 L1136.4,1606.7 L1137,1606.6 L1137.6,1606.5 L1138.2,1606.3 L1138.8,1606.2 L1139.4,1606.1 L1140,1606 L1140.6,1605.9 L1141.2,1605.8 L1141.8,1605.7 L1142.4,1605.6 L1143,1605.5 L1143.6,1605.4 L1144.2,1605.3 L1144.8,1605.2 L1145.4,1605.1 L1146,1605 L1146.6,1604.9 L1147.2,1604.8 L1147.8,1604.7 L1148.4,1604.6 L1149,1604.6 L1149.6,1604.5 L1150.2,1604.4 L1150.8,1604.3 L1151.4,1604.2 L1152,1604.1 L1152.6,1604.1 L1153.2,1604 L1153.8,1603.9 L1154.4,1603.8 L1155,1603.8 L1155.6,1603.7 L1156.2,1603.6 L1156.8,1603.5 L1157.4,1603.5 L1158,1603.4 L1158.6,1603.3 L1159.2,1603.3 L1159.8,1603.2 L1160.4,1603.1 L1161,1603.1 L1161.6,1603 L1162.2,1602.9 L1162.8,1602.9 L1163.4,1602.8 L1164,1602.7 L1164.6,1602.7 L1165.2,1602.6 L1165.8,1602.5 L1166.4,1602.5 L1167,1602.4 L1167.6,1602.3 L1168.2,1602.3 L1168.8,1602.2 L1169.4,1602.2 L1170,1602.1 L1170.6,1602 L1171.2,1602 L1171.8,1601.9 L1172.4,1601.9 L1173,1601.8 L1173.6,1601.7 L1174.2,1601.7 L1174.8,1601.6 L1175.4,1601.6 L1176,1601.5 L1176.6,1601.5 L1177.2,1601.4 L1177.8,1601.3 L1178.4,1601.3 L1179,1601.2 L1179.6,1601.2 L1180.2,1601.1 L1180.8,1601.1 L1181.4,1601 L1182,1601 L1182.6,1600.9 L1183.2,1600.9 L1183.8,1600.8 L1184.4,1600.8 L1185,1600.7 L1185.6,1600.7 L1186.2,1600.6 L1186.8,1600.6 L1187.4,1600.5 L1188,1600.5 L1188.6,1600.4 L1189.2,1600.4 L1189.8,1600.3 L1190.4,1600.3 L1191,1600.2 L1191.6,1600.2 L1192.2,1600.1 L1192.8,1600.1 L1193.4,1600 L1194,1600 L1194.6,1600 L1195.2,1599.9 L1195.8,1599.9 L1196.4,1599.8 L1197,1599.8 L1197.6,1599.7 L1198.2,1599.7 L1198.8,1599.6 L1199.4,1599.6 L1200,1599.5 L1200.6,1599.5 L1201.2,1599.5 L1201.8,1599.4 L1202.4,1599.4 L1203,1599.3 L1203.6,1599.3 L1204.2,1599.2 L1204.8,1599.2 L1205.4,1599.2 L1206,1599.1 L1206.6,1599.1 L1207.2,1599 L1207.8,1599 L1208.4,1598.9 L1209,1598.9 L1209.6,1598.8 L1210.2,1598.8 L1210.8,1598.8 L1211.4,1598.7 L1212,1598.7 L1212.6,1598.6 L1213.2,1598.6 L1213.8,1598.5 L1214.4,1598.5 L1215,1598.5 L1215.6,1598.4 L1216.2,1598.4 L1216.8,1598.3 L1217.4,1598.3 L1218,1598.2 L1218.6,1598.2 L1219.2,1598.1 L1219.8,1598.1 L1220.4,1598.1 L1221,1598 L1221.6,1598 L1222.2,1597.9 L1222.8,1597.9 L1223.4,1597.8 L1224,1597.8 L1224.6,1597.7 L1225.2,1597.7 L1225.8,1597.6 L1226.4,1597.6 L1227,1597.5 L1227.6,1597.5 L1228.2,1597.5 L1228.8,1597.4 L1229.4,1597.4 L1230,1597.3 L1230.6,1597.3 L1231.2,1597.2 L1231.8,1597.2 L1232.4,1597.1 L1233,1597.1 L1233.6,1597 L1234.2,1597 L1234.8,1596.9 L1235.4,1596.9 L1236,1596.8 L1236.6,1596.8 L1237.2,1596.7 L1237.8,1596.6 L1238.4,1596.6 L1239,1596.5 L1239.6,1596.5 L1240.2,1596.4 L1240.8,1596.4 L1241.4,1596.3 L1242,1596.3 L1242.6,1596.2 L1243.2,1596.2 L1243.8,1596.1 L1244.4,1596 L1245,1596 L1245.6,1595.9 L1246.2,1595.9 L1246.8,1595.8 L1247.4,1595.8 L1248,1595.7 L1248.6,1595.6 L1249.2,1595.6 L1249.8,1595.5 L1250.4,1595.5 L1251,1595.4 L1251.6,1595.4 L1252.2,1595.3 L1252.8,1595.2 L1253.4,1595.2 L1254,1595.1 L1254.6,1595.1 L1255.2,1595 L1255.8,1594.9 L1256.4,1594.9 L1257,1594.8 L1257.6,1594.8 L1258.2,1594.7 L1258.8,1594.7 L1259.4,1594.6 L1260,1594.5 L1260.6,1594.5 L1261.2,1594.4 L1261.8,1594.4 L1262.4,1594.3 L1263,1594.2 L1263.6,1594.2 L1264.2,1594.1 L1264.8,1594.1 L1265.4,1594 L1266,1593.9 L1266.6,1593.9 L1267.2,1593.8 L1267.8,1593.7 L1268.4,1593.7 L1269,1593.6 L1269.6,1593.6 L1270.2,1593.5 L1270.8,1593.4 L1271.4,1593.4 L1272,1593.3 L1272.6,1593.3 L1273.2,1593.2 L1273.8,1593.1 L1274.4,1593.1 L1275,1593 L1275.6,1592.9 L1276.2,1592.9 L1276.8,1592.8 L1277.4,1592.8 L1278,1592.7 L1278.6,1592.6 L1279.2,1592.6 L1279.8,1592.5 L1280.4,1592.5 L1281,1592.4 L1281.6,1592.3 L1282.2,1592.3 L1282.8,1592.2 L1283.4,1592.1 L1284,1592.1 L1284.6,1592 L1285.2,1592 L1285.8,1591.9 L1286.4,1591.8 L1287,1591.8 L1287.6,1591.7 L1288.2,1591.7 L1288.8,1591.6 L1289.4,1591.5 L1290,1591.5 L1290.6,1591.4 L1291.2,1591.3 L1291.8,1591.3 L1292.4,1591.2 L1293,1591.2 L1293.6,1591.1 L1294.2,1591 L1294.8,1591 L1295.4,1590.9 L1296,1590.9 L1296.6,1590.8 L1297.2,1590.7 L1297.8,1590.7 L1298.4,1590.6 L1299,1590.6 L1299.6,1590.5 L1300.2,1590.4 L1300.8,1590.4 L1301.4,1590.3 L1302,1590.3 L1302.6,1590.2 L1303.2,1590.1 L1303.8,1590.1 L1304.4,1590 L1305,1590 L1305.6,1589.9 L1306.2,1589.8 L1306.8,1589.8 L1307.4,1589.7 L1308,1589.7 L1308.6,1589.6 L1309.2,1589.5 L1309.8,1589.5 L1310.4,1589.4 L1311,1589.4 L1311.6,1589.3 L1312.2,1589.2 L1312.8,1589.2 L1313.4,1589.1 L1314,1589.1 L1314.6,1589 L1315.2,1588.9 L1315.8,1588.9 L1316.4,1588.8 L1317,1588.7 L1317.6,1588.7 L1318.2,1588.6 L1318.8,1588.6 L1319.4,1588.5 L1320,1588.4 L1320.6,1588.4 L1321.2,1588.3 L1321.8,1588.3 L1322.4,1588.2 L1323,1588.1 L1323.6,1588.1 L1324.2,1588 L1324.8,1588 L1325.4,1587.9 L1326,1587.8 L1326.6,1587.8 L1327.2,1587.7 L1327.8,1587.7 L1328.4,1587.6 L1329,1587.5 L1329.6,1587.5 L1330.2,1587.4 L1330.8,1587.4 L1331.4,1587.3 L1332,1587.2 L1332.6,1587.2 L1333.2,1587.1 L1333.8,1587 L1334.4,1587 L1335,1586.9 L1335.6,1586.9 L1336.2,1586.8 L1336.8,1586.7 L1337.4,1586.7 L1338,1586.6 L1338.6,1586.6 L1339.2,1586.5 L1339.8,1586.4 L1340.4,1586.4 L1341,1586.3 L1341.6,1586.3 L1342.2,1586.2 L1342.8,1586.1 L1343.4,1586.1 L1344,1586 L1344.6,1586 L1345.2,1585.9 L1345.8,1585.8" fill="none" stroke="#22f21e" stroke-width="2.6" stroke-linejoin="round" stroke-linecap="round" />
<path d="M817.2,1659.9 L817.8,1659.9 L818.4,1659.8 L819,1659.8 L819.6,1659.7 L820.2,1659.7 L820.8,1659.7 L821.4,1659.6 L822,1659.6 L822.6,1659.5 L823.2,1659.5 L823.8,1659.4 L824.4,1659.4 L825,1659.4 L825.6,1659.3 L826.2,1659.3 L826.8,1659.2 L827.4,1659.2 L828,1659.1 L828.6,1659.1 L829.2,1659.1 L829.8,1659 L830.4,1659 L831,1658.9 L831.6,1658.9 L832.2,1658.8 L832.8,1658.8 L833.4,1658.7 L834,1658.7 L834.6,1658.7 L835.2,1658.6 L835.8,1658.6 L836.4,1658.5 L837,1658.5 L837.6,1658.4 L838.2,1658.4 L838.8,1658.3 L839.4,1658.3 L840,1658.3 L840.6,1658.2 L841.2,1658.2 L841.8,1658.1 L842.4,1658.1 L843,1658 L843.6,1658 L844.2,1657.9 L844.8,1657.9 L845.4,1657.8 L846,1657.8 L846.6,1657.7 L847.2,1657.7 L847.8,1657.6 L848.4,1657.6 L849,1657.6 L849.6,1657.5 L850.2,1657.5 L850.8,1657.4 L851.4,1657.4 L852,1657.3 L852.6,1657.3 L853.2,1657.2 L853.8,1657.2 L854.4,1657.1 L855,1657.1 L855.6,1657 L856.2,1657 L856.8,1656.9 L857.4,1656.9 L858,1656.8 L858.6,1656.8 L859.2,1656.7 L859.8,1656.7 L860.4,1656.6 L861,1656.6 L861.6,1656.5 L862.2,1656.5 L862.8,1656.4 L863.4,1656.4 L864,1656.3 L864.6,1656.3 L865.2,1656.2 L865.8,1656.2 L866.4,1656.1 L867,1656.1 L867.6,1656 L868.2,1656 L868.8,1655.9 L869.4,1655.9 L870,1655.8 L870.6,1655.8 L871.2,1655.7 L871.8,1655.7 L872.4,1655.6 L873,1655.6 L873.6,1655.5 L874.2,1655.5 L874.8,1655.4 L875.4,1655.4 L876,1655.3 L876.6,1655.3 L877.2,1655.2 L877.8,1655.2 L878.4,1655.1 L879,1655.1 L879.6,1655 L880.2,1655 L880.8,1654.9 L881.4,1654.9 L882,1654.8 L882.6,1654.7 L883.2,1654.7 L883.8,1654.6 L884.4,1654.6 L885,1654.5 L885.6,1654.5 L886.2,1654.4 L886.8,1654.4 L887.4,1654.3 L888,1654.3 L888.6,1654.2 L889.2,1654.2 L889.8,1654.1 L890.4,1654.1 L891,1654 L891.6,1654 L892.2,1653.9 L892.8,1653.8 L893.4,1653.8 L894,1653.7 L894.6,1653.7 L895.2,1653.6 L895.8,1653.6 L896.4,1653.5 L897,1653.5 L897.6,1653.4 L898.2,1653.4 L898.8,1653.3 L899.4,1653.3 L900,1653.2 L900.6,1653.1 L901.2,1653.1 L901.8,1653 L902.4,1653 L903,1652.9 L903.6,1652.9 L904.2,1652.8 L904.8,1652.7 L905.4,1652.7 L906,1652.6 L906.6,1652.6 L907.2,1652.5 L907.8,1652.4 L908.4,1652.4 L909,1652.3 L909.6,1652.3 L910.2,1652.2 L910.8,1652.1 L911.4,1652.1 L912,1652 L912.6,1651.9 L913.2,1651.9 L913.8,1651.8 L914.4,1651.8 L915,1651.7 L915.6,1651.6 L916.2,1651.6 L916.8,1651.5 L917.4,1651.4 L918,1651.4 L918.6,1651.3 L919.2,1651.2 L919.8,1651.2 L920.4,1651.1 L921,1651 L921.6,1651 L922.2,1650.9 L922.8,1650.9 L923.4,1650.8 L924,1650.7 L924.6,1650.7 L925.2,1650.6 L925.8,1650.5 L926.4,1650.5 L927,1650.4 L927.6,1650.3 L928.2,1650.3 L928.8,1650.2 L929.4,1650.2 L930,1650.1 L930.6,1650 L931.2,1650 L931.8,1649.9 L932.4,1649.9 L933,1649.8 L933.6,1649.8 L934.2,1649.7 L934.8,1649.6 L935.4,1649.6 L936,1649.5 L936.6,1649.5 L937.2,1649.4 L937.8,1649.4 L938.4,1649.3 L939,1649.3 L939.6,1649.2 L940.2,1649.2 L940.8,1649.1 L941.4,1649.1 L942,1649 L942.6,1649 L943.2,1649 L943.8,1648.9 L944.4,1648.9 L945,1648.8 L945.6,1648.8 L946.2,1648.8 L946.8,1648.7 L947.4,1648.7 L948,1648.7 L948.6,1648.6 L949.2,1648.6 L949.8,1648.5 L950.4,1648.5 L951,1648.5 L951.6,1648.4 L952.2,1648.4 L952.8,1648.4 L953.4,1648.3 L954,1648.3 L954.6,1648.3 L955.2,1648.2 L955.8,1648.2 L956.4,1648.2 L957,1648.1 L957.6,1648.1 L958.2,1648.1 L958.8,1648 L959.4,1648 L960,1648 L960.6,1647.9 L961.2,1647.9 L961.8,1647.9 L962.4,1647.8 L963,1647.8 L963.6,1647.8 L964.2,1647.7 L964.8,1647.7 L965.4,1647.6 L966,1647.6 L966.6,1647.5 L967.2,1647.5 L967.8,1647.5 L968.4,1647.4 L969,1647.4 L969.6,1647.3 L970.2,1647.3 L970.8,1647.2 L971.4,1647.1 L972,1647.1 L972.6,1647 L973.2,1647 L973.8,1646.9 L974.4,1646.8 L975,1646.8 L975.6,1646.7 L976.2,1646.6 L976.8,1646.6 L977.4,1646.5 L978,1646.4 L978.6,1646.3 L979.2,1646.3 L979.8,1646.2 L980.4,1646.1 L981,1646 L981.6,1645.9 L982.2,1645.8 L982.8,1645.7 L983.4,1645.6 L984,1645.5 L984.6,1645.4 L985.2,1645.3 L985.8,1645.2 L986.4,1645.1 L987,1644.9 L987.6,1644.8 L988.2,1644.7 L988.8,1644.5 L989.4,1644.4 L990,1644.3 L990.6,1644.1 L991.2,1644 L991.8,1643.8 L992.4,1643.6 L993,1643.5 L993.6,1643.3 L994.2,1643.1 L994.8,1642.9 L995.4,1642.8 L996,1642.6 L996.6,1642.4 L997.2,1642.1 L997.8,1641.9 L998.4,1641.5 L999,1641.2 L999.6,1640.8 L1000.2,1640.4 L1000.8,1639.9 L1001.4,1639.5 L1002,1639 L1002.6,1638.5 L1003.2,1638 L1003.8,1637.5 L1004.4,1637 L1005,1636.6 L1005.6,1636.1 L1006.2,1635.6 L1006.8,1635.2 L1007.4,1634.8 L1008,1634.4 L1008.6,1634 L1009.2,1633.6 L1009.8,1633.2 L1010.4,1632.7 L1011,1632.3 L1011.6,1631.9 L1012.2,1631.5 L1012.8,1631.1 L1013.4,1630.7 L1014,1630.3 L1014.6,1629.9 L1015.2,1629.6 L1015.8,1629.2 L1016.4,1628.9 L1017,1628.6 L1017.6,1628.3 L1018.2,1628.1 L1018.8,1627.8 L1019.4,1627.6 L1020,1627.5 L1020.6,1627.3 L1021.2,1627.1 L1021.8,1626.9 L1022.4,1626.8 L1023,1626.6 L1023.6,1626.5 L1024.2,1626.4 L1024.8,1626.2 L1025.4,1626.1 L1026,1626 L1026.6,1625.8 L1027.2,1625.7 L1027.8,1625.6 L1028.4,1625.5 L1029,1625.4 L1029.6,1625.3 L1030.2,1625.2 L1030.8,1625.1 L1031.4,1625 L1032,1624.9 L1032.6,1624.8 L1033.2,1624.7 L1033.8,1624.6 L1034.4,1624.5 L1035,1624.4 L1035.6,1624.4 L1036.2,1624.3 L1036.8,1624.2 L1037.4,1624.1 L1038,1624.1 L1038.6,1624 L1039.2,1623.9 L1039.8,1623.9 L1040.4,1623.8 L1041,1623.7 L1041.6,1623.7 L1042.2,1623.6 L1042.8,1623.6 L1043.4,1623.5 L1044,1623.5 L1044.6,1623.4 L1045.2,1623.3 L1045.8,1623.3 L1046.4,1623.2 L1047,1623.2 L1047.6,1623.1 L1048.2,1623.1 L1048.8,1623 L1049.4,1623 L1050,1622.9 L1050.6,1622.9 L1051.2,1622.8 L1051.8,1622.7 L1052.4,1622.7 L1053,1622.6 L1053.6,1622.5 L1054.2,1622.5 L1054.8,1622.4 L1055.4,1622.3 L1056,1622.3 L1056.6,1622.2 L1057.2,1622.1 L1057.8,1622.1 L1058.4,1622 L1059,1621.9 L1059.6,1621.8 L1060.2,1621.8 L1060.8,1621.7 L1061.4,1621.6 L1062,1621.5 L1062.6,1621.5 L1063.2,1621.4 L1063.8,1621.3 L1064.4,1621.2 L1065,1621.2 L1065.6,1621.1 L1066.2,1621 L1066.8,1620.9 L1067.4,1620.8 L1068,1620.8 L1068.6,1620.7 L1069.2,1620.6 L1069.8,1620.5 L1070.4,1620.5 L1071,1620.4 L1071.6,1620.3 L1072.2,1620.2 L1072.8,1620.2 L1073.4,1620.1 L1074,1620 L1074.6,1619.9 L1075.2,1619.9 L1075.8,1619.8 L1076.4,1619.7 L1077,1619.6 L1077.6,1619.6 L1078.2,1619.5 L1078.8,1619.4 L1079.4,1619.4 L1080,1619.3 L1080.6,1619.2 L1081.2,1619.2 L1081.8,1619.1 L1082.4,1619.1 L1083,1619 L1083.6,1618.9 L1084.2,1618.9 L1084.8,1618.8 L1085.4,1618.7 L1086,1618.7 L1086.6,1618.6 L1087.2,1618.6 L1087.8,1618.5 L1088.4,1618.4 L1089,1618.4 L1089.6,1618.3 L1090.2,1618.2 L1090.8,1618.2 L1091.4,1618.1 L1092,1618 L1092.6,1618 L1093.2,1617.9 L1093.8,1617.8 L1094.4,1617.7 L1095,1617.7 L1095.6,1617.6 L1096.2,1617.5 L1096.8,1617.4 L1097.4,1617.3 L1098,1617.2 L1098.6,1617.1 L1099.2,1617 L1099.8,1616.9 L1100.4,1616.8 L1101,1616.7 L1101.6,1616.6 L1102.2,1616.5 L1102.8,1616.3 L1103.4,1616.2 L1104,1616.1 L1104.6,1615.9 L1105.2,1615.8 L1105.8,1615.6 L1106.4,1615.4 L1107,1615.3 L1107.6,1615.1 L1108.2,1614.9 L1108.8,1614.8 L1109.4,1614.6 L1110,1614.4 L1110.6,1614.2 L1111.2,1614 L1111.8,1613.8 L1112.4,1613.7 L1113,1613.5 L1113.6,1613.3 L1114.2,1613.1 L1114.8,1612.9 L1115.4,1612.7 L1116,1612.5 L1116.6,1612.4 L1117.2,1612.2 L1117.8,1612 L1118.4,1611.8 L1119,1611.7 L1119.6,1611.5 L1120.2,1611.3 L1120.8,1611.2 L1121.4,1611 L1122,1610.8 L1122.6,1610.6 L1123.2,1610.5 L1123.8,1610.3 L1124.4,1610.1 L1125,1609.9 L1125.6,1609.7 L1126.2,1609.6 L1126.8,1609.4 L1127.4,1609.2 L1128,1609 L1128.6,1608.8 L1129.2,1608.7 L1129.8,1608.5 L1130.4,1608.3 L1131,1608.1 L1131.6,1608 L1132.2,1607.8 L1132.8,1607.6 L1133.4,1607.5 L1134,1607.3 L1134.6,1607.2 L1135.2,1607 L1135.8,1606.9 L1136.4,1606.7 L1137,1606.6 L1137.6,1606.5 L1138.2,1606.3 L1138.8,1606.2 L1139.4,1606.1 L1140,1606 L1140.6,1605.9 L1141.2,1605.8 L1141.8,1605.7 L1142.4,1605.6 L1143,1605.5 L1143.6,1605.4 L1144.2,1605.3 L1144.8,1605.2 L1145.4,1605.1 L1146,1605 L1146.6,1604.9 L1147.2,1604.8 L1147.8,1604.7 L1148.4,1604.6 L1149,1604.6 L1149.6,1604.5 L1150.2,1604.4 L1150.8,1604.3 L1151.4,1604.2 L1152,1604.1 L1152.6,1604.1 L1153.2,1604 L1153.8,1603.9 L1154.4,1603.8 L1155,1603.8 L1155.6,1603.7 L1156.2,1603.6 L1156.8,1603.5 L1157.4,1603.5 L1158,1603.4 L1158.6,1603.3 L1159.2,1603.3 L1159.8,1603.2 L1160.4,1603.1 L1161,1603.1 L1161.6,1603 L1162.2,1602.9 L1162.8,1602.9 L1163.4,1602.8 L1164,1602.7 L1164.6,1602.7 L1165.2,1602.6 L1165.8,1602.5 L1166.4,1602.5 L1167,1602.4 L1167.6,1602.3 L1168.2,1602.3 L1168.8,1602.2 L1169.4,1602.2 L1170,1602.1 L1170.6,1602 L1171.2,1602 L1171.8,1601.9 L1172.4,1601.9 L1173,1601.8 L1173.6,1601.7 L1174.2,1601.7 L1174.8,1601.6 L1175.4,1601.6 L1176,1601.5 L1176.6,1601.5 L1177.2,1601.4 L1177.8,1601.3 L1178.4,1601.3 L1179,1601.2 L1179.6,1601.2 L1180.2,1601.1 L1180.8,1601.1 L1181.4,1601 L1182,1601 L1182.6,1600.9 L1183.2,1600.9 L1183.8,1600.8 L1184.4,1600.8 L1185,1600.7 L1185.6,1600.7 L1186.2,1600.6 L1186.8,1600.6 L1187.4,1600.5 L1188,1600.5 L1188.6,1600.4 L1189.2,1600.4 L1189.8,1600.3 L1190.4,1600.3 L1191,1600.2 L1191.6,1600.2 L1192.2,1600.1 L1192.8,1600.1 L1193.4,1600 L1194,1600 L1194.6,1600 L1195.2,1599.9 L1195.8,1599.9 L1196.4,1599.8 L1197,1599.8 L1197.6,1599.7 L1198.2,1599.7 L1198.8,1599.6 L1199.4,1599.6 L1200,1599.5 L1200.6,1599.5 L1201.2,1599.5 L1201.8,1599.4 L1202.4,1599.4 L1203,1599.3 L1203.6,1599.3 L1204.2,1599.2 L1204.8,1599.2 L1205.4,1599.2 L1206,1599.1 L1206.6,1599.1 L1207.2,1599 L1207.8,1599 L1208.4,1598.9 L1209,1598.9 L1209.6,1598.8 L1210.2,1598.8 L1210.8,1598.8 L1211.4,1598.7 L1212,1598.7 L1212.6,1598.6 L1213.2,1598.6 L1213.8,1598.5 L1214.4,1598.5 L1215,1598.5 L1215.6,1598.4 L1216.2,1598.4 L1216.8,1598.3 L1217.4,1598.3 L1218,1598.2 L1218.6,1598.2 L1219.2,1598.1 L1219.8,1598.1 L1220.4,1598.1 L1221,1598 L1221.6,1598 L1222.2,1597.9 L1222.8,1597.9 L1223.4,1597.8 L1224,1597.8 L1224.6,1597.7 L1225.2,1597.7 L1225.8,1597.6 L1226.4,1597.6 L1227,1597.5 L1227.6,1597.5 L1228.2,1597.5 L1228.8,1597.4 L1229.4,1597.4 L1230,1597.3 L1230.6,1597.3 L1231.2,1597.2 L1231.8,1597.2 L1232.4,1597.1 L1233,1597.1 L1233.6,1597 L1234.2,1597 L1234.8,1596.9 L1235.4,1596.9 L1236,1596.8 L1236.6,1596.8 L1237.2,1596.7 L1237.8,1596.6 L1238.4,1596.6 L1239,1596.5 L1239.6,1596.5 L1240.2,1596.4 L1240.8,1596.4 L1241.4,1596.3 L1242,1596.3 L1242.6,1596.2 L1243.2,1596.2 L1243.8,1596.1 L1244.4,1596 L1245,1596 L1245.6,1595.9 L1246.2,1595.9 L1246.8,1595.8 L1247.4,1595.8 L1248,1595.7 L1248.6,1595.6 L1249.2,1595.6 L1249.8,1595.5 L1250.4,1595.5 L1251,1595.4 L1251.6,1595.4 L1252.2,1595.3 L1252.8,1595.2 L1253.4,1595.2 L1254,1595.1 L1254.6,1595.1 L1255.2,1595 L1255.8,1594.9 L1256.4,1594.9 L1257,1594.8 L1257.6,1594.8 L1258.2,1594.7 L1258.8,1594.7 L1259.4,1594.6 L1260,1594.5 L1260.6,1594.5 L1261.2,1594.4 L1261.8,1594.4 L1262.4,1594.3 L1263,1594.2 L1263.6,1594.2 L1264.2,1594.1 L1264.8,1594.1 L1265.4,1594 L1266,1593.9 L1266.6,1593.9 L1267.2,1593.8 L1267.8,1593.7 L1268.4,1593.7 L1269,1593.6 L1269.6,1593.6 L1270.2,1593.5 L1270.8,1593.4 L1271.4,1593.4 L1272,1593.3 L1272.6,1593.3 L1273.2,1593.2 L1273.8,1593.1 L1274.4,1593.1 L1275,1593 L1275.6,1592.9 L1276.2,1592.9 L1276.8,1592.8 L1277.4,1592.8 L1278,1592.7 L1278.6,1592.6 L1279.2,1592.6 L1279.8,1592.5 L1280.4,1592.5 L1281,1592.4 L1281.6,1592.3 L1282.2,1592.3 L1282.8,1592.2 L1283.4,1592.1 L1284,1592.1 L1284.6,1592 L1285.2,1592 L1285.8,1591.9 L1286.4,1591.8 L1287,1591.8 L1287.6,1591.7 L1288.2,1591.7 L1288.8,1591.6 L1289.4,1591.5 L1290,1591.5 L1290.6,1591.4 L1291.2,1591.3 L1291.8,1591.3 L1292.4,1591.2 L1293,1591.2 L1293.6,1591.1 L1294.2,1591 L1294.8,1591 L1295.4,1590.9 L1296,1590.9 L1296.6,1590.8 L1297.2,1590.7 L1297.8,1590.7 L1298.4,1590.6 L1299,1590.6 L1299.6,1590.5 L1300.2,1590.4 L1300.8,1590.4 L1301.4,1590.3 L1302,1590.3 L1302.6,1590.2 L1303.2,1590.1 L1303.8,1590.1 L1304.4,1590 L1305,1590 L1305.6,1589.9 L1306.2,1589.8 L1306.8,1589.8 L1307.4,1589.7 L1308,1589.7 L1308.6,1589.6 L1309.2,1589.5 L1309.8,1589.5 L1310.4,1589.4 L1311,1589.4 L1311.6,1589.3 L1312.2,1589.2 L1312.8,1589.2 L1313.4,1589.1 L1314,1589.1 L1314.6,1589 L1315.2,1588.9 L1315.8,1588.9 L1316.4,1588.8 L1317,1588.7 L1317.6,1588.7 L1318.2,1588.6 L1318.8,1588.6 L1319.4,1588.5 L1320,1588.4 L1320.6,1588.4 L1321.2,1588.3 L1321.8,1588.3 L1322.4,1588.2 L1323,1588.1 L1323.6,1588.1 L1324.2,1588 L1324.8,1588 L1325.4,1587.9 L1326,1587.8 L1326.6,1587.8 L1327.2,1587.7 L1327.8,1587.7 L1328.4,1587.6 L1329,1587.5 L1329.6,1587.5 L1330.2,1587.4 L1330.8,1587.4 L1331.4,1587.3 L1332,1587.2 L1332.6,1587.2 L1333.2,1587.1 L1333.8,1587 L1334.4,1587 L1335,1586.9 L1335.6,1586.9 L1336.2,1586.8 L1336.8,1586.7 L1337.4,1586.7 L1338,1586.6 L1338.6,1586.6 L1339.2,1586.5 L1339.8,1586.4 L1340.4,1586.4 L1341,1586.3 L1341.6,1586.3 L1342.2,1586.2 L1342.8,1586.1 L1343.4,1586.1 L1344,1586 L1344.6,1586 L1345.2,1585.9 L1345.8,1585.8" fill="none" stroke="#e0222a" stroke-width="1.9" stroke-linejoin="round" stroke-linecap="round" stroke-dasharray="6.3,5.7" stroke-linecap="butt"/>
<path d="M939.6,1647.5 L940.2,1647.4 L940.8,1647.4 L941.4,1647.3 L942,1647.2 L942.6,1647.1 L943.2,1647.1 L943.8,1647 L944.4,1646.9 L945,1646.8 L945.6,1646.8 L946.2,1646.7 L946.8,1646.6 L947.4,1646.5 L948,1646.4 L948.6,1646.4 L949.2,1646.3 L949.8,1646.2 L950.4,1646.1 L951,1646 L951.6,1646 L952.2,1645.9 L952.8,1645.8 L953.4,1645.7 L954,1645.6 L954.6,1645.5 L955.2,1645.4 L955.8,1645.3 L956.4,1645.2 L957,1645.1 L957.6,1645 L958.2,1644.9 L958.8,1644.8 L959.4,1644.7 L960,1644.6 L960.6,1644.5 L961.2,1644.3 L961.8,1644.2 L962.4,1644.1 L963,1643.9 L963.6,1643.8 L964.2,1643.6 L964.8,1643.4 L965.4,1643.3 L966,1643.1 L966.6,1642.9 L967.2,1642.7 L967.8,1642.4 L968.4,1642.2 L969,1641.9 L969.6,1641.7 L970.2,1641.4 L970.8,1641 L971.4,1640.7 L972,1640.3 L972.6,1639.9 L973.2,1639.4 L973.8,1638.9 L974.4,1638.4 L975,1637.8 L975.6,1637.1 L976.2,1636.4 L976.8,1635.6 L977.4,1634.7 L978,1633.7 L978.6,1632.7 L979.2,1631.5 L979.8,1630.2 L980.4,1628.8 L981,1627.2 L981.6,1625.5 L982.2,1623.6 L982.8,1621.6 L983.4,1619.3 L984,1616.8 L984.6,1614.1 L985.2,1611.1 L985.8,1607.9 L986.4,1604.4 L987,1600.6 L987.6,1596.4 L988.2,1591.9 L988.8,1587 L989.4,1581.8 L990,1576.2 L990.6,1570.1 L991.2,1563.6 L991.8,1556.7 L992.4,1549.3 L993,1541.4 L993.6,1533.1 L994.2,1524.3 L994.8,1515 L995.4,1505.2 L996,1494.9 L996.6,1484.2 L997.2,1473 L997.8,1461.3 L998.4,1449.3 L999,1436.8 L999.6,1424 L1000.2,1411 L1000.8,1397.7 L1001.4,1384.3 L1002,1370.9 L1002.6,1357.5 L1003.2,1344.3 L1003.8,1331.5 L1004.4,1319 L1005,1307.2 L1005.6,1296.1 L1006.2,1285.9 L1006.8,1276.9 L1007.4,1269.1 L1008,1262.8 L1008.6,1258.3 L1009.2,1255.8 L1009.8,1256.5 L1010.4,1259.6 L1011,1264.5 L1011.6,1271 L1012.2,1278.8 L1012.8,1287.8 L1013.4,1297.7 L1014,1308.4 L1014.6,1319.8 L1015.2,1331.7 L1015.8,1344 L1016.4,1356.5 L1017,1369.1 L1017.6,1381.8 L1018.2,1394.4 L1018.8,1406.9 L1019.4,1419.2 L1020,1431.2 L1020.6,1442.9 L1021.2,1454.2 L1021.8,1465.2 L1022.4,1475.7 L1023,1485.7 L1023.6,1495.4 L1024.2,1504.5 L1024.8,1513.2 L1025.4,1521.4 L1026,1529.1 L1026.6,1536.4 L1027.2,1543.2 L1027.8,1549.5 L1028.4,1555.5 L1029,1561 L1029.6,1566.1 L1030.2,1570.9 L1030.8,1575.3 L1031.4,1579.3 L1032,1583 L1032.6,1586.4 L1033.2,1589.5 L1033.8,1592.4 L1034.4,1595 L1035,1597.4 L1035.6,1599.5 L1036.2,1601.5 L1036.8,1603.2 L1037.4,1604.8 L1038,1606.3 L1038.6,1607.6 L1039.2,1608.8 L1039.8,1609.8 L1040.4,1610.8 L1041,1611.7 L1041.6,1612.4 L1042.2,1613.1 L1042.8,1613.7 L1043.4,1614.3 L1044,1614.8 L1044.6,1615.2 L1045.2,1615.6 L1045.8,1616 L1046.4,1616.3 L1047,1616.6 L1047.6,1616.9 L1048.2,1617.1 L1048.8,1617.3 L1049.4,1617.5 L1050,1617.6 L1050.6,1617.8 L1051.2,1617.9 L1051.8,1618 L1052.4,1618.1 L1053,1618.2 L1053.6,1618.3 L1054.2,1618.3 L1054.8,1618.4 L1055.4,1618.4 L1056,1618.5 L1056.6,1618.5 L1057.2,1618.5 L1057.8,1618.5 L1058.4,1618.6 L1059,1618.6 L1059.6,1618.6 L1060.2,1618.6 L1060.8,1618.6 L1061.4,1618.6 L1062,1618.6 L1062.6,1618.6 L1063.2,1618.5 L1063.8,1618.5 L1064.4,1618.5 L1065,1618.5 L1065.6,1618.5 L1066.2,1618.4 L1066.8,1618.4 L1067.4,1618.4 L1068,1618.4 L1068.6,1618.3 L1069.2,1618.3 L1069.8,1618.3 L1070.4,1618.2 L1071,1618.2 L1071.6,1618.2 L1072.2,1618.1 L1072.8,1618.1 L1073.4,1618.1 L1074,1618 L1074.6,1618 L1075.2,1617.9 L1075.8,1617.9 L1076.4,1617.9 L1077,1617.8 L1077.6,1617.8 L1078.2,1617.7 L1078.8,1617.7" fill="none" stroke="#e0222a" stroke-width="1.7" stroke-linejoin="round" stroke-linecap="round" stroke-dasharray="6.3,5.7" stroke-linecap="butt"/>
<path d="M1027.2,1624 L1027.8,1623.8 L1028.4,1623.7 L1029,1623.6 L1029.6,1623.4 L1030.2,1623.3 L1030.8,1623.2 L1031.4,1623.1 L1032,1623 L1032.6,1622.8 L1033.2,1622.7 L1033.8,1622.6 L1034.4,1622.5 L1035,1622.4 L1035.6,1622.3 L1036.2,1622.2 L1036.8,1622.1 L1037.4,1622 L1038,1621.8 L1038.6,1621.7 L1039.2,1621.6 L1039.8,1621.6 L1040.4,1621.5 L1041,1621.4 L1041.6,1621.3 L1042.2,1621.2 L1042.8,1621.1 L1043.4,1621 L1044,1620.9 L1044.6,1620.8 L1045.2,1620.7 L1045.8,1620.6 L1046.4,1620.5 L1047,1620.4 L1047.6,1620.3 L1048.2,1620.2 L1048.8,1620.1 L1049.4,1620 L1050,1619.9 L1050.6,1619.8 L1051.2,1619.7 L1051.8,1619.6 L1052.4,1619.5 L1053,1619.4 L1053.6,1619.3 L1054.2,1619.1 L1054.8,1619 L1055.4,1618.9 L1056,1618.7 L1056.6,1618.6 L1057.2,1618.5 L1057.8,1618.3 L1058.4,1618.2 L1059,1618.1 L1059.6,1617.9 L1060.2,1617.8 L1060.8,1617.6 L1061.4,1617.5 L1062,1617.3 L1062.6,1617.1 L1063.2,1617 L1063.8,1616.8 L1064.4,1616.7 L1065,1616.5 L1065.6,1616.3 L1066.2,1616.1 L1066.8,1616 L1067.4,1615.8 L1068,1615.6 L1068.6,1615.4 L1069.2,1615.2 L1069.8,1615 L1070.4,1614.8 L1071,1614.6 L1071.6,1614.4 L1072.2,1614.2 L1072.8,1614 L1073.4,1613.7 L1074,1613.5 L1074.6,1613.3 L1075.2,1613 L1075.8,1612.8 L1076.4,1612.5 L1077,1612.2 L1077.6,1611.9 L1078.2,1611.6 L1078.8,1611.4 L1079.4,1611 L1080,1610.7 L1080.6,1610.4 L1081.2,1610 L1081.8,1609.7 L1082.4,1609.3 L1083,1608.9 L1083.6,1608.5 L1084.2,1608 L1084.8,1607.5 L1085.4,1607 L1086,1606.5 L1086.6,1606 L1087.2,1605.4 L1087.8,1604.8 L1088.4,1604.1 L1089,1603.4 L1089.6,1602.7 L1090.2,1602 L1090.8,1601.2 L1091.4,1600.3 L1092,1599.4 L1092.6,1598.4 L1093.2,1597.4 L1093.8,1596.4 L1094.4,1595.3 L1095,1594.1 L1095.6,1592.9 L1096.2,1591.6 L1096.8,1590.2 L1097.4,1588.8 L1098,1587.3 L1098.6,1585.7 L1099.2,1584.1 L1099.8,1582.3 L1100.4,1580.6 L1101,1578.7 L1101.6,1576.8 L1102.2,1574.7 L1102.8,1572.6 L1103.4,1570.5 L1104,1568.2 L1104.6,1565.9 L1105.2,1563.6 L1105.8,1561.1 L1106.4,1558.6 L1107,1556.1 L1107.6,1553.5 L1108.2,1550.9 L1108.8,1548.2 L1109.4,1545.5 L1110,1542.8 L1110.6,1540.1 L1111.2,1537.4 L1111.8,1534.7 L1112.4,1532.1 L1113,1529.5 L1113.6,1526.9 L1114.2,1524.5 L1114.8,1522.1 L1115.4,1519.9 L1116,1517.8 L1116.6,1515.9 L1117.2,1514.2 L1117.8,1512.6 L1118.4,1511.3 L1119,1510.2 L1119.6,1509.3 L1120.2,1508.7 L1120.8,1508.3 L1121.4,1508.1 L1122,1508.3 L1122.6,1508.6 L1123.2,1509.2 L1123.8,1510.1 L1124.4,1511.1 L1125,1512.4 L1125.6,1513.8 L1126.2,1515.5 L1126.8,1517.2 L1127.4,1519.1 L1128,1521.2 L1128.6,1523.3 L1129.2,1525.5 L1129.8,1527.7 L1130.4,1530 L1131,1532.3 L1131.6,1534.7 L1132.2,1537.1 L1132.8,1539.4 L1133.4,1541.8 L1134,1544.1 L1134.6,1546.4 L1135.2,1548.6 L1135.8,1550.8 L1136.4,1553 L1137,1555.1 L1137.6,1557.2 L1138.2,1559.2 L1138.8,1561.2 L1139.4,1563.1 L1140,1564.9 L1140.6,1566.6 L1141.2,1568.3 L1141.8,1570 L1142.4,1571.5 L1143,1573 L1143.6,1574.4 L1144.2,1575.8 L1144.8,1577.1 L1145.4,1578.3 L1146,1579.5 L1146.6,1580.6 L1147.2,1581.6 L1147.8,1582.6 L1148.4,1583.6 L1149,1584.4 L1149.6,1585.3 L1150.2,1586 L1150.8,1586.8 L1151.4,1587.5 L1152,1588.1 L1152.6,1588.7 L1153.2,1589.3 L1153.8,1589.8 L1154.4,1590.3 L1155,1590.8 L1155.6,1591.2 L1156.2,1591.6 L1156.8,1592 L1157.4,1592.3 L1158,1592.7 L1158.6,1593 L1159.2,1593.3 L1159.8,1593.5 L1160.4,1593.8 L1161,1594 L1161.6,1594.2 L1162.2,1594.4 L1162.8,1594.6 L1163.4,1594.8 L1164,1594.9 L1164.6,1595.1 L1165.2,1595.2 L1165.8,1595.4 L1166.4,1595.5 L1167,1595.6 L1167.6,1595.7 L1168.2,1595.8 L1168.8,1595.9 L1169.4,1596 L1170,1596.1 L1170.6,1596.2 L1171.2,1596.2 L1171.8,1596.3 L1172.4,1596.4 L1173,1596.4 L1173.6,1596.5 L1174.2,1596.5 L1174.8,1596.6 L1175.4,1596.6 L1176,1596.7 L1176.6,1596.7 L1177.2,1596.8 L1177.8,1596.8 L1178.4,1596.8 L1179,1596.9 L1179.6,1596.9 L1180.2,1596.9 L1180.8,1596.9 L1181.4,1597 L1182,1597 L1182.6,1597 L1183.2,1597 L1183.8,1597.1 L1184.4,1597.1 L1185,1597.1 L1185.6,1597.1 L1186.2,1597.1 L1186.8,1597.1 L1187.4,1597.1 L1188,1597.1 L1188.6,1597.1 L1189.2,1597.2 L1189.8,1597.2 L1190.4,1597.2 L1191,1597.2 L1191.6,1597.2 L1192.2,1597.2 L1192.8,1597.2 L1193.4,1597.2 L1194,1597.2 L1194.6,1597.2 L1195.2,1597.2 L1195.8,1597.2 L1196.4,1597.2 L1197,1597.1 L1197.6,1597.1 L1198.2,1597.1 L1198.8,1597.1 L1199.4,1597.1 L1200,1597.1 L1200.6,1597.1 L1201.2,1597.1 L1201.8,1597.1 L1202.4,1597.1 L1203,1597.1 L1203.6,1597 L1204.2,1597 L1204.8,1597 L1205.4,1597 L1206,1597 L1206.6,1597 L1207.2,1597 L1207.8,1596.9 L1208.4,1596.9 L1209,1596.9 L1209.6,1596.9 L1210.2,1596.9 L1210.8,1596.9 L1211.4,1596.8 L1212,1596.8 L1212.6,1596.8 L1213.2,1596.8 L1213.8,1596.8 L1214.4,1596.7 L1215,1596.7" fill="none" stroke="#e0222a" stroke-width="1.7" stroke-linejoin="round" stroke-linecap="round" stroke-dasharray="6.3,5.7" stroke-linecap="butt"/>
<path d="M1218.6,1596.7 L1219.2,1596.5 L1219.8,1596.4 L1220.4,1596.2 L1221,1596.1 L1221.6,1595.9 L1222.2,1595.7 L1222.8,1595.6 L1223.4,1595.4 L1224,1595.2 L1224.6,1595 L1225.2,1594.8 L1225.8,1594.6 L1226.4,1594.4 L1227,1594.2 L1227.6,1594 L1228.2,1593.8 L1228.8,1593.5 L1229.4,1593.3 L1230,1593 L1230.6,1592.8 L1231.2,1592.5 L1231.8,1592.3 L1232.4,1592 L1233,1591.7 L1233.6,1591.4 L1234.2,1591.2 L1234.8,1590.9 L1235.4,1590.6 L1236,1590.3 L1236.6,1590 L1237.2,1589.6 L1237.8,1589.3 L1238.4,1589 L1239,1588.7 L1239.6,1588.4 L1240.2,1588 L1240.8,1587.7 L1241.4,1587.3 L1242,1587 L1242.6,1586.7 L1243.2,1586.3 L1243.8,1586 L1244.4,1585.6 L1245,1585.3 L1245.6,1584.9 L1246.2,1584.6 L1246.8,1584.2 L1247.4,1583.9 L1248,1583.5 L1248.6,1583.2 L1249.2,1582.8 L1249.8,1582.5 L1250.4,1582.1 L1251,1581.8 L1251.6,1581.4 L1252.2,1581.1 L1252.8,1580.8 L1253.4,1580.5 L1254,1580.1 L1254.6,1579.8 L1255.2,1579.5 L1255.8,1579.2 L1256.4,1578.9 L1257,1578.6 L1257.6,1578.3 L1258.2,1578.1 L1258.8,1577.8 L1259.4,1577.5 L1260,1577.3 L1260.6,1577 L1261.2,1576.8 L1261.8,1576.6 L1262.4,1576.3 L1263,1576.1 L1263.6,1575.9 L1264.2,1575.7 L1264.8,1575.5 L1265.4,1575.4 L1266,1575.2 L1266.6,1575 L1267.2,1574.9 L1267.8,1574.7 L1268.4,1574.6 L1269,1574.5 L1269.6,1574.4 L1270.2,1574.2 L1270.8,1574.1 L1271.4,1574.1 L1272,1574 L1272.6,1573.9 L1273.2,1573.8 L1273.8,1573.7 L1274.4,1573.7 L1275,1573.6 L1275.6,1573.6 L1276.2,1573.5 L1276.8,1573.5 L1277.4,1573.4 L1278,1573.4 L1278.6,1573.4 L1279.2,1573.4 L1279.8,1573.4 L1280.4,1573.4 L1281,1573.4 L1281.6,1573.4 L1282.2,1573.4 L1282.8,1573.5 L1283.4,1573.5 L1284,1573.6 L1284.6,1573.7 L1285.2,1573.7 L1285.8,1573.8 L1286.4,1573.9 L1287,1574 L1287.6,1574.1 L1288.2,1574.2 L1288.8,1574.4 L1289.4,1574.5 L1290,1574.6 L1290.6,1574.8 L1291.2,1575 L1291.8,1575.1 L1292.4,1575.3 L1293,1575.5 L1293.6,1575.7 L1294.2,1575.8 L1294.8,1576 L1295.4,1576.2 L1296,1576.4 L1296.6,1576.7 L1297.2,1576.9 L1297.8,1577.1 L1298.4,1577.3 L1299,1577.5 L1299.6,1577.8 L1300.2,1578 L1300.8,1578.2 L1301.4,1578.5 L1302,1578.7 L1302.6,1578.9 L1303.2,1579.2 L1303.8,1579.4 L1304.4,1579.6 L1305,1579.9 L1305.6,1580.1 L1306.2,1580.3 L1306.8,1580.6 L1307.4,1580.8 L1308,1581 L1308.6,1581.2 L1309.2,1581.5 L1309.8,1581.7 L1310.4,1581.9 L1311,1582.1 L1311.6,1582.3 L1312.2,1582.5 L1312.8,1582.7 L1313.4,1582.9 L1314,1583.1 L1314.6,1583.2 L1315.2,1583.4 L1315.8,1583.6 L1316.4,1583.7 L1317,1583.9 L1317.6,1584 L1318.2,1584.2 L1318.8,1584.3 L1319.4,1584.5 L1320,1584.6 L1320.6,1584.7 L1321.2,1584.8 L1321.8,1584.9 L1322.4,1585 L1323,1585.1 L1323.6,1585.2 L1324.2,1585.3 L1324.8,1585.4 L1325.4,1585.5 L1326,1585.6 L1326.6,1585.6 L1327.2,1585.7 L1327.8,1585.7 L1328.4,1585.8 L1329,1585.8 L1329.6,1585.9 L1330.2,1585.9" fill="none" stroke="#e0222a" stroke-width="1.7" stroke-linejoin="round" stroke-linecap="round" stroke-dasharray="6.3,5.7" stroke-linecap="butt"/>
<line x1="1228.5" y1="1237.4" x2="1272" y2="1237.4" stroke="#d0d0d0" stroke-width="2.2" />
<text x="1277.4" y="1244" font-family="'Liberation Serif', serif" font-size="18.9" fill="#111" text-anchor="start" >Raw Line</text>
<line x1="1228.5" y1="1262" x2="1272" y2="1262" stroke="#22f21e" stroke-width="2.6" />
<text x="1277.4" y="1268.6" font-family="'Liberation Serif', serif" font-size="18.9" fill="#111" text-anchor="start" >Baseline</text>
<line x1="1228.5" y1="1286.7" x2="1272" y2="1286.7" stroke="#f01024" stroke-width="2.6" />
<text x="1277.4" y="1293.3" font-family="'Liberation Serif', serif" font-size="18.9" fill="#111" text-anchor="start" >Fitting Line</text>
<line x1="1228.5" y1="1310.4" x2="1272" y2="1310.4" stroke="#f01024" stroke-width="1.6" stroke-dasharray="7.2,5"/>
<text x="1277.4" y="1317" font-family="'Liberation Serif', serif" font-size="18.9" fill="#111" text-anchor="start" >Adding Peak</text>
<text x="977.6" y="1248.1" font-family="'Liberation Serif', serif" fill="#111" text-anchor="start"><tspan font-size="23.8" dy="0">Ti2p</tspan><tspan font-size="16" dy="6.3">3/2</tspan></text>
<text x="1088.7" y="1490.6" font-family="'Liberation Serif', serif" fill="#111" text-anchor="start"><tspan font-size="23.8" dy="0">Ti2p</tspan><tspan font-size="16" dy="6.3">1/2</tspan></text>
<text x="1235.1" y="1549.1" font-family="'Liberation Serif', serif" font-size="23.8" fill="#111" text-anchor="start" >Statellite</text>
<text x="1117" y="1690.3" font-family="'Liberation Serif', serif" fill="#111" text-anchor="start"><tspan font-size="23.8" dy="0">TiO</tspan><tspan font-size="16" dy="6.3">2</tspan></text>
<line x1="1104.2" y1="1657.7" x2="1019.74" y2="1615.56" stroke="#111" stroke-width="1.5"/>
<path d="M1009,1610.2 L1023.31,1612.87 L1019.74,1620.03 Z" fill="#111"/>
<line x1="1132.4" y1="1654.8" x2="1120.53" y2="1581.74" stroke="#111" stroke-width="1.5"/>
<path d="M1118.6,1569.9 L1124.79,1583.08 L1116.9,1584.36 Z" fill="#111"/>
<line x1="1169.3" y1="1650.2" x2="1251.11" y2="1593.9" stroke="#111" stroke-width="1.5"/>
<path d="M1261,1587.1 L1251.73,1598.33 L1247.2,1591.74 Z" fill="#111"/>
</svg>
</body></html>
